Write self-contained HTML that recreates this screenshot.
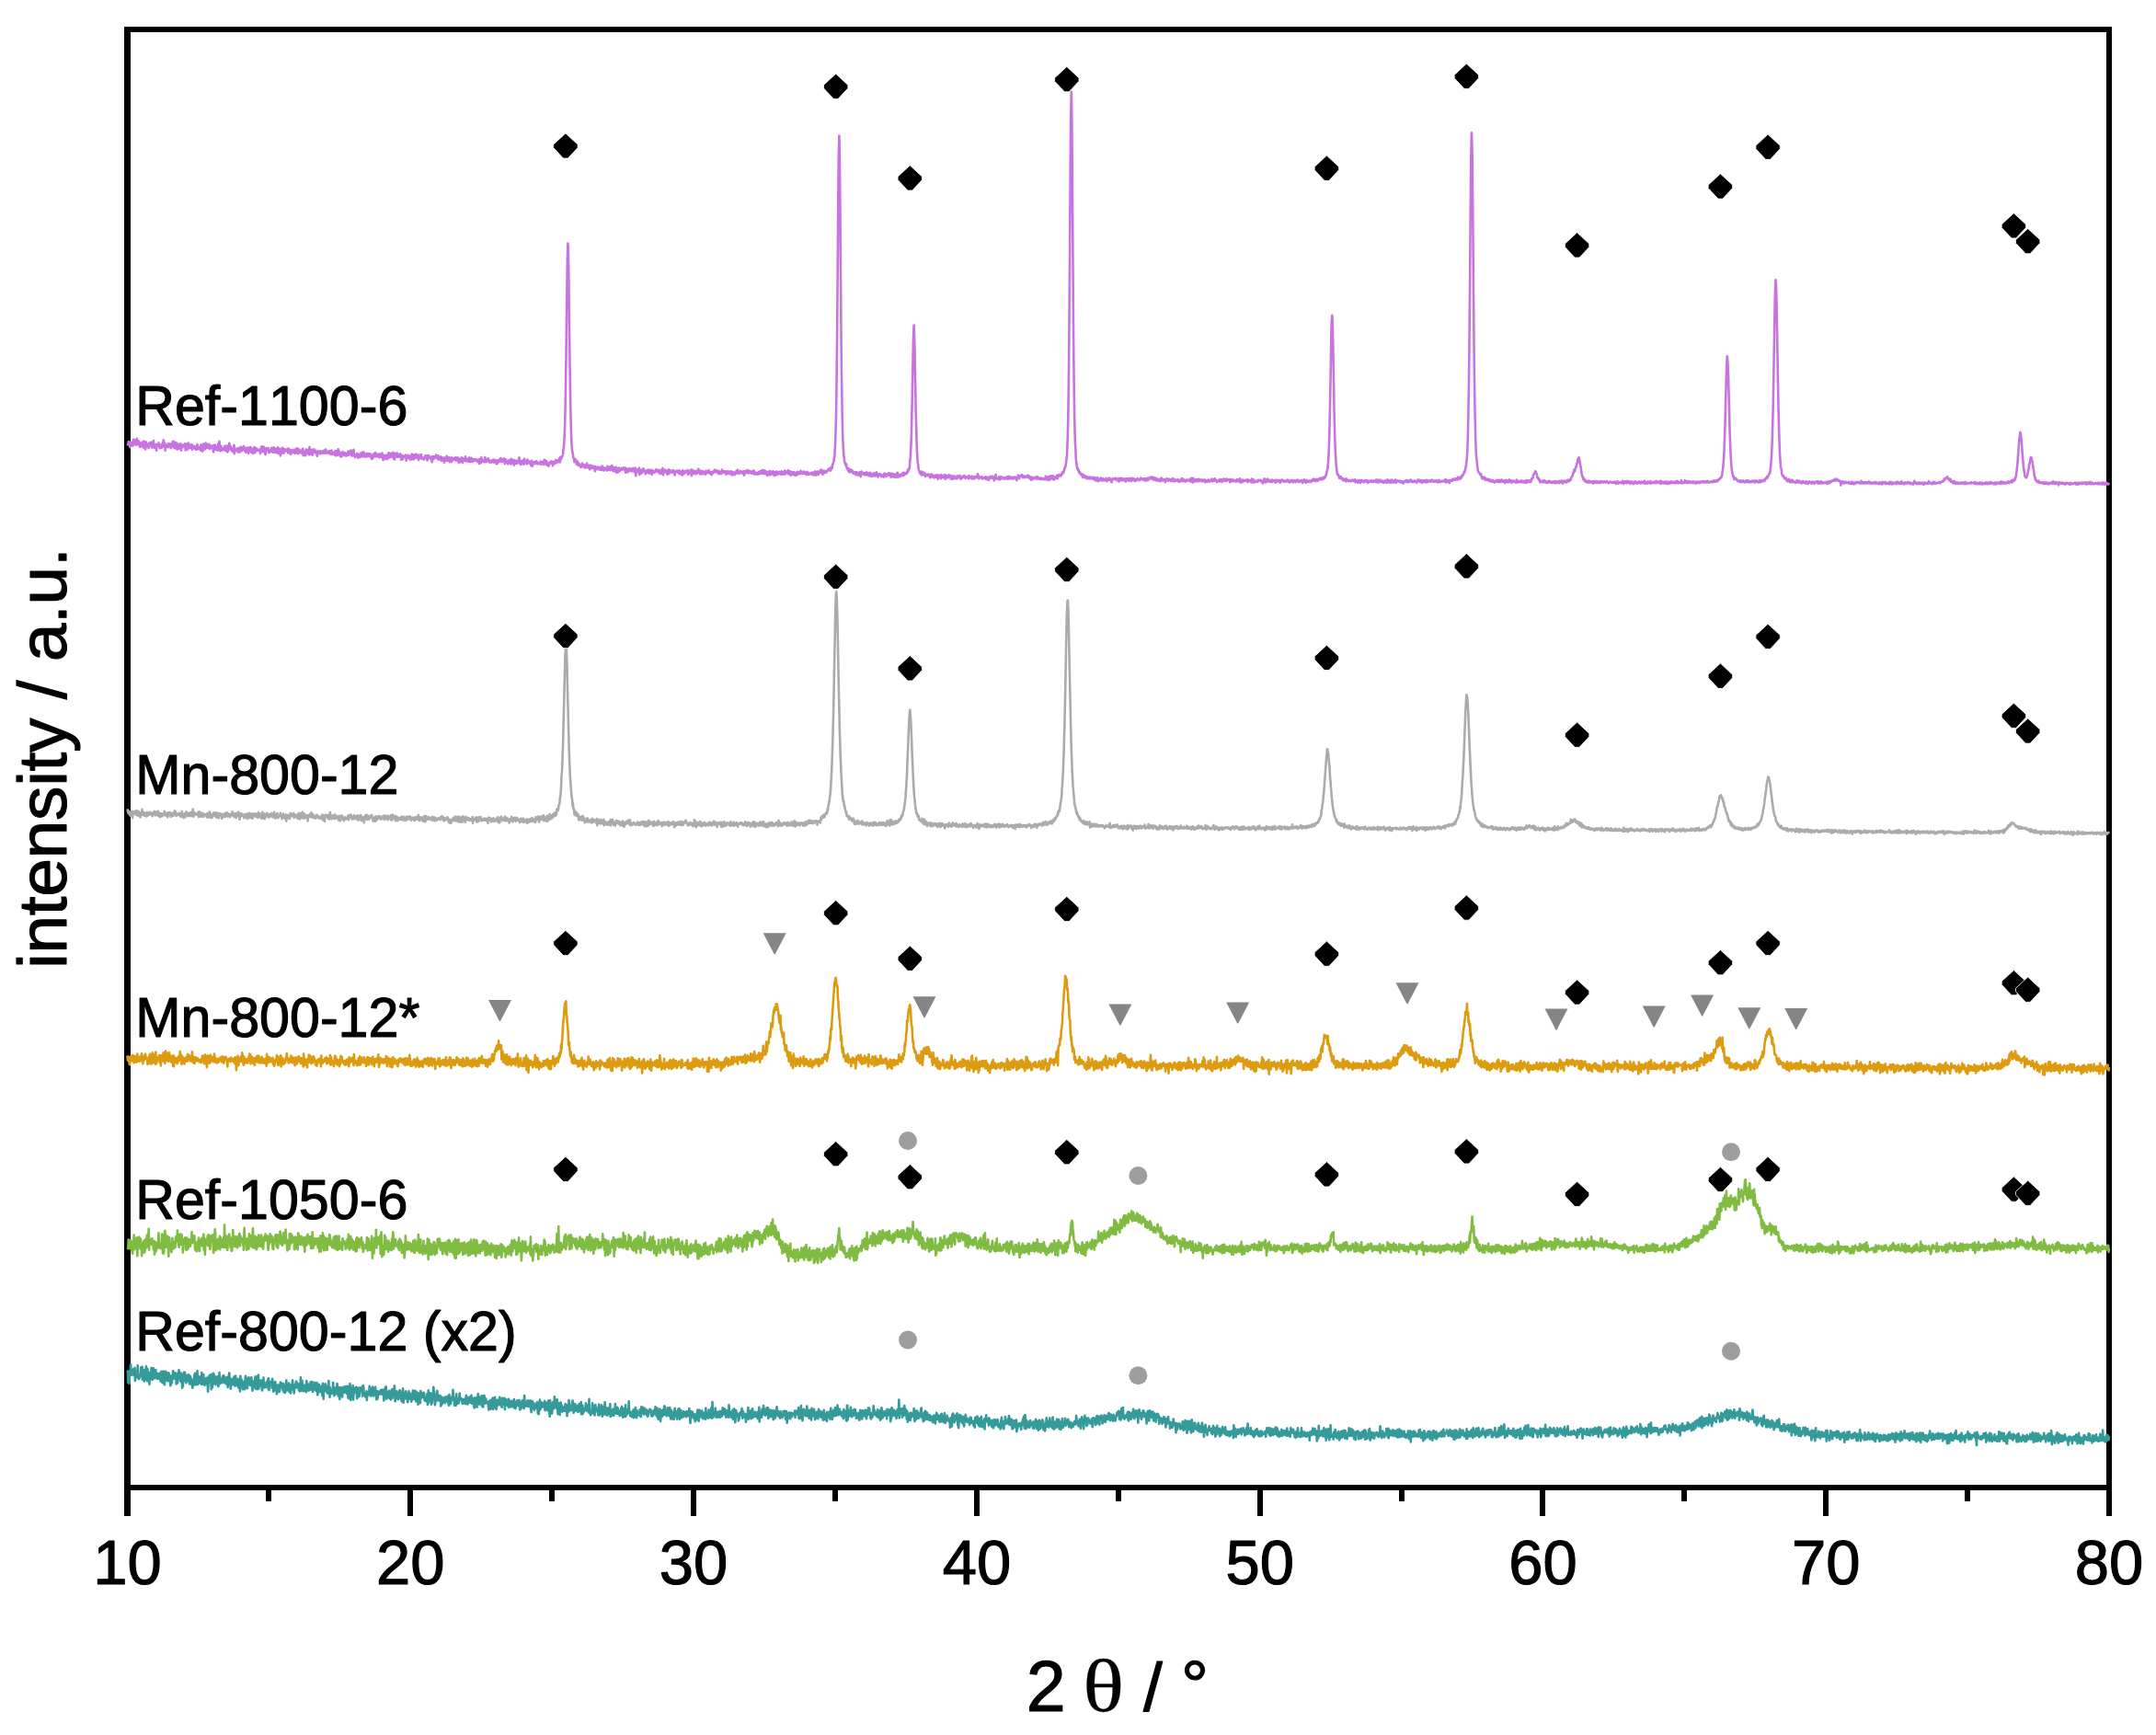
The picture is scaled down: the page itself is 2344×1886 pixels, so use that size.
<!DOCTYPE html>
<html lang="en"><head><meta charset="utf-8"><title>XRD patterns</title>
<style>
html,body{margin:0;padding:0;background:#fff;}
body{width:2344px;height:1886px;overflow:hidden;}
svg{display:block;}
text{font-family:"Liberation Sans",sans-serif;fill:#000;font-kerning:none;stroke:#000;stroke-width:1.1px;stroke-linejoin:round;}
.c{fill:none;stroke-width:2.6;stroke-linejoin:round;}
.ser{font-size:59.2px;}
.tk{font-size:67px;text-anchor:middle;}
.ax{font-size:75px;}
</style></head>
<body>
<svg width="2344" height="1886" viewBox="0 0 2344 1886">
<rect width="2344" height="1886" fill="#fff"/>
<defs>
<path id="d" d="M0,-13.7 L13.2,-1.5 L13.2,2 L2.5,13.5 L-2.5,13.5 L-13.2,2 L-13.2,-1.5 Z" fill="#000" stroke="#fff" stroke-width="0.8"/>
<path id="t" d="M-12.5,0 H12.5 L0.5,23 H-0.5 Z" fill="#858585"/>
<circle id="o" r="10" fill="#9e9e9e"/>
</defs>
<g fill="#000">
<rect x="135" y="29" width="2161" height="6"/>
<rect x="135" y="1614" width="2161" height="6"/>
<rect x="135" y="29" width="7" height="1591"/>
<rect x="2290" y="29" width="6" height="1591"/>
<rect x="135" y="1617" width="7" height="31"/><rect x="443" y="1617" width="6" height="31"/><rect x="751" y="1617" width="6" height="31"/><rect x="1059" y="1617" width="6" height="31"/><rect x="1367" y="1617" width="6" height="31"/><rect x="1674" y="1617" width="6" height="31"/><rect x="1982" y="1617" width="6" height="31"/><rect x="2290" y="1617" width="6" height="31"/>
<rect x="289" y="1617" width="6" height="15"/><rect x="597" y="1617" width="6" height="15"/><rect x="905" y="1617" width="6" height="15"/><rect x="1213" y="1617" width="6" height="15"/><rect x="1521" y="1617" width="6" height="15"/><rect x="1828" y="1617" width="6" height="15"/><rect x="2136" y="1617" width="6" height="15"/>
</g>
<g>
<path class="c" stroke="#c773e0" d="M138.5,482.7l.4,.7 .4-1.4 .4-1.6 .4,1.1 .4-1.3 .4,2.7 .4,3.2 .4-4.6 .4-.3 .4,2.8 .4-.3 .4-.6 .4-2.6 .4,2.3 .4,1.8 .4-6.8 .4,4 .4-3.7 .4,1.6 .4-1.4 .4,4.1 .4-2.6 .4,3.9 .4-.3 .4-.8 .4-5.9 .4,5 .4,1.3 .4,.4 .4-4.1 .4,2.7 .4-1.3 .4,.5 .4,4.7 .4-4.7 .4,2 .4,2.3 .4-3.7 .4,1.2 .4,.6 .4-.1 .4-3.2 .4,3.3 .4,3.2 .4-7.2 .4,6 .4-1.8 .4-1.9 .4,6.6 .4-3.1 .4-4.8 .4,3.1 .4,1.3 .4-1.9 .4,2.2 .4-1.8 .4,1.8 .4,1.9 .4-5.2 .4,2.2 .4-1.6 .4,1.4 .4-3.2 .4,1.5 .4,1 .4,2.7 .4,.6 .4-6 .4,1.3 .4,3.6 .4-6.5 .4,3.8 .4,.9 .4,3.3 .4-1.3 .4-2.5 .4-.1 .4,.3 .4,6.2 .4-6.6 .4,.3 .4,1.7 .4-1.2 .4-.1 .4-2.3 .4,2.7 .4-1 .4,4 .4-1.3 .4-1.6 .4,1.7 .4-2.4 .4,3.4 .4-2.6 .4,1.5 .4-4.6 .4,4 .4-6.9 .4,1.2 .4,4.2 .4-1.4 .4,2.6 .4,5 .4-7.4 .4,.5 .4,2 .4,.7 .4-1.6 .4,0 .4,2.2 .4-.4 .4-3.7 .4,2.3 .4,.3 .4-2.6 .4,3.1 .4-2.6 .4,4.4 .4-1.9 .4-.2 .4-2.3 .4,1.8 .4-4.4 .4,2.1 .4,3.6 .4-6 .4,7.1 .4-6.1 .4,6 .4-3.8 .4,3.9 .4-1.6 .4-3.9 .4,6.6 .4,.5 .4-3.6 .4-.4 .4,.1 .4-1.8 .4,5 .4-3.9 .4,1.2 .4-1.8 .4,.5 .4-1.6 .4,7.5 .4-4.8 .4,2.7 .4-2.2 .4-1.7 .4,.9 .4-.5 .4,1.3 .4-.9 .4,.2 .4-2.5 .4,1.4 .4,5.8 .4-5.5 .4-.8 .4,3.2 .4,2.6 .4-6.7 .4,2.9 .4-1 .4-2.6 .4,5.9 .4-1.8 .4,.3 .4-1.9 .4,2.8 .4-2.3 .4,.9 .4-2.2 .4-.2 .4,5.9 .4-4.2 .4,1.8 .4-.7 .4-.9 .4-.2 .4,2.7 .4-2.2 .4,.4 .4,.4 .4,2.7 .4-1.1 .4-.7 .4-2.1 .4-1.9 .4,5.4 .4,0 .4-2.5 .4,1.6 .4,.6 .4,.1 .4,.2 .4-3.1 .4,4.5 .4-6.3 .4,4.9 .4-.9 .4,.9 .4,2.3 .4-.8 .4-6.1 .4-1.2 .4,5.8 .4-4.2 .4,2.3 .4,2 .4-5.7 .4-1 .4,5.4 .4-.5 .4-.6 .4,.7 .4-2.1 .4-1.4 .4,3 .4-1.8 .4-1.5 .4,4.9 .4-1.2 .4,1 .4-3.1 .4,0 .4,0 .4,.3 .4,2.5 .4-2.2 .4,2.5 .4,0 .4,3.8 .4-7.6 .4,5.1 .4-2.2 .4,.2 .4-3.2 .4,2.3 .4,2.7 .4-1.9 .4,.4 .4-.8 .4,3.3 .4-2.6 .4-4.9 .4,3.4 .4-2.8 .4-2.9 .4,6.1 .4,4.2 .4-2.9 .4-2.7 .4,.6 .4,4.6 .4-2.1 .4-.3 .4-.2 .4,.2 .4,1.8 .4-.6 .4-.7 .4-2.8 .4,3.5 .4-2.6 .4,3.9 .4-5.2 .4,2.5 .4,.3 .4-2.9 .4,6.8 .4-.6 .4-4.2 .4,2.7 .4-.8 .4-6.6 .4,6.3 .4-.6 .4,.3 .4-2.5 .4,1.8 .4,.2 .4,3 .4-1.9 .4-.7 .4,3.4 .4-4.5 .4,.3 .4-3.1 .4,9.2 .4-3.1 .4,0 .4-.6 .4-1.2 .4,.3 .4-1 .4,.1 .4,.6 .4,3.2 .4-2.1 .4-1.3 .4-1.1 .4-.1 .4,4.9 .4-2.4 .4-.9 .4-.9 .4-1.6 .4,2.2 .4,2.1 .4-2.7 .4,.3 .4,.1 .4,.7 .4-3.6 .4,2.9 .4-1.3 .4,3.7 .4-3.5 .4,2.9 .4,2.1 .4-4 .4-.6 .4,1.8 .4-.4 .4-2.1 .4,3.1 .4,3.3 .4-4.8 .4-.1 .4-1.5 .4,2.9 .4-3.3 .4,.3 .4,5.1 .4-4.7 .4,4.3 .4,.9 .4-2.6 .4,.6 .4,3 .4-4.5 .4-.9 .4-1.5 .4,2.9 .4,3.1 .4-1.1 .4-4 .4,.2 .4,.8 .4,1.7 .4-1.1 .4,.9 .4,.2 .4-1.2 .4,.6 .4,.5 .4-.6 .4,1.2 .4,2.9 .4-2.6 .4-1.1 .4-3.7 .4,4.4 .4-4.9 .4,1.2 .4,4.7 .4-.3 .4-1.7 .4-3.3 .4,2.8 .4-.6 .4,2.8 .4,3.4 .4-4.3 .4-2 .4-.8 .4,2.3 .4-.2 .4-2 .4,2.6 .4-2.6 .4,4.7 .4-.1 .4,.1 .4-3.2 .4,2.1 .4-1.3 .4-.6 .4,.2 .4-2 .4-.3 .4,4.6 .4-2 .4,.9 .4,1.6 .4-5.6 .4,2 .4,2 .4,.4 .4-1.5 .4,2.9 .4-1.7 .4-2.9 .4,.6 .4,3.6 .4-.7 .4-4.8 .4,6.7 .4-.9 .4,.9 .4-3.9 .4,.6 .4-1.7 .4,7.5 .4-5.5 .4,3.6 .4-4.5 .4,1.6 .4-3.7 .4,2.7 .4,2.7 .4-4.5 .4,4.8 .4-1.5 .4-2.8 .4,1.1 .4,.1 .4,.9 .4-1 .4-.5 .4,1 .4-1.4 .4-.5 .4,2.5 .4,1.9 .4-4.8 .4,3.1 .4-2 .4,0 .4,3.7 .4-2.7 .4,4.1 .4-4.6 .4,2.4 .4-1.5 .4-.8 .4,2.7 .4-1.5 .4,1.6 .4-1.3 .4-2.1 .4,2 .4,.4 .4,1.8 .4-3.7 .4,1.7 .4-3.3 .4,4.7 .4-3.4 .4-1.4 .4,3.5 .4,2.3 .4-5.2 .4,.9 .4,.7 .4-.8 .4,3.1 .4-2.4 .4,.2 .4,2.6 .4-2.6 .4,2.4 .4-2.8 .4-.5 .4-1.2 .4,7.4 .4-4.3 .4,1.1 .4-.5 .4,.4 .4-.2 .4,3.7 .4-5.8 .4-1 .4,1 .4-.6 .4,4.2 .4,.1 .4-3.5 .4-.8 .4,2.1 .4,3.4 .4-8.3 .4,6.6 .4-3.1 .4,4.2 .4-4.1 .4,1.5 .4-2.4 .4,1.1 .4,4.7 .4-1.1 .4-2.4 .4-.9 .4-2 .4,3 .4,.7 .4-.1 .4,0 .4-2 .4,2.1 .4,.1 .4,2.6 .4,1.1 .4-3.9 .4-1.2 .4,1.4 .4-1 .4-.3 .4,1.4 .4-1.9 .4,3.2 .4-1.3 .4,.7 .4-.9 .4-1 .4-.4 .4,1.4 .4-.6 .4,1.5 .4-.4 .4-2.6 .4,2.8 .4-2.7 .4,1.4 .4,.6 .4-3.4 .4,4.2 .4,.1 .4-.5 .4-.5 .4,.1 .4-1.2 .4,1.4 .4-.5 .4,1.3 .4-2.5 .4,2.8 .4-.2 .4-.5 .4-.6 .4,2 .4-4.3 .4,4.1 .4-.4 .4,.1 .4,.6 .4-2.3 .4,.7 .4,1.8 .4-.4 .4-.4 .4-3.3 .4,3.9 .4,1.3 .4-.3 .4-1.5 .4-3.4 .4,4.8 .4-2.1 .4-4.5 .4,5.6 .4-3.6 .4,.4 .4,1.3 .4,3.7 .4-3.1 .4,1.2 .4,2.8 .4-.3 .4-3.2 .4-.2 .4-1.9 .4,1.1 .4,2.1 .4,0 .4-.5 .4,1.6 .4-3.3 .4,1.4 .4,1.5 .4-.3 .4,1 .4-1.3 .4-1.3 .4,1.3 .4-2.6 .4-1.1 .4,4.2 .4-1.2 .4,.7 .4-3.8 .4,2.6 .4-.5 .4-.4 .4-2.6 .4,3.6 .4,2.3 .4-.9 .4-1.9 .4,1.2 .4,1.4 .4-6.5 .4,4.8 .4,1.4 .4,.3 .4,1.9 .4-1.1 .4-1.5 .4,0 .4,.9 .4-2.4 .4,.9 .4,1.8 .4,2 .4-3.9 .4,.2 .4,.5 .4,2.1 .4-2.5 .4,2.8 .4-4.5 .4,1.5 .4,0 .4,1.8 .4,.5 .4-4.7 .4,1.1 .4,2.3 .4-1.8 .4-1.6 .4,4.8 .4-.5 .4-.5 .4-1.7 .4,2.7 .4-2.3 .4,2.5 .4-3.7 .4,.1 .4,2 .4-1.6 .4,2.5 .4-.7 .4-2.2 .4,1.9 .4-.8 .4,2.4 .4-2.9 .4,.4 .4,3 .4,1.9 .4-.4 .4-3.5 .4,.3 .4,2.4 .4-3 .4-1.5 .4,2 .4,.6 .4-2.3 .4-1.5 .4,.4 .4,3.9 .4-2.6 .4,1.1 .4,.7 .4,.8 .4-1.7 .4,1.5 .4-2.5 .4,1 .4-1.2 .4,3.9 .4-2.1 .4-1.2 .4,.7 .4,.2 .4,1.7 .4-4.1 .4,1 .4,1.2 .4,5.3 .4-2.8 .4-1.9 .4,1.5 .4,2.4 .4-4.1 .4-.2 .4,2.8 .4-1.2 .4,.3 .4-2.1 .4,4.4 .4-.4 .4-2 .4,.2 .4-4.8 .4,5.3 .4-2 .4,1.1 .4,.5 .4-1.8 .4-2.4 .4,3.7 .4-2 .4,.8 .4-.5 .4,.5 .4-3.5 .4,6.3 .4-1.7 .4,1.6 .4,1.5 .4-3.4 .4-3.3 .4,1.7 .4-.6 .4,1.3 .4,1.1 .4-3.7 .4,4.2 .4-3.3 .4,3.2 .4-.7 .4-.3 .4,.4 .4-.8 .4-.1 .4-1.9 .4,3 .4,3.3 .4,.3 .4-1.2 .4-1.1 .4-2.4 .4,3.8 .4-2.7 .4,0 .4-.3 .4,.7 .4-.9 .4,.6 .4-1.8 .4,1.3 .4,4.7 .4-4.1 .4-.3 .4,1.4 .4,.3 .4-3.2 .4,1.6 .4,2 .4-1.1 .4-.2 .4,2.5 .4-3.9 .4,1.4 .4-1.1 .4,3.6 .4-6 .4,2.2 .4,.3 .4,2.1 .4-.1 .4,1.4 .4-5.2 .4,4.1 .4-1.8 .4-.6 .4,2.1 .4-2.5 .4-2 .4,3 .4-2 .4,1.5 .4,1.8 .4-.1 .4,2.3 .4-3.1 .4-2.3 .4,1.4 .4-.3 .4-.5 .4,2.9 .4-1.9 .4-2.2 .4,4.6 .4-1.5 .4,.9 .4-.4 .4,.9 .4-.9 .4,2 .4-1.4 .4,0 .4,.1 .4-3.2 .4,2.2 .4-.1 .4,.8 .4-2.7 .4,5.2 .4-2.6 .4-2.3 .4-.8 .4,2.5 .4,.3 .4-1 .4,1.4 .4-1.3 .4,2.1 .4-2.2 .4,1.2 .4,1.8 .4,2.7 .4-6.1 .4,1 .4-.7 .4,2.8 .4-3.2 .4,1.1 .4,.8 .4-1.6 .4,.1 .4,.8 .4-2.7 .4,1.1 .4,1.8 .4,.9 .4-.5 .4-2.7 .4,2.3 .4,2.1 .4-.4 .4-1 .4-1.4 .4,2.6 .4-2 .4-1 .4,.6 .4,3.8 .4-2 .4,1.6 .4-2.7 .4,2.4 .4-2.6 .4,.8 .4,4.4 .4-2.9 .4-2.1 .4,.8 .4,.7 .4,1.5 .4-2.9 .4-2 .4,2.4 .4,.5 .4,.2 .4,2 .4-1.6 .4,.8 .4-3.1 .4,4 .4,1.3 .4-2.1 .4-.9 .4-.1 .4,2.7 .4-4.5 .4,1.4 .4,.9 .4,.5 .4-1.9 .4,1.2 .4-.9 .4,.7 .4-.4 .4-1.7 .4,1.9 .4,1.5 .4-3 .4,1.2 .4,1.5 .4-2.8 .4,2 .4-2 .4,3.6 .4,2 .4-.5 .4-3.6 .4,1.6 .4-1 .4,0 .4,2.4 .4-4.7 .4,3.9 .4-1.8 .4,3.5 .4-3.1 .4-1.4 .4,1.6 .4,.8 .4-1.2 .4,.8 .4-1.6 .4-2.6 .4,4.9 .4-.3 .4-.9 .4-.1 .4,1.6 .4-2.4 .4-.4 .4,.9 .4,2.2 .4-4.1 .4,4.2 .4-3 .4-.7 .4,3.8 .4-2.1 .4-2 .4,1.6 .4,2.1 .4,.4 .4-2.6 .4,1.4 .4,.5 .4-2.2 .4,1.7 .4-.6 .4-.8 .4,.1 .4,.9 .4-.1 .4-.9 .4,.2 .4,2.5 .4-1.4 .4,1.1 .4,.5 .4-.9 .4,2.7 .4-5 .4,2.7 .4-1.8 .4,3.5 .4-.3 .4-5.8 .4,.8 .4,3.4 .4,.3 .4-.1 .4-1.3 .4,.9 .4,.3 .4-1.1 .4,1.8 .4-5.3 .4,4.7 .4-2.7 .4,3.2 .4-1.9 .4-1 .4,2 .4-2 .4,0 .4-1 .4,2.5 .4,.8 .4,.9 .4-1.8 .4,1.9 .4-1.7 .4-.1 .4,1.1 .4,.7 .4-2.1 .4,.1 .4,.2 .4,.4 .4-1.6 .4,3.1 .4-2.2 .4,1.3 .4-2 .4,1.9 .4,.1 .4-1.3 .4,3.9 .4-2.6 .4,2.2 .4-1.2 .4-2.5 .4,.4 .4,1.3 .4-.6 .4,0 .4-.5 .4-2.3 .4,2.5 .4-3.1 .4,4 .4-1.7 .4,.1 .4,.8 .4,.7 .4-2.6 .4-.4 .4,1 .4-1.5 .4,1.7 .4,4 .4-4.1 .4,2.7 .4-3.1 .4,2.6 .4-1 .4,.5 .4,.9 .4,1.9 .4-2.4 .4-.1 .4-1.7 .4,2.4 .4-1.2 .4,1.7 .4-1.4 .4,2.8 .4-5.7 .4,2.6 .4,1.8 .4-1.8 .4-.7 .4,.8 .4-1.7 .4,2.3 .4,3.6 .4-2 .4-3.4 .4,.4 .4,.7 .4,2.2 .4-2.8 .4,.3 .4,2.4 .4,0 .4-1.9 .4-1.1 .4-.7 .4,1.3 .4-3.9 .4,6.2 .4-2.1 .4,1.7 .4,2.1 .4-1 .4-3.5 .4,3.1 .4,.4 .4-2.8 .4-.3 .4,1.2 .4-2.2 .4,4.7 .4-5.9 .4,2 .4,1.3 .4,.1 .4,.6 .4,.2 .4-.8 .4,2.1 .4-4.9 .4,3.2 .4-1 .4,1.2 .4,.2 .4-1.7 .4,.4 .4,2.2 .4-.7 .4-1.5 .4,4.1 .4,.4 .4-5.6 .4,2.6 .4,3.3 .4-2.5 .4-.8 .4-.7 .4-.4 .4,.5 .4-.5 .4,1.9 .4-1.7 .4,0 .4-1.1 .4,1.7 .4-1.3 .4,1.1 .4,1.8 .4-1 .4,.2 .4-.2 .4-.4 .4-.3 .4-.2 .4,1.6 .4-2.7 .4,3.5 .4-1.9 .4-1.1 .4,.4 .4-.3 .4,1.2 .4-1.2 .4,2.7 .4-2.8 .4-2.2 .4,2.2 .4-1.8 .4,2.9 .4,1.6 .4-.6 .4-2.9 .4,.8 .4,3.7 .4-2.1 .4-.5 .4,1.5 .4,2 .4-1.7 .4-1.7 .4,.3 .4,.4 .4-2.2 .4-.3 .4,1.6 .4-1.4 .4,1.2 .4,.2 .4,3.2 .4-4.6 .4,1 .4-.1 .4,.8 .4,.8 .4-2.3 .4-.5 .4-1.3 .4,.9 .4,2.1 .4-.9 .4-1.6 .4,.8 .4,.4 .4,.5 .4-1.8 .4,.3 .4-2.5 .4,.6 .4,3.6 .4-5.8 .4,2.2 .4,.2 .4-1.5 .4-1.4 .4,.1 .4-1.2 .4-1.8 .4-5 .4-1 .4-6.2 .4-7.3 .4-10.1 .4-15 .4-20.5 .4-28 .4-28.6 .4-32.8 .4-32.1 .4-25.5 .5-16.6 .3,3.5 .4,19.6 .4,25.3 .4,35.3 .4,31.6 .4,29.7 .4,22.6 .4,20.4 .4,15.4 .4,11.4 .4,7.1 .4,3.1 .4,3 .4,1.3 .4,3.4 .4,.3 .4,2.2 .4,2.5 .4-1.9 .4-1.5 .4,1.5 .4-.4 .4,.8 .4,3.9 .4-1.2 .4-2.2 .4,3.4 .4,1.1 .4-2.1 .4-.2 .4,.7 .4,1 .4,.7 .4,.9 .4,1.1 .4-.8 .4,.4 .4-.9 .4-3 .4,2.1 .4,.8 .4-.9 .4,1.9 .4-1.7 .4-.7 .4,3.4 .4-1 .4-.5 .4,1.1 .4,.2 .4-.9 .4-3.9 .4,2.6 .4,.3 .4-.6 .4,1.7 .4,1.5 .4-2.4 .4-.8 .4,4.5 .4-3.4 .4-1.1 .4,2.1 .4,.4 .4-1.6 .4,2.2 .4-1.8 .4-.6 .4,1.6 .4,.9 .4-1.9 .4,1.4 .4-.6 .4,4.2 .4-5 .4,3 .4-2 .4,0 .4,1.2 .4,.3 .4,.6 .4-1.3 .4-1.3 .4,.1 .4,1.5 .4,.2 .4,1.2 .4-1.4 .4,1 .4,.6 .4-1.8 .4-2.3 .4,.5 .4-.4 .4,4.3 .4-3.4 .4,3 .4-.9 .4,1.6 .4-.9 .4-1.6 .4-.1 .4,.5 .4,.1 .4-.9 .4,.7 .4,2.4 .4-4.7 .4,2.8 .4-1.6 .4,1.6 .4,.9 .4-1.2 .4,1.2 .4-3.3 .4,3.8 .4-2.3 .4,1.7 .4-.6 .4-3.8 .4,2.1 .4,1.9 .4,1.9 .4-1.7 .4-.1 .4-2.2 .4,3.9 .4,.6 .4-2.4 .4-.4 .4-1.9 .4,3.5 .4,2.6 .4-2.7 .4,.8 .4-1 .4-2.1 .4,4.2 .4-4.5 .4,1.5 .4,.7 .4,.9 .4-.7 .4,0 .4-1.5 .4-.7 .4,1.9 .4-1.1 .4-.8 .4,.1 .4,1.1 .4-1.8 .4,.7 .4-.4 .4,2.6 .4,.3 .4,2.3 .4-4.8 .4,1.1 .4,2.3 .4-1.6 .4-.1 .4,2.9 .4-2.9 .4-1.1 .4-.1 .4,2.3 .4,0 .4-2.3 .4,.5 .4,2.2 .4,.1 .4-1.7 .4,1.8 .4-.1 .4-3.2 .4,2.1 .4,1 .4-1.3 .4-2.1 .4,2.6 .4,1.4 .4,1.2 .4-5.2 .4,8.5 .4-7 .4,2.9 .4,.5 .4-.4 .4-1.1 .4-1.8 .4,2.5 .4-1.8 .4-2.4 .4,7.4 .4-2.9 .4,1.5 .4-3.7 .4,3.3 .4,.2 .4,0 .4-2.2 .4-1.6 .4,1.5 .4-2.8 .4,.7 .4,2.5 .4-1.5 .4,1.2 .4,.1 .4,2.8 .4-.9 .4-1.8 .4,1.7 .4-2.7 .4,.6 .4,1.7 .4-2.9 .4,1.3 .4-1.4 .4,2 .4,2 .4-3.7 .4,1.8 .4-1.5 .4-.3 .4-.2 .4,3.7 .4,1.3 .4-2.6 .4-1.6 .4,1.9 .4-1.4 .4,1.6 .4-.7 .4,0 .4,.4 .4-1.6 .4,.2 .4-1.7 .4,1.7 .4-1.3 .4,1.7 .4-1.1 .4,1.5 .4,.5 .4-2.6 .4,.8 .4-.1 .4,2.3 .4,1.3 .4-1.2 .4-1.6 .4,2.5 .4-4.1 .4,4.1 .4-2.9 .4-2.9 .4,7.4 .4-1.5 .4-3.5 .4,1.6 .4-.5 .4,.5 .4-2.2 .4,1.1 .4,1.6 .4-.3 .4,1.3 .4-1.5 .4,3 .4-4.1 .4,1.3 .4-2.9 .4,.9 .4,3.5 .4-3.1 .4,2 .4-.8 .4-1.3 .4,.9 .4-.2 .4,.1 .4,1.6 .4-.1 .4-1.6 .4-1.1 .4,2.2 .4-.5 .4,1.5 .4,2.2 .4-2.4 .4-1.2 .4-.1 .4-1 .4,0 .4-.1 .4,.8 .4-.1 .4,1.6 .4-1.5 .4,.3 .4-1.4 .4,3.8 .4-1.5 .4,1.7 .4-1.3 .4,1 .4-2.4 .4,1.3 .4,2.7 .4-5.3 .4,3.3 .4,.7 .4-1.7 .4,.4 .4,.7 .4-2.6 .4,1.5 .4-1.8 .4,.3 .4,.1 .4,.6 .4,.4 .4,.5 .4-2.6 .4,4.7 .4-1.2 .4-.5 .4-1.5 .4,.3 .4,.9 .4-.2 .4-2.8 .4,3.3 .4,3 .4-6.5 .4,3.9 .4-.9 .4-.6 .4,2 .4-3.5 .4,1.9 .4,1.7 .4-2.2 .4-.3 .4,.7 .4-.8 .4,2.8 .4-3.4 .4,2.5 .4-2.9 .4,2.6 .4-1.1 .4-3.3 .4,3.5 .4-1.5 .4,.9 .4,2.7 .4-3.6 .4,.1 .4,3.4 .4-1.8 .4,1.9 .4-1.6 .4-1.7 .4,1.2 .4,1.7 .4-.4 .4-1.2 .4,0 .4-.2 .4-.6 .4,3.4 .4-2.6 .4-1.5 .4,.9 .4,1.6 .4-.1 .4-1.1 .4-.7 .4,1 .4-2.3 .4,.5 .4,2.8 .4-1.7 .4,1.2 .4,1.1 .4-.8 .4-.8 .4,2.8 .4-1.9 .4-1.4 .4,1.5 .4-.5 .4-1.7 .4,1.3 .4-.3 .4-2.4 .4,2.4 .4-.2 .4-.2 .4-1.6 .4,1.8 .4,.4 .4,.2 .4-1.7 .4,2.4 .4-2.5 .4,1.4 .4,2 .4-2.7 .4,.3 .4,2.1 .4-1.9 .4,.1 .4,.7 .4,1.1 .4-4.4 .4,1.9 .4-.2 .4-.1 .4,.3 .4,0 .4,1.5 .4-1.6 .4,1.4 .4,.4 .4-1.5 .4,1.1 .4,2 .4-1.7 .4-1.3 .4,.8 .4-1.1 .4,1.5 .4,.8 .4-2.2 .4,.8 .4,1.8 .4-2.2 .4,1 .4-1.6 .4,.2 .4,.4 .4,3.6 .4-3.4 .4-.1 .4-.1 .4,.5 .4,1.1 .4-.6 .4,2.4 .4-2.4 .4,1.7 .4-1.6 .4,.5 .4-2.7 .4,1.7 .4,.1 .4-.2 .4-2.5 .4,4 .4-1.7 .4,0 .4,.2 .4,0 .4,.9 .4-2.2 .4,.4 .4,1.6 .4-.2 .4-.6 .4-.3 .4-.3 .4,1 .4,1.6 .4-2.9 .4,4.3 .4-1.8 .4-1.7 .4,1.6 .4-2.9 .4-.3 .4,.6 .4,1.1 .4,.1 .4-.2 .4,.8 .4-2.9 .4,3.4 .4-2.5 .4,1 .4,.3 .4-.9 .4-.3 .4,.5 .4,1.3 .4,.7 .4,0 .4-2 .4,.3 .4-.2 .4,1.8 .4-3.2 .4,4.2 .4-2.2 .4-.4 .4,1.5 .4,.8 .4-.8 .4,.9 .4-1.2 .4,1.4 .4,0 .4-1.7 .4,2 .4-1.6 .4-.1 .4-1.3 .4,.8 .4,1.4 .4-2.7 .4,2.5 .4-.4 .4-.1 .4-3.1 .4,2.7 .4,.9 .4-1.8 .4,1.1 .4-3.1 .4,3.9 .4-1.7 .4,1.9 .4-3.4 .4,3.2 .4-1.2 .4,1.4 .4-2.2 .4,.4 .4,3.6 .4-3.9 .4,.2 .4,.5 .4-.9 .4,2.8 .4,.7 .4-3.1 .4-1.3 .4,3.7 .4-.1 .4-.4 .4,.5 .4-2.6 .4,.9 .4-1.5 .4-.1 .4,3.1 .4-2.1 .4,3.7 .4-2.8 .4-.9 .4,1.9 .4,1.2 .4-1.6 .4-2.2 .4,2 .4,1.3 .4-2.4 .4-.3 .4,2.3 .4-1.1 .4-1.6 .4,.9 .4-.5 .4,1.4 .4-.3 .4,1.3 .4-.5 .4-2.9 .4,2.5 .4,.6 .4-.5 .4,.7 .4-2 .4-.5 .4,2.4 .4-2.5 .4-1.4 .4,4 .4-2.2 .4,.6 .4-1.4 .4,.1 .4,.2 .4,1 .4,.9 .4-3.3 .4,3.8 .4-2.4 .4,.1 .4,2.2 .4-.9 .4-1.9 .4,4.3 .4-3.4 .4,1.4 .4-.1 .4,1.5 .4-2.6 .4,2.1 .4-2.1 .4,2.3 .4-2.4 .4,.5 .4,2.9 .4-2 .4-.3 .4,2.7 .4-2.4 .4-1.4 .4,1.9 .4-2.4 .4,2.9 .4,.1 .4-2.2 .4-.1 .4,1 .4-.2 .4-1.2 .4,1.9 .4-3.3 .4,2 .4,.1 .4,.1 .4,.8 .4-1.9 .4,2.2 .4-.9 .4-.6 .4-.9 .4,.2 .4,1.9 .4-1.6 .4,1.2 .4,1.3 .4-.1 .4,.7 .4-2.3 .4-1 .4,2.6 .4-.9 .4,1 .4-1.4 .4,1.5 .4-.5 .4-.1 .4-.3 .4-.1 .4-.3 .4,0 .4,1 .4-1.9 .4,2.8 .4-2.3 .4,1.3 .4-1.3 .4-.3 .4,2.8 .4-2.9 .4-1.2 .4,.7 .4,.5 .4,3 .4-2.4 .4,.8 .4-2.4 .4,1.7 .4,.3 .4,1.4 .4-3.1 .4,1.5 .4-.4 .4-1.6 .4,1.2 .4-.4 .4-2.6 .4,3.6 .4-.2 .4-1.2 .4-1.2 .4,4.3 .4-2.5 .4,.9 .4,.4 .4-2.8 .4,1.9 .4-1.4 .4,.1 .4-.2 .4,0 .4,1.2 .4-1.4 .4-.5 .4-.3 .4,.5 .4-1.7 .4,.2 .4,.3 .4-1 .4,.2 .4-1 .4,2.8 .4-1.3 .4-1.7 .4-1.3 .4,2 .4-3.1 .4-1.5 .4-.8 .4-1.4 .4-.6 .4-4.2 .4-.9 .4-8.7 .4-5.5 .4-13.1 .4-12.7 .4-25.2 .4-30 .4-37.2 .4-45.3 .4-53.2 .4-48.9 .4-43.2 .6-26.3 .2,2.6 .4,23.5 .4,40.9 .4,50 .4,50 .4,47.6 .4,40 .4,26.5 .4,25.2 .4,16 .4,12.4 .4,5.8 .4,6.2 .4,2.4 .4,4.7 .4,1.2 .4,1.2 .4,1.9 .4,.3 .4-1.6 .4,4.3 .4,.3 .4,0 .4,1.9 .4,.8 .4-2.4 .4,.8 .4,3.1 .4,.2 .4-2.4 .4-.2 .4,.9 .4,0 .4-.8 .4,2.1 .4-1.4 .4,.3 .4,2.7 .4-1.8 .4,.8 .4,1 .4,.3 .4-1.3 .4,.6 .4-1 .4,3.2 .4-1.2 .4-2.1 .4,1.4 .4,1 .4-.3 .4,1.7 .4-.5 .4-2.2 .4,.6 .4-1.4 .4,1.9 .4-.1 .4,3.1 .4-3 .4-2.6 .4,1.7 .4,1 .4-1.6 .4,.5 .4,.6 .4,.9 .4-.6 .4-.8 .4,2 .4-1.5 .4,.1 .4-1.1 .4,.8 .4,1.7 .4-2.7 .4,1.9 .4,1 .4-1.3 .4,.8 .4-1.6 .4,2.9 .4-.3 .4-1 .4-2.3 .4,.9 .4,2.4 .4,.9 .4-1.7 .4,1.2 .4-2.2 .4,.5 .4,.2 .4,.6 .4-2.3 .4,2.9 .4,.5 .4-2.9 .4-.3 .4,2.1 .4-1.2 .4-2 .4,3.8 .4-.8 .4-.7 .4,3 .4-2.3 .4-1 .4,1 .4-1.3 .4,.3 .4,1.4 .4-1.1 .4,.1 .4,2.5 .4-.9 .4-.1 .4-.3 .4,0 .4,1.1 .4-1.7 .4,2.2 .4-3.8 .4,1.4 .4-1.3 .4,1.2 .4,1 .4,1.1 .4-2.5 .4,.8 .4-.4 .4-.4 .4-.6 .4,1.5 .4-2.1 .4,2.2 .4-.1 .4-.8 .4-1 .4,.2 .4,3.8 .4-3.8 .4,3.4 .4-.8 .4-1.4 .4-1 .4,2.6 .4,.8 .4-3.1 .4,.7 .4,1.6 .4-.7 .4,1.8 .4-3 .4,1.3 .4-2.1 .4,3.8 .4-3.3 .4-1.7 .4,2.4 .4,0 .4,2.3 .4-2.6 .4,.3 .4,.7 .4,1.1 .4-2 .4,1.3 .4-.7 .4-1 .4,.4 .4-.2 .4-1.1 .4,2.4 .4-3.2 .4,2.9 .4-.4 .4-1.4 .4-.9 .4,.4 .4,.6 .4,.1 .4-.8 .4,.5 .4-2.2 .4,.5 .4-2.6 .4,2.1 .4-1.5 .4-1.7 .4,.4 .4-2.7 .4-7.1 .4-1.3 .4-8.5 .4-6.6 .4-11.3 .4-20 .4-19.1 .4-22.4 .4-21.6 .4-19 .4-11.6 .3-5.1 .5,12.6 .4,14.5 .4,23.1 .4,23.5 .4,20.3 .4,15.8 .4,14.4 .4,10.9 .4,8.2 .4,6.6 .4,.8 .4,4.4 .4,1.9 .4,1.1 .4,.8 .4,1.9 .4-.6 .4,.9 .4,.1 .4,1.7 .4-3.9 .4,3.9 .4-1.5 .4,.2 .4-.6 .4-.9 .4,1.9 .4-.2 .4,1.5 .4-2.2 .4,3.5 .4-1.3 .4-.5 .4-.4 .4,0 .4-.3 .4,.7 .4,.7 .4-.2 .4-1.3 .4,1.3 .4-.6 .4,1.2 .4,2 .4-1.4 .4-1 .4-1.5 .4,.3 .4-.3 .4,2.8 .4-1.6 .4,.9 .4-.7 .4,.8 .4,1.5 .4-2.3 .4,.4 .4-.5 .4,1.9 .4-2.1 .4-.1 .4-.3 .4,0 .4,2.2 .4,2.4 .4-4.1 .4,2.3 .4-.8 .4-1.5 .4,.8 .4,.2 .4-.5 .4,3 .4-4.3 .4,2.6 .4-.1 .4-1 .4,.8 .4,.9 .4-.8 .4,.3 .4,.3 .4-3 .4,3.9 .4,.9 .4-1.4 .4,0 .4-2.7 .4,1.5 .4-.8 .4,.3 .4,1.7 .4-1.9 .4,.7 .4-2 .4,2 .4,.3 .4-.9 .4-.4 .4,3.4 .4-3.5 .4,.2 .4,.3 .4,2.2 .4,1 .4-1.9 .4-1.2 .4,.3 .4,1.7 .4-2.2 .4,2.7 .4-.1 .4-1.4 .4,.6 .4,.1 .4,.9 .4-2.9 .4,2.5 .4-1.9 .4-.2 .4,1 .4-.4 .4-.8 .4-.7 .4,.7 .4,2.7 .4,.6 .4-1.5 .4,.6 .4-1.8 .4,.5 .4,.4 .4-1.5 .4,.1 .4,1.2 .4-.5 .4-1.4 .4,2.2 .4-.7 .4,1.5 .4-1.2 .4-.3 .4,.5 .4-.3 .4-.6 .4,.3 .4,1.3 .4-.1 .4,.7 .4-3.2 .4,1.4 .4,0 .4,.6 .4-.6 .4-.1 .4,1.4 .4-.6 .4-1.5 .4,2.8 .4-.4 .4-1.7 .4,1.5 .4-1.7 .4,2.1 .4-1.5 .4-.6 .4,.5 .4-.5 .4,1.1 .4,0 .4-.2 .4-.6 .4-3.4 .4,4.1 .4-2.1 .4,2.3 .4,1 .4-1 .4-.7 .4,.3 .4,0 .4-.4 .4,0 .4-.4 .4,2.3 .4-1.3 .4,1.1 .4-1.3 .4,.3 .4-.2 .4,.7 .4,.4 .4-.7 .4-1 .4-.1 .4,2.7 .4-2.1 .4,0 .4,1.9 .4-.4 .4-.6 .4-1 .4,3 .4-2.1 .4,.2 .4-.8 .4-1.4 .4,.1 .4,1.9 .4,0 .4-.7 .4-1 .4-.2 .4,1.2 .4-1.2 .4,2.5 .4,.3 .4,1.8 .4-2.1 .4-1.6 .4-.3 .4-2.7 .4,3 .4,.5 .4,1.2 .4-.3 .4-.1 .4-.3 .4,.4 .4,.9 .4-2.7 .4,.7 .4-1 .4,3.2 .4-.3 .4-.6 .4-2.1 .4,1.5 .4-.5 .4,.4 .4-.3 .4,.8 .4-1 .4,1.3 .4-.5 .4-.7 .4,.2 .4-.3 .4,1.3 .4-1.1 .4,.6 .4-.8 .4-1.1 .4,2.5 .4-2.1 .4,2.3 .4-.7 .4-2.2 .4,.8 .4,.4 .4-.3 .4-.4 .4,2.1 .4-1.1 .4,.7 .4-.9 .4,.8 .4-1.1 .4,.8 .4,.6 .4-.6 .4-.5 .4-.7 .4,1.3 .4,.2 .4-.7 .4-.5 .4,1.3 .4,2 .4-3 .4,.6 .4,0 .4-3.2 .4,2.7 .4-1 .4,2 .4-1.9 .4-.7 .4,.4 .4,.2 .4-1 .4,.4 .4-1.6 .4,1 .4,.9 .4,1.2 .4-1.4 .4-.4 .4,1 .4-.1 .4,.9 .4-.5 .4-1 .4,.6 .4,.1 .4,.3 .4,.1 .4-.8 .4-1.2 .4,1.6 .4-1.2 .4,2.3 .4,0 .4-1.6 .4,2.5 .4,.3 .4-.8 .4,1.7 .4,.3 .4-3.2 .4,2.3 .4-.6 .4,0 .4,.6 .4-1.7 .4,.1 .4-.2 .4,.1 .4,.7 .4-1.4 .4,.4 .4,1.7 .4-.7 .4,.5 .4-2.4 .4,1.2 .4,.2 .4,.6 .4-.6 .4,1.6 .4-1.1 .4,.1 .4,0 .4,.7 .4-1.2 .4,1.6 .4-.7 .4-.3 .4-.1 .4,.5 .4,.5 .4,.4 .4-1.1 .4,.5 .4-.8 .4,1.2 .4-1.3 .4-2.2 .4,3.5 .4-1.2 .4-1.4 .4,1 .4-.7 .4,3 .4-1.6 .4-2.2 .4,2.2 .4-1 .4,2.3 .4-3.1 .4-1.2 .4,2.3 .4-.5 .4-.1 .4-1.8 .4,2.6 .4,1.2 .4-3.7 .4,3.1 .4-1.8 .4,2.9 .4-2 .4-.7 .4,1.2 .4-.7 .4-1.2 .4,1.2 .4-1.4 .4-1.4 .4,3.8 .4-2.6 .4-.4 .4,.8 .4-2.1 .4,0 .4,.6 .4-.2 .4,.3 .4,.8 .4-2 .4,.6 .4-.3 .4-2.1 .4,.8 .4-1.8 .4,1.4 .4-1.4 .4-1.3 .4-2.4 .4,.3 .4-2.3 .4-.2 .4-3 .4-3.6 .4-2.2 .4-6 .4-9.9 .4-10.9 .4-20 .4-25.9 .4-34.4 .4-45 .4-52.2 .4-57.1 .4-55.3 .4-47.8 .6-33.7 .2,5.4 .4,25.7 .4,47.9 .4,57.4 .4,57 .4,54.7 .4,42.2 .4,33.5 .4,28.7 .4,17 .4,12.9 .4,6 .4,9.8 .4,3.9 .4,2.9 .4,2.8 .4,2 .4-.4 .4,2.2 .4-.7 .4,1.3 .4,2.2 .4,0 .4-1.1 .4,2.2 .4-.1 .4-.2 .4,1.6 .4-.5 .4-.8 .4,.7 .4,3.1 .4-3 .4,1.9 .4,.6 .4,.2 .4-1.7 .4,1.1 .4,.6 .4,.8 .4-1.3 .4-.5 .4,2.3 .4,.2 .4-.6 .4-.9 .4,1.1 .4-.2 .4,.8 .4-2 .4,1.4 .4-.2 .4-.9 .4,1.3 .4-.1 .4-.4 .4,.9 .4-1.8 .4,1.4 .4,.5 .4-.1 .4,.8 .4-2.2 .4-.2 .4,1.7 .4,.3 .4,1.6 .4-1.4 .4-1.5 .4,1.7 .4-1.6 .4-.6 .4,4.1 .4-2.2 .4,.4 .4-.2 .4,1.3 .4-1.5 .4,.9 .4-2.2 .4-.3 .4,2.8 .4,.1 .4-1 .4-.2 .4-.1 .4-.8 .4,2.2 .4-.9 .4-.1 .4-.1 .4,.7 .4-.5 .4,.2 .4-1.9 .4,1.7 .4,1.6 .4-2.6 .4,.4 .4,1 .4,.1 .4-.3 .4-2.2 .4,2.1 .4-1.7 .4,.4 .4,1.4 .4-.9 .4,1.1 .4,2.3 .4-2.3 .4,0 .4-1.6 .4,.3 .4-.4 .4,.5 .4-.5 .4,.4 .4,.4 .4-1.2 .4,.1 .4,0 .4,1.8 .4-.4 .4,1 .4,0 .4-1.3 .4,.9 .4-2 .4,3.6 .4-1 .4-1.4 .4-.9 .4,1.5 .4-2.2 .4,1.1 .4,1.5 .4-.7 .4-.7 .4,1.6 .4-1.9 .4,1.3 .4-.8 .4-.3 .4,1.2 .4-1.3 .4,2.7 .4-2.3 .4,2.4 .4-2.9 .4,1.6 .4-1.7 .4-.1 .4,1.4 .4,.5 .4-1.9 .4,2.4 .4-1.9 .4,.9 .4,.2 .4,.2 .4-2.2 .4,3.2 .4-1 .4-.9 .4-.6 .4-.6 .4,.3 .4,1.8 .4-.8 .4-.8 .4,.6 .4,2 .4-1.8 .4-.2 .4,1.8 .4-.8 .4-.4 .4-.6 .4-.9 .4,.3 .4,.7 .4,.2 .4,.6 .4,.4 .4-.5 .4-.1 .4-1.1 .4-1.1 .4,1.5 .4-.4 .4,.3 .4,.3 .4-.9 .4,.1 .4,.9 .4,.3 .4-.8 .4,1 .4-.7 .4-.9 .4,.9 .4,1.7 .4-2.5 .4,1.6 .4,0 .4,0 .4-2.3 .4,2.5 .4-2 .4-.5 .4-.1 .4,.6 .4-.6 .4-.3 .4,1.3 .4-1.9 .4-.3 .4,1.8 .4,.1 .4,.5 .4-1.9 .4,2.2 .4-.4 .4,1.4 .4-2.7 .4,1.6 .4-.3 .4-1.1 .4,.9 .4,1.8 .4-1.4 .4-.4 .4,1.8 .4,.2 .4,.1 .4-1.6 .4,.7 .4,1 .4-1.5 .4-.1 .4,1.5 .4,.7 .4-2.5 .4-1.3 .4,1 .4,.5 .4,.8 .4,.7 .4-.7 .4-.5 .4,.8 .4-1 .4,.8 .4-.5 .4,3 .4-1.7 .4-1.5 .4-.6 .4,1 .4-1.1 .4,.8 .4,0 .4,1.5 .4-1.2 .4-.3 .4-.5 .4,.2 .4,1 .4-.1 .4,1.2 .4-1.6 .4,1.5 .4-.7 .4-.2 .4-1.9 .4,.1 .4,2.5 .4,.6 .4-1.1 .4,.5 .4-1.1 .4,.1 .4-.3 .4,1.5 .4-.6 .4-.5 .4-.1 .4,.8 .4-.2 .4-1 .4,2.3 .4-1.3 .4-.2 .4,1.3 .4-.4 .4-1 .4,.8 .4-1.7 .4,.4 .4-1.5 .4,3.2 .4-2.8 .4,2.3 .4-1.4 .4-.1 .4,.7 .4,.5 .4,.3 .4,1 .4-1.3 .4,.5 .4-1.3 .4,1.2 .4-.5 .4-.6 .4,.4 .4,0 .4,.2 .4,.2 .4-.8 .4-.2 .4,1.3 .4-2.2 .4,1 .4,2 .4-3.8 .4,1.8 .4,1.2 .4-2.1 .4,3.8 .4-4.6 .4,3.6 .4,.1 .4-.6 .4-1 .4,.5 .4-1.1 .4,1.9 .4-2.1 .4,.8 .4,1.1 .4-1.9 .4,.7 .4,.5 .4-1.4 .4,2.3 .4-.7 .4-1.7 .4,1.3 .4-.6 .4,.1 .4,.7 .4-.8 .4,1.5 .4-1.5 .4,1.5 .4-.9 .4,.8 .4-1.2 .4,0 .4-.5 .4,1.5 .4,.3 .4,1.1 .4-.8 .4-.9 .4-.4 .4,.5 .4-.3 .4,1.3 .4-.5 .4-1.5 .4,.1 .4,1.8 .4-.9 .4-.5 .4,1.3 .4-1.4 .4,.1 .4-.2 .4-1.3 .4,2.5 .4-1.8 .4,.5 .4-.1 .4,1.3 .4-.7 .4,.1 .4-2.3 .4,2.2 .4-1.2 .4,1.5 .4,.1 .4-.3 .4,1.8 .4-1.4 .4,.1 .4-.4 .4-.3 .4,1 .4,.2 .4-2.2 .4,2.1 .4-.5 .4,.4 .4-.4 .4-1.5 .4,.1 .4,2.6 .4-1.4 .4-1.4 .4,1.5 .4-.8 .4-1.1 .4-.4 .4,.6 .4,1.7 .4-.3 .4-.2 .4,.5 .4,.3 .4-2.4 .4,1.6 .4-.5 .4-.3 .4,.6 .4,.3 .4-.1 .4-1 .4,.8 .4,2.2 .4-2.7 .4-.5 .4,1.7 .4,.3 .4-.1 .4-1.4 .4,1.8 .4-1.5 .4-.3 .4,.4 .4,.5 .4,.7 .4-.1 .4-.5 .4,.8 .4-.7 .4,.7 .4-2 .4-.2 .4,2.1 .4-1.9 .4,.9 .4,.2 .4-.3 .4,0 .4,1.6 .4-3.4 .4,3 .4,1.2 .4-2 .4,0 .4,.7 .4,.9 .4-2.6 .4,1.1 .4-.2 .4,.6 .4-.3 .4,.4 .4-.9 .4,.4 .4-.6 .4-.3 .4,.7 .4,0 .4-.9 .4,2.4 .4-1.5 .4-1 .4,2.1 .4-1.6 .4,1.1 .4-.4 .4,.2 .4,0 .4-.7 .4,.5 .4,1.8 .4-3.8 .4,2 .4,.4 .4-1.3 .4-.3 .4,3.1 .4-2.2 .4,2.1 .4-1.3 .4-.4 .4,.3 .4,.2 .4,.4 .4-.6 .4-.2 .4,0 .4,1 .4-.5 .4-1.5 .4,.3 .4,.8 .4-.8 .4,.2 .4-.5 .4,.6 .4,.6 .4,.5 .4-.9 .4,1.8 .4-1.8 .4,2.8 .4-1.9 .4-.4 .4-.9 .4-2 .4,2.3 .4,.3 .4,1.5 .4-2.8 .4,2.8 .4-1.9 .4,.9 .4-2.8 .4,2.3 .4-.4 .4,.9 .4-.5 .4-1.1 .4,1.8 .4-.2 .4-.1 .4,.4 .4,0 .4-.9 .4-1.2 .4,0 .4,2.4 .4-.6 .4-.5 .4-.5 .4,.4 .4,0 .4-.3 .4-.3 .4,2.5 .4-1.7 .4-.7 .4-.6 .4,.5 .4,1.2 .4,.1 .4-.9 .4,.3 .4-.4 .4-.6 .4,2 .4-.8 .4,1.8 .4-2.7 .4,.5 .4,.9 .4-1 .4-1 .4,.4 .4,.9 .4,.2 .4-.4 .4,1 .4,0 .4-.6 .4-.3 .4-.2 .4,.9 .4,.1 .4-.7 .4,.3 .4-.7 .4-.9 .4,.4 .4,1.5 .4-.3 .4,1 .4-1.3 .4,.7 .4,.9 .4-.8 .4-1.4 .4,.4 .4,.2 .4-.9 .4,1.4 .4,.3 .4-1.3 .4,2.1 .4-1.9 .4,0 .4,0 .4-.4 .4,1 .4-.4 .4,1.4 .4-.9 .4,0 .4-.7 .4-1 .4,1.1 .4-.6 .4,1.5 .4-.8 .4,1.4 .4-.8 .4,.1 .4-.5 .4,0 .4,.3 .4,.3 .4-1.4 .4,1 .4,1.8 .4-2.3 .4-.2 .4-.4 .4-.6 .4,2.2 .4-.9 .4,.2 .4,1.3 .4,.5 .4-2.9 .4,1.7 .4-.4 .4-.2 .4,.1 .4-.5 .4,1.4 .4-.9 .4-.2 .4,.7 .4-.3 .4-.4 .4-.1 .4,1.2 .4-1.1 .4-.5 .4-.7 .4,.4 .4-.6 .4,1 .4,.1 .4-2 .4,1.7 .4,.5 .4-.4 .4-1 .4,1.8 .4-1.7 .4-.5 .4,.1 .4,.9 .4,.7 .4,.1 .4-.8 .4-1.3 .4,.4 .4-.3 .4,.5 .4-1.5 .4,1.5 .4,.3 .4-.8 .4,.4 .4-1.4 .4-.6 .4,.5 .4,1.3 .4-.4 .4-1.5 .4,1 .4-1.7 .4,1.1 .4-1.4 .4-1.4 .4,.3 .4-2.3 .4-1.4 .4-2.2 .4-1.1 .4-3.9 .4-5.2 .4-7.7 .4-8.5 .4-14.9 .4-17.1 .4-18.3 .4-22.3 .4-24 .4-23.2 .4-15.3 .5-6.8 .3,2.7 .4,14.1 .4,17.1 .4,24.5 .4,21.9 .4,22.8 .4,17.1 .4,15.8 .4,10.1 .4,7.9 .4,6.4 .4,4.7 .4,2.6 .4,3.9 .4,1.6 .4,.2 .4-.2 .4,1.4 .4,.1 .4,2.3 .4-.5 .4,.5 .4-.4 .4-1.1 .4,1.3 .4-.1 .4,1.5 .4-.1 .4-.6 .4,.5 .4,1.8 .4-2 .4,.2 .4,.6 .4-.3 .4,.3 .4,.9 .4,1.1 .4-2.9 .4,1.6 .4,.1 .4-.1 .4,0 .4-.1 .4,1.2 .4-1.2 .4,.3 .4,.2 .4,.1 .4-.2 .4,1 .4-.8 .4,.2 .4-.2 .4-.8 .4,.2 .4-.1 .4,1 .4-.7 .4-.3 .4,1.1 .4,.3 .4-1.9 .4,2.9 .4-1.4 .4-.1 .4,1 .4-.8 .4-.6 .4,2.4 .4-2.7 .4,.8 .4,.8 .4-1.6 .4,.8 .4,.4 .4,1.7 .4-2.7 .4,.7 .4,.6 .4-.5 .4-1 .4,1.3 .4-.2 .4,.3 .4,.5 .4,.4 .4-1 .4,0 .4-1.2 .4,.8 .4,.3 .4-.5 .4,.4 .4-.7 .4,1.9 .4,.5 .4-2 .4,.6 .4-.5 .4,1.2 .4-.6 .4-.3 .4-.3 .4,.3 .4-.9 .4,1.4 .4-1.2 .4,1.1 .4-.4 .4,.8 .4-.9 .4,.9 .4-1.6 .4,1.2 .4-.6 .4,.3 .4-.1 .4,.7 .4-2.4 .4,1.9 .4-1.5 .4,2.3 .4-2.6 .4,.8 .4-.6 .4,2.7 .4-2.4 .4,1.2 .4-.5 .4-1.1 .4,1.2 .4,.8 .4-.6 .4,.9 .4-1.1 .4,.3 .4-.3 .4,.6 .4,1.3 .4-1.3 .4-.1 .4-.7 .4-.1 .4,1.8 .4-2.1 .4,.2 .4,.7 .4-.3 .4,1.9 .4-3.5 .4,2.2 .4,.3 .4-1.5 .4,.4 .4,.9 .4,1 .4-2.1 .4-.5 .4,2.1 .4,.4 .4-1.5 .4-1.5 .4,3 .4-1.4 .4,1.1 .4-1 .4-.2 .4-.1 .4,1.6 .4-.1 .4-2.9 .4,1 .4,2.2 .4-1.7 .4-.8 .4,1.1 .4-.1 .4,0 .4-.3 .4,.1 .4-.1 .4,.7 .4-1 .4,.5 .4,.1 .4,1.2 .4-.8 .4-.4 .4,.5 .4-.1 .4,.6 .4-.5 .4,1.8 .4-1.1 .4-1.1 .4-.3 .4,1 .4-.3 .4-.5 .4-1.1 .4-.3 .4,1.8 .4,.3 .4,.1 .4-1.7 .4,1.9 .4-1.3 .4,.9 .4-.2 .4-.9 .4,.1 .4-1.2 .4,1 .4-.7 .4,1.8 .4-.3 .4,.7 .4-.5 .4-.8 .4,.8 .4-.6 .4,.8 .4-.2 .4-1.1 .4,.8 .4,.1 .4-.3 .4,.9 .4,.7 .4-1.7 .4,0 .4-1.5 .4,1.7 .4-.2 .4-1.4 .4,1.9 .4,.3 .4-1.1 .4,.3 .4-.5 .4,1.4 .4-1.8 .4,.8 .4,2 .4-1.6 .4,.4 .4-.5 .4-.9 .4,1 .4,.3 .4-1.1 .4,1 .4,.8 .4-.2 .4-2.1 .4,.5 .4-.5 .4,2.1 .4-.4 .4,.1 .4-1.3 .4-.2 .4,1 .4,0 .4-.8 .4,.8 .4,.4 .4-.3 .4-1 .4-.9 .4,1.5 .4,.3 .4-.3 .4-.2 .4-.2 .4,1.1 .4-.6 .4,.2 .4-.9 .4,.3 .4,.6 .4-1 .4-.2 .4,.8 .4,1.2 .4-.9 .4,1 .4-1.2 .4-.2 .4-.9 .4,.7 .4,1.6 .4-.9 .4,.3 .4,0 .4-.6 .4-.2 .4,.2 .4,.5 .4-.2 .4,0 .4-.3 .4-.7 .4,.3 .4-.5 .4,1.5 .4-2.5 .4,1.5 .4,2 .4-2.2 .4-.6 .4,.9 .4,1 .4-1.2 .4,.6 .4-.5 .4-.4 .4,2.8 .4-2.5 .4-.5 .4,0 .4,.6 .4,0 .4,.2 .4-.5 .4-1.3 .4,1.5 .4-.8 .4,0 .4-1 .4,.6 .4-.2 .4,.5 .4-1.2 .4,1 .4,0 .4-1.1 .4,.3 .4-.3 .4,1.2 .4-2.8 .4,1.5 .4-1.2 .4,.8 .4,.8 .4-1.4 .4,.3 .4-1 .4,1.9 .4-1.2 .4-.2 .4-2.3 .4-.3 .4,1.2 .4-1.5 .4-.7 .4-.3 .4-2.1 .4,.7 .4-1.8 .4-.9 .4-2.6 .4-1.1 .4-3.7 .4-2.5 .4-5.1 .4-7.7 .4-11 .4-14.8 .4-22.8 .4-23.6 .4-34 .4-39.2 .4-44.9 .4-47.6 .4-44.1 .4-35.7 .4-21.1 .2-5.2 .6,20.1 .4,36.4 .4,42 .4,49.1 .4,43.6 .4,39.8 .4,35.7 .4,28.1 .4,18.8 .4,18.1 .4,9.8 .4,9.4 .4,4 .4,3.2 .4,4.5 .4,2.5 .4,2.6 .4,1.1 .4,.4 .4,.2 .4,.7 .4,.9 .4,.2 .4,1 .4-1.2 .4,2.6 .4,.2 .4,2.4 .4-1 .4-.7 .4,1.1 .4-1.1 .4,.7 .4-.8 .4,2.8 .4-.5 .4-1.2 .4,1 .4,1 .4-.2 .4,0 .4-.9 .4,.3 .4,.7 .4,.7 .4-1.2 .4-.2 .4,1.9 .4-1.6 .4,1.7 .4-.6 .4,.5 .4,.8 .4-.8 .4,.1 .4-1.2 .4,.2 .4,1.1 .4,.7 .4-.1 .4,.8 .4-1.5 .4-.1 .4,.7 .4-.8 .4,0 .4-.7 .4,1.6 .4-1.6 .4,1.3 .4-1.5 .4,2 .4-1.6 .4,1.7 .4-2.1 .4,.9 .4,1.2 .4-1.5 .4,.7 .4-.4 .4-1.4 .4,2.1 .4,.2 .4-1.3 .4,1.3 .4-1 .4-.6 .4,1.2 .4-.5 .4,2.3 .4-2.9 .4,1.7 .4,.2 .4-2.2 .4,.2 .4,1.7 .4-.7 .4,.6 .4,.6 .4-1.1 .4-.6 .4-1.2 .4,2.2 .4-.8 .4,.9 .4,0 .4-1.3 .4,2.4 .4-.4 .4-.2 .4-1.6 .4,.6 .4-.1 .4,.1 .4-.5 .4,1.2 .4-.2 .4,.2 .4-.7 .4,1.4 .4-.9 .4-2.2 .4,1.6 .4,.5 .4,.7 .4-.9 .4,0 .4-.3 .4,1 .4-.8 .4-.1 .4-.2 .4,1 .4-.8 .4-.9 .4,1.8 .4-1 .4,.8 .4,0 .4,.6 .4-.1 .4-1.3 .4,.4 .4-.9 .4,2.2 .4-.9 .4,.7 .4-1.3 .4-1.4 .4,2.8 .4-1.2 .4,0 .4-.1 .4,.5 .4-.2 .4-1.7 .4,2 .4-1.4 .4-.1 .4,1.5 .4-1 .4-1.3 .4-1.7 .4,.9 .4-.6 .4-1.4 .4-2 .4-.8 .4-1.5 .4,.1 .4-.6 .4-.3 .3-1.5 .5,1.1 .4,1 .4,.2 .4,1.5 .4,2.9 .4-.3 .4,1.5 .4-.1 .4,1.1 .4-.7 .4,1.7 .4,1.3 .4,.9 .4-.5 .4-.2 .4-.4 .4-.4 .4,.4 .4,.6 .4-1 .4,1.4 .4-1.5 .4-.5 .4,.6 .4-.5 .4,.2 .4,1.9 .4-.9 .4,.3 .4,.7 .4,.1 .4-1.3 .4,1.4 .4-.7 .4-.3 .4,.3 .4-1.4 .4,.2 .4,.8 .4,.6 .4-.8 .4,.2 .4,.8 .4,.4 .4-.5 .4,.4 .4-1.3 .4,.1 .4,.5 .4-.5 .4-.2 .4,1.7 .4-1.4 .4-.6 .4,1.1 .4,1 .4-1.3 .4,.8 .4-1.2 .4-.1 .4-.1 .4,.4 .4,1.5 .4-2.3 .4,2.1 .4-2 .4,.6 .4,.8 .4-.2 .4-.3 .4-1.4 .4,1.5 .4-1.1 .4,2.7 .4-2.1 .4,.3 .4-1 .4,.4 .4-.6 .4,1.7 .4-1 .4,.6 .4-1 .4,.1 .4,1.3 .4-1.8 .4-.7 .4,1.5 .4-1.2 .4,.3 .4,.8 .4-1.5 .4,.9 .4-1.6 .4,1.2 .4-.7 .4-2 .4-.6 .4-1.3 .4-.2 .4-.3 .4-2.9 .4,.7 .4-2.7 .4-.6 .4-1.6 .4,2.1 .4-2.4 .4-.7 .4-1.6 .4,.1 .4-3.8 .4,0 .4-.1 .4-3.7 .4-1.2 .4-.4 .5-1.2 .3,1.2 .4,2.4 .4,1.7 .4,2.8 .4,2.2 .4,3.2 .4,2.3 .4,3.3 .4,1.3 .4,.8 .4-.5 .4,3.3 .4,.7 .4-.7 .4-.4 .4,.9 .4,1.8 .4-1.3 .4,.6 .4,.6 .4,.8 .4-.8 .4,0 .4-.3 .4,1.7 .4-.4 .4-.8 .4-.9 .4,.5 .4,1 .4-.9 .4,1.2 .4-.4 .4,0 .4,.3 .4-.1 .4-1 .4,.4 .4,2 .4-2.6 .4,.6 .4,1.1 .4-.9 .4-.4 .4-.4 .4,1.6 .4,.2 .4,.2 .4-.9 .4,.7 .4-1.5 .4,.9 .4-.6 .4,.6 .4,.4 .4,.3 .4-1.5 .4,1.6 .4-1.2 .4-.4 .4,.6 .4-.9 .4,1 .4,.2 .4-.3 .4,.5 .4-.7 .4,.4 .4-1.1 .4,1.1 .4-.7 .4,.3 .4,.3 .4,.2 .4-1.3 .4,0 .4,1 .4,.5 .4,0 .4,.4 .4,.3 .4-.6 .4-.4 .4-.7 .4,0 .4,.4 .4,.5 .4,0 .4-.2 .4-.1 .4,.6 .4-.3 .4,.1 .4,.1 .4-.8 .4-.3 .4,1.1 .4,0 .4-.5 .4-.1 .4,1.9 .4-2.2 .4,.4 .4,.4 .4-1.1 .4,1 .4,1.2 .4-.6 .4-.3 .4,0 .4-.3 .4,.6 .4-.8 .4-.2 .4,.4 .4,.5 .4-.4 .4,.3 .4-2 .4,2.4 .4,.8 .4-.7 .4-1.2 .4-.4 .4,.8 .4-1.3 .4,1.6 .4-.9 .4,1.1 .4,.3 .4-2.4 .4,1.6 .4-.7 .4-.5 .4,.6 .4,.3 .4,.9 .4-1.9 .4,1.9 .4,.7 .4-1 .4-.1 .4-.4 .4-.8 .4,1.2 .4-.1 .4,.3 .4,1.3 .4-1.3 .4-.2 .4,.8 .4-2.1 .4,.1 .4,.6 .4-.2 .4,1 .4-.8 .4,1.5 .4-.1 .4-.6 .4-.8 .4,.7 .4,.1 .4-1.3 .4,1 .4,.3 .4-.4 .4,1 .4-.3 .4-1.7 .4,1 .4-.7 .4,1 .4-1 .4,1.2 .4-.3 .4,.4 .4-.8 .4-1.5 .4,2.8 .4-1.3 .4,1.1 .4-.7 .4,.2 .4,.8 .4-1.1 .4,.8 .4-2.1 .4,1.7 .4-.8 .4,.1 .4,.1 .4,.2 .4,1 .4-2.5 .4,1.3 .4-.5 .4,1.3 .4-1.1 .4,.6 .4-.6 .4,.8 .4,.2 .4-1 .4,.3 .4-1 .4,1.2 .4,.4 .4-1 .4,1.2 .4-2.3 .4,.2 .4,.3 .4,.7 .4,.3 .4,0 .4,0 .4,.5 .4-.8 .4-1 .4,.4 .4,2.4 .4-3.1 .4,1.5 .4,1.2 .4-.7 .4-1 .4,.6 .4,.6 .4,.3 .4-1.5 .4,1.2 .4-.4 .4,.6 .4,.2 .4-1.2 .4-.8 .4,1.3 .4,1 .4-.8 .4-.3 .4,1.5 .4-2.4 .4,1.4 .4-1.1 .4,.5 .4,0 .4,1 .4-1.7 .4,.3 .4-.8 .4,1.5 .4-.7 .4,.6 .4-1 .4,.5 .4,1 .4-.9 .4,.6 .4-.1 .4-.6 .4-.9 .4,1.8 .4-.5 .4,.5 .4-2.1 .4,.3 .4-.4 .4,.9 .4,1.4 .4-.2 .4-.6 .4,.1 .4,.5 .4-.8 .4,.5 .4-.2 .4-2.4 .4,2.1 .4,1.2 .4-1.2 .4,.1 .4-.3 .4,.1 .4,1.1 .4-1 .4-.5 .4-1.5 .4,1.8 .4-1 .4,.1 .4,1.9 .4-.1 .4-1.8 .4,1.9 .4-.3 .4-.8 .4,1 .4-1.6 .4,.3 .4-.2 .4,.2 .4,1.4 .4-1.5 .4,.1 .4,.1 .4,.8 .4-.4 .4,.9 .4-1.1 .4-.4 .4,.5 .4,.4 .4-.7 .4,.8 .4,1.1 .4-1.7 .4,.5 .4,.9 .4-1.4 .4-.2 .4-.2 .4,1.1 .4,.1 .4-.5 .4,.1 .4,.9 .4-.3 .4-1.6 .4,.9 .4,.1 .4,.4 .4-.6 .4-.3 .4,.1 .4-.9 .4,1.2 .4-.5 .4,.8 .4-1.1 .4,.4 .4-.4 .4-.1 .4,1.2 .4-.8 .4,.6 .4-1.1 .4,.9 .4-1.3 .4,.8 .4,0 .4,.7 .4-.3 .4-.3 .4,.7 .4-.5 .4,.2 .4,.1 .4-.6 .4-.2 .4,.4 .4-.6 .4,.5 .4,.5 .4-.3 .4-.9 .4-.7 .4,.8 .4-.1 .4,.7 .4-1.1 .4,0 .4,.6 .4-1 .4,.1 .4,1.1 .4-.3 .4-.8 .4-.5 .4-1 .4,.7 .4-.6 .4-.3 .4-.9 .4-.1 .4-.7 .4-.4 .4-.3 .4-2 .4-3.2 .4-2.1 .4-3.9 .4-4.3 .4-5.5 .4-8.5 .4-11.1 .4-11.9 .4-15 .4-16 .4-15.8 .4-14 .4-9.7 .4-7.9 .2,1.1 .6,7.8 .4,10.6 .4,14.8 .4,15.4 .4,15.8 .4,14.6 .4,11.9 .4,10.8 .4,8.3 .4,5.6 .4,4.7 .4,3.1 .4,2.7 .4,.8 .4,2.3 .4,.8 .4,0 .4,2.6 .4-1.6 .4,.5 .4,1.1 .4-1.2 .4,1 .4-.3 .4,.6 .4,.8 .4,.4 .4,.7 .4,0 .4,.3 .4-.3 .4-.6 .4,1.2 .4-1 .4,0 .4,1.5 .4-.5 .4-.3 .4,.4 .4,.2 .4-1.5 .4,.9 .4-.7 .4,.9 .4-.5 .4,1.4 .4-.5 .4-.9 .4,.5 .4-.8 .4,.9 .4,.4 .4-.2 .4-1.5 .4,1.1 .4,.6 .4-.2 .4,.6 .4-1.6 .4,1.2 .4-.8 .4,.6 .4,.1 .4,.2 .4-.9 .4,.5 .4-.9 .4-.2 .4,1.3 .4-.4 .4-1 .4,.5 .4,.5 .4,1 .4-.3 .4-.2 .4-1.8 .4,1.1 .4,.4 .4-.1 .4-.1 .4-.4 .4,1.2 .4-.2 .4-1.1 .4-.6 .4,1.9 .4-1.8 .4,1.1 .4,.4 .4-2 .4,.7 .4-.5 .4,.5 .4-.3 .4,1 .4-1 .4-.6 .4,.6 .4-1.1 .4-.3 .4,1.5 .4-2.2 .4-.1 .4,.1 .4-1.1 .4-1.1 .4,1.7 .4-1.7 .4-.4 .4-.5 .4-1.2 .4-1 .4-.3 .4,0 .4-3.1 .4-2.8 .4-5.2 .4-4.2 .4-7.8 .4-8 .4-12.8 .4-15 .4-18.4 .4-21.6 .4-24.2 .4-23.1 .4-25.1 .4-20.2 .4-13.5 .4-5.5 .4,5.3 .4,14.2 .4,19.5 .4,23.6 .4,24.5 .4,24.1 .4,19.7 .4,20 .4,14.5 .4,12.1 .4,10.3 .4,6.9 .4,5.9 .4,4.2 .4,.5 .4,3.5 .4,2.9 .4,.4 .4,1.4 .4-.2 .4-.3 .4,.8 .4,1.7 .4,.5 .4-.7 .4,.7 .4,.6 .4-1 .4,1.1 .4,1.6 .4,.5 .4-1.3 .4,1.5 .4-1.4 .4-.1 .4-.8 .4,2.3 .4-.8 .4,1.9 .4-1.2 .4,0 .4-1.3 .4,2.3 .4-1.2 .4,.3 .4-1.3 .4,2.1 .4,.1 .4-1 .4,.5 .4,.3 .4,.4 .4-.5 .4,1.1 .4-1.3 .4-.2 .4,.1 .4-1.3 .4,1.2 .4,1.2 .4-.5 .4-.6 .4,.7 .4-1.5 .4,1.2 .4,.5 .4,.2 .4-1 .4,1.2 .4,.6 .4-1.5 .4,.8 .4-1.5 .4-.2 .4,1.7 .4-.4 .4,.1 .4-.7 .4,.4 .4,.8 .4,.6 .4-1.3 .4-.9 .4,1.9 .4-.4 .4,0 .4-.3 .4,1.4 .4-1.4 .4,.3 .4-1.6 .4,.9 .4-.1 .4,.5 .4,.2 .4-.7 .4,1.6 .4-1.8 .4,.4 .4,.5 .4-1 .4,1.2 .4,0 .4-.5 .4,1.4 .4-1.2 .4,.1 .4-.8 .4-.4 .4,.7 .4,0 .4,.1 .4,.8 .4-2.1 .4,.9 .4-.5 .4,2.1 .4-1.3 .4,.1 .4-.4 .4,1.3 .4-.9 .4,.4 .4-1.4 .4,2.1 .4-.5 .4,.1 .4,.4 .4-.9 .4,0 .4,.6 .4-.2 .4-.5 .4,.2 .4-.3 .4,.7 .4,.2 .4-.6 .4,1.1 .4-2.2 .4,.8 .4,1.3 .4-1.6 .4-.6 .4,1.8 .4-.6 .4-1.2 .4,1.2 .4-1.3 .4-.3 .4,.6 .4-.4 .4-.6 .4,.3 .4-.7 .4,.5 .4-.3 .4,.2 .4-1 .4-.7 .4-.2 .4,.6 .4,1 .4-.4 .4-1 .4,1.1 .4-1.2 .4,1.6 .4-.6 .4,.9 .4,.2 .4-.4 .4,.7 .4-.7 .4,.8 .4,1 .4,3.4 .4-3.3 .4-.3 .4-.6 .4,1.5 .4-1.7 .4,.6 .4,.8 .4-.9 .4,1.8 .4-.3 .4-1 .4,0 .4-.5 .4,0 .4,1.2 .4,.1 .4-.1 .4-.1 .4-.5 .4,.6 .4-1.2 .4,1 .4,.9 .4-.1 .4-1.1 .4,.1 .4,1.1 .4,.3 .4-2.1 .4,.7 .4,.4 .4,.6 .4-1.3 .4,1 .4-.6 .4,1.7 .4-1.3 .4-.3 .4-.2 .4,.9 .4-.2 .4-1.1 .4,.8 .4-1 .4,.4 .4-.3 .4-.1 .4,.4 .4-.1 .4,.9 .4,.2 .4-.7 .4-.5 .4,1.2 .4-2.5 .4,.8 .4,1.7 .4-.1 .4,.2 .4-.7 .4-.7 .4,.5 .4,.7 .4-.9 .4,.1 .4-.5 .4,.2 .4,1.3 .4-.3 .4-1 .4,0 .4,.4 .4,.7 .4-1.1 .4,.6 .4-1.2 .4,.5 .4,1.1 .4,.3 .4-1.3 .4,.3 .4,1 .4-.8 .4-.1 .4,.7 .4-.2 .4,.6 .4-.2 .4-.9 .4,.3 .4,0 .4-.8 .4,.2 .4,1.3 .4-1.6 .4,1.6 .4-.4 .4-.3 .4,.4 .4,0 .4,.5 .4-1.1 .4,.1 .4,0 .4,1.4 .4-.6 .4-1.2 .4,.4 .4-.3 .4,.5 .4,.1 .4,1.4 .4-2.7 .4,1.9 .4-.4 .4-.8 .4,.4 .4-.4 .4,.5 .4,.6 .4-1.6 .4,1.8 .4-1 .4,1.2 .4-.7 .4,.5 .4-.4 .4,.3 .4-.7 .4-.5 .4,.9 .4,.1 .4,.9 .4-2.7 .4,1.2 .4,.8 .4-1.5 .4,.7 .4,1.5 .4-.5 .4-1.4 .4,1.4 .4-.1 .4-.3 .4-.2 .4-.1 .4-.7 .4,.2 .4,.8 .4-.4 .4,1.1 .4-1.4 .4-1.3 .4,1.3 .4,.4 .4,.1 .4-.2 .4-.6 .4,1.5 .4-1.4 .4,.9 .4-.6 .4-.6 .4,1.7 .4-2.6 .4,1.1 .4,.8 .4-.5 .4,.7 .4-.5 .4-.2 .4,1.6 .4-1.5 .4,.1 .4-.6 .4,.2 .4,.9 .4-.1 .4-.3 .4-.5 .4,.9 .4-1.5 .4,.9 .4,0 .4-.4 .4,.7 .4-.6 .4,0 .4,1.6 .4-.7 .4,.3 .4-.7 .4,.6 .4-.1 .4,.3 .4,.7 .4-1.7 .4,.3 .4-.2 .4-2.2 .4,1.4 .4,.9 .4,.4 .4-.8 .4,1.1 .4,.1 .4-1.1 .4,1.2 .4,.2 .4-.8 .4-.9 .4,1.5 .4-1 .4-.2 .4,.4 .4-.5 .4,1.1 .4-.2 .4,.3 .4-.4 .4-.9 .4,.4 .4,.6 .4-.8 .4,2.1 .4-2 .4-.2 .4,1.1 .4-.2 .4-.5 .4-.2 .4,.5 .4,.2 .4,0 .4-.7 .4,.4 .4,.3 .4,0 .4-2.5 .4,1.4 .4,.1 .4,.3 .4,.3 .4,.4 .4-.2 .4-.4 .4,.1 .4,1.1 .4-1.6 .4,.6 .4,.8 .4-.8 .4-1.5 .4,1.5 .4-.6 .4,.3 .4,.7 .4-.3 .4-.5 .4,.7 .4-.3 .4-.2 .4,.1 .4-.1 .4-.4 .4-.1 .4,.2 .4-.7 .4-.2 .4,1.5 .4-1.1 .4,0 .4-.3 .4-.1 .4-.2 .4-.2 .4-.8 .4,.7 .4-1.3 .4,.7 .4-2.3 .4,.2 .4,1 .4-1.1 .4-.7 .4,.4 .4-1.1 .4,.6 .4-1.4 .4,1.2 .4,0 .4,1.1 .4,.5 .4-.8 .4,2 .4-1.1 .4-.5 .4,.2 .4,2.8 .4-.7 .4-.1 .4,.2 .4,0 .4,1.8 .4-.8 .4,1.4 .4-1.2 .4-1.2 .4,2.1 .4-.7 .4,.1 .4,1.2 .4-1.1 .4,.9 .4-.7 .4-.4 .4,.8 .4-.7 .4,1.2 .4-.2 .4-.5 .4,.3 .4,0 .4-.5 .4,.7 .4-.7 .4,.6 .4-1 .4,.6 .4,.3 .4-.8 .4,.1 .4,.1 .4,.8 .4-1.2 .4,1 .4,.7 .4-.7 .4-1.3 .4,1.1 .4,.6 .4-.9 .4,.9 .4-.3 .4,.1 .4-.6 .4-.2 .4,.2 .4,.2 .4,.3 .4-.1 .4-.4 .4,.2 .4,.2 .4-1.3 .4,.6 .4,0 .4,.3 .4,0 .4,0 .4-.4 .4,1 .4-.2 .4-1.3 .4,1.1 .4-.7 .4,1.8 .4-1.4 .4,0 .4,.3 .4-.1 .4,0 .4,1.1 .4-.9 .4,.4 .4,.2 .4-1.3 .4,1.7 .4-.7 .4,.2 .4-1.2 .4,1.1 .4-.3 .4-.6 .4,1.8 .4-1.1 .4-.5 .4,.3 .4,.5 .4,.1 .4-.4 .4,.4 .4,.2 .4-1.7 .4,.5 .4-.3 .4,.6 .4,.9 .4-.5 .4-1.1 .4,.5 .4,.8 .4-1 .4,.3 .4,.2 .4-1.3 .4,1.6 .4-.2 .4,.1 .4-1 .4,.1 .4,.1 .4,.6 .4-.1 .4,0 .4,1 .4-.3 .4-1.3 .4,.1 .4,1.5 .4-1.3 .4,1 .4,.2 .4-1.4 .4,.2 .4,.2 .4-.6 .4-.1 .4,.4 .4,.7 .4-.8 .4,.2 .4-.2 .4-.6 .4,1.8 .4-2.5 .4,1.1 .4,.8 .4-1.3 .4,1.3 .4,.4 .4-1.4 .4,.7 .4-.9 .4,1 .4-.3 .4,.1 .4,.7 .4-.6 .4,.5 .4-.5 .4-1.2 .4,.9 .4,.1 .4-1.3 .4,1.7 .4-.8 .4,.1 .4-.9 .4,.5 .4,.1 .4-.5 .4,.2 .4-1.6 .4,2.1 .4-1.7 .4-.9 .4,.6 .4-.2 .4,.6 .4-1.4 .4,.3 .4-1.6 .4,1.1 .4-2.4 .4-.8 .4-4.1 .4-1.7 .4-4.4 .4-3.1 .4-4.6 .4-6.6 .4-5.2 .4-5.5 .4-5.2 .4-3.7 .4-2.8 .4-1.2 .4,2.3 .4,3.3 .4,3.1 .4,5.7 .4,5.8 .4,5.2 .4,4.6 .4,5.4 .4,3.8 .4,3 .4,1.9 .4,3.2 .4,1.2 .4-.5 .4,.6 .4,.9 .4-1.6 .4,.1 .4-1.3 .4-1.9 .4-1.5 .4-3.1 .4-1.8 .4-4.2 .4,.6 .4-3.1 .4-2.4 .4-2 .4-.2 .4,.7 .4,1.2 .4,2.2 .4,1.5 .4,3.7 .4,2.3 .4,2.3 .4,2.4 .4,3.2 .4,2.1 .4,0 .4,3.1 .4,.7 .4-.5 .4,.5 .4,.6 .4,1 .4-.6 .4-.3 .4,1 .4-1.4 .4,1.5 .4,.8 .4-.5 .4,.4 .4-.1 .4,.2 .4-.3 .4-.6 .4,.4 .4,.2 .4,.8 .4,.3 .4-.7 .4-.7 .4,0 .4,.4 .4,1 .4-.7 .4-.2 .4-.4 .4,1.1 .4-.4 .4-.2 .4,.1 .4,1 .4-1.1 .4,1.2 .4-.3 .4-.8 .4,.6 .4-.6 .4-.5 .4,.4 .4-.4 .4,.9 .4-.3 .4,.5 .4,0 .4-2.5 .4,2.2 .4-1.3 .4,1.2 .4-.6 .4,.6 .4,.8 .4-1.9 .4,1.2 .4-.2 .4-1.1 .4,1.6 .4-.4 .4-.3 .4-.2 .4,2.6 .4-2.3 .4-.9 .4,.5 .4,.4 .4,0 .4,.2 .4-.6 .4,1 .4-.7 .4-.5 .4,.3 .4,.3 .4,.8 .4-.2 .4-.6 .4,.3 .4,.1 .4,1.2 .4-1.7 .4,.7 .4,.1 .4-1 .4,.7 .4,0 .4-.4 .4,.7 .4,.3 .4,0 .4-.8 .4,.2 .4,1.4 .4-2.2 .4,.9 .4,.4 .4-.5 .4,.3 .4-.3 .4,.4 .4,.3 .4-.9 .4,.3 .4-.2 .4-.2 .4,.2 .4-.7 .4,1.2 .4,.6 .4,0 .4-.2 .4-1.5 .4,1.6 .4-1.4 .4,.4 .4,1.2 .4-1.8 .4,1.2 .4-.4 .4-.2 .4-.5 .4,.8 .4-.5 .4,.9 .4,.1 .4-1.6 .4,.5 .4,.2 .4-.6 .4,.1 .4,.7 .4-.2 .4-.9 .4,.7 .4,.7 .4-1.1 .4,.2 .4,1.6 .4-.2 .4-1.8 .4,.1 .4,1.1 .4-1 .4,.6 .4-.1 .4,.7 .4-2 .4,.2 .4,.6 .4,1.5 .4-.8 .4-1 .4,1.4 .4,.2 .4-.6 .4-.1 .4,.5 .4,.5 .4-.7 .4,.3 .4-.4 .4-.2 .4-.4 .4,.8 .4-.4 .4,.1 .4,.7 .4-.3 .4,.3 .4-1.6 .4,1.4 .4-.7 .4-.2 .4,0 .4,1.3 .4-.2 .4-1 .4-.3 .4,.7 .4-.3 .4,1.4 .4-2 .4-.2 .4,1 .4,.2 .4,0 .4,.4 .4,.9 .4-1.6 .4-.1 .4-.8 .4,1.3 .4,.4 .4-.7 .4,.9 .4-.7 .4,.9 .4-.7 .4-.9"/>
<path class="c" stroke="#ababab" d="M138.5,881.8l.4-1.4 .4,3.3 .4-2.4 .4,2.7 .4,1.1 .4-1.6 .4-1 .4,4.1 .4-2.7 .4,.9 .4,1.4 .4-4.4 .4,.8 .4,6.6 .4-5.1 .4-1.7 .4,1.5 .4-.6 .4-1.3 .4,1.6 .4,.8 .4,0 .4,1.1 .4-4.4 .4,.5 .4,4.4 .4-2.4 .4,3.2 .4-1.8 .4-3.2 .4,3.7 .4-3 .4,2.5 .4,1.9 .4,1.6 .4-4.1 .4,1.5 .4-.8 .4,.9 .4-6.3 .4,4.1 .4,1.3 .4,.4 .4-2.4 .4,3.1 .4,.5 .4-2 .4-.5 .4-.3 .4,1 .4,2 .4,.6 .4-3.8 .4-.8 .4,.2 .4,3.4 .4-1.4 .4,.1 .4,.4 .4-.2 .4-.9 .4-1.8 .4,.8 .4,1.4 .4,.6 .4-1.5 .4-.1 .4,3.4 .4-3.4 .4,1.3 .4-1 .4-1.1 .4-1.2 .4,1.9 .4-.6 .4,3.2 .4-3.8 .4,1.1 .4,2.3 .4-1.4 .4,1.2 .4,.6 .4-4.7 .4,2.4 .4-1.1 .4,4.4 .4-2.8 .4,1.2 .4,2.3 .4-3.9 .4,.8 .4,.7 .4-1.3 .4,2.9 .4-.8 .4,.3 .4-1.8 .4-.7 .4,0 .4,0 .4-2.4 .4,3.7 .4,.9 .4-1.5 .4-.9 .4,1 .4,.3 .4,.2 .4,2.8 .4-5 .4,2.3 .4,.6 .4-1.1 .4-.6 .4-1.5 .4,.9 .4,2.4 .4,1.4 .4-3.9 .4,2.1 .4,.1 .4,.9 .4-1.4 .4,.3 .4,.9 .4-3.8 .4,2.2 .4-3.3 .4-.4 .4,2.1 .4-1.3 .4,3.8 .4,.9 .4-2.4 .4,.3 .4-.1 .4-.1 .4,.8 .4,.4 .4-1.5 .4-.6 .4,.5 .4,2.4 .4-2.2 .4,3.4 .4-3.1 .4,3 .4-5.8 .4,2 .4,2.2 .4,0 .4-1.2 .4,4.1 .4-3.7 .4,.5 .4-1.6 .4,4.1 .4-1.5 .4-.8 .4-3.7 .4,3.6 .4-1.5 .4,1.6 .4,1 .4-3.1 .4,1.8 .4,1.2 .4-1.3 .4-.9 .4-1.3 .4,.7 .4-1.1 .4,4.1 .4-1.6 .4-2.4 .4,2.3 .4-2.4 .4-3.6 .4,8.2 .4-.1 .4-4.8 .4,1.4 .4,1.7 .4-1.1 .4-.8 .4,.6 .4,.5 .4-.6 .4,1.4 .4-.8 .4-.9 .4,1.4 .4-3 .4,5.6 .4-5.8 .4,3 .4,.8 .4,.2 .4-.3 .4,1.8 .4-4.3 .4,1.9 .4,.4 .4-1.1 .4-.2 .4,3.4 .4-3.6 .4,.4 .4,.4 .4,.1 .4,.7 .4-.7 .4,1.1 .4-.4 .4,.6 .4,1.6 .4-4 .4,4.5 .4-3.8 .4,2.1 .4-.9 .4-.9 .4-3 .4,6.5 .4-4.3 .4,0 .4,3.3 .4-1.8 .4,3.3 .4-.4 .4-1.7 .4-.8 .4,.9 .4-3.7 .4,2.7 .4-.1 .4-1.1 .4,1.3 .4-3 .4,4.2 .4,.7 .4-4.6 .4,2.6 .4,2.5 .4-2 .4-2.6 .4,.1 .4,3.3 .4,1.7 .4-5.2 .4,2 .4-1.4 .4,.9 .4,1 .4-.6 .4-1.1 .4,5 .4-4.1 .4,0 .4,2.3 .4-1.9 .4-.4 .4,2 .4-3.5 .4,3.2 .4,.5 .4-.7 .4-1.4 .4,.3 .4-3.1 .4,2.9 .4,.7 .4,1 .4-1.2 .4-1 .4-.8 .4,1.5 .4,.3 .4,1.9 .4-2.1 .4-.9 .4,.7 .4-.7 .4,.5 .4-3.5 .4,1.1 .4,.7 .4,2.9 .4-.9 .4,.4 .4,1.8 .4-3.9 .4,3.9 .4-1.4 .4-1.9 .4,3.9 .4-5.1 .4,.5 .4,1.6 .4,1.1 .4-1 .4-3.4 .4,3.2 .4,.4 .4,4.6 .4-2.1 .4-2 .4-2.3 .4,2.6 .4-2.7 .4,2.4 .4,.3 .4-1.3 .4,1.1 .4-1 .4-.4 .4,3.7 .4-1.7 .4-1.5 .4-.8 .4,1.6 .4,.7 .4,.5 .4,1.1 .4-1.7 .4-2.8 .4,5.5 .4-1.5 .4-.6 .4,.9 .4-4.9 .4,2 .4-.3 .4,3 .4-4.1 .4,1.5 .4,3.2 .4-1.5 .4-1.8 .4,3.9 .4-5.5 .4,3.5 .4-1.6 .4,1.3 .4-1.4 .4-1 .4,1.9 .4-2.7 .4,3.2 .4-1.4 .4,2.1 .4-2.3 .4-.4 .4,1.9 .4,1.4 .4-5.7 .4,3.8 .4,.9 .4-3.6 .4,1 .4,2.6 .4-2.5 .4,.3 .4,4.1 .4-4.6 .4,.1 .4-2.5 .4,2.2 .4-.3 .4,5.1 .4-.8 .4-4.3 .4,5.6 .4-2.1 .4-1.6 .4,1.7 .4-.7 .4-2 .4-1.7 .4,1.5 .4,1.5 .4-.6 .4-.6 .4,2.9 .4-3.5 .4,3.4 .4-2.4 .4,1.1 .4-2.1 .4,1.9 .4-1.3 .4-1.7 .4,3 .4-.1 .4,1.6 .4-1 .4-2.2 .4,.7 .4-3.2 .4,2.3 .4,4.2 .4,.4 .4-1.3 .4-.8 .4,.5 .4-.2 .4-3.8 .4,1.5 .4,3.6 .4,0 .4-1.6 .4-1 .4-.1 .4-.3 .4-.6 .4-1.7 .4,3.5 .4-1 .4,.4 .4,3.4 .4-2 .4-2.2 .4,2.2 .4-3.6 .4,4.5 .4-1.4 .4-.8 .4,1.3 .4,1.6 .4-3.3 .4-.9 .4,7.1 .4-5.4 .4,2.6 .4-3.7 .4,1.8 .4-1.8 .4,2.2 .4-1.5 .4-.7 .4,3.8 .4-2.1 .4-4 .4,3.1 .4-1.2 .4-.5 .4,1.1 .4,.2 .4,.9 .4-1.4 .4-1.9 .4,2.3 .4,2.5 .4-3.9 .4,3.4 .4-.2 .4-1.6 .4,1.3 .4-1.8 .4,.6 .4-1.1 .4,2.6 .4,1.6 .4-3.5 .4,3.2 .4-5.7 .4,2.1 .4-.2 .4,4.7 .4-4 .4,2.4 .4-4.8 .4,3.7 .4,1.2 .4-1.5 .4-4.6 .4,5.2 .4,.9 .4,.9 .4-1.6 .4-3.6 .4,2.6 .4,1.9 .4-2.9 .4,2.3 .4-1.7 .4,.9 .4,1.2 .4-2.5 .4,6.1 .4-4.6 .4,.3 .4-1.8 .4,1.3 .4-.5 .4-2.1 .4-.1 .4,3.2 .4-.7 .4-4.3 .4,.8 .4,3.2 .4,.4 .4,1.2 .4-3.2 .4,3.1 .4-1.5 .4-.3 .4,.6 .4,1.9 .4-.7 .4,.6 .4-2.7 .4,.7 .4-1.5 .4,1 .4,.3 .4-.1 .4,2 .4-.4 .4,.5 .4-1 .4,1.6 .4-1.7 .4,1.5 .4-.8 .4,.4 .4-1.3 .4-2 .4-.4 .4,5.8 .4-2.6 .4,.1 .4-1.1 .4-.4 .4,5.6 .4-6.8 .4,1.8 .4,.1 .4-1.9 .4-.2 .4,1 .4,.6 .4-.2 .4,2.2 .4-3.4 .4,2.7 .4,1.8 .4-.9 .4-3.5 .4-3.1 .4,6.5 .4-.6 .4-1.8 .4,3.2 .4-2.9 .4,.9 .4-2 .4,2.4 .4-1.3 .4-.1 .4,2.7 .4-1.5 .4-2.9 .4,3.7 .4,.3 .4-2.8 .4,.7 .4,.8 .4-.5 .4,.6 .4,.9 .4-1.9 .4,4.3 .4-4.7 .4,.3 .4,4.3 .4,.7 .4-4 .4-.4 .4-1.4 .4,3.7 .4-1.6 .4-1.7 .4,2.1 .4,1.6 .4-1.1 .4,2.6 .4-1.8 .4-1.2 .4-.8 .4,1 .4,1.1 .4-.6 .4,.4 .4-1.4 .4,.9 .4,.7 .4-2.3 .4-1.9 .4,5.1 .4-1.9 .4-1.7 .4,1.1 .4-.8 .4-2.4 .4,2.5 .4-2 .4,2.9 .4-.7 .4,2.1 .4-2.1 .4,.8 .4-1.1 .4-.1 .4-1.7 .4,4 .4-1.4 .4-1.2 .4,1.3 .4-1 .4-.6 .4,1.7 .4,1.6 .4-2.5 .4-1.9 .4,1.4 .4,4 .4-4.3 .4,3.3 .4-2.4 .4,1.7 .4-1.4 .4-2.5 .4,2 .4,4.2 .4-3.7 .4,1.1 .4-1.5 .4,.4 .4,.7 .4,.3 .4,4.8 .4-5.6 .4-.3 .4-.8 .4-1.1 .4-.4 .4,3.8 .4-4.2 .4,5.4 .4-.9 .4-1.9 .4-1.4 .4,2 .4,0 .4,1.8 .4-3.1 .4,.6 .4,.6 .4-.4 .4-.6 .4-1.8 .4,.1 .4,1.7 .4,.7 .4,2.1 .4,2.2 .4-1 .4-2.2 .4,2.5 .4-3.4 .4-.6 .4,4.7 .4-5.6 .4,1.1 .4,.2 .4,2.9 .4-3.4 .4,2.3 .4-2 .4-1.3 .4,2.4 .4-.1 .4-2.2 .4,.5 .4,.1 .4,2.9 .4-.8 .4-.3 .4,.4 .4-1.6 .4,1.6 .4-1.8 .4-1.2 .4,1 .4,1.6 .4-.2 .4,1.6 .4-4.6 .4,2.5 .4,1 .4-2.2 .4,2 .4-1.1 .4-1.2 .4,3.7 .4-4.1 .4,4 .4-2.4 .4-.8 .4,.1 .4,.2 .4-.2 .4,1.9 .4-3.5 .4,5.1 .4-.7 .4,1 .4-3.9 .4-2.2 .4,2.8 .4,.7 .4,.8 .4-1.3 .4,.7 .4,.4 .4-2.8 .4,5.5 .4-4.8 .4,2.3 .4,1.3 .4-3 .4,1.3 .4,2.7 .4-3.2 .4,2.2 .4-1.2 .4-.1 .4,.8 .4-1.5 .4,0 .4,1.9 .4-1.1 .4,.4 .4-2.8 .4,2 .4,2 .4-.5 .4-.9 .4-1.4 .4-.7 .4,2.3 .4,1.6 .4-2.3 .4,2.1 .4-2.6 .4,2.4 .4-3.6 .4,2 .4-2.1 .4,2.9 .4-.2 .4-2.4 .4,.3 .4,.5 .4-1.7 .4,.9 .4,.1 .4,2.7 .4,1 .4-3 .4,.3 .4,.8 .4-1.2 .4,.4 .4,1.9 .4-1 .4-.5 .4-.8 .4,3.3 .4-3.4 .4,1.2 .4-1.8 .4,.7 .4,1.1 .4-1.1 .4,1.9 .4-.8 .4-2.4 .4-1.5 .4,5.4 .4-2.5 .4,3.3 .4-2.3 .4-1.3 .4,2.2 .4-1.4 .4,.5 .4-1.5 .4,2.5 .4,.8 .4-2.7 .4,3.8 .4-3.8 .4,1.3 .4-3 .4-.5 .4,6.5 .4-1.1 .4-.4 .4-4.6 .4,3.1 .4,.3 .4-.5 .4,.4 .4-2 .4,1.2 .4-1.5 .4,1.2 .4,1.2 .4-1.8 .4,.8 .4-.3 .4,.8 .4,1.4 .4-1.1 .4,.3 .4-3 .4,1.8 .4,1.9 .4-2.7 .4,.7 .4-.9 .4,3.8 .4-2.9 .4-.5 .4,2.2 .4,.8 .4-1 .4,.8 .4-1.2 .4-.5 .4-.5 .4-.1 .4-.2 .4,1.6 .4-.8 .4,.3 .4,.9 .4-1.1 .4-2.1 .4,1 .4-.6 .4-1.2 .4,3.2 .4-2.1 .4-.1 .4,.3 .4,3.9 .4-2.6 .4,2.1 .4-1.8 .4-.5 .4,1.6 .4,.1 .4-.8 .4-1.8 .4,.9 .4-1.2 .4,1.5 .4,.6 .4,2.2 .4,1.1 .4-2.3 .4,.4 .4-1.1 .4,4 .4-2 .4,1.8 .4-3.6 .4,.1 .4,1 .4-1.4 .4,.2 .4-2 .4,3.1 .4-1.3 .4,1.1 .4-1.7 .4-2.5 .4,3.7 .4,1.1 .4-3.9 .4,.5 .4,1 .4-.1 .4-2.1 .4,5.5 .4-1.1 .4-2.6 .4-1.9 .4,3.4 .4,2.6 .4-1.8 .4,.5 .4-3.3 .4,2 .4-2.9 .4,5.6 .4-2.3 .4-4.2 .4,.4 .4,3.7 .4-.5 .4-.8 .4,1.5 .4,2.3 .4-2.7 .4-3.4 .4,2.6 .4-1.8 .4,.8 .4,1.8 .4-.8 .4-1.4 .4,1.7 .4-1.3 .4,2.2 .4-1.3 .4,1.1 .4-1.1 .4,1.6 .4-1.4 .4,.2 .4-.8 .4,1.1 .4-3 .4,7 .4-5.3 .4,1.2 .4-.9 .4,0 .4,1.4 .4-1.4 .4,.1 .4-1.5 .4,.8 .4-.4 .4,4.7 .4-5 .4,.5 .4,2 .4,1.9 .4-4.9 .4,.2 .4,2.7 .4,.3 .4-2.7 .4-.6 .4,1.3 .4,2.7 .4-1.3 .4,1.3 .4-1.3 .4,.1 .4,1 .4-1.1 .4,.5 .4-1.8 .4,.5 .4,1.7 .4-1.1 .4-.8 .4,2.2 .4-.1 .4-.9 .4-1.2 .4,2.6 .4,2.5 .4-5.2 .4-1.1 .4,1.2 .4-.2 .4-.5 .4,.1 .4,3.2 .4,0 .4,1 .4-1.2 .4-1.9 .4,2.5 .4-2.7 .4,.2 .4-1 .4,3.7 .4-.3 .4-2.3 .4,.2 .4,.6 .4,.2 .4,1 .4-1.2 .4,.6 .4-3 .4,1.9 .4-2.4 .4,5.6 .4-.6 .4-1 .4,.6 .4,1.4 .4-1.7 .4-3.9 .4,2.2 .4-3.4 .4,2.4 .4-.6 .4,1.9 .4,.6 .4-2 .4,1 .4,.9 .4-.7 .4-.1 .4-3.4 .4,3 .4,2 .4-.9 .4-2.7 .4,1.9 .4,.9 .4-2 .4,2.6 .4-2.3 .4,.7 .4,.4 .4,3.6 .4-3.9 .4-.4 .4,2 .4-1.9 .4,1.1 .4-3.8 .4,4 .4-.5 .4-2 .4,4.1 .4-2.5 .4,.1 .4-1.7 .4-.5 .4,1.6 .4-1.5 .4,3.2 .4,.6 .4-2.4 .4-1.5 .4,1.9 .4-1 .4,1.9 .4,0 .4-.9 .4,.7 .4,1.5 .4,1.1 .4-3.5 .4,1.9 .4-1.4 .4-1.3 .4,3.6 .4-1.4 .4-.4 .4,.6 .4-1 .4-1.4 .4,4.3 .4-1.3 .4-1 .4,1.1 .4,.5 .4-2.3 .4,1.2 .4-1.4 .4,1.5 .4-1.4 .4,4.1 .4-4.3 .4,1.4 .4-.1 .4-1.3 .4,2.7 .4-2.3 .4-.5 .4,.6 .4-1.1 .4,2.9 .4-.8 .4,.5 .4-3.6 .4,2.5 .4-1.6 .4,1.3 .4,1.8 .4-1.6 .4-.7 .4,2 .4-.2 .4,1.3 .4-5.7 .4,3.3 .4-1.2 .4-.7 .4,1.5 .4-2 .4-1.6 .4,2 .4,.9 .4,3.3 .4-4 .4-.7 .4-1.3 .4,2.5 .4,.1 .4,.6 .4-2.5 .4,1 .4-2.4 .4,3.7 .4-2.7 .4-1.8 .4,5.9 .4-1.1 .4-.2 .4-.1 .4-2.2 .4,3.2 .4-3.3 .4,4.4 .4-2.7 .4-3.2 .4,4 .4,1.6 .4-3.5 .4,1.9 .4-2 .4-.8 .4-3.1 .4,5.6 .4-2.7 .4,1.1 .4-2.5 .4,.1 .4,2.9 .4-2.5 .4-.3 .4-1.6 .4,1.9 .4,.6 .4-2.3 .4,0 .4-2 .4,3.5 .4-3.6 .4,.1 .4,2.2 .4-3.7 .4-2.8 .4,0 .4-.2 .4,2 .4-3.8 .4-2.4 .4-.4 .4-1.8 .4-6.1 .4-.3 .4-5.3 .4-6 .4-10.9 .4-4 .4-7.7 .4-13.6 .4-8.8 .4-17.8 .4-17.5 .4-14.4 .4-17.4 .4-15.2 .4-14.8 .4-6.5 .4-5.8 .4,4.6 .4,7.2 .4,14.3 .4,17.6 .5,20 .3,12.9 .4,16.1 .4,15 .4,13.4 .4,11 .4,9.7 .4,6.6 .4,5.4 .4,3.8 .4,6.2 .4,3 .4,1.4 .4,7.6 .4-3.2 .4,5 .4,1.8 .4,0 .4,5.4 .4-2.9 .4-.4 .4,4.6 .4-3.2 .4-.4 .4,1.3 .4,1 .4,1.5 .4,.9 .4-2.4 .4,3.2 .4,3.2 .4-4.2 .4,1.2 .4,1.5 .4,1 .4-2.6 .4-.2 .4,.1 .4,3.4 .4-.1 .4-4.5 .4,.2 .4,1.5 .4-.2 .4,3 .4-.2 .4,2.8 .4-1.7 .4-.9 .4,1.7 .4-3 .4-.7 .4,2.3 .4,1.4 .4-3.8 .4,3.9 .4,.1 .4-2 .4,1.1 .4-.6 .4,.6 .4,1.1 .4-2.4 .4,2.9 .4-.2 .4,.1 .4-4.3 .4,.2 .4,3.9 .4-1.8 .4-.2 .4,0 .4-.8 .4,1.6 .4-.6 .4,.1 .4,1.8 .4-2.5 .4,3.5 .4-5 .4,7.2 .4-5.8 .4,2.9 .4,.6 .4-1.4 .4,1.2 .4-1.3 .4-2.4 .4,3.2 .4,1.2 .4-2.5 .4-1.8 .4,1.7 .4,1.4 .4,0 .4,1.3 .4-.8 .4-.1 .4-3.8 .4,6.4 .4-3.2 .4,1.8 .4-2.4 .4,.3 .4,.4 .4,2.2 .4,0 .4-1.4 .4,2.1 .4-3.5 .4,1.7 .4-1.8 .4,2.6 .4-1.8 .4,1.4 .4,1.1 .4-5.7 .4,6.4 .4-2.7 .4-1 .4-2.4 .4,2.2 .4-2.7 .4,3.6 .4-.4 .4,3 .4-3.2 .4,2.1 .4,.2 .4,1.3 .4-3.4 .4,1.5 .4-3.4 .4,.6 .4,1.3 .4,.4 .4-1.8 .4,1.2 .4,1.7 .4-1.7 .4,.4 .4-1.1 .4,3.5 .4,.6 .4-2.4 .4-.4 .4,2.6 .4-1.7 .4-1.7 .4-1.1 .4,1.2 .4,4.2 .4-4.2 .4,5.2 .4-4.3 .4-.3 .4,2.3 .4-2.3 .4,.9 .4-2.1 .4-.3 .4,.8 .4,1.4 .4-1.3 .4-1.9 .4,3.6 .4-.9 .4-.2 .4-.5 .4-2.4 .4,5.7 .4-3 .4,1.5 .4,1.3 .4-.4 .4-1.4 .4-.3 .4,.5 .4,.9 .4-.5 .4-1.5 .4,1.3 .4-.1 .4,.5 .4-.7 .4,1.7 .4-1.7 .4,1 .4-1.2 .4-.9 .4-.6 .4,1.2 .4,1.1 .4,1.1 .4-2.1 .4-.6 .4,0 .4,2.7 .4-1.7 .4-.9 .4,1.8 .4-3 .4,2.1 .4-.2 .4-.1 .4-1.6 .4,3.2 .4,1.1 .4-4.5 .4,2.2 .4,.7 .4,2.4 .4-3.9 .4-.8 .4,1.4 .4,3 .4-2.9 .4,.3 .4,2.3 .4-5.8 .4-.1 .4,4.6 .4-.2 .4-3.2 .4,2.8 .4-.7 .4,.3 .4-1.5 .4,.5 .4-.6 .4,1.4 .4-.5 .4,2.9 .4-1.6 .4-3.2 .4,2.9 .4,1.5 .4-1.7 .4,1.2 .4-1.6 .4,1.1 .4-2.5 .4,2.6 .4-3.2 .4,3.9 .4-4.1 .4-.9 .4,3.9 .4-1 .4,.4 .4,.5 .4-.7 .4-1.2 .4,1.6 .4,.2 .4,.2 .4,2.2 .4-4 .4,1.2 .4,.7 .4-1.5 .4-1.1 .4,1 .4,2.4 .4-2 .4,1.3 .4-2 .4,1.8 .4-1.7 .4-.2 .4,1.4 .4-.1 .4,2.1 .4-4.5 .4,3.1 .4,1.6 .4-.4 .4-2.5 .4-.4 .4,.2 .4,1.2 .4-.2 .4,.3 .4,.3 .4-2.4 .4-.1 .4-.1 .4-.2 .4,1.8 .4,.6 .4,3.3 .4-2.9 .4-.8 .4,2.1 .4-3.2 .4,1.6 .4,.9 .4-.2 .4-.6 .4-1.1 .4-1.3 .4,1.6 .4-.6 .4,1.8 .4-1.2 .4,1.1 .4-3.2 .4,3.8 .4-2.7 .4-1 .4,.3 .4,1 .4,2.6 .4-.6 .4-2.7 .4,1.8 .4-.3 .4-2.1 .4,.8 .4-1.5 .4,1.7 .4-2.5 .4,2.6 .4-.2 .4,.2 .4,0 .4,2.9 .4-2.2 .4,.9 .4,.7 .4,.2 .4-.3 .4-1.8 .4-.8 .4,.5 .4,.5 .4,.6 .4-.1 .4,1.7 .4-1.7 .4,2.7 .4-1.1 .4-2.1 .4,1.9 .4-5.4 .4,6.1 .4-1.3 .4-.1 .4-2.9 .4,6 .4-4 .4,.2 .4,1.8 .4-1.9 .4-.9 .4,2.1 .4-2.4 .4,2.6 .4-.9 .4,1.4 .4-4.2 .4,4.4 .4-1.4 .4,2.4 .4-3.7 .4,3.6 .4-1.7 .4,.2 .4-2.2 .4,1.8 .4,.2 .4-2.2 .4-.4 .4,.5 .4,3.2 .4-1.8 .4,1.1 .4-.9 .4-.3 .4,.2 .4-.9 .4,2.3 .4-1.5 .4,.1 .4-2.3 .4,2.4 .4-1.4 .4,.3 .4,2.2 .4-3.1 .4,1.3 .4,1.2 .4,.7 .4-2.3 .4,1.2 .4-.1 .4-2 .4-1.4 .4,.3 .4,3.6 .4-.7 .4-2.1 .4,.6 .4,.8 .4,0 .4,.5 .4,3.2 .4-4.3 .4,1.3 .4-1.3 .4,.3 .4-.4 .4,.9 .4-.4 .4,1.2 .4-.1 .4-2.2 .4,4.6 .4-4.4 .4,2.2 .4,2.5 .4-4 .4,2.8 .4,.2 .4-1.5 .4-3.1 .4,4.6 .4-1.8 .4-1 .4,2.6 .4-2.8 .4,2.5 .4-2.3 .4,1.6 .4-2.3 .4,.9 .4-.7 .4,.3 .4,1.3 .4-.5 .4,.5 .4,1.5 .4-1.9 .4-2.5 .4,2.2 .4,.5 .4,1.4 .4,0 .4-.1 .4-1.7 .4,1.2 .4-2.9 .4,3.9 .4-1.2 .4,.1 .4-1.3 .4,.6 .4-1 .4,1.7 .4-2.6 .4,3.2 .4-.2 .4,1.7 .4-2.9 .4-.1 .4,.4 .4-.2 .4-.2 .4-1.4 .4,0 .4,.8 .4,.4 .4-1.3 .4,.1 .4,1.2 .4,1.4 .4-1.3 .4,1.2 .4,.4 .4-.2 .4-1.7 .4,0 .4-2 .4,1.6 .4,1.7 .4-2.2 .4,3.4 .4,.1 .4-2.5 .4,1.8 .4-3.3 .4,.5 .4,1 .4,.5 .4-.2 .4-1 .4,4 .4-2.4 .4,0 .4,.6 .4-.7 .4-.6 .4-.4 .4-1.5 .4,4.3 .4-3.3 .4-1.1 .4,1.2 .4-1.1 .4,5 .4-2.3 .4,1.5 .4,.1 .4-1.3 .4,0 .4-1.8 .4,.9 .4-.7 .4,.9 .4-1 .4,2.7 .4-.7 .4-1.2 .4-2.2 .4,3.3 .4,.3 .4-1.3 .4-1.7 .4,2.3 .4,.9 .4-4.1 .4,3.4 .4-3.3 .4,2.7 .4,2.3 .4-2.3 .4,.5 .4-1.1 .4,.4 .4,3.3 .4-1.4 .4-2.3 .4-.1 .4,.6 .4,3 .4-2.8 .4,1.3 .4-2.1 .4-1.2 .4,3.6 .4-2 .4-.9 .4,.1 .4,0 .4,.1 .4-1.3 .4,3.8 .4-1.1 .4,.8 .4-1.8 .4,.9 .4-.2 .4,1.3 .4-.5 .4-.6 .4-1.4 .4-.7 .4,.5 .4,.3 .4,.1 .4-1 .4,4 .4-1.9 .4-4.5 .4,2.6 .4-.3 .4,2.1 .4,1.2 .4-2.8 .4,2.1 .4-1.2 .4,2 .4,.2 .4-1.4 .4,.6 .4-1 .4-.5 .4-1.1 .4,2 .4-.5 .4-.5 .4,.4 .4-.1 .4-1.2 .4,.7 .4,2.3 .4-1.9 .4,2.2 .4-3.5 .4-.2 .4,2 .4,.8 .4-1.9 .4,1.7 .4,.4 .4,.2 .4-1.6 .4,.1 .4-2.2 .4,2.3 .4,.3 .4,1.5 .4-3.6 .4,.5 .4-.2 .4,3.2 .4-5.3 .4,2 .4,4.2 .4-1.9 .4-2.7 .4,1.7 .4,1.2 .4-.4 .4-1.1 .4-.7 .4,2.1 .4-1.1 .4,1.1 .4-.6 .4-1.2 .4,2.6 .4-2.7 .4,1.3 .4-1.5 .4,.5 .4,0 .4-.6 .4,1.2 .4,1.4 .4,.7 .4-.6 .4-2.2 .4,2.2 .4-1.4 .4,1.8 .4-4.1 .4,3.6 .4-3.2 .4,2.7 .4-2.2 .4,1.8 .4-1.6 .4-2.2 .4,1.2 .4,.9 .4,.3 .4-3.1 .4,1.4 .4,.5 .4,.7 .4,.5 .4-1.5 .4-1 .4,2.4 .4-.9 .4,1.5 .4-1.9 .4,1.4 .4-2.1 .4,1.5 .4-.4 .4,.4 .4-1.9 .4,.9 .4-1 .4,.7 .4,.9 .4,3 .4-4 .4,.7 .4-.9 .4,1.1 .4-1 .4,.5 .4-1.1 .4,2.5 .4-1.6 .4-4.3 .4,2.3 .4-.5 .4-3.4 .4,1.5 .4,.1 .4-.7 .4,.7 .4-3 .4,2.8 .4-.5 .4-1.2 .4-1.6 .4-.2 .4-1.5 .4,1.3 .4-1.9 .4,.9 .4-4.4 .4,1 .4-4.3 .4-1.4 .4-3.3 .4-.6 .4-3.8 .4-2.9 .4-3.4 .4-7.5 .4-6.1 .4-7.3 .4-10.8 .4-11.9 .4-12 .4-15 .4-16.8 .4-19 .4-22.5 .4-20 .4-20.1 .4-21.5 .4-14.5 .4-11 .4-1.5 .4,7.1 .4,10 .4,15.6 .4,21.8 .4,21.2 .4,22.4 .6,26.3 .2,9.6 .4,17.6 .4,12.6 .4,16 .4,6.6 .4,10.5 .4,6.7 .4,7.3 .4,7 .4,4 .4,3.9 .4,2.5 .4-.9 .4,5.1 .4-1 .4,3.3 .4,1.5 .4,1 .4,2.4 .4-.7 .4,4.2 .4-.7 .4,1.4 .4,.1 .4,.8 .4-.7 .4,3.1 .4-3.4 .4,2.4 .4-.2 .4,.1 .4,1 .4-1.1 .4,2.4 .4,.2 .4-.7 .4,1.1 .4-2.1 .4-.7 .4,1.7 .4,.7 .4,3.6 .4-3.3 .4,1.8 .4-.1 .4,1.8 .4-2.5 .4,.8 .4-.9 .4-.8 .4-.7 .4,1 .4,3 .4-1.4 .4-.5 .4,.3 .4-.7 .4,.8 .4,.1 .4,.9 .4,.4 .4-3.2 .4,2.5 .4,1.5 .4-3 .4,1 .4,.6 .4,1.2 .4-.6 .4-1 .4,1 .4,.7 .4-.8 .4,1.9 .4-1.8 .4-1.8 .4,.4 .4,.8 .4,0 .4,1 .4-.3 .4,1.8 .4-1.1 .4,.8 .4-2.8 .4,.5 .4,1.4 .4-.7 .4,.7 .4-.5 .4-1.1 .4,3 .4-.7 .4-3.4 .4,1.2 .4,.8 .4,.8 .4-.9 .4-1.6 .4,2.7 .4-1.3 .4,1.8 .4-1.1 .4,.9 .4-.2 .4,0 .4-1.7 .4,1.9 .4-1 .4-1.9 .4,1.1 .4,.1 .4,1 .4,.3 .4-2.3 .4,2.3 .4-1 .4-1.3 .4,2.4 .4-2 .4-.6 .4,2.5 .4,.1 .4-1.9 .4,2.1 .4-.1 .4-1.9 .4,3.1 .4-2.6 .4,.3 .4-3.3 .4,3.8 .4-1.6 .4,1.6 .4-3.1 .4,3.6 .4,.3 .4,.5 .4-6.1 .4,4.4 .4-.4 .4-4.3 .4,2.8 .4,.8 .4,1.8 .4-3.4 .4,1.7 .4-.4 .4,.4 .4-1.1 .4,2.1 .4-.6 .4-3 .4,2.9 .4-2.5 .4,.4 .4,1.6 .4-1.5 .4,.4 .4,.5 .4-1 .4-1.7 .4-.8 .4,1.7 .4-.3 .4-1 .4-1.1 .4,.8 .4-1.7 .4-2.4 .4,1.3 .4-.6 .4-.8 .4-3.3 .4-1.3 .4-.5 .4-3.1 .4-2.2 .4-1.9 .4-4.5 .4-2.9 .4-7.3 .4-4.6 .4-8.1 .4-6.5 .4-12.4 .4-10.1 .4-8.7 .4-12.6 .4-9.5 .4-6.8 .4-4.9 .4-3.6 .4,4.3 .4,4.9 .4,8.6 .4,10 .4,9.9 .4,12 .4,9.1 .4,8.3 .4,8.4 .4,8.4 .3,4.4 .5,7.3 .4,2.7 .4,4.1 .4,5.4 .4,0 .4,4.2 .4,.7 .4-.1 .4,.1 .4,3.5 .4-.8 .4,.8 .4-.6 .4,4.2 .4-.8 .4,.5 .4,.8 .4,.2 .4,.1 .4,.9 .4-.7 .4-2.5 .4,4.3 .4-.2 .4-.3 .4,2.1 .4-4.2 .4-.9 .4,5.5 .4-1.1 .4-2.4 .4,1.6 .4,1.4 .4-2.1 .4,2.3 .4,2 .4-.8 .4-1.7 .4,.5 .4-1.4 .4,1.4 .4-.5 .4-.8 .4-.3 .4,4 .4-2.2 .4-1.3 .4,.8 .4,2.4 .4,.2 .4-2.7 .4,1.1 .4,.8 .4-1.4 .4-1 .4,.3 .4,1.2 .4-.9 .4-.6 .4,1.3 .4,1.5 .4-.3 .4-1.1 .4,2.7 .4-3.3 .4,.9 .4-1.5 .4,2.6 .4-1.1 .4-1.9 .4,1.1 .4,3.2 .4-1.3 .4-.7 .4,.9 .4-2.9 .4,.9 .4-.6 .4,.7 .4,.5 .4,1.1 .4,.6 .4,0 .4,2.1 .4-3.8 .4,.5 .4,.7 .4-1.6 .4,.7 .4,.8 .4-1.5 .4,1.6 .4,.9 .4-2.8 .4-1.4 .4,2.9 .4-1.3 .4,1.6 .4-.9 .4,.9 .4,1 .4-.4 .4-1.4 .4-.9 .4-1.6 .4,.4 .4,1.6 .4,1.1 .4-.9 .4,.1 .4-1.2 .4-.1 .4,0 .4,2.8 .4-3.1 .4,3.2 .4-1.9 .4,1.7 .4-.2 .4,.5 .4,.5 .4-2.4 .4-.2 .4,.7 .4-.4 .4,1.7 .4-.9 .4,.1 .4,.5 .4-1.1 .4,1.9 .4-3.5 .4,2.5 .4,.3 .4-1.5 .4,.1 .4,1.9 .4-1.4 .4-2 .4,.7 .4,2.9 .4-2.3 .4,2.6 .4,.1 .4-1.9 .4,.9 .4-1.6 .4,.5 .4-.3 .4,1.5 .4-2.2 .4,1.3 .4,.3 .4,.5 .4-3.1 .4,.4 .4,1.1 .4,.8 .4,.4 .4,.1 .4,2.1 .4-1.6 .4-.1 .4-1.2 .4,1.5 .4-.1 .4,0 .4-1 .4,.9 .4,1.1 .4-2.8 .4-1.6 .4,3.5 .4-.1 .4-1.1 .4-.2 .4,3.8 .4-3.9 .4-.9 .4,.9 .4,1.2 .4-1.3 .4,.2 .4,.9 .4-.9 .4,.7 .4-.2 .4-1.2 .4,1.3 .4-1.4 .4,2.4 .4-2.2 .4,.9 .4-1.9 .4,1.6 .4-1.7 .4,4 .4-1.9 .4,.8 .4-2.7 .4,.6 .4,1.3 .4-1.4 .4,2.9 .4-1.8 .4,.6 .4,.2 .4-.5 .4,1.1 .4-1.7 .4,1.2 .4,1 .4-1.2 .4-.1 .4-.5 .4,.5 .4,.7 .4-1.1 .4-1.7 .4,2.2 .4-.4 .4,.7 .4-.5 .4,1.8 .4-3.2 .4,.3 .4,1.9 .4-2 .4,1.6 .4-.4 .4-2.3 .4,3.1 .4,.8 .4-1.4 .4-1.8 .4,2.5 .4-2.1 .4,1.1 .4,.6 .4-1.4 .4-1.1 .4,1.8 .4,.2 .4-1 .4,.1 .4,1.8 .4-1 .4-.4 .4-.2 .4,.9 .4-.1 .4-.3 .4-1.4 .4,1.2 .4-.3 .4,.8 .4,1.2 .4-.2 .4-.4 .4-.6 .4-.5 .4,.8 .4-1 .4,.2 .4-.6 .4,.9 .4,0 .4,2.2 .4-1.5 .4-1.1 .4,1.4 .4-1.5 .4,1.7 .4-.3 .4,2.5 .4-4.6 .4,1.2 .4-.1 .4,.5 .4,.4 .4-1.9 .4-.1 .4,1.6 .4,.7 .4-2.4 .4-.4 .4,3 .4-.3 .4,.2 .4-2.3 .4,.9 .4,.4 .4,.3 .4-.7 .4,.1 .4,1.2 .4-1.6 .4-.2 .4,.1 .4-.1 .4,.8 .4-.4 .4-.3 .4,2.1 .4-1.3 .4-.7 .4,1.8 .4-2.1 .4,.6 .4-.1 .4-.5 .4,.2 .4,.5 .4-1.7 .4,1.1 .4,.7 .4,0 .4,0 .4,2.3 .4-1.9 .4-.9 .4,0 .4,.1 .4,.7 .4-1.1 .4,2 .4-2.9 .4,1.9 .4-.2 .4-1.8 .4,1.9 .4-.1 .4-1.4 .4,3.3 .4-1.8 .4-1.2 .4-.2 .4-.3 .4,1 .4-.2 .4-1.7 .4,.4 .4,.3 .4,.3 .4,0 .4-.4 .4,1.4 .4,.3 .4-1 .4-2.6 .4,2.1 .4,.8 .4-.8 .4,.3 .4-.2 .4-1.8 .4-1.3 .4,3.4 .4-1.4 .4,1 .4-.9 .4,0 .4,1.6 .4-2.9 .4,1.1 .4-1.3 .4,1.1 .4,.3 .4,.1 .4-.8 .4-1.8 .4,1.6 .4,.5 .4-.1 .4,1 .4-2 .4-2 .4,.2 .4,.4 .4,.7 .4-2.8 .4,1.9 .4-.7 .4-2.2 .4,1.1 .4-2 .4,.2 .4-1 .4-.1 .4-2.4 .4,1 .4-3.9 .4,.8 .4-1.5 .4,.9 .4-2.8 .4-3 .4-2.7 .4-1.7 .4-3.9 .4-.8 .4-10.1 .4-2.6 .4-9.5 .4-4.5 .4-11.8 .4-8.9 .4-15.8 .4-13.6 .4-18.3 .4-18 .4-21.6 .4-24.1 .4-17.7 .4-18.7 .4-10.9 .4-7.8 .4-.6 .4,7.7 .4,13.2 .4,16.9 .4,22.9 .4,19 .4,19.9 .4,17.7 .4,18.3 .6,23.1 .2,6.3 .4,11.3 .4,10.2 .4,7.2 .4,8 .4,4.1 .4,5.4 .4,4 .4,5 .4,2.3 .4,1.8 .4,.6 .4,2.5 .4,2.7 .4,1.8 .4-1.8 .4,2.1 .4,1.5 .4,1.1 .4,.3 .4,1.4 .4-1.6 .4,3.8 .4-2.4 .4,1.7 .4,1 .4,1.1 .4,.1 .4,.3 .4,.7 .4-1.2 .4,1.3 .4,1.1 .4-2.2 .4-.5 .4,.6 .4,2.8 .4,0 .4-1.5 .4,.8 .4,.4 .4,.8 .4-3 .4,1.5 .4,.5 .4,.7 .4-.1 .4-.3 .4,.7 .4-2.9 .4,6.1 .4-2.3 .4,.2 .4-1.6 .4,1.2 .4,1.8 .4-.1 .4-1.8 .4-1.4 .4,1.6 .4-.4 .4,1.3 .4-2.3 .4,1.3 .4,.5 .4-.7 .4,1.6 .4-2.3 .4,0 .4,1 .4,1.3 .4-1.2 .4-.3 .4,1.6 .4-.6 .4-.8 .4,.7 .4-.3 .4,.9 .4-.4 .4-1 .4,.4 .4,.1 .4,.8 .4,.1 .4-1.3 .4,.7 .4,.6 .4,.8 .4-.8 .4,1.8 .4-2 .4,.7 .4-1.1 .4-.7 .4,1.2 .4,.5 .4,0 .4-.4 .4-.5 .4-.5 .4,.6 .4,.8 .4,.6 .4-4.5 .4,4.1 .4,.6 .4,.2 .4-.9 .4,.3 .4-1.2 .4,.4 .4,.7 .4-1.7 .4,.3 .4,1.1 .4-1.7 .4,1.5 .4-1.6 .4,1.8 .4-.2 .4-.6 .4-.4 .4,.5 .4-1.8 .4,2 .4,.5 .4,1.2 .4-1.8 .4,.3 .4,1.7 .4,.4 .4-2.4 .4,1.7 .4,.1 .4-.7 .4-1.6 .4,.1 .4,1.6 .4,1.9 .4-2.7 .4,1.9 .4,.3 .4-3.3 .4,.7 .4,2.3 .4-.6 .4-.4 .4-.6 .4,.7 .4-1.4 .4,3.4 .4-3.9 .4-.7 .4,2.1 .4,1.4 .4-2.1 .4,.5 .4-1 .4,1 .4-1 .4,0 .4-.4 .4,.9 .4,2.6 .4-2 .4,.2 .4,3.4 .4-4.2 .4-.4 .4,1.6 .4-1.8 .4,1.6 .4,.9 .4-2.3 .4,.5 .4,2.4 .4-2.9 .4,.4 .4,1 .4-.6 .4-.6 .4,2.6 .4-2.3 .4,1 .4-.8 .4,.2 .4-1.2 .4,2.4 .4-1.4 .4,1.8 .4-2.5 .4,.7 .4,1 .4-.4 .4-.8 .4,.6 .4-1.2 .4,1.4 .4-2.8 .4,2.9 .4,1.3 .4-.5 .4-.1 .4-1.3 .4,1 .4-1 .4,.4 .4,0 .4-3.4 .4,4.5 .4-.5 .4,.4 .4-1.9 .4,1.7 .4-.2 .4-2.8 .4,.5 .4,1.9 .4-.8 .4,.7 .4-.6 .4,2.2 .4-3.5 .4,.5 .4,.4 .4-.4 .4,.9 .4,.5 .4-1.3 .4,1.8 .4,1 .4-.3 .4,1 .4-.9 .4-1.2 .4,1.9 .4-1.1 .4,1.2 .4-2.2 .4-1.9 .4,.9 .4,1.4 .4,.4 .4-.8 .4,1.3 .4-2.2 .4,.4 .4,1.8 .4-1 .4,.1 .4,1.3 .4-.3 .4-2.3 .4,1.4 .4-2 .4,1.8 .4,.4 .4-2.2 .4,3.4 .4,.5 .4-1.6 .4,.5 .4,.6 .4-1.7 .4,1.2 .4-.6 .4-2 .4,.6 .4,.4 .4,1.7 .4-1 .4,.9 .4-1.5 .4-.8 .4,3.4 .4,.7 .4-2.4 .4-.6 .4,1.4 .4-2.3 .4,.9 .4-1.2 .4,1.9 .4-.2 .4-.7 .4-.2 .4-.9 .4,.7 .4,2.1 .4-1.6 .4,1.7 .4-2.2 .4,.8 .4-.4 .4,.2 .4,1.1 .4-2.9 .4,2.8 .4,0 .4-.7 .4,.1 .4-.3 .4,.9 .4-.6 .4-1 .4,1.1 .4,.8 .4-.6 .4-.3 .4,.1 .4-.7 .4,.1 .4-1.5 .4,1.8 .4,1.2 .4-1.4 .4-.6 .4,1.9 .4-.8 .4,0 .4,.4 .4,.2 .4-.8 .4-.8 .4,2.7 .4-1.8 .4-.8 .4,1 .4,1 .4-2.6 .4,2.7 .4-1.4 .4,2.1 .4-1.3 .4-.8 .4,1.4 .4,0 .4-1.6 .4,.6 .4-.8 .4,1.5 .4-2.4 .4,1.3 .4-2 .4,2.7 .4-2.8 .4,1.2 .4,1.3 .4-.6 .4-.1 .4-.5 .4,.5 .4-1.3 .4,2.1 .4,.5 .4-.1 .4-.8 .4,1.3 .4-.5 .4,.2 .4-.5 .4-.4 .4-.8 .4-1.8 .4,3.2 .4-.7 .4,2.1 .4-4 .4,2.8 .4-1.7 .4,.9 .4-1.3 .4,1.7 .4-.4 .4,.9 .4-.7 .4,.3 .4,.8 .4-.8 .4-.6 .4,1.4 .4-1.4 .4,.5 .4-.7 .4-.3 .4-2.3 .4,3.6 .4-1.8 .4,1.9 .4,1 .4-3.1 .4,2.2 .4-.9 .4,.5 .4-1.6 .4,1.2 .4,.1 .4,1.3 .4,.7 .4-1.8 .4-.7 .4,2.6 .4-2.3 .4,0 .4,.2 .4,.3 .4,.3 .4-1.3 .4,.5 .4,1.9 .4-.2 .4-1.2 .4-.1 .4-.5 .4,1.2 .4-1.5 .4,.6 .4-.5 .4-.2 .4,.7 .4-.1 .4-.6 .4,.6 .4,.1 .4-.5 .4-.2 .4,.5 .4,.8 .4,.4 .4-.9 .4-.4 .4,.2 .4,1.9 .4-1 .4-1.8 .4,.9 .4-.5 .4,.2 .4-1.3 .4,1.7 .4-1.4 .4,.8 .4,2 .4-.5 .4-1.8 .4-.1 .4,.1 .4-1 .4,.9 .4,.7 .4-.8 .4,1.8 .4-.8 .4-.4 .4,2.2 .4-1 .4-.7 .4,1.8 .4-.5 .4-2 .4,1 .4-.7 .4-1 .4,3.2 .4-.3 .4-2.7 .4,1.7 .4-2.1 .4,2.6 .4-1.1 .4-.2 .4,1.5 .4-1.2 .4-.2 .4,1.1 .4-1.2 .4,1.2 .4-.9 .4,.8 .4-.2 .4,.2 .4-1.8 .4,2.8 .4-1.9 .4,1.8 .4-2.3 .4,.4 .4,0 .4,1.3 .4-1.5 .4,.8 .4-1.9 .4,1.1 .4,.6 .4-.3 .4-1.7 .4,2.3 .4-1.4 .4,2.8 .4-2.1 .4,2.4 .4-1.5 .4-.2 .4-.9 .4,.3 .4,.6 .4-2.4 .4,2.9 .4-2.1 .4,.9 .4-2.4 .4,3.1 .4,.3 .4-.5 .4,.1 .4-.7 .4,.5 .4,1 .4-1.6 .4,.9 .4,.2 .4-.9 .4,.5 .4,0 .4-.7 .4,2.8 .4-2.8 .4,2.1 .4-.6 .4-3 .4,2.2 .4,.7 .4-.2 .4-1.6 .4,1.1 .4-1.4 .4,.1 .4,.8 .4,.4 .4,1.4 .4-1.2 .4,.7 .4-2.2 .4,0 .4,.7 .4,2.1 .4-3 .4-.2 .4,1.5 .4,1.2 .4-2.8 .4,1.4 .4-1.8 .4,3.4 .4-.7 .4-.4 .4-.3 .4-.2 .4,.3 .4-.7 .4-.3 .4-.2 .4,1.1 .4-.8 .4,1.6 .4-2.9 .4,2.6 .4,0 .4,.7 .4-1.5 .4-1.2 .4,.6 .4,2 .4-1.4 .4-.1 .4-.2 .4,.5 .4-.2 .4-1.3 .4,1 .4,1.5 .4,.4 .4-1.5 .4-.4 .4,1.8 .4-1.5 .4-.9 .4,1 .4,.8 .4,.8 .4-2 .4,1 .4-1 .4,1.5 .4-.8 .4,0 .4-1.2 .4,.6 .4,0 .4-3.2 .4,4.3 .4-.8 .4-.2 .4-.2 .4,.4 .4,.1 .4-1.5 .4,1.4 .4,0 .4-.1 .4-1.5 .4,1.3 .4-1.1 .4,1.5 .4,.9 .4-.4 .4-1.2 .4-.2 .4,0 .4,.8 .4-1.3 .4,.4 .4-1.9 .4,1.6 .4,0 .4,.2 .4,1.7 .4-2.5 .4,0 .4,1.8 .4-1.6 .4,.8 .4,.2 .4-.1 .4-.8 .4,1.5 .4,.5 .4-2.4 .4,.6 .4,1.1 .4-1.1 .4-.8 .4,.4 .4,1.2 .4-1.8 .4,1.1 .4,.2 .4-1.3 .4,1.1 .4,0 .4,.2 .4-.2 .4-2.4 .4,2.2 .4-.5 .4,.2 .4-1.8 .4,1.5 .4-.7 .4-1.7 .4,2.1 .4-2.2 .4-.5 .4,1.1 .4-1.2 .4,.5 .4-.9 .4,.1 .4,0 .4-1.3 .4,.3 .4-.7 .4-2.4 .4,.7 .4-1.2 .4-1.7 .4-.5 .4-1.1 .4-2.8 .4-4.3 .4-.7 .4-3.5 .4-3.5 .4-3.1 .4-4.8 .4-2.8 .4-6.3 .4-5.6 .4-4.9 .4-5.7 .4-5.3 .4-5.8 .4-5.3 .4-3.5 .4-4.4 .4,0 .4,3.3 .4,1.3 .4,5.8 .4,4.8 .4,2.5 .4,7.2 .4,8.1 .4,2.2 .4,6.4 .4,4.4 .4,4.5 .5,5 .3,3 .4,3.9 .4,1.4 .4,3.7 .4,1.1 .4,3 .4,1.4 .4,.3 .4,2.1 .4,.2 .4,.8 .4,2.6 .4-2.1 .4,2.8 .4,.6 .4-.7 .4,1.9 .4,.2 .4-1.7 .4,2 .4,.2 .4-.8 .4,1.4 .4,.4 .4-1.2 .4-1 .4,2.4 .4-.9 .4-.7 .4,1.3 .4-1.7 .4,2 .4,1.9 .4-4 .4,3.2 .4-1.2 .4,.6 .4-.4 .4,1.5 .4-.5 .4-.7 .4-.4 .4,.9 .4,1.5 .4-2.1 .4,1.6 .4,0 .4-2.2 .4,3 .4-1.1 .4,2.2 .4-.4 .4-1.9 .4,.2 .4-.7 .4-.4 .4,2.1 .4-.9 .4-.2 .4,.3 .4,.8 .4,.3 .4-.9 .4-.1 .4,.3 .4,1.8 .4-3.8 .4,.9 .4,1.5 .4-.3 .4,1.1 .4,.1 .4,.6 .4-2.6 .4,1.4 .4-.8 .4,1.1 .4-.7 .4,.7 .4-1.5 .4,.9 .4-.7 .4,.3 .4-.2 .4-.5 .4,2 .4-.7 .4,.7 .4-1.9 .4-.9 .4,1.2 .4,.5 .4,.9 .4,.2 .4,.2 .4,.3 .4-.7 .4-.6 .4-.8 .4,1.4 .4-1.1 .4-.3 .4,1.3 .4-.3 .4,.6 .4-1.5 .4,1.8 .4-.8 .4-.5 .4-.5 .4-.3 .4-.2 .4,2.5 .4-2.6 .4,1.9 .4-.8 .4-.3 .4,.1 .4,.4 .4,.9 .4-.3 .4-.5 .4-1.3 .4-.4 .4,3.4 .4-2.6 .4-.5 .4,2.4 .4-2.4 .4,2.1 .4,.2 .4-.7 .4,.7 .4-2.1 .4,.1 .4,1 .4,.1 .4,0 .4,.5 .4-1.1 .4-1.3 .4,2.3 .4-.5 .4,.9 .4,1.2 .4-1.9 .4,.5 .4-1.3 .4,1.6 .4-.5 .4-.1 .4,.6 .4-1.8 .4,1.5 .4-.1 .4,1.1 .4-3.2 .4,1.6 .4,2.1 .4-2.4 .4,0 .4,2 .4,.7 .4-2.1 .4-.8 .4,.1 .4,.2 .4-.4 .4,0 .4,.9 .4-.1 .4,.4 .4-.4 .4-1.2 .4,1.8 .4-.4 .4-.8 .4,.3 .4,.5 .4-.2 .4-.2 .4,.8 .4,.3 .4-1.2 .4,.2 .4-1 .4,.9 .4,.6 .4,.3 .4-.6 .4-.2 .4-.6 .4,.8 .4-1.2 .4,1.2 .4-.1 .4-.9 .4,1.1 .4-.5 .4,.8 .4-1 .4,.9 .4,1 .4-1.3 .4,.6 .4-1.3 .4,.2 .4-1.4 .4,1.6 .4-.9 .4,1.1 .4-1.9 .4,1 .4,.9 .4,.3 .4-1.9 .4,1.1 .4,2.7 .4-1.6 .4-.5 .4-2.7 .4,1.7 .4,1.3 .4-.3 .4,.2 .4,.5 .4-.8 .4,.6 .4-2.3 .4,3.8 .4-2.5 .4-.3 .4,1.9 .4-.8 .4,.3 .4-1.4 .4,.8 .4,.4 .4-1.7 .4,.8 .4,0 .4-.1 .4-.3 .4-.5 .4,1.5 .4-.2 .4,.8 .4-1.1 .4-.5 .4-.8 .4,1.4 .4-.3 .4,2 .4,.3 .4-.7 .4-2.2 .4-.5 .4,1.1 .4-.6 .4,2 .4-1.2 .4-.4 .4,.3 .4,1.1 .4-2 .4,1.3 .4-1.6 .4,1 .4-.5 .4,.9 .4-.2 .4,1 .4-.5 .4-1.2 .4-.7 .4,.5 .4,.3 .4,.2 .4-.5 .4,1.6 .4-.2 .4-1.1 .4-.2 .4,.2 .4,.1 .4,0 .4-1.4 .4,1 .4-1.3 .4,1.7 .4,.5 .4-1.6 .4,1.1 .4-.8 .4-.1 .4,2.3 .4-1 .4-.4 .4-.9 .4,.7 .4-.5 .4,.5 .4-1.3 .4,.7 .4-.4 .4-1 .4,2.7 .4-.8 .4-1.5 .4-.7 .4,.5 .4-.2 .4,.1 .4-.9 .4,.5 .4,.7 .4,.2 .4-2.3 .4,1.6 .4-1 .4-.2 .4,.5 .4-.5 .4,1 .4-.2 .4-1.1 .4-.6 .4,1.9 .4-.2 .4-1.6 .4-.8 .4,.7 .4,0 .4-2.2 .4,2.5 .4-3.1 .4,.6 .4-2.1 .4-.1 .4-1.3 .4-.4 .4-.1 .4-2.8 .4-.7 .4-.7 .4-2.7 .4,.3 .4-5.5 .4,.8 .4-6.1 .4-2.4 .4-3.8 .4-6 .4-7.6 .4-5.6 .4-7 .4-7.7 .4-8.6 .4-9.4 .4-9.7 .4-12.4 .4-8.3 .4-11.6 .4-6.1 .4-6.8 .4-3.7 .4,2.4 .4,2.2 .4,6.6 .4,5.5 .4,9.5 .4,11 .4,9.7 .4,10.7 .4,8.9 .4,9.2 .4,7.5 .4,9.5 .4,5.2 .2,2.2 .6,9.6 .4,4.2 .4,3.6 .4,3.2 .4,2.3 .4,2.6 .4,.1 .4,2.4 .4,1.7 .4,2.7 .4,1.9 .4-.3 .4,.8 .4,2 .4-.6 .4,1.5 .4,.3 .4-1 .4,1.9 .4,.3 .4-.8 .4,.4 .4,.2 .4,2.6 .4,1 .4-1 .4,1 .4-2.4 .4,2.7 .4,.7 .4-.1 .4-2.1 .4,1.9 .4-.9 .4,1.2 .4-1.4 .4,.8 .4-.4 .4,1 .4-.4 .4,1.2 .4-.2 .4-.2 .4-.3 .4-.2 .4,.4 .4,1 .4-.8 .4,.2 .4-.2 .4,0 .4-.4 .4-1 .4,2.2 .4,0 .4-1.3 .4,2.7 .4-2.7 .4,1.9 .4-.6 .4,.1 .4,.8 .4-.2 .4-.7 .4-1 .4-.1 .4,1.3 .4,1.3 .4-.6 .4-.8 .4,.4 .4,.3 .4,1 .4-2.2 .4,1.3 .4-.3 .4-.9 .4-.2 .4,2 .4-.8 .4-.5 .4,.3 .4,.8 .4-.7 .4,1.3 .4-1.6 .4-.5 .4,.7 .4-.8 .4,.6 .4,1.4 .4,.4 .4-.9 .4-.4 .4-1 .4,0 .4,1.2 .4-.2 .4-.6 .4,.1 .4,1.8 .4-.5 .4-.8 .4,.2 .4,.9 .4-.8 .4-.1 .4-1.6 .4-.1 .4-.2 .4-.3 .4,2 .4,.3 .4-1.1 .4,1.2 .4,0 .4-.4 .4-1.3 .4,2.6 .4,0 .4-1.8 .4,2.2 .4-1.6 .4-.8 .4,.4 .4-1.3 .4,1.3 .4-1.1 .4,2.4 .4-.7 .4-1.6 .4,1.7 .4-2 .4,1.6 .4,.3 .4-.4 .4-1.1 .4,.8 .4-.1 .4,.1 .4,1.1 .4,.1 .4-.2 .4-2.1 .4-.3 .4,.5 .4,.2 .4-2.4 .4,1.1 .4,1.9 .4-2.8 .4,.3 .4-.2 .4,1 .4-.5 .4-.2 .4-1 .4,2.1 .4-.4 .4-.4 .4,.8 .4,.9 .4-1.8 .4,.1 .4,.6 .4,.3 .4-1.7 .4,2.3 .4,1.6 .4-1.2 .4,1.3 .4-3.4 .3,2.5 .5,1.4 .4,.2 .4-1.7 .4-.3 .4,1.1 .4-1.4 .4,.8 .4-1.1 .4,1.5 .4,0 .4,1.4 .4-.9 .4-1.1 .4,.5 .4-1 .4,1.2 .4-.3 .4,.6 .4,.5 .4-2.6 .4,2 .4,.4 .4-1.7 .4,2.7 .4-2.3 .4,2.8 .4-1.5 .4,.2 .4-.6 .4,.6 .4-1.8 .4,.2 .4-1 .4,2.2 .4-1.1 .4,1.3 .4-.2 .4-1.7 .4,1.8 .4-.4 .4-.1 .4,.2 .4-.4 .4,0 .4,.9 .4-1.8 .4-.2 .4,.4 .4,1.5 .4-1.2 .4,2 .4-4.4 .4,2 .4,.2 .4,.6 .4,.9 .4-1.4 .4-.7 .4,1.6 .4,.5 .4-3.6 .4,2.7 .4-.3 .4-1.1 .4,.3 .4,.6 .4-.4 .4-.3 .4-.9 .4,1.2 .4-1 .4,.6 .4-.7 .4,.5 .4,.3 .4-.6 .4,.2 .4-1.9 .4,1.4 .4-.4 .4-1 .4,.2 .4-2.6 .4,2.3 .4-.7 .4-1.9 .4,2.1 .4-1.3 .4,.5 .4-.8 .4,.3 .4-.6 .4-.7 .4,.3 .4,0 .4-4 .4,2.7 .4-.9 .4-.7 .4,1.9 .4-.5 .4-1.9 .4-.2 .4,1.6 .4-1.3 .4,.3 .4-1.4 .4,1.7 .4,1.3 .4-1.2 .4,.6 .4,1.8 .4-.4 .4,.7 .4-.3 .4,.8 .4-2.1 .5,1.1 .3-.4 .4,3.7 .4-1.5 .4,.1 .4-.3 .4,.1 .4-1.2 .4,4.6 .4-1.7 .4,.3 .4-1 .4,1.4 .4,.6 .4-.2 .4,.8 .4-1.1 .4,1.2 .4,.6 .4-.1 .4,0 .4-.3 .4-.6 .4,1.4 .4-.7 .4-.4 .4,1.6 .4-2 .4,1 .4,1.2 .4,.2 .4-1.1 .4,.5 .4,.4 .4-.4 .4-.6 .4,1.1 .4-.2 .4,0 .4,.9 .4-.7 .4-.6 .4,.6 .4,1.5 .4-2.2 .4,.4 .4-.5 .4,1 .4-1.3 .4,1.5 .4,.3 .4-1.3 .4-.1 .4-.5 .4,1.3 .4-1 .4,.5 .4,.2 .4-.2 .4,1.3 .4,.6 .4-3.1 .4,1.1 .4,.9 .4-1.1 .4,.5 .4,.6 .4,1.1 .4-.2 .4-1.3 .4,.4 .4-.4 .4,.2 .4-.9 .4-.5 .4,1.2 .4,1.2 .4-.2 .4-2.2 .4,1.4 .4-.3 .4,.7 .4-1.1 .4,1.7 .4-1 .4,.7 .4,.3 .4-2.4 .4,1.5 .4,1.4 .4-1.2 .4,.9 .4-.6 .4-.7 .4,.6 .4,.7 .4,.2 .4,.1 .4-2.1 .4,1.6 .4-1.9 .4,1.1 .4,0 .4,.7 .4-.3 .4,.8 .4-1.6 .4,1.3 .4-.4 .4-.3 .4-1.1 .4,1.6 .4-.3 .4,.5 .4-.7 .4-.2 .4,.5 .4,.1 .4,.2 .4,1 .4-2.1 .4,2.2 .4-4.2 .4,3.3 .4-1.5 .4,2.4 .4-2.4 .4,1.6 .4-1.7 .4-.1 .4,1.6 .4,.1 .4-1.3 .4,2.6 .4-2.3 .4,1.6 .4-2.2 .4,.1 .4,.8 .4-.9 .4,1.3 .4-2.2 .4,1.9 .4-.6 .4-.3 .4,1 .4-.4 .4-.2 .4,1.1 .4-.4 .4,0 .4,.8 .4-1.1 .4,.7 .4-1 .4,.8 .4,0 .4-.9 .4-.8 .4,.2 .4,.2 .4,1.3 .4-.6 .4-.1 .4,.6 .4,.3 .4,.5 .4-1.7 .4,1 .4,.1 .4-1.3 .4,.9 .4-.9 .4,.6 .4,.5 .4-1.8 .4,.7 .4,.1 .4,.7 .4-.6 .4,.9 .4-1 .4,.2 .4,1 .4-.3 .4-.1 .4-.1 .4,.8 .4,.3 .4-1.4 .4-.3 .4-.3 .4,2.3 .4-2.2 .4-.3 .4,1.3 .4,.7 .4-1.9 .4,.9 .4-1.1 .4,.6 .4,2 .4-1.2 .4-.4 .4,.3 .4,.1 .4-.3 .4-.9 .4,0 .4,2.7 .4-2.3 .4,1.6 .4-1.6 .4,1.7 .4-.5 .4-.8 .4,1.9 .4-2.5 .4,.6 .4-.5 .4,.1 .4,.3 .4-.5 .4,.6 .4,1.5 .4-2.7 .4,.4 .4,.2 .4,.5 .4,1.2 .4-.3 .4-.2 .4-.2 .4,1.8 .4-2.9 .4,0 .4,.9 .4,.2 .4-.4 .4-.5 .4-.3 .4,.8 .4-.3 .4,.1 .4-.5 .4,2.1 .4-.8 .4,1.2 .4-2 .4,.5 .4-.4 .4,.4 .4-.3 .4,.1 .4-1.5 .4,1.4 .4,.8 .4-2.2 .4,1.3 .4,.8 .4,.6 .4-1.1 .4,.4 .4,1.1 .4-.4 .4-1.4 .4-.2 .4,1.4 .4-.7 .4-.6 .4,.2 .4,.5 .4-.5 .4,0 .4-.1 .4-.9 .4,2.6 .4-.4 .4,.2 .4-1.3 .4,.2 .4,.4 .4,.1 .4-2.1 .4,1.8 .4-1.2 .4,.8 .4-.5 .4,1.9 .4-.9 .4-.5 .4,1.2 .4-1.2 .4-.6 .4,.4 .4-.1 .4,.3 .4,.7 .4-.8 .4,0 .4,.9 .4-.5 .4,.4 .4-.7 .4-1.2 .4,.2 .4-.5 .4,2.3 .4-.6 .4-.7 .4-.5 .4,1.1 .4-.4 .4,.3 .4-.9 .4-.3 .4,2.2 .4-2.1 .4,.8 .4,1 .4-2.6 .4,2.1 .4-.6 .4-.2 .4,.3 .4-1.2 .4-.9 .4,3.4 .4-1.8 .4,.9 .4,.1 .4-.7 .4,.1 .4,.5 .4,.3 .4-.9 .4,.6 .4-1.4 .4-.1 .4,.3 .4,.2 .4,0 .4,1.1 .4-1 .4-.7 .4,1.5 .4-1.5 .4-.1 .4,0 .4-.8 .4-.7 .4,.8 .4-.5 .4-.7 .4,.6 .4-.5 .4-.6 .4-1.2 .4,1 .4,1.1 .4-1.1 .4-.3 .4-1.4 .4,.2 .4-2.1 .4-.6 .4-.1 .4-2.6 .4,.1 .4-1 .4-.2 .4-3.4 .4-.7 .4-2.6 .4-1.8 .4-3.7 .4-1 .4,0 .4-2.6 .4-2.3 .4,0 .4-3.3 .4-2.8 .4-.2 .4-.6 .4,1.2 .4-1.9 .4,1.7 .4,1.3 .4-.3 .4,1.9 .4-.4 .4,3 .4-.5 .4,2.7 .4,2.9 .4,.1 .4,.9 .4,1.3 .4,2.9 .4,.1 .4,1.8 .4,.2 .4,1.5 .2,.2 .6,2.8 .4,.9 .4,2.5 .4,1.1 .4,.2 .4,.5 .4-1.1 .4,2.6 .4,1.3 .4,.9 .4-2.5 .4,.9 .4,2.5 .4-.6 .4,.9 .4,0 .4,1.1 .4-1.7 .4,1.2 .4,1.3 .4-.4 .4-.7 .4,1.1 .4,0 .4-.8 .4,1.3 .4,.1 .4-.6 .4,.9 .4-1.6 .4,1.6 .4-.7 .4-.6 .4,.3 .4,1.5 .4-1.4 .4,.2 .4-.2 .4-.1 .4,1.4 .4,1.1 .4-.7 .4-.7 .4,.2 .4-.9 .4-.1 .4-.5 .4,2.1 .4-1.5 .4-.3 .4,.1 .4,.6 .4-.6 .4,.4 .4,.1 .4,.9 .4-2.1 .4,1.2 .4-.9 .4,.2 .4,1.6 .4-.9 .4-.9 .4,.9 .4-.7 .4,.8 .4-1.4 .4,.7 .4-.6 .4,0 .4-.2 .4-.6 .4,.5 .4,.5 .4-1.4 .4,0 .4,.3 .4-1.1 .4,1 .4-.4 .4-2.7 .4,1 .4-.8 .4,1.1 .4-.5 .4-2.3 .4-.2 .4-.3 .4-1.1 .4-.2 .4-.9 .4-1.6 .4-1 .4-1.8 .4-2.5 .4-2.3 .4-2.8 .4-.8 .4-2.6 .4-2.7 .4-4 .4-3.2 .4-2.7 .4-2.5 .4-3.9 .4-3.2 .4-3.6 .4-1.4 .4-1.7 .4-2.4 .4,1.8 .4-1.8 .4,2.6 .4,1 .4,2.6 .4,2.1 .4,3.2 .4,4.2 .4,2.6 .4,3.1 .4,4.1 .4,2.9 .4,2.4 .4,2.7 .4,3.6 .4,.7 .4,2.4 .4,1.9 .4,.2 .4,1 .4,3 .4,1.7 .4,.5 .4,.3 .4,.7 .4,1.8 .4-.2 .4-.5 .4,2.3 .4,0 .4,.5 .4,.9 .4,.5 .4-.3 .4-.3 .4-1.3 .4,2.1 .4-.2 .4,1.4 .4,.1 .4-.5 .4,.9 .4-1 .4,.1 .4-.5 .4,.6 .4,.5 .4,.7 .4-1.3 .4,1.3 .4,1.3 .4-2.8 .4,.9 .4,.3 .4,.9 .4,.8 .4-.5 .4-1 .4-.5 .4,.6 .4,.1 .4,.3 .4-.9 .4,2 .4-1.8 .4,1.2 .4-.3 .4-1 .4,.9 .4,0 .4-.2 .4,.9 .4-1 .4,2.4 .4-1.1 .4-1.5 .4-1.2 .4,2.9 .4-.7 .4-.1 .4-.8 .4-.4 .4-.3 .4,3.5 .4-.7 .4-1.7 .4,1.9 .4-2.9 .4,2 .4,.1 .4-1.2 .4,.3 .4-.5 .4,.9 .4,1 .4-.2 .4-.5 .4,.6 .4-2.2 .4,2.9 .4-1.6 .4-.9 .4,.7 .4-.2 .4,.6 .4,.2 .4-2.1 .4,2.9 .4,.3 .4-2.5 .4,2.4 .4-.2 .4-.2 .4,.5 .4-2.3 .4,1.6 .4-1.3 .4,2.6 .4-2.6 .4-.2 .4,1.9 .4-.4 .4-.5 .4,.1 .4,.4 .4,.9 .4-1.9 .4,.1 .4,0 .4,.4 .4,.1 .4-1 .4,1.2 .4-1.2 .4,.8 .4,0 .4,.1 .4,1.3 .4,.1 .4-.4 .4,.4 .4-1.4 .4,1.3 .4-1.2 .4,.3 .4,0 .4-1.2 .4,.5 .4,.4 .4,.4 .4-.4 .4-.5 .4-.3 .4,1 .4-1 .4,0 .4,.9 .4,.2 .4-.8 .4-.7 .4,1.6 .4,.4 .4-.9 .4,0 .4-1.5 .4,2.5 .4-1.5 .4,1.4 .4-1 .4,.3 .4,0 .4-1.2 .4,3.5 .4-3.4 .4,1.4 .4-.8 .4,.5 .4,1.3 .4-2.6 .4,1.4 .4,.5 .4-.3 .4,.2 .4-.9 .4-.7 .4,.3 .4,.7 .4,.9 .4-.5 .4,1.2 .4-1.2 .4,.1 .4,0 .4-1.5 .4,1.8 .4-1.3 .4,.6 .4,2.1 .4-2.8 .4,1.1 .4,.1 .4-.1 .4-.1 .4-.4 .4,1.9 .4-3 .4,.7 .4,2 .4-.8 .4-1 .4-.1 .4,.5 .4,2.3 .4-1.5 .4-1.3 .4,.9 .4-.6 .4,1.6 .4-.9 .4,.7 .4-.8 .4,1.4 .4-1.2 .4-.1 .4-1 .4,.5 .4,.6 .4-.7 .4,3.3 .4-2.9 .4-.6 .4,1.4 .4-1.2 .4,.7 .4-.3 .4-.5 .4,1.6 .4-1 .4,.8 .4-1.1 .4-.8 .4,.1 .4,.6 .4,.2 .4,.2 .4,.4 .4-1.4 .4,1.1 .4-1.1 .4,.5 .4,2.5 .4-1 .4-1.3 .4,1.7 .4-.3 .4-.4 .4,.4 .4-1.3 .4,.1 .4-.5 .4,1.1 .4-1.9 .4,1 .4,.8 .4-.8 .4,.7 .4,1.1 .4-2.1 .4,1.8 .4-1.6 .4-.2 .4,1 .4,.5 .4-1.3 .4,0 .4,.2 .4-.2 .4,.7 .4-.7 .4,.4 .4,.5 .4-.6 .4,1.2 .4-1.4 .4-.1 .4,2.2 .4-.4 .4-1.1 .4,.5 .4-.3 .4-.7 .4,.9 .4-.2 .4,.7 .4-2.4 .4,2.1 .4-.5 .4-.7 .4,.1 .4,.1 .4-.7 .4,.6 .4,1.1 .4-1.8 .4,.9 .4-1.5 .4,1.3 .4,.8 .4-.4 .4,.1 .4-.9 .4,1.3 .4-1.1 .4,1.4 .4-.5 .4-.5 .4,1.4 .4-1.4 .4,1.1 .4-.7 .4-.1 .4,.8 .4-.4 .4-.4 .4-.1 .4,.3 .4-.1 .4-.3 .4-.5 .4-1.2 .4,1.9 .4-.1 .4,1.1 .4-.6 .4,.5 .4,.5 .4-1.4 .4-.6 .4,1.3 .4-1.1 .4,.3 .4,1.3 .4-.7 .4,.4 .4-1.8 .4,1 .4,.8 .4-1.8 .4,1.2 .4,.1 .4-2 .4,2.9 .4-1.7 .4,.4 .4,1.4 .4-3.3 .4,2.4 .4-.7 .4,.4 .4-.7 .4,1.7 .4-1.9 .4,1.1 .4,.2 .4-.5 .4-.2 .4,.1 .4,.9 .4-.4 .4-.4 .4-.8 .4,1 .4,.3 .4-.4 .4,1.1 .4-2.6 .4,3.4 .4-2.1 .4-.7 .4-.4 .4,1.9 .4-.2 .4-.6 .4,.2 .4,.1 .4-.4 .4,1.2 .4-.4 .4-.6 .4-1.1 .4,2.3 .4-1.4 .4-.4 .4,1.7 .4-.6 .4-1.9 .4,.3 .4,.9 .4-.6 .4,.8 .4,2.1 .4,.3 .4-2.3 .4,.7 .4,.4 .4-1.1 .4-1 .4,1.9 .4-1 .4,.5 .4,.2 .4-1.1 .4,1.8 .4-1.2 .4,.2 .4-.5 .4,.8 .4,.3 .4-1.2 .4,.8 .4-.7 .4-.6 .4,.7 .4,.7 .4-.1 .4,.4 .4-1.3 .4,.3 .4,.3 .4,.4 .4-.5 .4-.7 .4-.4 .4,2 .4-.1 .4-1.2 .4,1.6 .4-1.2 .4,.4 .4,.6 .4-1.3 .4-.2 .4-.7 .4,1.5 .4,.1 .4,.3 .4-.2 .4-.3 .4,.7 .4-1.6 .4,1.1 .4,.1 .4-.5 .4,2 .4-1.6 .4,.7 .4-.3 .4-.8 .4,1.6 .4-.7 .4-.8 .4-.1 .4-.6 .4,.6 .4,0 .4,.3 .4-.5 .4,.8 .4-.5 .4-1.1 .4,.8 .4-.3 .4-.3 .4,.8 .4,.8 .4-1.5 .4-.6 .4,1.3 .4,2.4 .4-2.7 .4,.7 .4-.5 .4,.9 .4,.4 .4-1.1 .4,1 .4-1.7 .4,.9 .4-1.1 .4,1.1 .4-.6 .4,.7 .4-1 .4,1 .4-.1 .4-.5 .4-.2 .4-.3 .4,.6 .4,.6 .4-.4 .4,.2 .4,.9 .4-1.2 .4,.4 .4,.4 .4-.2 .4-.1 .4-.2 .4,1.4 .4-1.5 .4-.2 .4,.7 .4,.7 .4-.1 .4-1 .4,.6 .4-.3 .4-.3 .4,.4 .4,0 .4-.3 .4,1.1 .4-1.5 .4,1.3 .4,.5 .4,0 .4-1.3 .4-.4 .4-1 .4,1.1 .4,1.9 .4-3 .4,0 .4,1.8 .4-.2 .4-1.8 .4,1.3 .4,.3 .4-1.3 .4,1.8 .4-1.7 .4,1.8 .4-.7 .4-.6 .4-.7 .4,.9 .4,.2 .4,0 .4-.3 .4,.2 .4,.8 .4-1.3 .4,.5 .4,.5 .4-.3 .4,.6 .4,.5 .4-1.4 .4,.4 .4-2.3 .4,1.9 .4,.8 .4-1.3 .4,1.8 .4-2.4 .4,2.4 .4-1.4 .4-.4 .4,.4 .4,.2 .4-.9 .4,.1 .4,.6 .4,1.1 .4-.4 .4,.7 .4-1.5 .4,.2 .4,0 .4,.4 .4,.2 .4,.9 .4-.7 .4-.4 .4,.8 .4-1.5 .4-.4 .4,1.4 .4-.3 .4-.1 .4,.6 .4-.9 .4,.1 .4,.4 .4,.2 .4,.2 .4-.6 .4,.1 .4-2 .4,2.7 .4-2.1 .4,1.1 .4,1.9 .4-2.1 .4-.9 .4,2.3 .4-1.6 .4,.3 .4,0 .4,.6 .4,0 .4-.7 .4,.9 .4-1.4 .4,1.1 .4-1 .4,1 .4-1.1 .4,.2 .4,1.3 .4-1.9 .4,0 .4,1.2 .4-.6 .4-.2 .4,.2 .4,1.6 .4-2.3 .4,.5 .4,.2 .4-.8 .4,.6 .4,.3 .4-1.1 .4,1.3 .4-1.7 .4,.6 .4,.3 .4,1.9 .4-3.8 .4,1.3 .4,1.4 .4-2.4 .4,.9 .4-.9 .4-1.5 .4,1 .4-1.3 .4,.2 .4-1.5 .4,1.1 .4-2.8 .4,1.1 .4,.5 .4-1.1 .4-1.2 .4-.5 .4-.6 .4,1.9 .4-2.4 .4-.2 .4-.6 .4,.2 .4,.9 .4-.7 .4,.2 .4,.5 .4,.5 .4,.8 .4-.1 .4,.6 .4,0 .4,1.8 .4-.6 .4,0 .4,.7 .4,0 .4-.9 .4,1.1 .4,1.5 .4-.8 .4,.6 .4-1.3 .4-.5 .4,.6 .4,1.5 .4-1.6 .4,.2 .4,1.3 .4-.9 .4,.1 .4,.5 .4-.2 .4-.2 .4,.5 .4-.6 .4,.6 .4,.6 .4-1.1 .4,.7 .4-.5 .4,1.5 .4,0 .4,.4 .4,.2 .4,.2 .4-.1 .4-.9 .4,1.3 .4-1.1 .4,2.4 .4-1.3 .4,.3 .4-1.6 .4,2.6 .4-.2 .4-1.8 .4,.8 .4,.2 .4,0 .4,1.5 .4,.6 .4-2.2 .4,1.6 .4-.8 .4,1.2 .4-2.6 .4,1.5 .4,1.2 .4-1.3 .4,1.4 .4-1.1 .4,1.2 .4-.4 .4-.6 .4-.2 .4,.4 .4,1 .4-.8 .4-.4 .4,2.8 .4-3.4 .4,1 .4,.6 .4-1.1 .4,.7 .4-.2 .4-.8 .4,1.4 .4-1.1 .4,.3 .4,1.4 .4-1.6 .4,1.2 .4,.5 .4-.2 .4-.3 .4-.5 .4-.8 .4,1.1 .4,.2 .4-.6 .4-.4 .4,1.4 .4-1.4 .4,1.1 .4-.7 .4-1.4 .4,2.9 .4-.7 .4,0 .4-1.4 .4,.9 .4,.3 .4-.7 .4,1.7 .4-2.5 .4,1.9 .4-1.8 .4,.2 .4,.2 .4,1.3 .4-.9 .4,0 .4-.4 .4-.1 .4,.4 .4,0 .4,.4 .4-.2 .4-1.2 .4,1.2 .4,1.3 .4-1.2 .4,.3 .4-.4 .4,0 .4,.4 .4-.8 .4,.8 .4-1.1 .4,1.4 .4-1.3 .4,1.6 .4,.5 .4-2.1 .4,1.6 .4-.8 .4,1.1 .4-1.1 .4,.1 .4,0 .4,1.1 .4-2.2 .4,1.9 .4-.5 .4-.4 .4,.2 .4,.8 .4,0 .4,.6 .4-1.7 .4-.8 .4,.9 .4,.3 .4-.2 .4,1.2 .4,1.4 .4-2 .4-1.5 .4,1.9 .4-1.1 .4,.5 .4,.5 .4-.3 .4-.3 .4,.2 .4,.4 .4-.1 .4,1 .4-3.5 .4,1.5 .4,.2 .4,.9 .4-.4 .4,.5 .4-1.6 .4,.8 .4,.6 .4-.4 .4-.3 .4,.5 .4,.9 .4-2.5 .4,2.5 .4-.9 .4-.8 .4,1.1 .4-.4 .4,.8 .4-1.4 .4,1.2 .4-1.3 .4,.9 .4,.2 .4-.5 .4,.5 .4-.8 .4,1.1 .4-1.1 .4-.1 .4,.4 .4,0 .4-.5 .4,1.1 .4-.6 .4,.5 .4-1.4 .4,.1 .4,.7 .4-.5 .4,.6 .4,.5 .4,.4 .4,.2 .4-.4 .4-1.1 .4,.9 .4-.7 .4,.7 .4-1.1 .4,1.7 .4-.7 .4-.4 .4-.8 .4,1.2 .4-.6 .4,.5 .4-.6 .4,.1 .4,.8 .4,.6 .4-1.9 .4,.8 .4,.4 .4-.4 .4-.2 .4,1.8 .4-2.1 .4,.9 .4-.6 .4,.3 .4-1.5 .4,2.1 .4-.7 .4-.5 .4,1.8 .4-1.4 .4-.2 .4-.1 .4,1.3 .4-.7 .4-.3 .4-.7 .4,.3 .4,.9"/>
<path class="c" stroke="#dd9b0f" d="M138.5,1147.3l.4,5.4 .4-.6 .4-.4 .4-2.4 .4,5.7 .4,2.2 .4-6.5 .4-1.9 .4,4.3 .4-2.6 .4,1.1 .4,1.5 .4-6.1 .4,6.3 .4-5.3 .4-.6 .4,2.6 .4,5.5 .4-6.3 .4,3.4 .4-4.2 .4,4.6 .4-.9 .4,2.6 .4-3 .4-.5 .4-5.7 .4,6.6 .4,1.5 .4-1.8 .4-.1 .4,1.2 .4,.9 .4-5.3 .4,2.5 .4,1.5 .4-.5 .4-3.7 .4-3.1 .4,7 .4,1.2 .4,2.9 .4-3.8 .4-3.9 .4,4 .4-1.7 .4-1.7 .4-2.3 .4-1.1 .4,3.4 .4,.8 .4,1.5 .4-.2 .4,.7 .4,5 .4-5.9 .4,4.3 .4-6.5 .4,.2 .4,.6 .4-3.8 .4,10.4 .4-4.2 .4,2.5 .4,1.9 .4-3.8 .4,3.5 .4-12 .4,11 .4-3 .4-2.5 .4,4.9 .4-3.2 .4-2.2 .4-3.7 .4,11.2 .4-13.2 .4,8.1 .4,4.6 .4-2.8 .4-3.9 .4,1.1 .4-1.1 .4,2.6 .4-.9 .4-3.7 .4-.6 .4,8 .4-7.4 .4,.5 .4,10.5 .4-9.6 .4-1.5 .4,1.1 .4,5.2 .4-4.6 .4,1.9 .4-6.6 .4,5.1 .4,2 .4,0 .4,4.4 .4-3 .4-10.3 .4,3.9 .4,2.2 .4,1.8 .4,1.1 .4,1.7 .4-7 .4-1.7 .4,9.2 .4-5.5 .4-4.1 .4,4.3 .4,1.5 .4-2.3 .4,.1 .4,6.7 .4-6.5 .4,4.8 .4-.7 .4-1.8 .4,8.3 .4-11.3 .4,12 .4-10.8 .4,2.1 .4,1.8 .4,2.4 .4-1.2 .4-3.2 .4,0 .4,4.7 .4,1.1 .4-6.3 .4,5.3 .4-2 .4-.9 .4-4.2 .4-.4 .4,5.1 .4-9.8 .4,7 .4,2.8 .4-6.4 .4,10.1 .4,.1 .4-8.3 .4,2.9 .4-.2 .4-1.1 .4,.2 .4,3 .4,3.6 .4-4.8 .4,0 .4,.1 .4-2.5 .4,4 .4-3.4 .4-1.5 .4,5 .4-7.6 .4,4.1 .4,.4 .4,.8 .4-4.3 .4,1.8 .4,2.4 .4,2.3 .4-2.2 .4-.2 .4-2 .4,2.7 .4-8.6 .4,10.5 .4,1 .4-3 .4-2.9 .4,7 .4-6.1 .4,6.1 .4-4.9 .4-1.5 .4,1.7 .4-1.4 .4,1.6 .4,2 .4-2.3 .4-.6 .4,1.3 .4,1.3 .4-1.2 .4,2.5 .4-.7 .4-.9 .4,1.3 .4-2.1 .4,3.4 .4-2.2 .4,1.3 .4-3.2 .4-3.7 .4,3 .4,1.5 .4,1 .4-1.2 .4,4.5 .4-8.4 .4-1.4 .4,4.8 .4-1.5 .4,2.2 .4,1.9 .4,6.2 .4-12.2 .4,.8 .4,3 .4-4.2 .4,2.1 .4,6.2 .4-4.1 .4,.1 .4,3.5 .4-8.5 .4,5.5 .4-.5 .4,1 .4-3.8 .4,1 .4,1.7 .4,2.5 .4-4.4 .4,4 .4-8.2 .4,7.7 .4,1 .4-5 .4,1.8 .4,.9 .4,.9 .4,2.7 .4-3 .4-1.3 .4,.1 .4,1.4 .4,1.6 .4-1.6 .4-2.4 .4,.6 .4-1.3 .4-.2 .4,1.1 .4-.3 .4,4 .4-5.8 .4,3.8 .4-3.7 .4,5.8 .4-1.4 .4,2.8 .4-2.1 .4-4.7 .4,3.2 .4-2 .4,.4 .4-1.5 .4,2.1 .4,1.2 .4,.3 .4,6.8 .4-7.9 .4,.8 .4-.5 .4-.5 .4-.6 .4,1.6 .4-.8 .4,2.7 .4-.9 .4-3.8 .4,2.6 .4,.9 .4-1.7 .4,.1 .4,.4 .4,2.1 .4-1.3 .4-2.1 .4,1.5 .4,3.7 .4-6.4 .4,4.7 .4-2.6 .4,11.6 .4-9 .4-1.7 .4-.5 .4-4.1 .4,3 .4,7.3 .4-4.3 .4-2.4 .4,.8 .4,.2 .4-2.9 .4,3.1 .4,1.2 .4-5.8 .4,3.6 .4-7.3 .4,3.1 .4,7.3 .4,1.2 .4,1.8 .4-9.1 .4,3.5 .4-.7 .4,4 .4-2.1 .4-.7 .4,1.5 .4-3.1 .4,4.2 .4-3.8 .4,4.2 .4-2.7 .4,.2 .4-4 .4-1.2 .4-2.3 .4,8.2 .4-7.6 .4,10.2 .4-4.9 .4-3 .4,4.9 .4-4.6 .4,3.7 .4-.8 .4,4.2 .4-.9 .4,.2 .4-4.8 .4,7.5 .4-5.7 .4,.6 .4,.9 .4-.4 .4-4.7 .4,5.7 .4-6.4 .4,5.9 .4-1.5 .4,.4 .4-5 .4,7.7 .4-3.3 .4,2.9 .4-4.6 .4,0 .4,2.3 .4,2.8 .4-6.8 .4,2.1 .4,.3 .4,.7 .4-.6 .4,4.5 .4-1.1 .4-2 .4,2.4 .4,.5 .4-4.7 .4-.3 .4,4.1 .4,4.1 .4-13 .4,5.1 .4,4.1 .4-4.6 .4,4.8 .4-1.5 .4-4.6 .4,2.3 .4,2.4 .4-3.7 .4,4.3 .4-.8 .4-1.8 .4,2.1 .4-2.2 .4,1.7 .4-3.5 .4,7 .4-4.9 .4,4.1 .4,2.9 .4-1.6 .4-4.7 .4,.5 .4-.5 .4,1 .4-3.3 .4-2.9 .4,6.2 .4-.8 .4,4.4 .4,.8 .4-9.3 .4,1.3 .4,5 .4,1.2 .4-3.1 .4-.2 .4-5.5 .4,12 .4-8.7 .4,3.7 .4-.6 .4-3.6 .4,5.1 .4,1.7 .4-4.4 .4,.6 .4,1.5 .4,.9 .4-.3 .4-5.1 .4-.1 .4,1.1 .4-6.2 .4,4 .4,3.3 .4-1.4 .4-.5 .4,5 .4-1.6 .4,1.4 .4-2.8 .4-.8 .4-1.3 .4,3.3 .4-6 .4,2.7 .4,4.3 .4,.7 .4-2.6 .4-3.2 .4,5 .4-3.8 .4,1.8 .4-2.4 .4,8.1 .4-1 .4-6.8 .4-.9 .4,3.3 .4,1.9 .4,1.9 .4-3.8 .4-3.5 .4,4.5 .4-.1 .4-5.4 .4,3.9 .4-.1 .4-2 .4,3.5 .4,2.4 .4-.1 .4-5.5 .4,.9 .4,3.7 .4-3 .4,0 .4,7.4 .4-13.9 .4,5.6 .4-.5 .4,2.2 .4,5.2 .4-5.4 .4-.4 .4,1.3 .4-1.4 .4,2 .4,6.3 .4-9.4 .4,1.4 .4,.4 .4-5.9 .4,7.9 .4-1.9 .4-5.5 .4,4.9 .4,1.2 .4-3 .4,5.7 .4-4.9 .4-2.6 .4,6.7 .4-2.7 .4,.8 .4-5.1 .4,.7 .4,1.1 .4,2.5 .4,0 .4,4.4 .4,.5 .4-4.1 .4-.6 .4,5.7 .4-5.3 .4,2.8 .4-4.4 .4,1.2 .4-.6 .4-1.2 .4,3.1 .4-3.4 .4,2.1 .4,1.5 .4,4.9 .4-11.7 .4,5.8 .4,1.7 .4-2.9 .4,3.5 .4-1 .4-.1 .4-2.6 .4,.6 .4,0 .4-2.2 .4,3.4 .4-3.6 .4,.3 .4-1.3 .4,7.2 .4-4.8 .4-.9 .4,4.9 .4-3.6 .4,2.2 .4-1.5 .4,1.6 .4-.5 .4-6.8 .4,10.5 .4-1.3 .4-7.1 .4,6.8 .4-3.3 .4,1 .4,3.4 .4-.8 .4-.1 .4,3 .4-2.6 .4-4.9 .4-3.8 .4,8 .4-7.4 .4,3.9 .4,0 .4-1 .4,6 .4-3 .4-1.6 .4,4.6 .4-5.1 .4,4.7 .4,2.4 .4-6.3 .4-.1 .4,3.8 .4-9 .4,2.1 .4,.6 .4-1.7 .4,4.7 .4,.9 .4-1 .4,0 .4,2.8 .4,.4 .4,.5 .4-4 .4,.5 .4,4.2 .4-3.1 .4,2.7 .4-5.2 .4,1.2 .4-1.7 .4,1.8 .4,1.3 .4-2.5 .4,7 .4-10 .4,6.8 .4-5.6 .4,4 .4-3.1 .4,2.4 .4,0 .4-2.5 .4-1.2 .4,1.5 .4,2.1 .4,2.3 .4,2.3 .4-12.1 .4,8.8 .4-2.7 .4,1.4 .4,.9 .4,1.3 .4-1.1 .4-1.2 .4,4.6 .4-3.7 .4-.8 .4,3.3 .4-6.6 .4,.6 .4,6.9 .4-4.8 .4-4.6 .4,8.6 .4,.1 .4-5.7 .4-1.6 .4,3.7 .4,1.1 .4-2.7 .4-.9 .4,4.1 .4,.1 .4-6.1 .4,1.3 .4,2.3 .4-.9 .4,2.5 .4,.8 .4,3.9 .4-4.3 .4,1.6 .4-7.1 .4,2.5 .4,5 .4-7.2 .4,8 .4-2.3 .4-1.1 .4-.8 .4-3 .4,.3 .4,1.6 .4,.2 .4,4.8 .4-6.4 .4,1.1 .4-3.2 .4,5.5 .4-.5 .4,3.2 .4,2.3 .4-3.9 .4-4 .4,3.1 .4,.1 .4-.9 .4-3 .4,4.1 .4-4.4 .4,3.2 .4-.6 .4-6.6 .4,9.2 .4,4.4 .4-7.2 .4-.7 .4,4.4 .4-6.4 .4,3.8 .4,.7 .4-2.3 .4,1.4 .4-2.2 .4,.7 .4,3.6 .4-4.4 .4,.9 .4-.4 .4,3.5 .4-2.5 .4-1.4 .4,3.4 .4-6.7 .4,.3 .4,6.3 .4,4.5 .4-6.8 .4,2.4 .4-4.9 .4,4.3 .4,.2 .4,1.1 .4-3.8 .4,7.7 .4-8.3 .4,7.2 .4-7.5 .4,5.4 .4,1.6 .4,2.4 .4-6.6 .4-4.4 .4,7.2 .4-5.6 .4,.1 .4,1.4 .4-1 .4,4.9 .4-1.7 .4,1.4 .4,.5 .4-3.5 .4,3.1 .4,1.5 .4,1.8 .4-4.8 .4-1.2 .4-2 .4,1.6 .4,1.1 .4,.7 .4-4.5 .4,2.7 .4,.6 .4-1.2 .4,0 .4,2.8 .4-3.8 .4,4.1 .4-4.4 .4,3.7 .4-3.8 .4,6.6 .4-1.3 .4,1.7 .4-6.2 .4-1.4 .4,0 .4,3.2 .4,3.7 .4-1.1 .4-.1 .4-5.4 .4,6.6 .4-1 .4-3.6 .4-5.8 .4,5 .4,2 .4,4.9 .4-3.9 .4-.8 .4,4.7 .4-.1 .4-3.3 .4,.7 .4,1.8 .4-5.7 .4,3.2 .4-2.3 .4-1.6 .4,4.2 .4,1.8 .4,2.2 .4-3.2 .4,1.1 .4-3.8 .4-3.8 .4,2.5 .4,3 .4-2.9 .4,7.3 .4-2 .4-4.1 .4,5.6 .4-3.2 .4,2.9 .4-5.2 .4,2.8 .4-3 .4,.7 .4,3.3 .4,2.2 .4-5.1 .4,.5 .4-3.4 .4,1.9 .4,2.1 .4-5.1 .4,2.4 .4-2 .4,3.8 .4,2 .4-1.6 .4-1.7 .4-2.2 .4-1.7 .4,4.7 .4,4.4 .4-5.2 .4,.6 .4-1.1 .4-2 .4,6.4 .4-1 .4-6.4 .4,.7 .4,7.5 .4-6.4 .4,2.4 .4-2.9 .4,4 .4-3.2 .4,.5 .4-1.5 .4,8.7 .4,2.1 .4-6.9 .4,1.3 .4-.3 .4-1.6 .4-.3 .4-.8 .4,3.4 .4-5.9 .4,1.2 .4,4.4 .4-6.1 .4,8.8 .4-5.5 .4,1.4 .4,3.3 .4-4 .4,.5 .4-2.1 .4,3.2 .4,.5 .4-4.5 .4,4.4 .4,1 .4-1.5 .4-3.5 .4,4.9 .4,1.2 .4-5.4 .4-3.9 .4,3.3 .4,2.1 .4,3.8 .4-.3 .4-1.5 .4-3.9 .4,4.1 .4-2.2 .4-3 .4-2.2 .4,8.1 .4-7.6 .4,8.3 .4,3 .4-6.5 .4-2.5 .4,.6 .4-.2 .4,3.7 .4,1.2 .4-5.1 .4,1.3 .4-1 .4,5.3 .4-.5 .4-5.3 .4,1.5 .4,1.4 .4-5.7 .4,3.7 .4,2 .4-4.5 .4,4.7 .4-.5 .4-1.8 .4,4.7 .4-5.8 .4,4 .4-2 .4,4 .4-5.5 .4,4 .4,.1 .4,1.5 .4,1.4 .4-9.1 .4,4.2 .4-3 .4,6 .4,1.2 .4-4.9 .4,1.6 .4,3.1 .4-3.2 .4-1 .4-4.4 .4,2.7 .4,5 .4-7.2 .4,5.1 .4-.2 .4-.6 .4,2.3 .4-4.5 .4,6.2 .4-5.3 .4,4.3 .4-4.7 .4,2.5 .4-1.8 .4,5.9 .4-8 .4,1.2 .4,6.1 .4-1.9 .4-2.4 .4-.7 .4-3 .4,3 .4,1.8 .4,2.5 .4-.8 .4,1.5 .4-3.1 .4-3.2 .4,1 .4,5.5 .4-4.2 .4,3.8 .4-8.7 .4,3.2 .4-.9 .4,3 .4-3 .4-1.6 .4,3.6 .4-6.5 .4,5 .4,3 .4-4.7 .4,3.2 .4-2.4 .4,1.5 .4,1.7 .4,.6 .4-.1 .4-3.5 .4,6.6 .4-3.5 .4-2.9 .4,5.8 .4-5.2 .4,6.9 .4-3.4 .4-2.9 .4-1.2 .4-1.2 .4,0 .4,1.3 .4,4.5 .4-3.7 .4-1.1 .4,1.1 .4-2.6 .4-3.4 .4-1.3 .4,7.9 .4-5.9 .4,4.6 .4-.1 .4-5.9 .4,.2 .4-4.6 .4-.6 .4-.7 .4-1.5 .4,3.3 .4-5.8 .4,2.1 .4-2.9 .4,1.3 .4,3.7 .4-9.7 .4,8.8 .4-4.4 .4,3.6 .4-.4 .4,1 .4-1.3 .4-2.6 .4,15.5 .4-2.6 .4-2.2 .4-3.8 .4,8.4 .4,3.5 .4-2.7 .4-5.8 .4,4.1 .4,2.8 .4-.6 .4,3.9 .4-6 .4,1.3 .4-5.4 .4,11 .4-1.3 .4-3.1 .4-4 .4,8.1 .4-6.8 .4,.5 .4-1.9 .4,1.6 .4,1.5 .4-.4 .4,6.6 .4-1.1 .4-1.9 .4-1.9 .4,1.6 .4-3.8 .4,5.2 .4-4 .4,.6 .4,3.3 .4-3.6 .4-1.6 .4,7.3 .4-8.3 .4,1.4 .4,.4 .4,1.3 .4,1.8 .4-9.3 .4,8.3 .4,5.8 .4-.7 .4-.9 .4-2.9 .4,.9 .4-2.3 .4-3.4 .4,6.2 .4,2.2 .4-2.4 .4-1 .4,2.8 .4-1.7 .4,2.5 .4-4.7 .4-4.2 .4,7 .4,1.2 .4-5.1 .4,3.1 .4,1.5 .4-10.5 .4,15.8 .4-5.1 .4-2.9 .4-3 .4-1.2 .4,15 .4-11.2 .4,3.1 .4-4.1 .4,1 .4,3 .4-4.8 .4,2.6 .4-.4 .4,2.1 .4,1.2 .4-3.2 .4,4.9 .4-5.8 .4,.3 .4,1.4 .4-1 .4,3.2 .4-11.2 .4,3.4 .4-1.3 .4,11 .4-1.8 .4-4.6 .4,3.3 .4-6.6 .4,4.5 .4,5.5 .4-2.6 .4,4.6 .4-8.1 .4,5 .4-3.2 .4,.7 .4,.2 .4,1.2 .4,1.7 .4-3.9 .4,1 .4-1.5 .4,1.2 .4-3.4 .4,5.5 .4-.9 .4-1.2 .4-1 .4-2 .4-.9 .4-.5 .4,.9 .4,5.3 .4-1.6 .4-5.7 .4,1.4 .4,7.1 .4,1 .4-1.3 .4,2.6 .4-8.7 .4,3.5 .4-3.4 .4,8.8 .4-5.6 .4-.1 .4-.2 .4-3.3 .4,1.9 .4-6.9 .4,5.5 .4-1.8 .4,5.4 .4,1.6 .4-3.4 .4-4.2 .4-.3 .4,5.4 .4-3.3 .4-.2 .4-2.8 .4,3.7 .4-.6 .4,1.4 .4-6 .4,1.9 .4-5.2 .4,3.7 .4-2.3 .4-3.1 .4,1.5 .4-9.6 .4,5.2 .4-7.6 .4-4 .4-6 .4-8.5 .4-5.3 .4-1 .4-8.3 .4-3.6 .4-5.4 .4,2 .4-.4 .4-4 .4,13.6 .4,1.9 .4,4.8 .4,4.2 .5,5.9 .3,6.9 .4,10.3 .4-3.7 .4,.9 .4,6.6 .4,3.2 .4,5.1 .4-4.8 .4,4 .4,1.6 .4,5 .4,1.2 .4-2.1 .4,3.1 .4-2.5 .4,.4 .4-7.1 .4,4.6 .4-.5 .4,5 .4-1 .4-3.3 .4,3.5 .4-.4 .4,1.7 .4-2.7 .4-.4 .4,6 .4-4.5 .4,4 .4-5.7 .4,2.1 .4-.3 .4-1.9 .4,5.2 .4-6.2 .4,4.9 .4-7.2 .4,8.7 .4-2 .4,3.4 .4,2.7 .4-8.2 .4,2.2 .4-3.9 .4,2.5 .4,1.6 .4,0 .4,2.3 .4-.8 .4,1.4 .4-5 .4,2.6 .4-3.6 .4,2.6 .4-7.7 .4,8 .4,.5 .4-1.6 .4,.2 .4-3.9 .4,3.2 .4,.2 .4,2.5 .4,1.4 .4-3.4 .4,.9 .4,1.6 .4-3.8 .4,5.8 .4,3.1 .4-5 .4-2.6 .4,2.1 .4,2.9 .4,.3 .4-7.8 .4,5 .4-3.2 .4,.9 .4,2.2 .4,.8 .4-2.5 .4-1.7 .4,1.7 .4-2.2 .4,8.3 .4-9.9 .4,6.5 .4-1.5 .4-.3 .4-3.2 .4,1.7 .4,.5 .4-.7 .4,.9 .4,1.1 .4-1.7 .4,2.7 .4,.9 .4-3.9 .4,3.9 .4-2.1 .4-1.8 .4,3 .4,2 .4-4.3 .4-4.6 .4,7.9 .4,.6 .4-6.3 .4,2.9 .4,1.8 .4-8.5 .4,9.4 .4,.9 .4-.8 .4,4.3 .4-9.9 .4,6 .4,4 .4-13.6 .4,5.6 .4,3.2 .4-4.2 .4-3.4 .4,6.5 .4-.5 .4-2.7 .4,2.9 .4,2 .4,.3 .4-1.8 .4-5 .4,2.8 .4-5.9 .4,3.6 .4,3.7 .4,1.2 .4-1.8 .4,.1 .4-5.9 .4,2 .4,.4 .4,1.7 .4,0 .4,8.4 .4-3.6 .4-6.1 .4,1 .4,.4 .4-1.1 .4,1.2 .4-4.6 .4,9.6 .4-1.4 .4-.2 .4-1.6 .4,1.1 .4-2.5 .4-4.9 .4,6.3 .4-.3 .4-4 .4-2.8 .4,10.2 .4-6.5 .4,2.4 .4-1.5 .4,7.2 .4-9.6 .4,7.7 .4-10.8 .4,10.4 .4-4.3 .4-5.3 .4,7 .4-.5 .4-4.6 .4,5.9 .4-1.1 .4,1.5 .4-5.7 .4,2 .4-.7 .4,3.3 .4-2 .4-1.4 .4,7.2 .4-5.8 .4,4.9 .4-.8 .4-4.7 .4-3.4 .4,6.2 .4,1.4 .4,1.5 .4-2.4 .4,.2 .4-3.3 .4-.2 .4,11.9 .4-6.3 .4-7.5 .4,5 .4,.4 .4-6.8 .4,4.6 .4,2.6 .4,3.3 .4-.1 .4-6 .4,.1 .4-.5 .4,2.1 .4,2 .4-5.8 .4,2.6 .4-1.2 .4-.6 .4,.8 .4,7.1 .4-.2 .4-.9 .4-9.5 .4,6 .4,6.4 .4-6.1 .4-3.4 .4,4 .4-2.6 .4-.4 .4,2 .4,.6 .4-1.9 .4,.4 .4-3 .4,2.9 .4,2.4 .4-1.9 .4-.9 .4-3.8 .4,7.8 .4-7 .4,5.6 .4-3.1 .4,3.5 .4,.8 .4-4.2 .4-8.3 .4,3.1 .4,3.2 .4,.2 .4,3.7 .4,5.1 .4-4 .4-2.4 .4,4.5 .4-4.7 .4,3.2 .4-1.5 .4-7 .4,8.8 .4,2.5 .4-6.4 .4,3.3 .4-.7 .4-2.4 .4-.3 .4,4.1 .4-4.9 .4,.3 .4,4.2 .4,.2 .4,2 .4-6.6 .4-2.2 .4,7.3 .4-8 .4,2.8 .4,1.3 .4,5.8 .4-5.1 .4-3.8 .4,3.6 .4,4.2 .4-9.6 .4,1.5 .4,7.1 .4-2.7 .4-3.5 .4,2.5 .4,.8 .4-3.7 .4,1.8 .4,6.1 .4-3.4 .4,2.4 .4-3.6 .4-1.5 .4,2.6 .4-3.7 .4,3.9 .4-2 .4,0 .4,.1 .4-2.1 .4,7.1 .4-8.8 .4,5.3 .4-4.5 .4,6.5 .4-3.4 .4,1.3 .4,.8 .4-.3 .4-.5 .4,.5 .4-.1 .4-2.4 .4,.5 .4,.2 .4-1.5 .4,.6 .4,5.6 .4-8.4 .4,9.5 .4-6.7 .4,3.5 .4-1.9 .4-.6 .4,2.3 .4,3.4 .4-5.5 .4,.3 .4-1.6 .4,7.8 .4-2.6 .4-.1 .4-3.3 .4-5.9 .4,7.2 .4-6.8 .4,3.5 .4,4.8 .4-4.7 .4-.3 .4-4.4 .4,8.6 .4-.9 .4-2.7 .4,2.5 .4-5.9 .4,2 .4,3.4 .4,2.1 .4-2.8 .4-3.6 .4,2.2 .4,4.9 .4-5.2 .4,2.5 .4,.6 .4-3 .4,1.7 .4-5.4 .4,3.6 .4,1.9 .4,1.8 .4,2 .4-5.4 .4,2.9 .4-1.9 .4-1.9 .4,0 .4,2.1 .4,.2 .4-2.3 .4,10.5 .4-8.3 .4,2.1 .4-2.8 .4,9.2 .4-15.2 .4,5.7 .4,1.6 .4,3 .4-3.7 .4-2.9 .4,7.7 .4-2.7 .4-2.8 .4,0 .4,0 .4,1.2 .4-5.6 .4,5.5 .4-2.2 .4,3.3 .4-.5 .4-4.2 .4,7.2 .4-1.8 .4-5 .4-2.1 .4,2.7 .4,3.6 .4,2.2 .4-6.5 .4,.4 .4,3.9 .4-1.8 .4,0 .4-.2 .4-.7 .4,8.8 .4-4.9 .4-3.9 .4,4.7 .4,1.8 .4-4.2 .4-.6 .4-2.4 .4,1.8 .4,.3 .4,3.2 .4-6.8 .4-2.1 .4,3.4 .4,2.5 .4-7.1 .4,5.3 .4-1.8 .4-1 .4,3.7 .4,3 .4-7.6 .4,4.7 .4-1.2 .4,2.4 .4-2 .4-2 .4,4.5 .4-1.4 .4-4.5 .4-2.9 .4,3.7 .4,2.7 .4,1.6 .4-4.1 .4,.5 .4-4.3 .4,3.9 .4,1.6 .4-2.1 .4,1.3 .4-2.7 .4,.1 .4,3.5 .4-5.6 .4,4.6 .4,3.4 .4-5.3 .4,.1 .4-1.1 .4-1.5 .4,2 .4-2.2 .4,3.1 .4-1.1 .4-1.9 .4,3.4 .4,2.8 .4-.8 .4-3.3 .4,.7 .4-3.2 .4,2.3 .4,2.6 .4,.2 .4,1.6 .4-8.6 .4,9.1 .4-3.6 .4,3.4 .4-4.7 .4,3.5 .4-3.8 .4-3.1 .4,4 .4-2.5 .4,1.3 .4,1.6 .4,.7 .4-.4 .4,.9 .4-7.6 .4,8.1 .4-6 .4,2.7 .4-1.5 .4-2.3 .4,6.1 .4-5.7 .4,1.3 .4,6 .4-11 .4,1.6 .4,7.9 .4-4.1 .4,3.5 .4-2.4 .4-1.4 .4,3.5 .4-4.3 .4,.4 .4,2.3 .4-4 .4-1.1 .4-.7 .4,7.6 .4,2.8 .4-2.4 .4-5.6 .4,.2 .4-1.6 .4,2.7 .4,2.8 .4-3.7 .4-.2 .4-10 .4,10.1 .4-5.1 .4,2.3 .4,1.1 .4-1.5 .4,1.1 .4,1.4 .4-12.4 .4-1.4 .4,10.9 .4-4.8 .4-5 .4-.2 .4-.8 .4,1.5 .4-6 .4-.9 .4-6 .4,6.3 .4-5.2 .4-5 .4-4.9 .4,1.6 .4,.4 .4,2 .4-3.4 .4-9.1 .4-2.2 .4-3.7 .4,2.6 .4-5.2 .4,2.6 .4-1.7 .4-.5 .4-4.5 .4,6.3 .4-3.7 .4-2.4 .4,4.5 .4,1.9 .4,1.2 .4,4.4 .4,4.4 .4,3.6 .4-4.9 .4,6.3 .4-9.1 .4,15.8 .4-3.3 .4,6.2 .4-2.2 .4,4.6 .4,2.4 .4-1.6 .4,2.2 .4-5.1 .4,12.2 .4-.4 .4,1.4 .4,5.9 .4-1.2 .4,.9 .4-5.2 .4,7.3 .4-.3 .4,4.8 .4-3.6 .4-1.4 .4,3.7 .4,6.9 .4-7.6 .4,7 .4-3.9 .4-5.1 .4,8.3 .4,5.6 .4-5.4 .4-4.3 .4,2.5 .4-2.8 .4,12.9 .4-6.8 .4-8.6 .4,9.8 .4-1 .4-4.3 .4,1.4 .4,1.7 .4,5.6 .4-6.7 .4-.6 .4,5.2 .4-4.7 .4-1.1 .4,2.8 .4,2.9 .4-1.9 .4-1.6 .4,5.6 .4-.1 .4-9 .4,1.4 .4,.7 .4,2.2 .4,1.2 .4-.7 .4,.5 .4,1.2 .4-5.2 .4-2.7 .4,7.5 .4,2.9 .4-3.2 .4-1.8 .4,3 .4-2.7 .4-2.9 .4,2.8 .4,3.5 .4-1.4 .4,1.1 .4-3.5 .4,3.2 .4,2.6 .4-5.3 .4-.5 .4,5.2 .4-3.4 .4-3.8 .4,2.2 .4,5.2 .4-2.9 .4,4.5 .4-3.7 .4-1.1 .4,2.4 .4-5.1 .4,5 .4-3.5 .4-.5 .4,1.9 .4-2.6 .4-2 .4,.6 .4,4.2 .4-.7 .4-.7 .4,1.9 .4-5 .4,1.4 .4,6.1 .4-7.9 .4,6.6 .4-4.7 .4,2.3 .4-1 .4-1.6 .4,1 .4,2.3 .4-5.1 .4-.9 .4,5.2 .4-3.9 .4,.4 .4-.3 .4-1 .4-4.4 .4,4.7 .4-1.5 .4-3.1 .4,1.8 .4,1.7 .4,3.7 .4-7.7 .4,4.5 .4-6.7 .4,1.3 .4-4 .4,.9 .4-4.2 .4-4.4 .4-6.7 .4,4 .4-11.5 .4-1.9 .4,2.2 .4-9.9 .4-6.1 .4-5.8 .4-5.6 .4-7.8 .4-3.8 .4-6.8 .4-5.2 .4-1.4 .4-2.1 .4-2 .4,2.1 .4,4.5 .4,2.6 .4-.6 .4,1.4 .4,12.3 .4,2.8 .4,8 .6,5.6 .2,6.4 .4-.3 .4,8.9 .4,.3 .4,14.3 .4-2.9 .4-2 .4,13 .4,1.8 .4,3.4 .4-5.5 .4,6.2 .4,4.2 .4-3.3 .4,2.7 .4-1 .4,.5 .4,5.5 .4-5.8 .4,2.8 .4,2 .4-1.3 .4,2.7 .4-8.1 .4,9.4 .4-6.7 .4,3.1 .4-.2 .4,2.5 .4-1.8 .4-.6 .4,3.4 .4,4.1 .4-7.8 .4-.1 .4,.3 .4-1.8 .4,.1 .4,2.2 .4,3.5 .4-3.5 .4-1 .4,2.2 .4-2 .4,10.3 .4-3.4 .4-4.5 .4-5.1 .4,3.4 .4-1.1 .4,.1 .4-3.8 .4,4.8 .4-.2 .4-.2 .4-1.9 .4,4.9 .4-3.7 .4-4.1 .4,3.6 .4,5.3 .4,1.2 .4-6.9 .4,2.8 .4,2.1 .4,1 .4-4.1 .4,2.2 .4-2.2 .4-4 .4,7.9 .4-2.9 .4,1.4 .4-1.8 .4-2 .4,1.1 .4,2.4 .4-4.8 .4,8.3 .4,2.1 .4-13.4 .4,9.4 .4-4 .4,3.1 .4-1.3 .4-1.1 .4,3.2 .4-2.3 .4,4 .4-3.3 .4-5.2 .4,3.7 .4,.6 .4-1.7 .4-1.9 .4,9.4 .4-6 .4,.2 .4-4.7 .4,6.5 .4-2 .4,3.6 .4,1.8 .4-6.8 .4-.2 .4,5.6 .4-.2 .4-2.2 .4,2.4 .4-4.1 .4,.8 .4,.2 .4-6.2 .4,8.4 .4,.2 .4-4.9 .4,1.1 .4,2.6 .4,1.2 .4-2 .4-1.3 .4,2.6 .4-.8 .4-3.2 .4,2 .4-.1 .4,3.1 .4-5.8 .4,1.5 .4,1.3 .4,1.3 .4,6.9 .4-7.5 .4,3.7 .4-.8 .4,1.5 .4,1.3 .4-3.3 .4-4.5 .4,1.8 .4,5.4 .4,2 .4-2.6 .4,3.3 .4-5 .4-4.4 .4,2.7 .4,.6 .4,1.8 .4-.2 .4-5.1 .4,6 .4-5.1 .4,2.4 .4,1 .4,.1 .4-.6 .4-3.2 .4,1.2 .4,3 .4-4.2 .4-2.2 .4-4.1 .4,7.3 .4-2.9 .4,2.5 .4-3.4 .4,1.5 .4-.1 .4,3.4 .4-5.9 .4-1.6 .4,3 .4,1.1 .4-6.3 .4,2.7 .4-3.3 .4-.7 .4-9.5 .4,2.7 .4-4.4 .4-2.5 .4-6.8 .4-2.9 .4-10.9 .4,1.5 .4-.6 .4-7.7 .4-3.9 .4-1.8 .4,1.9 .4-5.9 .4-.7 .4,3.9 .4,5 .4,6.7 .4,6.9 .4,.2 .4,3.8 .4,10.1 .4,4.6 .4-1.7 .4,7.7 .3-.6 .5,2.2 .4,3 .4-.5 .4-1.1 .4,1.9 .4,2.7 .4,3.8 .4,.7 .4,1.7 .4-4.6 .4,2.3 .4-4.1 .4,1.3 .4,5.8 .4-3.6 .4,5.7 .4-3.9 .4-3.7 .4-1.1 .4-4.5 .4,9.5 .4-1.5 .4,7.1 .4-5.1 .4-5.7 .4-4.7 .4-2.7 .4,3.5 .4,.5 .4-4.7 .4,6 .4,.5 .4-5.9 .4,2.1 .4-3.4 .4,7.4 .4-5.4 .4-.3 .4-1.9 .4,3.4 .4-1.5 .4,9 .4-.6 .4-4.8 .4,1.7 .4,3.1 .4,1.3 .4-2.9 .4,7.8 .4-1.5 .4,4.7 .4-13.8 .4,4 .4,7.3 .4-1.1 .4-1.1 .4-2.3 .4,5.2 .4-2.8 .4,5.9 .4-.6 .4-.4 .4-8.1 .4,6.6 .4,4.5 .4,.3 .4-1.6 .4-.3 .4-5.6 .4,6.8 .4,1.3 .4-4.3 .4,.3 .4-1.9 .4,1 .4-1.4 .4,2.4 .4-1.9 .4-4.1 .4,2.8 .4,3.1 .4-.6 .4,3.8 .4-1.5 .4,1.1 .4-4 .4,3.3 .4-5.3 .4,.1 .4,4.8 .4-1.6 .4-3.5 .4,5.3 .4,1.5 .4-2 .4,1.6 .4,.3 .4-1.4 .4-5.2 .4-3.2 .4,4.6 .4-8.7 .4,8.1 .4-1.7 .4,3.7 .4-3.5 .4,3.2 .4-2.7 .4,2 .4,5.2 .4-7.5 .4-2.2 .4,9.5 .4-1.9 .4-2.4 .4-1.1 .4,2.1 .4-2 .4,4 .4-3.8 .4-1 .4,3.6 .4-4.1 .4,4.1 .4-5.2 .4,1.9 .4,2.2 .4-2.6 .4,5 .4-3.2 .4,.9 .4-6.5 .4,7.6 .4-1.4 .4-6.2 .4,6.7 .4,.2 .4-3.1 .4-1.2 .4-.9 .4,4.3 .4,0 .4-.7 .4,6.7 .4-6.1 .4,.5 .4-5.2 .4,5.7 .4,3.2 .4-6.8 .4,9 .4-8 .4,2.1 .4-1.5 .4-.1 .4-7.4 .4,11.2 .4-12.5 .4,13.6 .4-7 .4,1.7 .4,9.1 .4-10.4 .4,2.2 .4-3.1 .4,3.2 .4,1.8 .4,3.5 .4-12.5 .4,7.4 .4,2.2 .4,.9 .4-5 .4,2.6 .4,8.1 .4-7.3 .4,5.3 .4-10 .4,1.5 .4,2.2 .4-3.1 .4,5 .4-5.3 .4,4.4 .4-5.6 .4,2 .4,3.3 .4,1.1 .4-4.7 .4-1.7 .4,6.2 .4-4.6 .4,4.2 .4,2.7 .4-2 .4-6.5 .4,8.3 .4-.4 .4-5.1 .4,.5 .4,7.7 .4-5.4 .4,.3 .4,2 .4-1.7 .4,6.9 .4-4.3 .4-3.7 .4-.1 .4-1.2 .4,4.5 .4-7.2 .4,6.2 .4-4.4 .4-3.8 .4,8.5 .4-1.6 .4-.5 .4-1.7 .4,.8 .4-1.8 .4,5.9 .4,.1 .4-4.2 .4,.1 .4,.9 .4,1.8 .4-2 .4-2 .4,.6 .4,1.6 .4-1.3 .4-.7 .4,4.8 .4-2.4 .4,1.5 .4-5.4 .4,5.2 .4-2.5 .4-.8 .4-1.3 .4,.1 .4,.5 .4,1.8 .4-.6 .4,6.3 .4-4.6 .4-.7 .4-1 .4-2.1 .4-.1 .4,3.5 .4-7.8 .4,11.6 .4-.1 .4-9.2 .4,8.1 .4-.3 .4,.1 .4-1.4 .4,2.9 .4-7.3 .4,1 .4,3.2 .4-1.7 .4-4.4 .4,6.7 .4,.6 .4-3.7 .4,1.8 .4,1.7 .4-9.2 .4,4.7 .4-1 .4,2.2 .4-3.3 .4-.1 .4,4.5 .4,4.8 .4-9.2 .4,8.6 .4-2 .4,.1 .4,1 .4-5.2 .4,4.6 .4-7.9 .4,2.1 .4,3.4 .4,1.3 .4-6.4 .4-1.6 .4,6.9 .4-.3 .4,1.2 .4-2.3 .4-3.7 .4,7.3 .4-1.1 .4-1.5 .4,5.7 .4-5.8 .4,3.8 .4-5 .4-8.3 .4,5.3 .4-4.8 .4,7.5 .4,4.2 .4-8.6 .4,7.3 .4-3 .4,3.5 .4-1.6 .4-4.1 .4,4.7 .4-1.9 .4,2.8 .4,3.2 .4-6.5 .4,5.5 .4-5.2 .4,2.1 .4-1.2 .4-2.6 .4,2.4 .4-1.8 .4,3 .4-4.8 .4,.2 .4,5.5 .4-1 .4,.1 .4-.1 .4,1.4 .4-1.7 .4,1.3 .4-5.1 .4,3.9 .4-3.8 .4-1.5 .4,3 .4,2.6 .4-1.9 .4,5.2 .4-3.3 .4-.8 .4-1 .4-4.4 .4,4.2 .4-.1 .4,5.1 .4-7.7 .4,2 .4-1.9 .4,2.6 .4-5.7 .4,6 .4-.9 .4,.5 .4,7.2 .4-8.2 .4,1.7 .4-1.6 .4,3.2 .4,3.4 .4-1.7 .4-4.2 .4-4.9 .4,5 .4-6.4 .4,2.2 .4,.7 .4-1.7 .4,3.2 .4-1.3 .4-1.3 .4,3.1 .4-3.5 .4,5.8 .4-2.3 .4-3.5 .4,2.3 .4-3.7 .4-.3 .4,4.4 .4-10.8 .4,7.8 .4,3.5 .4-13.4 .4,16.4 .4-18.1 .4-2.6 .4-1.5 .4,.6 .4-.9 .4-7 .4,1.7 .4-.8 .4-9.1 .4-2 .4-3.6 .4-2.2 .4-11.3 .4-3.6 .4-6.7 .4-7.4 .4-6.9 .4-3.1 .4-3.4 .4-9.4 .4,.8 .4,1.6 .4,.8 .4,2.4 .4,7.6 .4,2.8 .4-1.7 .4,14.4 .4-1.9 .4,6.8 .4,11.7 .4,1.5 .4,1.3 .4,12.1 .4,4.1 .6,6.4 .2-4.1 .4,10 .4-1.4 .4,7.2 .4-4.4 .4,2.7 .4-1.4 .4,4.9 .4,6.8 .4-1.6 .4-1.6 .4,6.6 .4-3 .4,2.2 .4-.9 .4-.9 .4,1 .4,1.3 .4,2.3 .4-1.3 .4,1 .4-5.8 .4-2.2 .4,6.9 .4-.4 .4,1 .4-4.2 .4,3.6 .4-3.5 .4,3.6 .4-.4 .4-.2 .4,1.5 .4-2.4 .4,1.6 .4,2.2 .4,2.6 .4-3.3 .4,1.3 .4-.6 .4,3.3 .4,1.4 .4-8.3 .4,4.1 .4-1.1 .4,3.9 .4-12.2 .4,5.5 .4-3.3 .4,9.5 .4-3.3 .4,1.2 .4-.7 .4-.4 .4,.4 .4-2.4 .4-5 .4,7.3 .4-1.2 .4-1.5 .4-.1 .4,7.8 .4-8.2 .4-.9 .4,5.2 .4,2.5 .4-8.4 .4,.9 .4-.2 .4,4.4 .4,.5 .4,2.6 .4-4.4 .4-.6 .4-1.1 .4,5.3 .4-5.3 .4-.7 .4,1.9 .4,.6 .4,1.2 .4-3.1 .4,7.2 .4,.5 .4-9.2 .4,3.8 .4-3.5 .4,2.2 .4-4.8 .4,4.7 .4,1.7 .4-.4 .4-4.6 .4-5.1 .4,3.5 .4,9.2 .4-4.3 .4,.7 .4,4.1 .4-7.5 .4,4.2 .4-3.4 .4,2.5 .4-6.4 .4,4.3 .4,.9 .4,.4 .4-4.9 .4,3.5 .4,3.2 .4-3.2 .4,2.7 .4-.8 .4-1.5 .4-2.1 .4,1.1 .4-3.3 .4,4.6 .4-1.3 .4,2.3 .4,3 .4-4.5 .4-1.1 .4-1.4 .4,1.7 .4,1.4 .4-5.3 .4-3.2 .4-.5 .4,7 .4-1.7 .4,.1 .4-6.8 .4,3.4 .4-3 .4,1.3 .4,1.8 .4-.2 .4,7 .4-8.5 .4,2.2 .4-.2 .4,2.7 .4,2.3 .4-4.4 .4-2.4 .4,4.1 .4,2.7 .4-4.2 .4,6.5 .4-5.7 .4,1.4 .4,.8 .4,7.4 .4-3.1 .4-1.1 .4-3.9 .4-.1 .4,1.4 .4,7.2 .4-.7 .4-3.4 .4-2.4 .4-3 .4,4.1 .4,3.1 .4,.2 .4-.4 .4-3.2 .4,3.8 .4-2 .4,3.2 .4-1.8 .4,1.7 .4-1.3 .4-2.4 .4,5.1 .4-6.7 .4,5.2 .4-3.3 .4,.3 .4,1.9 .4-2.3 .4-1.5 .4,.3 .4-.6 .4,3.5 .4,.9 .4-1.2 .4-4.4 .4,5.1 .4,2.5 .4-6.3 .4,.8 .4,5.4 .4-3.2 .4,3.8 .4-4.3 .4-3.3 .4,4.2 .4,0 .4,1.1 .4-3.5 .4,1.2 .4,7.5 .4-7.8 .4,6.5 .4-8.1 .4,4 .4,.5 .4,1.5 .4-2.6 .4-2 .4,2.3 .4-4.7 .4-6.8 .4,6.6 .4,9.3 .4-2.2 .4,3 .4-4 .4-5.9 .4,1.5 .4,3.9 .4-3.4 .4-.4 .4-.4 .4,1 .4-3.4 .4,6.9 .4-3.4 .4,5.9 .4,1.2 .4-5.1 .4,3.3 .4,.2 .4-2.7 .4-1.1 .4,4.3 .4-1.8 .4-2.5 .4-1 .4,1.5 .4,2.8 .4,.3 .4-4.8 .4,1.3 .4,.9 .4-1.7 .4,1 .4-2.7 .4,.6 .4,3.2 .4-.1 .4-1.6 .4,7.3 .4-6.9 .4,2.5 .4-1.2 .4-2.2 .4,3.4 .4,1.2 .4-3.2 .4,1.5 .4,6.9 .4-11 .4,2 .4,2.3 .4-1.7 .4-2.4 .4,1 .4,.7 .4-.1 .4,1 .4,4.5 .4-4 .4-1.8 .4,3.2 .4-.2 .4-5 .4,1.4 .4-1.5 .4,4.2 .4,1.6 .4-3.2 .4,4.3 .4-5.3 .4,.7 .4,.8 .4,.7 .4,4.3 .4-8.1 .4,4.9 .4-1.4 .4,3.2 .4-7.3 .4,.5 .4,8.4 .4-1.3 .4-.5 .4-3.6 .4,3.5 .4-3.1 .4-3.2 .4,2.8 .4-.4 .4-2.2 .4,1.3 .4-.3 .4,3.5 .4,1.3 .4,.5 .4-.1 .4-6.3 .4,4.8 .4,.7 .4-1.2 .4-5.3 .4-4.4 .4,9 .4-2.9 .4,5 .4-6.9 .4,5.9 .4-2.9 .4-2.6 .4,2.6 .4,.9 .4,2.8 .4-.1 .4,1.3 .4-1.4 .4-3.5 .4,0 .4,1.8 .4-1.5 .4-6.2 .4,1.2 .4,8.2 .4-1.9 .4,5.5 .4-7.3 .4,4.5 .4-2.6 .4,1 .4-1.2 .4,3 .4-1.7 .4-2.9 .4,1.1 .4-.4 .4,.9 .4,.5 .4-2 .4-.4 .4,1.7 .4-5.2 .4,6.4 .4-.1 .4-10.2 .4,5.9 .4,3.1 .4-6.5 .4,7.8 .4,1.6 .4-1.5 .4,2.8 .4-4.4 .4,2.7 .4-.4 .4-2.4 .4,.6 .4-5.1 .4,.9 .4,6.9 .4,.1 .4-5.5 .4-2 .4-1.3 .4,9.1 .4-2.4 .4,4.6 .4-1.9 .4,2.2 .4-3.5 .4-4 .4,.6 .4,4.2 .4-7.4 .4,5.8 .4-2.8 .4,4.9 .4-5.4 .4-.5 .4,4.9 .4-12.1 .4,12.4 .4-2.3 .4-2.6 .4,3.7 .4-3.4 .4,3.3 .4-1.6 .4,1.9 .4-5 .4,.8 .4,7.3 .4-4.5 .4-1.4 .4-2.1 .4,1 .4,2.2 .4-4.2 .4,3.3 .4-.6 .4-5 .4,5.7 .4,3.4 .4-4.8 .4,.5 .4,1.3 .4-2.5 .4-3.4 .4,5 .4-1.4 .4-.7 .4,5.8 .4-3.9 .4-2.6 .4,.1 .4,6.4 .4-2.4 .4-7.7 .4,6.8 .4-3.4 .4-.5 .4,4.8 .4-1.4 .4-4.8 .4,2.2 .4,1.7 .4-2.4 .4,1.3 .4-4.5 .4,6.5 .4,.3 .4-6.4 .4-2.4 .4,2.5 .4,3.7 .4-2.1 .4-.9 .4,.5 .4-4.9 .4,4 .4-.2 .4-1.6 .4,4.2 .4-4.2 .4,.1 .4,4 .4-.1 .4-1.5 .4,.6 .4,.7 .4,0 .4-3.6 .4,5.5 .4,6.6 .4-7.4 .4-1.6 .4,4.4 .4-1.4 .4-3.7 .4,2.1 .4-1.2 .4,4.9 .4-6.6 .4,7.7 .4-5.4 .4,3 .4-2 .4,2.6 .4,2.4 .4-1.4 .4-5.2 .4,2.9 .4,1.3 .4,5.1 .4-6.8 .4,.4 .4-1 .4,2.2 .4,2.1 .4-4.7 .4,9 .4-2.3 .4-1.3 .4-.5 .4,5.3 .4-10 .4,1.5 .4,7.8 .4-9.7 .4,4.5 .4-1.4 .4-2.2 .4,0 .4,2.1 .4,1.4 .4,.7 .4,.3 .4-1.5 .4-.1 .4,1.7 .4-3.6 .4-2 .4,6.3 .4-11.4 .4,10.6 .4,2.1 .4-7.3 .4-2.8 .4,4 .4,3.3 .4-3.7 .4,5.8 .4-1.1 .4-4.7 .4,5.1 .4-6.4 .4,2.9 .4,1.9 .4,3.2 .4-1.5 .4,2 .4-10.6 .4,15.6 .4-11.8 .4,3.3 .4,3.7 .4-3 .4,2 .4-7 .4,.3 .4,1.9 .4-.3 .4,2 .4-1.3 .4-2.4 .4,4 .4-4.7 .4,2 .4,3 .4-3.6 .4,2.6 .4,1.9 .4,2.4 .4-.8 .4-.9 .4-1.1 .4-5.1 .4,1.2 .4-.1 .4,1 .4,1.2 .4-2.4 .4,1.5 .4,4.5 .4-4.5 .4-4.3 .4,4.7 .4,.4 .4-.6 .4,7.2 .4-2.2 .4,.9 .4-6.6 .4,3.9 .4-1.5 .4-.9 .4-2.2 .4,3 .4-6.2 .4,8.4 .4,5.2 .4-3.7 .4-10.3 .4,6.6 .4-2.8 .4,.4 .4,1 .4,4.2 .4-1.3 .4-4.5 .4,4 .4-1.2 .4,8.3 .4-13 .4,3.9 .4-2.4 .4,2.6 .4-5.7 .4,3.2 .4,2.3 .4-1.4 .4-.8 .4,2.1 .4-1.2 .4-1.1 .4,2 .4,.7 .4,.9 .4-5.9 .4,3.8 .4,4.5 .4-7.5 .4,4.5 .4-1.8 .4,4.5 .4,.4 .4-2.8 .4-2.2 .4-3.1 .4,3 .4-.9 .4,2.5 .4,4.3 .4,1 .4-4.6 .4-.5 .4-.7 .4,1.2 .4-1.5 .4,5.6 .4-7.2 .4,2.5 .4-3 .4,5.3 .4,2.4 .4-3.3 .4-1.3 .4-.5 .4,1.5 .4-3 .4,6 .4,.2 .4-2.1 .4-.6 .4-3.5 .4,6.2 .4-9.1 .4,1.8 .4,8 .4-7.2 .4-1.2 .4-2.5 .4,7.5 .4,.3 .4-2.9 .4-5.3 .4,4.2 .4-2.1 .4,4.5 .4,1.4 .4-3.2 .4-.4 .4,2.8 .4,0 .4-8.6 .4,4 .4-5.2 .4,.3 .4,4.5 .4-7.3 .4,1.5 .4,2.7 .4-3.6 .4-7.4 .4,2.7 .4-2 .4-3.8 .4,6.4 .4-7.5 .4-1.9 .4,.8 .4-4.2 .4-5.8 .4,2.3 .4,.1 .4-1.5 .4,2.2 .4-.5 .4-.4 .4-1 .4,1.8 .4,6.8 .4-8.3 .4,9.6 .4,0 .4-1.2 .4,3.8 .4,3.6 .4-3.8 .4,6.1 .4,3.6 .4-3.5 .4,4.1 .5,5.1 .3-2.6 .4-2 .4-1.2 .4,.3 .4,8.3 .4-2.7 .4,.7 .4,.1 .4-1.1 .4,7.2 .4-2.6 .4,2.4 .4-7.3 .4,5.2 .4,.3 .4-4.8 .4,.8 .4,.3 .4,5.2 .4-2.2 .4-2.5 .4,4 .4-3.7 .4,2.2 .4-.5 .4-2.1 .4,5.1 .4-2.5 .4-6.4 .4,5.9 .4,4.7 .4-10.4 .4,8.8 .4-1.9 .4-3.9 .4,3.3 .4-3.1 .4-1 .4,5.3 .4-.3 .4-5.7 .4,3.5 .4,1.6 .4-4.4 .4,7.3 .4-5 .4,3.2 .4,.7 .4-4.4 .4,3.6 .4-.6 .4,.8 .4-2.3 .4,3.9 .4-.7 .4,2.2 .4-1.2 .4-6.7 .4,2.2 .4,2.7 .4,1.6 .4-4.7 .4,2 .4,.8 .4-1.1 .4,3 .4-5.5 .4,4.2 .4-3.6 .4,3.4 .4-3.8 .4,1.8 .4,3.3 .4-5.1 .4,2.8 .4,1.6 .4-2.1 .4-.4 .4,.7 .4-2.4 .4,4.5 .4-.1 .4,2.8 .4-4 .4,2.2 .4-4.4 .4,2.7 .4-3.8 .4,3.2 .4-1.6 .4,3.5 .4-8.2 .4,5.1 .4-.3 .4,2.6 .4-3.8 .4,.8 .4,4.6 .4-5.1 .4,.6 .4,4.2 .4-8.9 .4,6.9 .4-.2 .4-.2 .4-5.6 .4,1 .4,1.6 .4-.1 .4,4.2 .4-3.1 .4,5.1 .4-4 .4,1.8 .4-3.5 .4,.2 .4,2.7 .4,1.2 .4-4.1 .4,5.2 .4-4.1 .4,4.9 .4-7.6 .4,2.3 .4,2.7 .4-1.9 .4-1.4 .4,3.3 .4,.8 .4-3.7 .4,3.2 .4-3.3 .4-1 .4,5.6 .4-5 .4,.1 .4,3.4 .4-4.7 .4,0 .4,1.9 .4,.9 .4,2.2 .4-3 .4-1.3 .4-1.8 .4,2.6 .4-.4 .4,4.2 .4-7.5 .4-.5 .4-.3 .4,4.4 .4,1.7 .4,3.1 .4-8.8 .4,4.7 .4-2.2 .4,6 .4-3.6 .4,3 .4-4.3 .4,2.8 .4-2.1 .4-3.7 .4,4.9 .4-3.6 .4-5.5 .4,5.5 .4-3.3 .4,4.5 .4,2.4 .4-3.7 .4,.3 .4-5.3 .4,.8 .4,.1 .4,6.4 .4-6.9 .4,1.3 .4-6.2 .4,3 .4,1.1 .4-1.3 .4-1.1 .4,1.4 .4-.5 .4-5.3 .4-1 .4,4.5 .4,0 .4-6.5 .4,4.9 .4-6.2 .4,2.8 .4,3.5 .4-8.4 .4,4.1 .4-.9 .4-2.7 .4,5 .4-4.7 .4,.7 .4-1.1 .4,4.3 .4,.6 .4,2.4 .4-4 .4-1.3 .4,6.7 .4-5.3 .4,4 .4,3 .4-1.8 .4-6.7 .4,2.6 .4,1.1 .4,4.9 .4-4 .4,4.6 .4-1.1 .4,.2 .4-.2 .4-1.6 .4,6.1 .4-3.1 .4,4 .4-6.3 .4-1.9 .4,8.7 .4-6.8 .4,3.7 .4-1.1 .4,.8 .4-.3 .4-1.8 .4-.1 .4,4.1 .4-2.4 .4,6.9 .4-4.2 .4,3.8 .4-4.9 .4,3.7 .4-3.6 .4-.7 .4,2.2 .4,.3 .4,7.9 .4-10.5 .4,2 .4,4 .4-2.2 .4,1.1 .4,1.9 .4-2.3 .4-1.4 .4-1.5 .4,3.7 .4,1.8 .4-.7 .4,2.8 .4-4.2 .4,2 .4-2.9 .4-2.8 .4,7 .4-2.8 .4,3.2 .4-3.4 .4-2.4 .4,1.8 .4,1.8 .4-1 .4,1.2 .4,2.3 .4-1.4 .4,1.4 .4-1.7 .4-1.4 .4-.7 .4-3.3 .4,7.6 .4,1.5 .4-5.7 .4-1.2 .4,1.6 .4,3.3 .4-.7 .4-.8 .4,.5 .4-4.4 .4,4.2 .4-.2 .4,1.9 .4-3.3 .4,.5 .4,2 .4,6.7 .4-8.9 .4,7.2 .4-8.1 .4,2.7 .4-2.7 .4,6.2 .4-3.3 .4,.1 .4,2.3 .4,.7 .4-5.4 .4,2.5 .4-2.1 .4,4.5 .4-8.9 .4,11.6 .4-6.6 .4-5 .4,6.3 .4-3.1 .4,2.3 .4,.2 .4,2.5 .4-7.9 .4,6.5 .4,1.4 .4-6.7 .4,5.4 .4,.1 .4-3.8 .4-3.8 .4,5.5 .4-1.9 .4,5.4 .4-5.1 .4,3.3 .4-2.1 .4-.7 .4-4.2 .4,1 .4,1.9 .4-1 .4-.6 .4,1.7 .4-2.7 .4,.9 .4-2.7 .4-.3 .4-3.8 .4-4.2 .4,4.6 .4-1.8 .4-2.8 .4-6.3 .4,2.6 .4-5.6 .4-2.8 .4-5.5 .4-2.8 .4-4.6 .4,.1 .4-6.2 .4-1.5 .4-4.3 .4-4.6 .4,1.6 .4-1.3 .4-.9 .4-8.2 .4,11.5 .4-1.3 .4-.5 .4,10.3 .4-2.1 .4,5.2 .4,1.7 .4-3.2 .4,12.9 .4-3 .4,9.2 .4-.2 .2-.6 .6-.3 .4,7.8 .4,.7 .4,4.7 .4-1.3 .4,6.5 .4-2.1 .4,1.4 .4,7.6 .4-2.3 .4-3.1 .4,3.3 .4-4.7 .4,2.8 .4,1.9 .4-1.1 .4-.4 .4,4.7 .4-3.1 .4-.4 .4,.8 .4,0 .4,4.1 .4-.9 .4-5 .4,7.7 .4-.6 .4-3.5 .4-1.8 .4,2.8 .4-1.5 .4,3 .4-1.4 .4,3.5 .4-7.6 .4,2.7 .4,2.5 .4-2 .4,.2 .4-1.9 .4,8.2 .4-5.5 .4,2.4 .4-3.9 .4,.9 .4,1 .4,4.7 .4-.7 .4,1.9 .4-1.5 .4,0 .4-4.5 .4-1.3 .4,5.4 .4-5.4 .4,3.4 .4-3.1 .4-1.1 .4,3 .4-2.5 .4,1.5 .4,3.2 .4-2.8 .4,3.2 .4-3.9 .4,2.2 .4-3.6 .4,6.2 .4-8.9 .4,6.2 .4,.7 .4-8.4 .4,2.6 .4,.3 .4,3.8 .4-.4 .4-.2 .4,2.5 .4,4.4 .4-8.7 .4,3.7 .4-.8 .4,2.7 .4-8.5 .4,1.4 .4,1.4 .4,0 .4,3.5 .4-1.9 .4-4 .4,3.3 .4-2.3 .4,2.3 .4,1.5 .4-1.5 .4,5.3 .4,2.7 .4-4.6 .4-5.4 .4,7.8 .4,1.8 .4-6 .4,1.5 .4,1.9 .4-2.4 .4,2.8 .4-1.8 .4-3.1 .4,.3 .4,.7 .4-1.2 .4,5.3 .4-2.6 .4-1.4 .4,2.7 .4-1.9 .4,2.5 .4,1.5 .4-3.8 .4-2 .4-1.5 .4,7.7 .4-3.6 .4-2.6 .4,1.3 .4-2.7 .4,6.5 .4-2.7 .4-1.8 .4-2.9 .4,9.5 .4-5.3 .4-6.2 .4,4.4 .4,1.4 .4,.5 .4-3.3 .4,6 .4-1.5 .4-1.5 .4-1.8 .4-3 .4,3.5 .4,.7 .4-2.6 .4,3.9 .4,1.3 .4-3.3 .4,.2 .4,1 .4,4.4 .4-.6 .4-8.1 .4,3 .4,8.1 .4-7.6 .4,5.5 .4-3.3 .4,2 .4-4.3 .4,1.2 .4,1.2 .4-1.5 .4-.1 .4,3.9 .4-4.1 .4,3.9 .4-5.1 .4,.8 .4,2.7 .4-.6 .4,1.2 .3-2.4 .5-.2 .4-1.1 .4-2.9 .4,3 .4,3.8 .4-2.9 .4,.7 .4,2.8 .4-5.7 .4,3.3 .4-2.4 .4,4.5 .4-6.8 .4,2.9 .4-.4 .4,.4 .4-.6 .4,6.4 .4-5.5 .4,.2 .4-3.4 .4,.3 .4,1.5 .4-1.2 .4,4.5 .4-2.9 .4,.4 .4,.8 .4-2 .4-.9 .4,1.5 .4,2.3 .4-.8 .4-2 .4,6.4 .4-3.2 .4,.8 .4,2.2 .4-6.4 .4,6.1 .4-3 .4,0 .4-4.7 .4,1.9 .4,2.1 .4-.2 .4,4.1 .4-5 .4,1.6 .4-1.4 .4-2.6 .4,2.5 .4,1.1 .4,4.2 .4-1.3 .4-4.6 .4-1 .4,2.2 .4-1.4 .4,7.8 .4-4.2 .4-2.4 .4-1.3 .4-1.4 .4,2.5 .4-6.5 .4,5.6 .4-.3 .4,5.1 .4-8.6 .4,6.8 .4-3.3 .4,2.8 .4-4 .4,2.9 .4,1 .4,4.3 .4-8.7 .4,1.6 .4-.1 .4-1.3 .4,1.1 .4,.2 .4-1 .4-3.7 .4,5 .4-4.6 .4,3.4 .4,2.7 .4-6 .4,2.8 .4,.7 .4-.7 .4-1.2 .4,1.2 .4,1.6 .4-4.4 .4,2.1 .4,2.2 .4-3.4 .4-1.6 .4,5 .4-.2 .4,.7 .4-2.5 .4-1.5 .4,5.6 .4-.7 .4-1 .4-3.3 .4,1.7 .4-2.5 .4-.3 .4,3.1 .4,.7 .4,.7 .4-1 .5,5.1 .3-7.6 .4,5.9 .4-4.2 .4,3.5 .4-5.7 .4,9.2 .4-1.8 .4-7.6 .4,7.5 .4-2.7 .4,1.9 .4-2.2 .4-.2 .4-3.1 .4,2.4 .4,1.2 .4-4.1 .4,1.8 .4,2.7 .4,1.2 .4-2.3 .4,4.8 .4-4.8 .4,2.9 .4,3.6 .4-7 .4,5 .4-3.3 .4-1.8 .4,6.4 .4,.1 .4-5 .4,3.6 .4-.2 .4-2.5 .4,5.7 .4-5.9 .4-1.4 .4,1.8 .4-.3 .4-.8 .4,.4 .4-2.7 .4,5 .4-5 .4,6.3 .4-1.1 .4-2.7 .4,0 .4-.7 .4,1.7 .4,4.5 .4-3.6 .4-2 .4,5.6 .4-5.5 .4,.2 .4,6.3 .4-3.7 .4,1.3 .4-1.4 .4-.2 .4,.4 .4,.2 .4,3.7 .4-8.7 .4-3 .4,5.3 .4-3 .4,4.1 .4-3.4 .4,3.1 .4,2.8 .4-4.1 .4-.6 .4,3.9 .4-4.8 .4,2.6 .4-.2 .4-2.9 .4,5.7 .4-6.5 .4,6.4 .4-1.4 .4-3.6 .4,1.8 .4,3.1 .4-2.9 .4,6.3 .4-8.1 .4,5.5 .4-7.2 .4,3.5 .4,3.3 .4-7.5 .4,5.6 .4-3.5 .4-.6 .4,1.5 .4,.5 .4,.1 .4-.2 .4-.7 .4-4.5 .4,10.1 .4,2 .4-4.2 .4-1.9 .4-1.8 .4,3.2 .4,0 .4-3 .4,1.8 .4,2.4 .4-1.1 .4-.9 .4,.4 .4-2.2 .4,1.8 .4,.3 .4-2.1 .4,1.6 .4,2.6 .4,.4 .4-8.3 .4,1.9 .4,6.3 .4-1.5 .4,0 .4-4.7 .4,3.8 .4,1.3 .4-.4 .4-2.9 .4,.4 .4,2.2 .4-.3 .4,2.8 .4-9.1 .4,4.3 .4,4.7 .4-6.1 .4,3.2 .4,3.4 .4-6.3 .4,3.5 .4,4 .4-8.1 .4-1.8 .4,7.7 .4-4.5 .4,1.7 .4,.3 .4,3 .4-3.9 .4,3.3 .4-.6 .4-2 .4,2.7 .4-1.9 .4-1.1 .4,8.1 .4-12.9 .4,2.2 .4,.3 .4,1.5 .4,1.6 .4-1 .4,6.3 .4-7.1 .4-1.4 .4,2.8 .4-1.2 .4-.1 .4,3.6 .4-1.6 .4,2.1 .4-5.6 .4,4.3 .4-1.5 .4-1.7 .4-2.4 .4,3.8 .4-2.8 .4,4.8 .4-.6 .4,0 .4,5.9 .4-3.9 .4-8.4 .4,6.7 .4-1 .4,0 .4-1.8 .4,3.6 .4-9.5 .4,3.8 .4,5 .4-1.1 .4,1.8 .4-3.3 .4-.4 .4,3.4 .4-1.6 .4-4.8 .4,6.8 .4-5.2 .4,5 .4-1.7 .4,1 .4,1.1 .4-5.2 .4,4.2 .4-1.8 .4-.5 .4,.7 .4-1.3 .4,1.4 .4,.5 .4-2.3 .4,4.5 .4-2.6 .4-3.1 .4,4 .4,.2 .4-5 .4,4.4 .4-1.7 .4,1.6 .4-1.1 .4,1.4 .4-.5 .4-6.3 .4,6 .4,1.2 .4,.5 .4,1.3 .4-2.3 .4,2.5 .4-1.2 .4-3.4 .4-.5 .4,5 .4-1.5 .4-6.2 .4,1.7 .4,5.7 .4-2.6 .4-4.8 .4,5.5 .4,1.4 .4-.8 .4-1.8 .4-.4 .4-.9 .4,.1 .4,2 .4,5.7 .4,.2 .4-7.1 .4-3.3 .4,3.5 .4-.5 .4,.1 .4-3.6 .4,4 .4-1.4 .4,1.7 .4-4 .4,4 .4-3.2 .4,1 .4,.4 .4,.3 .4,0 .4-.1 .4-.1 .4-.3 .4,.3 .4,.6 .4,5.7 .4-2.5 .4-3.9 .4-1.9 .4,6.3 .4-2.9 .4,.9 .4,2.1 .4-7.9 .4,3.3 .4,2 .4,3.1 .4-3.8 .4,.4 .4-.3 .4-.1 .4,.5 .4-1.9 .4-.4 .4,.8 .4,2.6 .4,1.3 .4-2.7 .4-1 .4,3.7 .4-1.7 .4,.4 .4-2.3 .4-.8 .4,2.2 .4-1.7 .4,3.3 .4-5.3 .4,2.9 .4-.9 .4-2.7 .4,1.5 .4-1.9 .4,1.7 .4,0 .4,7.3 .4-9.6 .4,4.1 .4-3 .4,1.9 .4-2 .4-1.4 .4,5.4 .4-1 .4-7.6 .4,3.8 .4-.8 .4-3.4 .4,4.2 .4,.6 .4-1.5 .4,.8 .4,3 .4-5.9 .4,4.1 .4,2.1 .4-13.1 .4,6.6 .4,3.8 .4-2.8 .4-2.5 .4,5 .4-1.5 .4-6.4 .4,7.1 .4-3.7 .4,.9 .4-3.6 .4,4.3 .4-1.1 .4-3 .4,1.4 .4,4.2 .4,0 .4-8 .4,4.7 .4-2.5 .4-1.1 .4,1.3 .4,2.5 .4-3.2 .4-5.9 .4,2.8 .4,0 .4,.7 .4-4.1 .4-.7 .4-.9 .4-.1 .4-7.5 .4,7.2 .4-3.6 .4-1.7 .4-3.4 .4,2.9 .4,4.1 .4-6.5 .4-2.4 .4,5.7 .4-.4 .4,.7 .4-2.6 .4,6 .4,1.8 .4-11.2 .4,12.7 .4,2.9 .4-2.9 .4-1.8 .4,6.9 .4,6.4 .4-3.4 .4,5.9 .4-3.8 .4-.5 .4-.6 .4,6.4 .4-6.3 .2,2.2 .6,.9 .4,2.8 .4-.2 .4-5.3 .4,2.9 .4,7.7 .4-3.9 .4,0 .4-.6 .4,1.8 .4-2.5 .4,4.9 .4-.6 .4-2 .4,2.4 .4-2.6 .4-.6 .4,3.6 .4-2.6 .4-1.8 .4,6.1 .4-4.6 .4,1.9 .4,2.7 .4-7 .4,2.4 .4,3.3 .4-3.2 .4-.3 .4,.8 .4-.4 .4-.3 .4,2.1 .4-.7 .4,4.1 .4-3.5 .4,3.4 .4-3.9 .4,4.1 .4-4.7 .4,3.4 .4-2.7 .4,3.7 .4-6.1 .4,.8 .4,2.2 .4-3.4 .4,6.1 .4-4.2 .4,1.8 .4,1.2 .4-1 .4-3.4 .4-1.5 .4-.9 .4,1.9 .4,.4 .4-.2 .4,3.1 .4-4.6 .4-.6 .4,4.4 .4,4 .4-6.8 .4,1.9 .4,.2 .4,2.8 .4-.7 .4-3.3 .4,3.3 .4-2.2 .4,1.8 .4,2.4 .4-10.1 .4,1.8 .4,0 .4,.1 .4,3.2 .4-.1 .4,3.8 .4-1 .4-3.1 .4-1.4 .4,1.6 .4-1 .4-2.7 .4,2.3 .4-3.6 .4,.3 .4-.9 .4-2 .4-1.1 .4,.7 .4-1.7 .4-4 .4,5.8 .4-1.4 .4-1.8 .4-2.9 .4-5 .4-3.9 .4-2.1 .4-3.8 .4,1.6 .4-5.4 .4,2.7 .4-1.4 .4-3.5 .4-1.4 .4,.2 .4,.8 .4-2.6 .4,5 .4-6.1 .4,1.4 .4,1.4 .4,2 .4,2.5 .4,2.6 .4-.4 .4,6.7 .4-6.6 .4,7.2 .4,1.4 .4-1.6 .4,1.7 .4,5.5 .4,4.2 .4-.3 .4,.2 .4,.8 .4,.7 .4,1.4 .4,3.5 .4,2 .4-.5 .4-2.3 .4,3.7 .4,1.7 .4-6.5 .4,5.7 .4-1.8 .4,2 .4-3.1 .4,.8 .4,2.5 .4-.8 .4,.3 .4-.8 .4,3.4 .4,1.6 .4-4.8 .4,3.1 .4-1.6 .4,1.8 .4,2.1 .4-2 .4-.8 .4-2.2 .4,5.3 .4,1.4 .4-8.7 .4,6.2 .4-1.8 .4-2.7 .4,7.4 .4-2.9 .4,3.9 .4-7 .4,.8 .4-2.5 .4,3.9 .4-4.2 .4,3.3 .4,3.6 .4-1.5 .4,1.1 .4-2 .4,1.6 .4-2.1 .4-2.8 .4,4.3 .4-1.3 .4-1.8 .4-.7 .4,5.6 .4-6.9 .4,2 .4,2.9 .4,.6 .4-.9 .4-4.2 .4,6.3 .4-2.9 .4-3.2 .4,6.2 .4-2.9 .4-4.2 .4-2 .4,6.1 .4-1.1 .4,2.2 .4-.3 .4-2.3 .4,3 .4-.5 .4-3.1 .4,4.5 .4-1.4 .4-1 .4,1.4 .4-3.9 .4,1.1 .4,1.7 .4-2 .4,5.9 .4-3 .4,1.1 .4,2.6 .4-.8 .4,1.6 .4-7.2 .4,6.1 .4-5 .4,.6 .4,1 .4-.3 .4-.3 .4,.9 .4,2.9 .4-9 .4,1.8 .4-1.2 .4,5.5 .4-.5 .4,.7 .4,3.7 .4-4.5 .4-3.6 .4,4.5 .4,3.4 .4,.4 .4-4.9 .4,.5 .4,.4 .4,1.4 .4-2.5 .4-.8 .4,4.9 .4,0 .4-3.7 .4-1.5 .4,0 .4-1.3 .4-.2 .4,2.3 .4-1.1 .4,2.5 .4-2 .4-.9 .4,1.3 .4-5.2 .4,7 .4-1.5 .4,3.9 .4-4.4 .4,.7 .4-1.8 .4,7.3 .4-4.4 .4,2.3 .4-3.8 .4,2.2 .4-3.7 .4,.8 .4,.8 .4-1.4 .4,3.9 .4,.3 .4,.8 .4-5.1 .4,.8 .4,1.3 .4,1.7 .4-6.1 .4,3.6 .4,3.4 .4-2.2 .4-.5 .4-2.5 .4,1.9 .4,2.5 .4,.8 .4-6.5 .4,5 .4-1.8 .4-1.4 .4,6.7 .4-2.9 .4-4.2 .4,.2 .4,2.9 .4-4 .4,3 .4,1.7 .4-4.3 .4,3.5 .4,.7 .4-2.7 .4,2.5 .4,.7 .4-.6 .4-2.6 .4,3.7 .4-2.9 .4,1.3 .4-.3 .4-.2 .4-4.8 .4,7.3 .4-1.3 .4-.9 .4,1.2 .4-2.5 .4,.7 .4,1.6 .4-6.4 .4,3.4 .4,.3 .4,.7 .4-.5 .4-.6 .4,2.4 .4,1.3 .4-.8 .4,1.4 .4-1.2 .4,2.3 .4,.3 .4-4.9 .4-.9 .4,.6 .4,.5 .4,2.6 .4-.5 .4-.7 .4-2.1 .4,.6 .4,.5 .4,1 .4-7.7 .4,7.8 .4,.6 .4-2.9 .4,5.1 .4-.7 .4-1 .4-5.5 .4,5.7 .4-1.5 .4,.1 .4-6 .4,1.8 .4,3 .4-2.5 .4,6.4 .4-5.9 .4,4.5 .4-.9 .4,5.9 .4-6.6 .4,5.1 .4-6.3 .4-1.7 .4,3.6 .4,2.2 .4-4.3 .4,4.9 .4-2.2 .4-1.4 .4,.5 .4-.2 .4-1.8 .4,1.8 .4,.7 .4-2.8 .4-4.4 .4,7.7 .4-3.1 .4,2.9 .4-3.3 .4,2.9 .4-1.4 .4-.3 .4,.7 .4,1 .4-5.1 .4,7.2 .4-.6 .4-1.6 .4-4.7 .4,5.9 .4-2 .4,4 .4-5.1 .4,.7 .4,2.8 .4-7.5 .4,4.2 .4,.5 .4-5.1 .4,3.3 .4,2.8 .4,.3 .4,5 .4-3.6 .4-5.4 .4,5 .4-.9 .4-.7 .4-3 .4,7.2 .4-.2 .4-3.5 .4-2.7 .4-.7 .4,0 .4,4.8 .4-6.2 .4,6.8 .4-3.1 .4,1.2 .4,1 .4,3.9 .4-3.9 .4-2.2 .4,1.3 .4-.6 .4-.2 .4,.2 .4-2.7 .4,3.2 .4-4 .4,5.9 .4-3.6 .4-1.9 .4,4.4 .4,.1 .4-1.4 .4-3.9 .4,.5 .4,4.4 .4,4.1 .4-4.7 .4,.1 .4,.7 .4-3.5 .4,6 .4-5.4 .4,1.6 .4-2.1 .4-.9 .4,1 .4-.3 .4,1.2 .4,4.7 .4-3 .4-2.1 .4,2.4 .4-2.4 .4,4.1 .4-.8 .4-2.8 .4,.8 .4,.3 .4-2.6 .4-.3 .4,2.4 .4-1.8 .4,2.1 .4,2 .4-2.5 .4,1.9 .4,2.8 .4-5.2 .4,4.4 .4-5.3 .4-.8 .4,3.2 .4-.8 .4-3.1 .4,6.5 .4-1 .4-4.4 .4,1.9 .4,.3 .4-2.8 .4,3.7 .4-4 .4-.8 .4,7.5 .4-4.9 .4-.3 .4,1.2 .4-1.1 .4,6.8 .4-4 .4,.9 .4,.1 .4,2.9 .4-10.3 .4,7.1 .4-1.4 .4-.2 .4,2.6 .4-1.3 .4-5.6 .4,4.7 .4-1 .4,3 .4-7.6 .4,6.5 .4-1.2 .4,1.3 .4-.7 .4-5.9 .4,6.6 .4-1.7 .4-1.8 .4,4.1 .4-2.3 .4,4 .4-1.3 .4-5.2 .4,4.5 .4-1.9 .4-.1 .4-.2 .4,2.7 .4-4.3 .4,2.9 .4-4.6 .4,4.4 .4-3.8 .4,0 .4,2.9 .4-2.6 .4,5.3 .4-5.2 .4,6.4 .4-1.8 .4-1.7 .4,1.2 .4-1 .4,5.1 .4-4.4 .4-2.6 .4,2.3 .4-1.7 .4,.7 .4-1.3 .4,.2 .4,3.2 .4-2.1 .4,2 .4-2.6 .4,.5 .4-.9 .4,4.2 .4,.8 .4-4.1 .4,2.4 .4-5.6 .4,.4 .4,4.8 .4-5.9 .4,10.8 .4-4.2 .4,1.7 .4-4.3 .4-3 .4,1.1 .4,0 .4,4.1 .4-4.5 .4,.6 .4,5.6 .4-6.6 .4,1.4 .4,4.7 .4,2.7 .4-9.8 .4-1.9 .4,4.1 .4,2.2 .4-.6 .4-1.2 .4-1.8 .4,5.1 .4-3.2 .4-.4 .4,1.7 .4,3.4 .4-3.1 .4,5.8 .4-7 .4,2.3 .4-6.6 .4,3.6 .4,1.5 .4-1.7 .4-.2 .4,.6 .4-1 .4,1 .4,1.5 .4,.7 .4-3.5 .4,2.1 .4-1.4 .4,4.1 .4,2 .4-3.7 .4,.5 .4-1.6 .4,1.8 .4-1.7 .4-2.5 .4,6 .4,2.4 .4-3.9 .4-1.5 .4,1.2 .4,2.9 .4-5.2 .4,2.9 .4-1.3 .4-5.6 .4,4.3 .4,2.2 .4-.5 .4-1.1 .4-2.7 .4,3.6 .4-.2 .4,.9 .4,3 .4-4.2 .4,2.5 .4-1.5 .4,5.5 .4-5.4 .4,5.1 .4-8.7 .4-.5 .4,4 .4-1.4 .4,3.4 .4-1.2 .4,.1 .4-3.9 .4,1.9 .4,2 .4-3.3 .4,1.3 .4,2.9 .4-3 .4,.7 .4,2.3 .4-1.8 .4-4.6 .4,3.8 .4-.2 .4,.7 .4,4.7 .4-2.8 .4-2.3 .4-2.7 .4,4.3 .4-1.5 .4,2.6 .4-2.3 .4,1.6 .4-4.3 .4,1.5 .4,.5 .4-2.1 .4,2.9 .4-1.9 .4,.1 .4-.8 .4,1.4 .4-3.7 .4,6 .4-1.1 .4,.3 .4,1.7 .4-2.4 .4-1.4 .4,3.9 .4-4.1 .4,1.3 .4-5.5 .4,3.8 .4,1.2 .4,1.6 .4-.3 .4,1 .4-3.6 .4,0 .4,1.8 .4-2.4 .4,.9 .4,1 .4-4.9 .4,1 .4,4.7 .4-2.7 .4,3.5 .4-3 .4-1.3 .4,3.9 .4-2.2 .4,1.5 .4-2.5 .4-.4 .4,1.1 .4-1.1 .4,1.4 .4-3.2 .4,4.3 .4,1 .4-.8 .4-4.2 .4,5.8 .4-7.1 .4,4.6 .4-.3 .4,1.4 .4-3.6 .4,.3 .4,3.8 .4-.2 .4-5.2 .4,1.5 .4-1.4 .4-4.4 .4,8.6 .4-4.5 .4,1.4 .4,.2 .4-3.9 .4,4.8 .4-4 .4-2.2 .4,3.9 .4-.8 .4-2.1 .4,.8 .4,3.6 .4-2.7 .4-2.1 .4-1.4 .4,4.8 .4-5.9 .4-4 .4,7 .4-4.5 .4-4.4 .4,1.4 .4-.3 .4-2.4 .4,3 .4,.1 .4,5 .4-4.3 .4-1.3 .4,.9 .4,.8 .4,1.9 .4,.8 .4-7.6 .4,1.3 .4,3.6 .4,4.8 .4-5.5 .4,4 .4-3.5 .4,.3 .4,1 .4,4.2 .4-4.1 .4,1.6 .4,.9 .4,1.7 .4-1.7 .4,2.2 .4,2.2 .4-1.9 .4-2.5 .4,.8 .4,1.2 .4-1.1 .4-1.9 .4,.6 .4,1.1 .4-3.2 .4,11.6 .4-4.7 .4-3.8 .4,.3 .4,4.8 .4-6.1 .4,1.1 .4,5 .4-2.5 .4,2.1 .4-1.4 .4-.1 .4-1.3 .4,2.8 .4-.4 .4,.2 .4-1.4 .4,4 .4-2.5 .4,1.5 .4-4 .4-1 .4,5.8 .4-3.1 .4-.2 .4,3 .4,4 .4-5.2 .4,.1 .4,1.9 .4,.4 .4-1 .4-4.2 .4,6.1 .4-3.4 .4,6.8 .4-6.4 .4,2.3 .4-.6 .4,.7 .4,5.5 .4-6.3 .4,3 .4-2.3 .4-.7 .4,2.7 .4-1 .4-1.1 .4-1.8 .4,3.3 .4,7.1 .4-8.3 .4,1.9 .4-2.8 .4,9.5 .4-11.4 .4,2 .4-3 .4,6.9 .4-2.1 .4,.7 .4-1 .4,3.7 .4-.4 .4-.5 .4-9 .4,4.2 .4,2.4 .4,1.9 .4-8.5 .4,10.1 .4-2.4 .4,2.5 .4-6.5 .4,1 .4-.7 .4,1 .4-.3 .4-2.3 .4,7.2 .4-1.8 .4-3.2 .4-2.9 .4,7.6 .4-8.1 .4,2.8 .4-.4 .4,1.3 .4,2.8 .4,.9 .4-1.3 .4-3.4 .4,5.8 .4-.3 .4-.9 .4,3.7 .4-9.3 .4,1.9 .4,0 .4,.4 .4,3 .4-1.1 .4-1.4 .4,3.7 .4-2.9 .4-1.1 .4-.2 .4-1.6 .4,2.5 .4-1.4 .4,1.7 .4,1.2 .4,.2 .4-2.2 .4,5.5 .4-7.1 .4,4.4 .4-1.6 .4,.6 .4-2.3 .4-.2 .4,3.3 .4-5.5 .4,4.3 .4-3.7 .4-.8 .4,4.4 .4-1.5 .4,5.9 .4-8.7 .4,4.5 .4-.1 .4,.2 .4-1.5 .4-2.7 .4,5.5 .4,0 .4-.8 .4-.3 .4,2.2 .4-.5 .4-.7 .4-3.1 .4,3.9 .4-4.4 .4,2.9 .4-3.2 .4,1.9 .4,2.3 .4-2.6 .4,2.9 .4-3.3 .4,5 .4-4.2 .4,6.4 .4-4.4 .4-1.7 .4-2.6 .4,1.7 .4,5.5 .4-7.4 .4-.8 .4,4.4 .4,2.2 .4-3.8 .4-1.1 .4,1.5 .4,0 .4,3.1 .4,1.8 .4-4.8 .4-1.5 .4-.9 .4-1.2 .4,3.8 .4-3.4 .4,5.2 .4-2.1 .4-1.1 .4,4.9 .4-7.3 .4,6.1 .4-1.8 .4,.3 .4-.6 .4-2.6 .4,4 .4,1.4 .4-7.5 .4,5 .4-.6 .4-.4 .4,1.7 .4-1.4 .4-.5 .4,3.7 .4-5 .4,1.3 .4-.1 .4-.8 .4,.6 .4,4.5 .4-5.2 .4,7.7 .4-9.4 .4-2 .4,4 .4-1.3 .4,5.8 .4-1.8 .4-3.6 .4,2 .4-.2 .4,6.8 .4-5.7 .4,.2 .4,.7 .4-.7 .4-.6 .4-2 .4,2.2 .4,.3 .4-3.6 .4,3.3 .4-3.1 .4-.9 .4,3.7 .4,1.3 .4,1 .4-3.5"/>
<path class="c" stroke="#7fbc41" d="M138.5,1356.5l.4,.6 .4-1.2 .4-8.4 .4,9.1 .4,.5 .4-7.2 .4,6.4 .4-6.6 .4-1.5 .4,1.1 .4,10.5 .4-1.1 .4-4 .4,8 .4-12.9 .4,8.8 .4-7.3 .4-8.7 .4,15.5 .4-2.9 .4-9.2 .4,5.5 .4,4.6 .4-4.5 .4,6 .4-12.4 .4,19.9 .4-12.4 .4-3.3 .4,1.1 .4-.8 .4-5.1 .4,2.6 .4,6.9 .4,3.4 .4-10.8 .4,8.4 .4-4.3 .4,14.1 .4-8.5 .4,.7 .4-2.3 .4,.7 .4-3.7 .4-3.1 .4,13 .4-1.3 .4-1.8 .4-11.4 .4,5.5 .4,3.8 .4-3.2 .4-10 .4,9.2 .4-10.6 .4,4.7 .4,8.9 .4-19.8 .4,22.9 .4-11.7 .4,2.9 .4,1.6 .4-2.3 .4,1.9 .4-2.8 .4,4.8 .4-6.6 .4,5.3 .4,.5 .4-1.4 .4,7.7 .4-7.3 .4-2.1 .4,14.5 .4-3.8 .4-4.7 .4-4.6 .4,9.7 .4-6.4 .4-2.6 .4,0 .4,5.7 .4-3.4 .4-4.8 .4-8.3 .4,15.5 .4-3.7 .4,4 .4-3.2 .4,4 .4-2.6 .4-2.9 .4-.8 .4-9.2 .4,1.9 .4,19.1 .4-15.6 .4,.9 .4,14.6 .4-9.5 .4-12.1 .4-3 .4,4.4 .4,6.8 .4,6.6 .4-2.1 .4-5.2 .4,7.2 .4-12 .4,5.6 .4,7.9 .4,8.7 .4-18.3 .4-2 .4,6.7 .4,.8 .4,2.1 .4-1 .4,5.6 .4,1.6 .4-6.6 .4-8.9 .4,3.8 .4,2.9 .4-2.7 .4,7.6 .4-2.8 .4-2.2 .4-1.3 .4,4.9 .4-9.1 .4-2.5 .4,4 .4-3.1 .4,2.7 .4-10.4 .4,12.7 .4-3.3 .4,7.5 .4,1.3 .4-2.1 .4-11.6 .4,9.4 .4,.5 .4-10.4 .4,11.3 .4-7 .4-3.6 .4,10.3 .4-5 .4,13.9 .4-10.1 .4-4 .4,3.6 .4-.7 .4-.9 .4-4.1 .4,.7 .4,12.4 .4-12.5 .4,13 .4-13 .4,8.6 .4-4.3 .4,7.3 .4-6.7 .4-.4 .4-3 .4,4 .4,2 .4,1.5 .4-5.8 .4,.9 .4-.6 .4-10.2 .4,12.1 .4-7.6 .4,6.7 .4-3.3 .4,.3 .4,2.3 .4-6.3 .4,6.7 .4,8.3 .4,.1 .4,1.1 .4-3.3 .4-3.8 .4,7.9 .4-10.4 .4,5 .4-1.7 .4-1.5 .4-6.1 .4,6.1 .4,8.3 .4-8 .4-3.6 .4,2.9 .4-3.1 .4,1.6 .4-4 .4,8.3 .4-5.8 .4,.9 .4,.5 .4-8.1 .4,16.1 .4,1.4 .4-12.5 .4,17 .4-13.1 .4-2.8 .4,3.9 .4,.8 .4-5.2 .4,5 .4-9 .4,10.8 .4-7.4 .4-4.4 .4,7.5 .4-6.5 .4,11.6 .4,3.2 .4-14.1 .4,3.3 .4-3.6 .4-.1 .4,1.6 .4,4.2 .4-7.1 .4,11.7 .4,7.7 .4-17.1 .4,5.4 .4-3 .4-10.6 .4,3 .4,19.8 .4-9.7 .4,8.8 .4-8 .4,4.2 .4,1.2 .4-8.5 .4,10.1 .4-.4 .4-8.4 .4,1.8 .4-6.5 .4,14.6 .4-13.4 .4,5.2 .4-3.2 .4,.6 .4,7.3 .4-4 .4,5.1 .4-6.1 .4,6 .4-11.6 .4,1.7 .4-14.3 .4,24.5 .4-.9 .4-12.6 .4,2 .4,4.6 .4-5 .4,12.4 .4,2.4 .4-7.9 .4,.2 .4-2.8 .4-5.8 .4-1.2 .4,4.2 .4,3.3 .4,6.9 .4-10 .4,5.9 .4,8.1 .4-.3 .4-4.6 .4-.3 .4-17.7 .4,10.2 .4,3.9 .4-1.4 .4,4 .4,1.3 .4-2.5 .4-8.4 .4,3 .4-2.5 .4,10.7 .4-3.7 .4,4.7 .4-5.9 .4-6.4 .4,4.9 .4-4.6 .4-2.4 .4-1 .4,13.5 .4-6.6 .4-4 .4,2.4 .4,3 .4-.7 .4-.7 .4-1.4 .4,7.1 .4-6.2 .4,11.5 .4-14.1 .4-10 .4,10 .4,7.5 .4-1.2 .4,1.9 .4,.5 .4,5.2 .4-12 .4,8.7 .4-4.8 .4-2.1 .4,9.4 .4-.6 .4-15.9 .4,13.2 .4-.5 .4-11 .4,2.6 .4,2.7 .4,.2 .4,6.3 .4,.9 .4-13.2 .4-7.3 .4,9.8 .4,6.4 .4-.2 .4,5.5 .4-.4 .4-.6 .4-12 .4,13.1 .4-12.1 .4,13.6 .4-3.6 .4-2.1 .4,3.1 .4-1.2 .4-5.7 .4-6.3 .4,11.7 .4-1.6 .4,.2 .4-4.7 .4,6.5 .4-8.3 .4-3.7 .4,12.7 .4-7.1 .4-2 .4,1 .4,10.4 .4-6.3 .4-4.2 .4-2.9 .4,.8 .4,3.7 .4-7.1 .4,6 .4,.1 .4-4.7 .4,4.2 .4-2.6 .4,5.5 .4,7.3 .4,1.4 .4-14.9 .4,4.7 .4,3.6 .4-4.8 .4-6 .4,4.1 .4-1.3 .4-.9 .4,6.7 .4-1.2 .4-4.2 .4,12.7 .4-9.4 .4,10 .4-10.6 .4,3 .4-3.2 .4,.7 .4-4 .4-1.5 .4,1.6 .4,8.8 .4,2.7 .4-2 .4-11.2 .4,14.4 .4-5.3 .4-7.3 .4,3.6 .4,.8 .4,1.8 .4-11.6 .4,2.6 .4,11.1 .4-.5 .4-7.6 .4,4.5 .4,5.1 .4-4.4 .4-1.8 .4-7.4 .4,3.2 .4,8.1 .4-2.1 .4,1.9 .4-7.7 .4-7 .4,9.3 .4,.9 .4,.8 .4,8.8 .4,3.1 .4-8.5 .4-1.4 .4,1.3 .4-2.5 .4,9.3 .4-16.7 .4,12.5 .4-2.4 .4-3.2 .4-6.6 .4,9.7 .4-7.4 .4-.4 .4,5.4 .4-.4 .4,1 .4-3.7 .4,3.5 .4,9.2 .4-8.9 .4-4.7 .4,.5 .4,1.1 .4,10.8 .4-4.9 .4,4.9 .4-5.4 .4,6.6 .4-18 .4,1.1 .4,9.3 .4,1.6 .4-8.6 .4,4 .4-.5 .4,5.9 .4-7.8 .4-1.2 .4,2.5 .4-1.3 .4,5 .4-1 .4,4.7 .4-7.2 .4,.9 .4-2.4 .4,15.4 .4-14.9 .4,7.2 .4-.3 .4-8.1 .4,9.3 .4-1.8 .4-6.1 .4-4 .4,5.9 .4-.6 .4-2.6 .4,.6 .4,7 .4-6.4 .4-1.5 .4,6.2 .4,6.3 .4-12.3 .4-.6 .4,13 .4-17.7 .4,9.1 .4,8.3 .4-7.3 .4-2.5 .4,3.3 .4,3.3 .4-7.1 .4,3.3 .4-2.2 .4,4.9 .4-.8 .4-4.9 .4,3 .4,1.5 .4,5.4 .4-6.5 .4-4 .4,4.7 .4,9.9 .4-3.7 .4,.5 .4-14.1 .4,17.2 .4-7.5 .4-1 .4-1.2 .4,2.4 .4-13 .4,15.4 .4-12.2 .4,15.8 .4-7.1 .4-5 .4-1.8 .4,3.9 .4,9.2 .4-7.9 .4,.6 .4-4.7 .4,12.2 .4-9.5 .4-1.9 .4,5.2 .4-5 .4,2 .4-7.4 .4,.3 .4,11.1 .4-7 .4,6.9 .4-.4 .4,1.3 .4-.2 .4,2.2 .4-6.3 .4-1 .4,7.3 .4-11.3 .4,1 .4-1.7 .4,2.5 .4,10.4 .4,.6 .4-9.2 .4-5.2 .4,3.6 .4,4.9 .4,7.1 .4-9.2 .4,6 .4-.7 .4-11.5 .4,13.3 .4,.8 .4-3.7 .4-3.3 .4,6.6 .4-3.2 .4-2 .4,1.4 .4,5.2 .4-12.4 .4,3.9 .4-1.4 .4,3.8 .4-.5 .4-2.7 .4,3.2 .4-1.9 .4,7.2 .4-.9 .4-5.8 .4,.7 .4-2.1 .4-2.7 .4,6.6 .4,2.8 .4-14.7 .4,4.6 .4,10.6 .4,1.6 .4-11.8 .4-1.1 .4-1.5 .4,12.6 .4-4.5 .4-1.4 .4-3.6 .4,8 .4-6.1 .4,9.3 .4-8 .4,5.3 .4-1.5 .4-2 .4-2.3 .4,10.4 .4-2.3 .4-11.4 .4,13.5 .4-15.1 .4,9.5 .4,.7 .4-3.5 .4-5.1 .4,.4 .4,9.2 .4-8.4 .4,4 .4,1 .4-4.4 .4-2.1 .4-1 .4,4.4 .4,7.3 .4-5.8 .4-.8 .4,10.2 .4-1.7 .4-2.7 .4-2.1 .4,.7 .4,2.2 .4-3.6 .4,3.4 .4-3.6 .4,3.9 .4-12 .4,1.5 .4,12.9 .4-.8 .4-10.9 .4-1.2 .4,10.8 .4-6.5 .4,1.6 .4,6.5 .4-4 .4-2.4 .4,6.2 .4-15.1 .4,5.4 .4,18.5 .4-11.5 .4,4.3 .4-12.3 .4,14.3 .4-16.5 .4,9.5 .4-1.3 .4-6.3 .4,7.6 .4-18.5 .4,19.6 .4-4.1 .4-3.2 .4-4.1 .4,.7 .4,.9 .4,.5 .4,5.2 .4-7.5 .4,3.9 .4-5.4 .4,19.5 .4-7.9 .4-15.8 .4,16.7 .4,10.3 .4-12.1 .4,1.1 .4,.2 .4,7 .4,1.5 .4-9.6 .4-11.6 .4,9.7 .4-8.1 .4,1.2 .4,12.5 .4-6.1 .4-.9 .4,4.6 .4,1.6 .4-8.5 .4,12 .4-12 .4,7.8 .4-4.8 .4,.6 .4-.8 .4,6.9 .4-.8 .4-4.3 .4,5.9 .4-12.9 .4,9.2 .4-9.1 .4-7.2 .4,5.8 .4,12.5 .4-4.8 .4,1.2 .4-5 .4,.8 .4-2.3 .4,5.3 .4,1.7 .4-1 .4-.3 .4-.7 .4,1.6 .4,3 .4-7.7 .4,6.9 .4,3 .4-12.5 .4,3 .4,2.1 .4-3.5 .4,3 .4-.7 .4,11.4 .4-6.7 .4,6.3 .4-8.6 .4,.9 .4-.7 .4-.4 .4,14.7 .4-7.2 .4-5.5 .4-11.4 .4,8.4 .4,7.1 .4-3.2 .4-3.1 .4,5.7 .4-2.7 .4-5.2 .4,4.8 .4,2.8 .4,.1 .4-5.1 .4-1.7 .4,2.6 .4,3.4 .4-1.4 .4,4.2 .4-7.5 .4,1.6 .4-.7 .4,3 .4-7.6 .4,12.1 .4-7.9 .4,8.6 .4,.2 .4-14.2 .4,8.2 .4,1.6 .4-3 .4,3.1 .4-7.3 .4,9.3 .4-3.5 .4-2.5 .4-11.5 .4,16.7 .4-11.2 .4,14.4 .4-1.8 .4-12 .4-.8 .4,9.6 .4,4.4 .4-5.3 .4,.3 .4-.6 .4,7.7 .4-5.8 .4-8.9 .4,13.3 .4-1.8 .4-5.2 .4-.8 .4,8.3 .4-4.2 .4-4.3 .4,7.4 .4-7.9 .4,.7 .4-7.8 .4,7 .4,15.5 .4-21.8 .4,1.5 .4,11.7 .4-8.9 .4,8.6 .4,3.9 .4-10.2 .4-1.2 .4,8.4 .4-2.5 .4,4.8 .4-8.6 .4,3.3 .4-5.5 .4-2.5 .4,.5 .4,.3 .4,13.1 .4-3.5 .4-4.1 .4-1.1 .4-.2 .4,7.1 .4-6.3 .4-8.5 .4,7.8 .4-8.5 .4,6.8 .4-1.7 .4-4.8 .4,.2 .4,8.7 .4,2.7 .4-.2 .4-6.9 .4-.2 .4,5.8 .4,3.8 .4,2.5 .4-6.9 .4-5.2 .4,8.2 .4-1.8 .4-4.3 .4-2.6 .4,2.7 .4,8.5 .4,.8 .4-8.2 .4,2.6 .4,7.1 .4-15 .4,4.5 .4,1.4 .4,2.9 .4-10.2 .4,10.6 .4-9.6 .4,12 .4-5 .4-2 .4,6.8 .4-4.1 .4-4.9 .4,9.3 .4-6 .4,2.9 .4,5.2 .4-13.8 .4,10.8 .4,.9 .4,6.6 .4-20.4 .4,13.4 .4,7.1 .4-9.2 .4-1.7 .4-1.9 .4-6.8 .4,15.2 .4-13 .4-2.9 .4,15.1 .4-.6 .4-.8 .4-.2 .4-9 .4,4.5 .4-1.4 .4-2.6 .4,6.2 .4-7.1 .4,4.4 .4,8.2 .4-7.8 .4-.3 .4,4.8 .4-10.2 .4,7.9 .4,4.3 .4-2.9 .4-6.8 .4,8.1 .4-6.4 .4,6.2 .4-9 .4-.6 .4,13.4 .4-8.8 .4,.1 .4-5.6 .4,3.9 .4,10 .4-3.7 .4-3.8 .4-9.3 .4,13.6 .4-2 .4,3.7 .4-8 .4,4.9 .4-5.6 .4-4.4 .4-2.3 .4,15 .4-7.1 .4,1.3 .4-7.7 .4,16.6 .4-11.3 .4-6.1 .4,2.2 .4,3.7 .4,7.9 .4-2.6 .4,.3 .4-6 .4,7.7 .4-4.3 .4,5.4 .4-9.2 .4,.8 .4-1.2 .4,1.2 .4-1 .4,6.8 .4-4.8 .4-5.6 .4,5.6 .4-1.2 .4-5 .4,9.3 .4-.1 .4-.8 .4,7.5 .4-15 .4,10.9 .4-1.9 .4-6.3 .4,11.5 .4-12.4 .4,6.8 .4,2.1 .4-4.7 .4-1.6 .4,7.9 .4,1.3 .4-8.3 .4,9.1 .4-4.9 .4-7.4 .4,9.8 .4-4.5 .4-1.6 .4,4.2 .4-.1 .4-5.7 .4,1.2 .4,5.9 .4,.6 .4,5.1 .4-9 .4,1.1 .4-4.8 .4,13.9 .4-8.6 .4,1.1 .4,4.1 .4-2.7 .4-7.5 .4,2.3 .4,7.3 .4-4 .4-4.2 .4,1.4 .4,6.5 .4-11.3 .4,5.2 .4,9.1 .4-3.1 .4-10.3 .4,4.6 .4,2.3 .4-.5 .4-2.4 .4-1.7 .4,1.4 .4,2.1 .4-.6 .4,8.1 .4-6.4 .4,1.8 .4-.7 .4-4.5 .4,5.7 .4-7.1 .4,8.1 .4-2 .4-5.8 .4,6.6 .4-6.3 .4,6.2 .4-9.1 .4,6.1 .4,5.5 .4-9.4 .4-6.9 .4,5.7 .4,6.4 .4-3 .4-7.4 .4,5.2 .4,.2 .4-7.6 .4,7.7 .4,1.4 .4-2.8 .4,1.2 .4,8.7 .4-13.5 .4,4.3 .4,8.3 .4-4.9 .4-7.6 .4,9 .4-14.4 .4,9.7 .4,5.2 .4-9.4 .4,10 .4-3 .4-.5 .4,12.9 .4-8.9 .4-3.2 .4-9 .4,.6 .4,4.4 .4,3.4 .4,2.8 .4-7.8 .4,2.4 .4,4.8 .4-10 .4,7 .4,5.1 .4-6.5 .4,2.8 .4-.5 .4,1.8 .4-.2 .4-2.9 .4-1.2 .4,.4 .4,4.4 .4-7.3 .4,11 .4-19.2 .4,15.3 .4,5.6 .4-7.8 .4,2.6 .4-1.3 .4,11.7 .4-8.9 .4,2.7 .4-10.1 .4,3.1 .4-2.6 .4,.5 .4-1.5 .4,3.8 .4-5.1 .4,8.4 .4-3.4 .4,2.7 .4-6.7 .4,5.4 .4,10.1 .4-7.6 .4-1.5 .4,1.3 .4,2 .4,.4 .4-9.3 .4,.6 .4,3.4 .4,5.9 .4-.5 .4-9 .4,5 .4-.2 .4-4.7 .4-1.1 .4-5.9 .4,1.7 .4,0 .4,15.3 .4-7.3 .4,4.2 .4-3.9 .4-2.1 .4,8.5 .4-8.3 .4,4.6 .4-2.7 .4-4.6 .4,.8 .4,5.3 .4-4.8 .4,8 .4-7.9 .4,6.5 .4-4.6 .4-.8 .4,2.8 .4-3.9 .4-1.7 .4,.1 .4,4 .4-.1 .4,4.8 .4-4.2 .4,2.4 .4,.3 .4-5.2 .4,6 .4-8.1 .4-6.3 .4-5.7 .4,13.6 .4,6.2 .4-7.5 .4-19.9 .4,28.6 .4-.2 .4-10.6 .4,5.8 .4,4.7 .4-10.2 .4-.1 .4,4.8 .4,2.5 .4-4.4 .4,2.2 .4-.5 .4,.4 .4-.3 .4-6.7 .4-5.2 .4,6.6 .4-1.9 .4-6.8 .4,16.1 .4-10.9 .4,7.1 .4-9.4 .4,4.2 .5-1.2 .3-.7 .4-3.3 .4-.9 .4,1.1 .4,14.1 .4-6.1 .4-9.3 .4,3.9 .4-4 .4,14.8 .4-3.3 .4-4.3 .4-4 .4,1.1 .4,3.2 .4,0 .4,.7 .4,.8 .4-4.7 .4,6.8 .4-1.2 .4,3.4 .4-9.6 .4,10.2 .4,1.4 .4-3.4 .4-5.7 .4,0 .4,3.2 .4,2.3 .4,.8 .4-2.1 .4-8.3 .4,6.5 .4,1.3 .4-2.5 .4,4.5 .4,3.4 .4-11.1 .4,8.1 .4-6.5 .4-.5 .4,3.1 .4,10.4 .4-6.3 .4-3.9 .4,6.7 .4-5.3 .4,1.8 .4-7.3 .4,.1 .4-2.4 .4,11.6 .4-11.3 .4,13.6 .4-13.5 .4,6.6 .4,1 .4-6.7 .4-4 .4,7.1 .4,10.4 .4-.9 .4-13.2 .4,6.5 .4-1.2 .4,6.6 .4-3.7 .4-6.1 .4,15.3 .4-7.1 .4-7.7 .4,9.7 .4-1.7 .4,2 .4-11.7 .4,6.5 .4-4.1 .4,2.5 .4-.2 .4,3 .4-6.9 .4,9.9 .4-7.1 .4,4.1 .4-2.4 .4,1.9 .4,2.3 .4-5.5 .4,6.1 .4-6.4 .4,4 .4-2.4 .4-2.8 .4-7.6 .4,6.9 .4,.8 .4,.8 .4,8.6 .4-11 .4,7.8 .4,9.8 .4-17.2 .4,6.6 .4,1.5 .4-3.4 .4,.7 .4,2.4 .4,8.6 .4-15.2 .4,5.9 .4-1.6 .4,9.4 .4-2.8 .4,2 .4-6.7 .4-.8 .4-1.7 .4-1.9 .4-2 .4,5.5 .4,2 .4-2.2 .4-9 .4,10 .4,10.8 .4-13.7 .4-4.7 .4,11.4 .4-11.1 .4,5.4 .4,.8 .4-4 .4-1.8 .4,5.8 .4-6.9 .4,7.4 .4,.5 .4-7.8 .4,8.9 .4-9.5 .4,7.2 .4-4.6 .4-2.3 .4,3.3 .4,3.2 .4,2.7 .4-.5 .4-7 .4,3.6 .4-12.1 .4,16.5 .4-3.9 .4-.7 .4-.6 .4-7.8 .4,10.6 .4-.8 .4-1.1 .4,5.4 .4-5.6 .4-1.9 .4,8 .4-6.5 .4-3 .4-6.4 .4,8.3 .4,.2 .4-3.3 .4,7.5 .4-10.1 .4,7.4 .4,.7 .4,4.6 .4-4.8 .4-1.3 .4,6.2 .4,1.8 .4-5.5 .4-5.2 .4,6.4 .4-7.8 .4,11.7 .4-5 .4-5.6 .4,13.3 .4-15.7 .4,11.8 .4-6.6 .4-.8 .4-4.9 .4-1.9 .4,10.4 .4-5.9 .4,9.7 .4-5.1 .4,1.8 .4,7.5 .4-17.1 .4,8.6 .4-2.7 .4,5.3 .4-4 .4-1.7 .4-1.3 .4,2.8 .4-5.8 .4,9.9 .4-16.4 .4,15.9 .4-.1 .4-2 .4-1.9 .4,6.1 .4-.9 .4,.3 .4-5.8 .4,4.1 .4-2.5 .4-1.9 .4,7.5 .4-11.5 .4,5.2 .4-4.9 .4-2.6 .4,14.7 .4-2.6 .4-1.8 .4-7 .4,5.6 .4,3.5 .4-12.7 .4,12.6 .4-1.3 .4,6.7 .4-13 .4,13.2 .4-8.3 .4,1.4 .4,2.4 .4,6.9 .4-6.2 .4,4.1 .4-8.5 .4,3.1 .4,.9 .4-10.5 .4,7.5 .4-.1 .4,1.8 .4,5 .4-4.5 .4-1.8 .4-.8 .4-.2 .4-6.8 .4,5.5 .4-3.1 .4-2.3 .4,11.3 .4-9.2 .4-.4 .4-3 .4,13.4 .4,1.3 .4-4.9 .4-3.3 .4,4 .4,0 .4-2 .4,.9 .4-9.2 .4,8.7 .4-2.7 .4,1 .4,.5 .4-6 .4,7.8 .4,1.8 .4-13.2 .4,3 .4,14.1 .4-13.9 .4,10.6 .4,.7 .4,4.7 .4-10.2 .4-2.1 .4,.2 .4-.1 .4-4.3 .4,2.6 .4,2.7 .4,.4 .4,5.7 .4,0 .4-3.2 .4-8.7 .4,11.2 .4-4 .4-7.5 .4,6.3 .4-1.1 .4,3.7 .4,1.6 .4,6.1 .4-10.8 .4,3.9 .4-5.6 .4,2.3 .4-3.6 .4,6 .4,2.9 .4-4.1 .4,8.2 .4-6.9 .4,6.4 .4-7.4 .4,1.3 .4,8.2 .4-12.4 .4,7.6 .4-10.9 .4,6.7 .4,5.4 .4,6.1 .4-6.3 .4-3 .4-2.2 .4-.3 .4,2 .4,.1 .4,5.6 .4-10 .4-.1 .4,9.3 .4-2 .4-5 .4,1.1 .4,3.5 .4-3.8 .4-2 .4,4 .4,2.7 .4-7.7 .4,2.4 .4,4.7 .4-11 .4,7.1 .4,5.5 .4-8.3 .4,7.1 .4,8.2 .4-7.9 .4-7.6 .4,15.2 .4-7 .4,1.3 .4-3.2 .4-5.3 .4,3.1 .4-.4 .4,9.5 .4-2.6 .4-7.2 .4,2.7 .4,1.5 .4,3.3 .4-1.7 .4-9.6 .4,11 .4-11.1 .4,3.4 .4-4.9 .4,5.3 .4,5.3 .4-3.2 .4,4.8 .4-.3 .4-5.7 .4-1.5 .4,8.6 .4-2.9 .4,1.4 .4,.9 .4-7.2 .4-1.9 .4,4.1 .4-3.4 .4-.9 .4-1.1 .4,3.5 .4-1 .4,3.4 .4,.7 .4,3 .4-4.5 .4-.4 .4,1.1 .4-1.6 .4,.9 .4-4.4 .4,3.1 .4-6.7 .4,11 .4-4.2 .4,1.2 .4-8.7 .4,1.8 .4,1.6 .4-6.7 .4,14.1 .4-2 .4-2.8 .4,4.8 .4-13.5 .4,3.5 .4,9.7 .4-1.6 .4-4 .4,2.5 .4-1.6 .4-2.8 .4-.4 .4-2.1 .4,4.2 .4-.9 .4,5 .4-11.7 .4,7.1 .4-1.8 .4-1.4 .4,1.8 .4,8.4 .4,1.2 .4-18.3 .4,14.5 .4-12.2 .4,2.2 .4,.7 .4-1.9 .4,11.4 .4,2.2 .4-15.9 .4,11 .4-1 .4-4.1 .4,.2 .4,.7 .4-1.6 .4-2 .4,3.6 .4,1.3 .4,0 .4-5.9 .4,8.3 .4-9.6 .4,2.9 .4-2.5 .4-3.3 .4,9.4 .4-4.7 .4,9.5 .4-7.3 .4,5.2 .4-8.2 .4,1 .4,5.1 .4-4.7 .4-2.1 .4,4.3 .4,5 .4-3.5 .4,.4 .4,8.6 .4-7.7 .4-5.9 .4,2.9 .4-6.4 .4,3.9 .4,8.1 .4-4.6 .4-7.7 .4,1.9 .4-3.7 .4,17.2 .4-12.7 .4-6.6 .4,15.6 .4-6.9 .4-5.2 .4,.3 .4-1.1 .4,4.1 .4,0 .4,2.6 .4-6.1 .4,1.4 .4,4.2 .4,3.9 .4,3.3 .4-3.9 .4-11.2 .4,3.9 .4,4.5 .4-7.3 .4-2 .4-1.6 .4,7.1 .4-3.2 .4,1.3 .4-4 .4,7.2 .4-5.4 .4-2.1 .4,.3 .4-.9 .4,8.2 .4,.8 .4-6.9 .4-.5 .4,12.8 .4-6 .4,2.7 .4-4.4 .4-2.2 .4,.3 .4,5.9 .4,2.6 .4-8.4 .4-1.5 .4,3.7 .4-1.2 .4-4.3 .4-2.6 .4-.5 .4,10.1 .4-9.2 .4,0 .4-.4 .4-4.2 .4,7.6 .4-2.8 .4,2 .4,4.2 .4-7.6 .4,1.1 .4-3.9 .4,7 .4-2.3 .4,2.6 .4,2.1 .4-13.5 .4,12.9 .4-13.1 .4,.8 .4-4.3 .4,16.2 .4-9 .4,6.9 .4-6.3 .4,11.4 .4-12.6 .4,6.3 .4-4.2 .4,4.1 .4,9 .4-4.3 .4,.9 .4,2.9 .4-5 .4-2.6 .4,1.5 .4,3.7 .4,8.6 .4-4.5 .4-1.2 .4,3.5 .4-2.7 .4,8.2 .4,.5 .4-6.3 .4,11.9 .4-12.6 .4,8.1 .4-3 .4,5.6 .4,.6 .4-3.1 .4,1.3 .4-7.1 .4,0 .4,7.2 .4,1.7 .4-3.3 .4,5.7 .4,2.5 .4-12.3 .4,9.9 .4,7.3 .4-8.7 .4,.4 .4,.3 .4,2.2 .4-13.4 .4,13.2 .4-3.8 .4,4.5 .4-5.5 .4,2.3 .4,1.9 .4,3 .4-5.2 .4,2.4 .4-6.3 .4,4.3 .4,2 .4,6.8 .4-12.3 .4,4.4 .4-3 .4,5 .4-6.3 .4,7.4 .4-8.5 .4,12.2 .4-7.1 .4-1.4 .4,1.5 .4,.7 .4,.5 .4,3 .4-4.4 .4-3.1 .4-3.4 .4,4 .4-2.2 .4,8.6 .4-9.2 .4,2.8 .4,3.3 .4,5.5 .4-13.6 .4,6.4 .4,4.8 .4-11.4 .4,10.4 .4-12.9 .4,9.2 .4-3.8 .4,2.3 .4,3.5 .4,5.2 .4-10.4 .4,10.8 .4,.2 .4-13.9 .4,6.8 .4,2.3 .4,4.1 .4-3.5 .4-5 .4-.3 .4,5.3 .4-6.6 .4,4.6 .4-1 .4-3.9 .4,13.9 .4-9.5 .4,8.7 .4-4.7 .4,2.2 .4-9.7 .4,.3 .4,2.8 .4-.9 .4-4.8 .4,15.2 .4,.5 .4-7.8 .4-1.9 .4-1.9 .4-3.4 .4,6.4 .4-2 .4,2.7 .4,1.6 .4,5.3 .4-9.7 .4,1.2 .4-2.1 .4,2.5 .4-5.9 .4,11.5 .4-4.8 .4-8 .4,5.7 .4,5.2 .4-2.3 .4-5.6 .4,5.4 .4-1.3 .4-4.1 .4,4.1 .4-6.6 .4,3.4 .4-3.9 .4,9.7 .4,.3 .4-6.5 .4,2.7 .4,5.6 .4-13.2 .4,6.5 .4,2.6 .4,.1 .4-4.6 .4-6.6 .4,5.4 .4,7.5 .4-7.3 .4,3.4 .4-1.8 .4,4.6 .4-7.1 .4,4 .4-.9 .4-6.3 .4,5.1 .4,1.6 .4-4.2 .4-6.5 .4-2 .4-5.5 .4-1.6 .6-6.7 .2,10.2 .4-1.1 .4,1.2 .4,13.2 .4-8.2 .4,5.5 .4-6.8 .4,5.9 .4,.2 .4,4.5 .4-4.6 .4,2.3 .4,.4 .4,4.5 .4-6.4 .4,6.4 .4,1.6 .4-1.5 .4,4.7 .4-4.7 .4,.6 .4,.2 .4,3 .4-1.8 .4-1.7 .4,2.8 .4-6.4 .4,7 .4-8.6 .4,10.8 .4-8.3 .4,1.7 .4-.1 .4,3.3 .4-10.4 .4,6.3 .4,4.7 .4-1.2 .4-6.6 .4,10.2 .4,2.6 .4-12 .4,1.7 .4-3.7 .4,2.3 .4,1.5 .4,9.7 .4-15 .4,13.4 .4-8.4 .4-1.7 .4-.7 .4,4.4 .4-4.5 .4,.4 .4-.1 .4,.7 .4,.7 .4-2.7 .4-2.4 .4,5.9 .4-2.4 .4-.7 .4-8.8 .4,7.8 .4-3.3 .4-1.4 .4,2.1 .4-2.2 .4-4.7 .4,2.8 .4,8.6 .4-5 .4-3.2 .4,3.1 .4-13 .4,18.5 .4-1.8 .4-5.6 .4,1.6 .4-4.6 .4,.3 .4,.6 .4-1.6 .4,4.2 .4-7.5 .4,6.7 .4-6.7 .4,4.3 .4,4.3 .4,1.8 .4-14 .4,8.5 .4,3.1 .4-6.3 .4,5.5 .4-9.4 .4,3.3 .4,9.5 .4-6.4 .4,.7 .4-4.6 .4-.2 .4,4.6 .4-3.5 .4,6.7 .4-10.3 .4-.5 .4,5.5 .4-8 .4,8.7 .4,3.3 .4,1.7 .4-12.8 .4,3.5 .4,6.7 .4-7 .4,3.7 .4-8.9 .4,6.5 .4,2.9 .4-5.3 .4,4.7 .4-1.6 .4-1.7 .4-2.8 .4,3.2 .4,2.2 .4-2.5 .4,3.8 .4-.8 .4-6.8 .4,4.9 .4,4.2 .4-1.9 .4-3.8 .4-4.4 .4,6.1 .4,.3 .4,3.9 .4-5.2 .4,.4 .4,1.4 .4,4.2 .4-1.7 .4,3.9 .4-10.1 .4,8.5 .4-5.5 .4,5.3 .4-8.3 .4,5 .4-.2 .4-6.5 .4,3.6 .4-.9 .4-1.2 .4-.9 .4-3 .4,7.4 .4-1.4 .4,.3 .4-1.2 .4,2.5 .4-4.8 .4-1.1 .4,5.4 .4-.3 .4,.7 .4,.3 .4-7.5 .4,.2 .4,1.8 .4,10.4 .4-5.2 .4-7 .4,8.6 .4,.5 .4-6.5 .4,4.6 .4-2.1 .4-.7 .4,1 .4,3.7 .4-2.2 .4-9.8 .4,4.5 .4,8 .4,3.4 .4-13.5 .4,9.1 .4-10.7 .4,11.1 .4-6.1 .4,5.6 .4-2.3 .4-5.7 .4-.8 .4-1.1 .4-2.4 .4-5.8 .4,8.8 .4,4.8 .3-1.7 .5,3.8 .4-3.6 .4,6.2 .4-1.7 .4-3 .4-2.8 .4-2.4 .4,10.9 .4-2.4 .4-6.9 .4,4.7 .4,2.1 .4,8.4 .4-1.7 .4-4.6 .4,4.1 .4-11.5 .4,7.8 .4,.8 .4-3.4 .4,11.1 .4-6 .4,7.3 .4-11.2 .4,10.8 .4,0 .4-7 .4,6.1 .4,.2 .4,2.1 .4-4.2 .4-1.8 .4-.5 .4,4.8 .4-3.2 .4,2.3 .4-9.8 .4,8.6 .4-6.2 .4,7.7 .4,4.7 .4-3.5 .4-3.2 .4,4.7 .4-12 .4,6.1 .4,6.3 .4-6.4 .4-5.6 .4,3.3 .4,6.1 .4,.1 .4-1.6 .4,3.1 .4-3.4 .4,.4 .4,3 .4-11.5 .4,18.4 .4-9.6 .4,7.4 .4-8.4 .4,4.5 .4-3.2 .4-.5 .4-1.4 .4-1.2 .4,6.6 .4-2.6 .4,3.2 .4-12.7 .4-1.7 .4,9.5 .4,4.5 .4-11.3 .4,.2 .4,.5 .4,2.9 .4,4.7 .4-4.8 .4,1.4 .4-7.8 .4-1.4 .4,8.6 .4,0 .4-4.3 .4,3.5 .4-.5 .4,1.8 .4-5.1 .4,2.2 .4,6.8 .4-10.6 .4,1.6 .4-.8 .4,5.1 .4-6.9 .4-1.9 .4,2.1 .4-2.9 .4,6.6 .4,6.2 .4-5 .4-.6 .4-.6 .4-3.3 .4-5.1 .4,1.9 .4,7.6 .4-9.5 .4,12.3 .4-11.5 .4,2.6 .4-2 .4-1.5 .4,2.8 .4,.8 .4-.4 .4,2.5 .4-1.2 .4,4.6 .4-6.9 .4-1.9 .4,1 .4,2.3 .4,5.2 .4-3.8 .4-2 .4,2.4 .4-5.4 .4,3.3 .4-.9 .4-1.3 .4,6.6 .4-5.6 .4,.9 .4-1.8 .4,5.8 .4-5.3 .4,12.6 .4-12.1 .4,7.6 .4-1.2 .4,1.5 .4-2.6 .4-4.5 .4,12.7 .4-7.6 .4-5 .4,9.5 .4-5.2 .4-2.4 .4,5.5 .4-2.1 .4,2.2 .4-2.4 .4,4.3 .4-2.2 .4-3 .4,1.7 .4,4.2 .4-4.1 .4-2.5 .4,3.4 .4,1.8 .4-.2 .4-6.9 .4,1 .4,3.4 .4,4.4 .4-2.2 .4,5.3 .4,.3 .4-2.8 .4-2.3 .4-1.1 .4-2.6 .4,4.2 .4-4.9 .4,7.9 .4-9.8 .4,11.3 .4-5.2 .4-2 .4,3.5 .4,.2 .4-.2 .4-5 .4-5.8 .4,14.8 .4-3.5 .4,2.9 .4-16.6 .4,12.6 .4-2.1 .4,4.3 .4,3.5 .4-8.1 .4,6.5 .4,.3 .4-9.9 .4,7.8 .4,.5 .4-1 .4,3.1 .4,3 .4-1.9 .4,1.7 .4-1 .4-3.9 .4-1.9 .4-2.3 .4-2.7 .4,5 .4,3.6 .4-1.8 .4,.3 .4,3.5 .4,.4 .4-4.4 .4,.4 .4-5.2 .4,9.9 .4-4.9 .4-9.4 .4,10.2 .4-.8 .4,3.6 .4-2.8 .4,1.8 .4-3.9 .4,5.4 .4-7.5 .4,3.7 .4,1.4 .4-2 .4,4.6 .4-1.9 .4-.5 .4-.2 .4,1.1 .4,.5 .4-5.9 .4,3.5 .4-.9 .4-.2 .4,1.6 .4-.2 .4-5 .4,4 .4,4.7 .4-1.3 .4-9.5 .4,4.9 .4,3.6 .4-6.4 .4,5.6 .4,5.2 .4-4 .4-5.2 .4,4.8 .4-8 .4,6.1 .4-6.9 .4,5.5 .4-5.2 .4,4.5 .4,1.1 .4,5.5 .4-2.4 .4,5.4 .4-2 .4-4.6 .4,2.2 .4-6.1 .4,3.7 .4-1.9 .4-1.9 .4,7.5 .4-6.2 .4,3.8 .4-2.5 .4,4.6 .4-1.8 .4-7.5 .4,7.1 .4,8.7 .4-7.2 .4,1.4 .4-2 .4,3.8 .4-8 .4-.3 .4,.8 .4-3.5 .4,1.4 .4,8 .4-6.8 .4-.1 .4,7.3 .4-2.7 .4-3.8 .4-.7 .4,1.7 .4,1.1 .4,3.6 .4-2.5 .4-4.7 .4,2.6 .4-4.3 .4,3 .4,8.1 .4-11 .4,2.2 .4,5.8 .4-2.3 .4-1.8 .4-1.7 .4-.4 .4,5.7 .4-3 .4,1.6 .4,1.2 .4-7.7 .4-1.1 .4,7.9 .4,2 .4-3.5 .4,2.9 .4-8.5 .4,4.4 .4-.7 .4-.1 .4,3.7 .4-11.4 .4,7.8 .4,5.5 .4-5 .4-2.8 .4,5.2 .4-5.9 .4,7.9 .4-5.8 .4,7.6 .4-3.1 .4-6.2 .4,3.6 .4,.3 .4,2.5 .4-7.1 .4,8.2 .4-6.6 .4-3.2 .4,5.9 .4-2.1 .4,3 .4,5.4 .4-6.1 .4,6.5 .4,1.3 .4-.1 .4-6.3 .4,4 .4-.1 .4-.1 .4-4.6 .4,4.7 .4-1.1 .4-2.6 .4-4.2 .4,5.4 .4-.6 .4-6.6 .4,.9 .4,8.4 .4-5.2 .4,3.7 .4-4 .4-3.5 .4,2.2 .4-5.8 .4,10 .4-6.9 .4,12.6 .4-10.5 .4,3.6 .4-4.4 .4-1.6 .4,5.1 .4-2.4 .4,10.8 .4-9.2 .4-7.5 .4,8.5 .4-3.2 .4,1.3 .4-1 .4-.6 .4-2.5 .4,6.7 .4-.8 .4-.3 .4-1 .4,6.8 .4-8.2 .4,.7 .4,7.5 .4-4.7 .4-3.1 .4-2.5 .4,2.5 .4,.6 .4,.5 .4,5.4 .4-10.3 .4,4.9 .4,1.5 .4-.5 .4-4.1 .4-3 .4,2.3 .4-1 .4-5.4 .4-4.2 .4,2.3 .4-9.6 .6-4.9 .2,3.9 .4-5.9 .4,1 .4,1.9 .4,12.7 .4-4.2 .4,9 .4,1.2 .4,.2 .4,5.4 .4-3.7 .4,10 .4-8.5 .4,4.5 .4,2.6 .4-1.8 .4,3.5 .4,1 .4-8.7 .4,2.9 .4,3.1 .4-1.1 .4-1.2 .4,2.3 .4-4.1 .4,1 .4,6 .4-3 .4,3.9 .4-12.2 .4,3.6 .4-.5 .4,5.4 .4,4.5 .4-10.3 .4,4.4 .4,4.8 .4-8.5 .4,11 .4-11.8 .4,.8 .4-3.4 .4,7.6 .4-7.7 .4,5.7 .4-.3 .4-2.5 .4,.3 .4-.1 .4,2.4 .4-4 .4-.6 .4-1.3 .4,7.1 .4,.9 .4-3.1 .4-7.3 .4,5.2 .4,1.3 .4,1.3 .4-3.6 .4-2.9 .4,9.5 .4-7.2 .4-2.9 .4,3.8 .4,2.2 .4-5.3 .4,2.7 .4-1.3 .4-1.7 .4-.6 .4,1.8 .4-11.1 .4,9.2 .4-4 .4-1.6 .4,6.4 .4-2.7 .4,0 .4,.4 .4-6.4 .4,.8 .4,9.9 .4-8.4 .4,1.8 .4,2.8 .4-3 .4,.3 .4-6.4 .4,2.2 .4,4.4 .4-.5 .4,2.6 .4-1.5 .4-4.2 .4,1.6 .4-2.8 .4,3.9 .4-4.8 .4,3.6 .4-.4 .4,2.8 .4-7.8 .4,2.6 .4-4.8 .4,7.4 .4-4.2 .4-1.7 .4-1.8 .4,.7 .4,1.2 .4-.4 .4,5.3 .4-5.7 .4,.6 .4-10.3 .4,7.6 .4,8.1 .4-1.1 .4-13.2 .4,14.7 .4-8.8 .4-3.9 .4,5.9 .4,.3 .4-.4 .4-1.2 .4,3.3 .4-5.6 .4,1.9 .4,6.1 .4-8.1 .4-5.6 .4,9.5 .4-4.6 .4-4.4 .4,8.9 .4-2.2 .4-4.2 .4,1 .4-6.9 .4,6 .4-7.8 .4,2.8 .4,8.7 .4-4.6 .4-6.8 .4,3.4 .4,4.5 .4-3.7 .4,.8 .4-1.2 .4-3.5 .4,7.8 .4-10 .4,4.3 .4-3.7 .4,3.4 .4,.3 .4-.8 .4,1 .4,1.4 .4-8.8 .4,6.2 .4,3.5 .4,1.1 .4-2.3 .4-7.1 .4,2.1 .4,5.2 .4,1.2 .4-4.9 .4,.7 .4,3.4 .4,1.4 .4-4.7 .4-1.6 .4-1.9 .4,3.4 .4-2.6 .4,2.7 .4,6.2 .4-2.1 .4-2.6 .4,4.9 .4-7.4 .4,6.2 .4-3.1 .4,3.3 .4,2.5 .4-6.9 .4,5.6 .4-2.1 .4-.2 .4-4.1 .4,5 .4,.2 .4,.7 .4-.6 .4-2.5 .4,8.3 .4-4.8 .4,4.5 .4-4.1 .4-1.2 .4,6.7 .4,.1 .4-4.4 .4,2.2 .4,1.3 .4-5.3 .4,3.1 .4-4.3 .4,9.5 .4-8.4 .4,5.6 .4-3.1 .4,4.1 .4-.1 .4-.5 .4,3.4 .4-2.3 .4,3.9 .4-1.6 .4-4.1 .4,2.3 .4,.9 .4,2 .4,.9 .4-4.8 .4,.9 .4-1.5 .4,.5 .4-4.2 .4,1.2 .4,4.7 .4,2.1 .4-2 .4-.7 .4,3.8 .4-3 .4,7.9 .4-10.5 .4,7.6 .4,3.3 .4-4.1 .4-1.2 .4,1.5 .4,2.8 .4,2.7 .4-3.1 .4,1.8 .4,1.1 .4-1.1 .4,1.2 .4,0 .4,1.5 .4-4.9 .4,.8 .4-.1 .4,7.9 .4-5.9 .4-.4 .4,4.8 .4-1.8 .4-2.3 .4,4.4 .4-5.7 .4-.4 .4,.9 .4,6.4 .4-3.8 .4,3.6 .4-6.6 .4-1.8 .4,6.1 .4-1.5 .4-4.5 .4,6.3 .4,5.3 .4-5 .4-4.5 .4,2 .4-.1 .4-3.3 .4,2.9 .4-.1 .4,1.9 .4,0 .4,2 .4,1.1 .4,0 .4-1.1 .4-2.4 .4,3 .4,.4 .4,9.2 .4-10.6 .4,2.1 .4,1.2 .4,.3 .4-7.8 .4,5.2 .4-3.5 .4,6.8 .4-6.7 .4-1.1 .4,2.9 .4,8 .4-2.4 .4,.3 .4-4.5 .4,2.8 .4-3.6 .4,2.3 .4,3.8 .4,0 .4-3.3 .4-2 .4,1.2 .4-3.1 .4-.1 .4,3.7 .4,3 .4,1.7 .4,1.5 .4-4.8 .4,2.2 .4-7.1 .4,7 .4,5.4 .4-4.9 .4,2.5 .4-1.8 .4,.2 .4,.9 .4-6.4 .4,2.1 .4,5.3 .4-5.7 .4,5.5 .4-5.4 .4,1.4 .4-1.3 .4,4.9 .4-1.7 .4-6.8 .4,2.8 .4,.3 .4,4.6 .4-.3 .4-6.1 .4,6.6 .4,1.9 .4-2.9 .4,1.3 .4,8.8 .4-10.5 .4-1 .4,2.5 .4-1.7 .4-2.9 .4,2.3 .4-2.3 .4,7.9 .4-8 .4,8.3 .4-6.8 .4-2.1 .4,3.1 .4,5.4 .4-4.1 .4,4 .4-2.1 .4-1.4 .4-2.7 .4,4.2 .4-2 .4-1.8 .4,1.2 .4,2.2 .4-1.1 .4,2.6 .4,2.8 .4-4.4 .4,.4 .4-.2 .4-.5 .4-1.8 .4-1.4 .4,.5 .4-1.3 .4,4.5 .4-5.6 .4,3.4 .4-2.1 .4,.1 .4,4.2 .4-1.4 .4,2.1 .4-5.1 .4,.3 .4,2.5 .4,1.6 .4-.4 .4,2.2 .4-7.2 .4,3.1 .4-1.4 .4,6.5 .4-8.9 .4,1.7 .4,5.4 .4-5.4 .4-2.4 .4,8.9 .4-1.8 .4-3.8 .4-1 .4,2.1 .4-1.6 .4,.3 .4,3.9 .4-4.2 .4,1.5 .4-1.3 .4,4.1 .4-2.5 .4,3.5 .4-6.5 .4,1.7 .4,1 .4,1 .4-1.5 .4,6.9 .4-7.3 .4,.6 .4-2.6 .4,2.5 .4,7.1 .4-5.2 .4-3.2 .4,5.2 .4-3.7 .4,2.5 .4-4.7 .4,1.6 .4,5.6 .4-3.8 .4,.4 .4,.7 .4,1.3 .4-4.2 .4-1.3 .4,2.5 .4,3 .4-4.1 .4,4.5 .4-7.4 .4,2.6 .4-1 .4-5.3 .4,13.9 .4-6.1 .4,5.9 .4-4.3 .4-4.4 .4,6.5 .4-2 .4,3.8 .4-3.4 .4-2.8 .4,1.8 .4-2 .4-2.4 .4,1.8 .4,3.9 .4-5.7 .4,5.4 .4,.7 .4-3.1 .4-1.5 .4,3.1 .4-3.7 .4,3.6 .4-.6 .4-1.9 .4-1.2 .4-1.3 .4,2.1 .4-2.8 .4,2.7 .4,.8 .4-1.5 .4,2.1 .4,1.4 .4-6.4 .4,3.4 .4-2.3 .4,.4 .4,1.2 .4,3.4 .4,.3 .4-4.9 .4,1.4 .4-.5 .4-.1 .4,5 .4-2 .4-7.5 .4,6 .4,.7 .4-5.1 .4,7.2 .4-1.8 .4,2 .4-8 .4,2.6 .4-1.3 .4,.1 .4,0 .4-1.8 .4,3.7 .4-4.4 .4,6.9 .4-.8 .4-8 .4,4 .4,3 .4,9.7 .4-11.2 .4,4.8 .4,2 .4-5.3 .4-3.4 .4-.1 .4-1.3 .4,5.3 .4,.1 .4-2.4 .4,6.1 .4-5.6 .4,2.1 .4,2.3 .4-.2 .4-.7 .4,.1 .4-.6 .4,2.5 .4-.4 .4-5.2 .4,3.9 .4-1.2 .4-.7 .4,4.8 .4-3.5 .4,.5 .4,2.4 .4-5.6 .4,1.2 .4,.7 .4-1.9 .4,3.5 .4-3.2 .4,3.3 .4-.6 .4,0 .4,1.2 .4-2.2 .4,2.8 .4-2.9 .4,1 .4-.2 .4,2.3 .4-1.6 .4-2.9 .4,7.5 .4-1.9 .4-2.9 .4,1.5 .4-4.1 .4,4.5 .4-3.7 .4,3.3 .4-1.5 .4-3.1 .4,4 .4-1.4 .4-1 .4,.9 .4,2.5 .4-1.6 .4-1.8 .4,0 .4,.7 .4-3.7 .4,2.1 .4,.8 .4-3.9 .4,10.1 .4-5.2 .4,3.9 .4-4.2 .4,.5 .4-.2 .4-4.2 .4,1.5 .4,4.2 .4-2.3 .4,1.9 .4-.2 .4-4.2 .4,.5 .4,.5 .4-2 .4,1.4 .4,3 .4,2.9 .4,.6 .4-1.8 .4-3.3 .4-.9 .4,6.7 .4-3.5 .4-2.7 .4-.6 .4,8.5 .4-4.1 .4-1 .4-.3 .4-1 .4,3 .4-.6 .4,2 .4-8.3 .4,6.3 .4-1.2 .4,1.7 .4-.8 .4-6.6 .4,5.1 .4,3.9 .4-2 .4-4.3 .4-2.3 .4,7.8 .4-2.8 .4,.9 .4-3.4 .4,4.9 .4-3.3 .4,0 .4-2.6 .4,3.5 .4,.5 .4-3.4 .4,1.1 .4,2.7 .4-4.5 .4,4.2 .4,1.4 .4-2.4 .4-3.6 .4,3.4 .4,3.1 .4-2.8 .4-3.5 .4,5.5 .4-1.2 .4,2.7 .4,.1 .4-1.8 .4-2.6 .4-4.6 .4,0 .4,4.8 .4-1.3 .4,1.6 .4-2.6 .4,0 .4,5.2 .4-2 .4-.5 .4,3.9 .4-6 .4,2.9 .4-3.6 .4,1.3 .4,1.3 .4-.9 .4-1.4 .4,1 .4,3.1 .4-4.7 .4-1.4 .4,7 .4-7.7 .4,2.2 .4-3.1 .4,0 .4,3.9 .4-2.2 .4-4.4 .4,2.6 .4-7.3 .4,1.9 .4-3.5 .5,.9 .3-2.4 .4,2.4 .4,.8 .4-4 .4,14.2 .4-2.3 .4,.2 .4,.8 .4-.4 .4,.8 .4,2.1 .4,2.6 .4-1 .4-.3 .4,1.7 .4-3.7 .4,4.5 .4-3.6 .4,2.7 .4-3.1 .4,4 .4-5.2 .4,7.6 .4-5.8 .4,.1 .4-.8 .4-.7 .4,2 .4-3.1 .4,6.3 .4-2.8 .4-5 .4,5.4 .4,1.2 .4-.8 .4-1.9 .4,1 .4-6 .4,3 .4-2.1 .4,2 .4,5.2 .4,1.3 .4,.7 .4-5.3 .4,2.6 .4-1.8 .4,1.7 .4-.4 .4-2.6 .4,4.9 .4-4 .4-.3 .4,.8 .4-.9 .4-2.7 .4,4 .4,1.3 .4,.8 .4-2.6 .4,4.9 .4-5.6 .4,.1 .4-4.5 .4,10 .4-1.2 .4,.5 .4-7.3 .4,5.7 .4-5.9 .4,7.1 .4-3.3 .4-.7 .4,1.1 .4-.7 .4,4.5 .4-1 .4-6.5 .4,5.8 .4-8.3 .4,10.7 .4-5.9 .4,.6 .4,.6 .4,5.8 .4-3.9 .4-1.9 .4,1.5 .4-2.4 .4,3.4 .4-3.9 .4,.5 .4,.2 .4,3.7 .4-2.5 .4-1 .4-3.2 .4,6.1 .4-3.3 .4,1.6 .4-1.3 .4,1.4 .4-.2 .4-4.7 .4-.2 .4,3.7 .4-3.6 .4,5.9 .4-1.6 .4,3.9 .4-2.2 .4-.3 .4-3.1 .4,2.3 .4,1.5 .4,.3 .4-1.9 .4-.9 .4-1.5 .4,.9 .4-.4 .4,4 .4,.1 .4-3.6 .4-.7 .4,3.3 .4,1.2 .4-1.5 .4-4.6 .4-.9 .4,9.8 .4-3.6 .4-3.4 .4,1.1 .4-.2 .4,.4 .4-2.5 .4,4.6 .4-3.9 .4-1.1 .4,5.6 .4-2.6 .4,2.8 .4-2.2 .4,1.5 .4,1.8 .4-3.4 .4,2 .4-4.1 .4,2.5 .4-7 .4,5.7 .4-1.8 .4-2.2 .4,5.9 .4-1.6 .4,1.1 .4-4.6 .4,4.2 .4,4.6 .4-3.7 .4-4.7 .4,4.8 .4-1.3 .4-2 .4-.4 .4,2.5 .4-5.7 .4,7.8 .4-.8 .4-.4 .4,.5 .4,1.3 .4-6.6 .4,3.9 .4,1 .4,.4 .4-2.8 .4,.8 .4,2 .4-.3 .4,2.9 .4-8.7 .4,4.5 .4-.8 .4,1.4 .4-.6 .4-1.7 .4,2.2 .4-3.8 .4,.6 .4,0 .4,3.1 .4,1.4 .4,1.1 .4-6.3 .4,2.7 .4,3.4 .4-2.7 .4,3.3 .4,.2 .4-4.8 .4,.1 .4,1.4 .4-2 .4,1.7 .4-.6 .4,5.1 .4-4.4 .4-1.5 .4,1.5 .4,.6 .4-5.8 .4,2.5 .4-.8 .4,3 .4,1.7 .4-4.5 .4-.6 .4,5.5 .4-3.4 .4,1.6 .4,1.5 .4,1 .4-3.5 .4-1.2 .4-.5 .4,.6 .4,2.6 .4,6.3 .4-5.4 .4-2.6 .4,1 .4-.5 .4-2.6 .4,3.5 .4,.9 .4-.4 .4-3.3 .4,2.8 .4-1.6 .4,.9 .4-3.6 .4,6.2 .4-2.5 .4-5.7 .4,5.8 .4,2.2 .4,5.6 .4-9.3 .4,5.9 .4-6.1 .4,4.8 .4-.7 .4-2.2 .4-2.2 .4,.2 .4,5.1 .4,1 .4-4.2 .4,.1 .4-1.1 .4,1.8 .4-1.4 .4,3.8 .4-.4 .4-1 .4-3.5 .4-1.2 .4,2.3 .4,4.5 .4-1.4 .4-2.2 .4,2.6 .4-.8 .4-3.6 .4,5.9 .4-1 .4-5.6 .4,2.1 .4,2.8 .4,2 .4-.8 .4-5.5 .4,1.1 .4,4.3 .4-4.8 .4,2.4 .4-1.4 .4,2.2 .4-4.7 .4,.1 .4,.8 .4,7.2 .4-.1 .4-.3 .4-5.9 .4-.8 .4,3.3 .4-1.8 .4-2 .4,4.1 .4-3.8 .4,5.3 .4-2.2 .4-1.5 .4-2.4 .4,3.2 .4,.1 .4,1.5 .4-1.3 .4-.3 .4-4.8 .4,3.4 .4,1.6 .4,1 .4-1.8 .4-2.9 .4,.9 .4,1.5 .4,2.6 .4-2.2 .4-1.9 .4,2.3 .4-.1 .4,3.8 .4-3.4 .4-1.3 .4,1.2 .4,1.3 .4-5.7 .4,3 .4-1.1 .4,1.1 .4,.5 .4,4.3 .4-1.6 .4-.8 .4-3.5 .4,3.2 .4,.7 .4-5.2 .4-.3 .4,7.2 .4-.6 .4-2.4 .4,2.3 .4-.2 .4,3.5 .4-12.5 .4,7.5 .4,1.9 .4-2.1 .4-2.5 .4-1.6 .4,6.4 .4,1.7 .4-9.9 .4,2.1 .4,4.1 .4,.4 .4-3.6 .4-2.3 .4,6.1 .4,.4 .4-8.4 .4,4.4 .4,1.2 .4-2.6 .4,2.8 .4-3.8 .4-.8 .4-2.4 .4-6.9 .4,8.6 .4-11.3 .4-1.1 .4,1.8 .4-4.5 .2-4.2 .6-8.9 .4,8.5 .4,5.6 .4-2.2 .4-1.5 .4,11.7 .4,5.6 .4-1.4 .4,2.3 .4-6.1 .4,4.8 .4-3.5 .4,9.7 .4-.4 .4-7.3 .4,8.5 .4,1.3 .4-5.5 .4,2.7 .4,4.6 .4-7.1 .4,4.7 .4,1.6 .4-1.8 .4-1.4 .4,1.7 .4,.5 .4,.9 .4,2.1 .4-7.6 .4,3.6 .4-.2 .4,4.3 .4-6.7 .4,7.1 .4-6.2 .4,.1 .4-1.4 .4,3 .4-.7 .4,1.4 .4-.6 .4,2.1 .4-.6 .4-7 .4,8.8 .4-2.8 .4-.1 .4-1.1 .4,3.4 .4-3 .4,3.6 .4-5.5 .4,6.8 .4-.8 .4-6.1 .4,4.9 .4-3.2 .4-1.6 .4,1.7 .4,1.5 .4-1.9 .4,2.9 .4,1.7 .4-6.4 .4-1.3 .4,4.6 .4,.6 .4-.2 .4,1.6 .4-.4 .4-6.1 .4,4.7 .4-3.1 .4,2.7 .4-3 .4,4.7 .4-1.6 .4-1.1 .4-2 .4,7.4 .4-1.7 .4-.7 .4-3.2 .4-.5 .4,5.9 .4-4.8 .4,3.2 .4,2.8 .4-8.8 .4,.8 .4,4.3 .4-5 .4,3.1 .4-.4 .4,3.5 .4-5.4 .4,3.6 .4,1.1 .4-4.2 .4,.2 .4,4.8 .4-.5 .4-5.8 .4,.1 .4,7.7 .4-3.8 .4-1.9 .4,1.6 .4-.5 .4,1.3 .4,2.6 .4-.4 .4-5.2 .4,.4 .4,.3 .4,4.8 .4-1.4 .4-7.4 .4,3.6 .4-.3 .4,4 .4,0 .4-4.2 .4-1.3 .4,2.9 .4,.7 .4-.7 .4-3.5 .4,2.1 .4,2 .4-.6 .4,.5 .4-3.6 .4,1 .4,1.2 .4-7.6 .4,6.5 .4,1.9 .4-.3 .4-2.2 .4,.6 .4,2.1 .4-2.1 .4-3.5 .4,4.8 .4-5.4 .4,2 .4,7.3 .4-4.5 .4,2.3 .4-1.7 .4,.4 .4-1.7 .4,1.6 .4-1.8 .4-2.5 .4,3 .4-.6 .4,1.9 .4,.6 .4,.6 .4-5.9 .4,3 .4,3.5 .4-5.8 .4-.5 .4,.5 .4-.4 .4-.6 .4,6.1 .4-5.5 .3,1.6 .5-3 .4,8 .4-8.2 .4-.8 .4,5.8 .4-4.2 .4,1.9 .4,3.8 .4-7.4 .4,7.5 .4-5.8 .4-5.9 .4,7.4 .4-1.7 .4-2.4 .4,10 .4-7.7 .4-3.7 .4,4.6 .4,2.8 .4-.5 .4-3 .4-.5 .4,.3 .4-2.5 .4,4.3 .4-.3 .4,2.7 .4-6.3 .4,7.1 .4-1.3 .4-.7 .4-3 .4,2.4 .4-2.7 .4,3.6 .4-2.8 .4-2 .4,1.2 .4-1.6 .4,4.4 .4-2.5 .4-1.6 .4,8.7 .4-6.4 .4,5 .4-6.7 .4,2.8 .4-2.6 .4,4.1 .4-1.7 .4,5.1 .4-12.1 .4,6.2 .4,4.1 .4-9.2 .4,7.3 .4-2.2 .4,.9 .4-2.7 .4,.4 .4-3.7 .4,3.6 .4,.5 .4-1.3 .4,6.2 .4-3.7 .4,2.8 .4-2.2 .4-3.8 .4,2.3 .4,0 .4-.7 .4,3.6 .4-.7 .4-2.5 .4,2.1 .4-4.7 .4,2.1 .4,4.8 .4-.6 .4-.5 .4,1.8 .4-4.1 .4-.7 .4,1.4 .4,1.9 .4,1.1 .4-3.7 .4-.2 .4,3.2 .4-1.5 .4-1 .4-2.4 .4,1.5 .4,.7 .4,.3 .4-.6 .4,2.8 .4-2.5 .4-.9 .4-.3 .4,1.8 .4,.5 .4,.1 .4-.1 .4-2.8 .4,4.6 .4-6.1 .4-2.7 .4,7.4 .4,0 .4-3.9 .4,.8 .4,3.7 .4,.1 .4-4.1 .5-.2 .3,3.2 .4,2 .4,2.2 .4-5.4 .4,.8 .4-3.3 .4,1.7 .4-6 .4,1.5 .4,8.1 .4-2.2 .4-2.7 .4,4.7 .4-3.3 .4-1 .4-.7 .4,1.6 .4,4.6 .4-5.3 .4,6.5 .4-3.6 .4,1.4 .4-3 .4-5.1 .4,7.6 .4-5.4 .4,5.7 .4-.5 .4-2.7 .4-1.9 .4,.3 .4,3.6 .4-3.9 .4-5.4 .4,3.9 .4,6.4 .4-1.6 .4-3.5 .4,1.3 .4,.2 .4,7.2 .4-9.5 .4,.7 .4,2.4 .4,1.1 .4-2.3 .4,3.5 .4-2.1 .4-1.7 .4-.1 .4,1.2 .4,.2 .4,1.3 .4,2.2 .4-3.8 .4,2.7 .4,.1 .4-3.6 .4-4.2 .4,5.9 .4,.5 .4,2.8 .4-8.8 .4,7.1 .4-2 .4,1.6 .4,2.1 .4-2.1 .4,.8 .4-.7 .4-3.8 .4,3.8 .4-1.7 .4,2 .4-5.4 .4,6.5 .4-1.2 .4-.9 .4-.5 .4,3.5 .4-1.6 .4,1.1 .4-.7 .4-2.3 .4,2.1 .4,1.4 .4-3.2 .4,2.4 .4-.8 .4,3 .4-3.2 .4-.2 .4-1.5 .4,.4 .4,2.6 .4,1.9 .4-7 .4,3 .4,2 .4,.6 .4-3.1 .4-.4 .4,1.9 .4,1.9 .4,0 .4-2.3 .4,2.2 .4-1.8 .4-.2 .4,3.2 .4-2 .4,1.7 .4-.3 .4-2.3 .4-.4 .4,2 .4-.5 .4,3.8 .4-2.7 .4-.5 .4-2.9 .4,1.8 .4,2.4 .4-4.8 .4,.3 .4,4.5 .4-.2 .4-2.4 .4,1.3 .4-1 .4,.9 .4,2.6 .4-.3 .4,3.5 .4-1.8 .4-2.5 .4-1.3 .4,2.9 .4-1.6 .4,0 .4,1.2 .4-1.7 .4-1.4 .4,2.7 .4-2 .4-.7 .4,2.9 .4-3.6 .4-.8 .4,7.5 .4-2.7 .4-2.4 .4,1.2 .4-.6 .4-1.6 .4-.1 .4-1.2 .4,3.9 .4,2 .4,.3 .4-2.9 .4,3 .4-3 .4,2.1 .4,.9 .4-4.4 .4,1.4 .4-.8 .4-1.1 .4,1.8 .4,2.4 .4,.6 .4-4.6 .4,1.2 .4,4.5 .4-5.8 .4,1.1 .4,4.9 .4-5.1 .4,2.3 .4-2.1 .4-3.4 .4,5 .4-5.5 .4,.5 .4,6.5 .4-1.3 .4-2 .4,2.5 .4,.7 .4-1.9 .4-4 .4,.5 .4,5 .4-2.7 .4,3 .4-5.1 .4,3.7 .4-5.8 .4,5.9 .4-.7 .4,1.7 .4-7.2 .4,1.5 .4,1.3 .4,2.8 .4,2.7 .4-1 .4-6 .4,2 .4,4.5 .4-1.7 .4-4.8 .4,4.6 .4,0 .4,.5 .4-1.7 .4,.7 .4,1.4 .4-1.6 .4,1.8 .4-.6 .4-.3 .4-2.5 .4,2.5 .4,.5 .4-3.5 .4-.8 .4,3.2 .4,.4 .4-3.4 .4,2.8 .4,3.9 .4-9.6 .4,5.7 .4-.4 .4-.4 .4-.4 .4,1.2 .4-1.3 .4-.9 .4,3 .4,2.8 .4-5 .4,2.1 .4,1 .4-5.4 .4,1.7 .4-.9 .4,1.2 .4,3 .4-4.9 .4,5.5 .4,1.9 .4-6.8 .4,2.3 .4,1.3 .4-4.5 .4-2 .4,4.7 .4-2.2 .4,2.2 .4-2 .4,.6 .4-.5 .4,1.6 .4,1.8 .4-2.1 .4,.7 .4-4.2 .4,6.6 .4-1.3 .4,1 .4-4.2 .4-1.9 .4,2.9 .4-4.2 .4,2.4 .4-.6 .4-.3 .4-3.4 .4,5.8 .4-5.7 .4,3.5 .4-.9 .4-4.7 .4,6.5 .4-1.9 .4,4.4 .4-.1 .4-7 .4-3.4 .4,5.1 .4,2.3 .4-3.1 .4,5.1 .4-4.6 .4-2.4 .4,1.1 .4,.9 .4,2.3 .4-4.6 .4,1.4 .4,1.6 .4-3 .4,1 .4,2.1 .4-1.3 .4,.5 .4-3.8 .4-2.7 .4,1.2 .4,1.1 .4,2.3 .4-2.8 .4-1.3 .4,.8 .4,1.9 .4-2.4 .4,4.2 .4-1.7 .4-1.1 .4-2.9 .4,6.6 .4-4.2 .4,1.6 .4-1.5 .4-3 .4-.2 .4-.2 .4,3.3 .4-1.2 .4-6.7 .4,6.5 .4-6.8 .4,2.7 .4,5.5 .4-4.1 .4-1.1 .4-7.7 .4,10.1 .4-3.2 .4,.3 .4-4 .4,.7 .4,2.6 .4-6.4 .4,8.2 .4-.5 .4-6.2 .4-.1 .4,2.8 .4-.8 .4-3.3 .4,1.9 .4-3.8 .4-2.3 .4,7.6 .4-1.7 .4-6.5 .4,4.1 .4-.1 .4,4.5 .4-1.3 .4,.1 .4-7 .4,4.6 .4-7.1 .4-1.8 .4,11.2 .4-12.5 .4,7.8 .4-7.9 .4-1.4 .4,9.1 .4-16.1 .4,7.1 .4,1 .4-6 .4-2.1 .4-.5 .4,12.5 .4-17.8 .4,2.2 .4,2.7 .4-5.1 .4,8.7 .4-8.2 .4,1.3 .4,1 .4-4.1 .4,4.8 .4-8.9 .4,5.3 .4,3.7 .4,.2 .4-11.5 .4-1.8 .4,16.4 .4-6 .4-14.4 .4,13.7 .4-3.4 .2,.9 .6,5.2 .4-7.9 .4,4 .4-4.9 .4,9.9 .4-4 .4,3.4 .4-3.6 .4-8.2 .4,6.4 .4,.1 .4,2.1 .4-5.1 .4,1.6 .4,.3 .4-2.5 .4,7.2 .4-4.1 .4,9.8 .4-8.4 .4-5.4 .4,8.9 .4,4.7 .4-.3 .4-9.5 .4,1 .4-.4 .4,2.9 .4-5.3 .4-11.4 .4,17.2 .4-2.9 .4-9.3 .4,4 .4-2.3 .4-3.3 .4,5.2 .4-7.6 .4,4.4 .4,3.5 .4,.4 .4,4.6 .4-9.5 .4,1.5 .4-.4 .4-6.9 .4-7.7 .4,4.2 .4-5 .4,9.6 .4,7.2 .4-5 .4,8.3 .4-10.8 .4,12.3 .4-3.5 .4-3.9 .4,4.6 .4-11.5 .4-3.2 .4,9.7 .4,6.4 .4-3.9 .4,1 .4-2.8 .4-2.6 .4,7.1 .4,1.4 .4-5.2 .4,9.8 .4,3.1 .4-17.5 .4,12.9 .4-7.5 .4,5.6 .4,3.6 .4,3.8 .4,.5 .4,1.8 .4-.9 .4-3.3 .4,6.1 .4-2 .4,5.3 .4-1.8 .4,1.9 .4-6.1 .4,9.3 .4-2.3 .4,4.1 .4-2.1 .4,10.4 .4-1 .4,4 .4-8.9 .4,5 .4-1.3 .4-1 .4,5.3 .4-3.8 .4,10.8 .4-7.9 .4,3.1 .4-3.7 .4,1 .4-.7 .4,6.2 .4-.8 .4-1.9 .4-3.4 .4,2.3 .4,1.9 .4-4.8 .4,4.4 .4-7.1 .4,4 .4,.4 .4,.9 .4,7 .4-10.5 .4,5.5 .4-2.1 .4-1.5 .4,1.6 .4-2 .4,6.1 .4,.9 .4-4.3 .4,5.1 .4-.1 .4-7.5 .4,8.4 .4-.9 .4-.2 .4,.1 .4-2.1 .4,3.8 .4-2.7 .4,8.7 .4-3.9 .4,5.6 .4-2.6 .4,2.1 .4-1.6 .4,1.1 .4,2 .4-.7 .4,3 .4-3.9 .4,1.6 .4-1.1 .4,7.7 .4,.3 .4-3.6 .4,1.1 .4-1.8 .4,.5 .4,5.5 .4-3.9 .4-.7 .4-.8 .4,2 .4,.6 .4-2.7 .4,.9 .4,2.2 .4-1.2 .4-1.3 .4,1.8 .4-.3 .4-.5 .4-.6 .4,2.1 .4-1.9 .4-1.4 .4,.8 .4,1.8 .4-1.5 .4-1 .4,5.2 .4-5.7 .4,1.6 .4,4.2 .4-3.9 .4,.5 .4-2.4 .4,3.4 .4-4.2 .4,6 .4-2.9 .4,3 .4-3 .4-1.9 .4,1.3 .4,4.9 .4-2.7 .4-.9 .4,3.2 .4-6.7 .4,3.1 .4,3 .4-4.3 .4,3 .4-1.7 .4,4 .4-1.8 .4-.8 .4-1.2 .4-.8 .4-1.7 .4,.9 .4-2.4 .4,4.2 .4,1.2 .4,4 .4-3.9 .4,2.7 .4-5.9 .4,.8 .4,2.4 .4-2.5 .4,3.6 .4,.1 .4-2.4 .4-.7 .4,.4 .4-1.3 .4,5.7 .4-3.7 .4,3.5 .4-5.7 .4,6.6 .4-5.4 .4,.7 .4,1.7 .4,1.1 .4,.9 .4-3.1 .4-2.6 .4,5.9 .4-3.9 .4-2.4 .4-.3 .4,2 .4-4.2 .4,4.5 .4-1.2 .4,5.2 .4-1.5 .4-2.3 .4-4.9 .4,2.7 .4,1.6 .4,2.5 .4-5.5 .4,3.2 .4-2.6 .4,6.6 .4-4.2 .4-1.3 .4,2.6 .4-2.1 .4,.6 .4,1.3 .4-1.5 .4,0 .4,5.1 .4-3.6 .4-1.6 .4,5.1 .4-2.4 .4,1.9 .4-4.5 .4,1.1 .4,1.4 .4,.5 .4-2.5 .4,5.5 .4-7.1 .4,3.9 .4-1.9 .4,0 .4,.2 .4,5.7 .4-6.9 .4-2.7 .4,6.8 .4-1.8 .4,.3 .4,.6 .4,2.7 .4-6.1 .4,1 .4,2.5 .4-2.4 .4,1.1 .4-3.4 .4,1.6 .4,3.2 .4-9.4 .4,8.4 .4-6.5 .4,11.1 .4-2.7 .4,.9 .4,.1 .4-5.8 .4,2.2 .4-2.2 .4,3.3 .4-1.9 .4,1.8 .4-2.3 .4,1.5 .4-2.3 .4,.7 .4-.5 .4,1.1 .4,1.7 .4,1.5 .4-4.6 .4,3.9 .4-3.8 .4,5.3 .4-3.4 .4-1.9 .4,1.6 .4,2.2 .4-1.8 .4,1.1 .4-1.2 .4,5.1 .4-2.7 .4-1.7 .4,.3 .4,4.3 .4-4.4 .4-.3 .4-2.8 .4,4.5 .4-3.6 .4,1 .4,5.5 .4-7.1 .4,4.3 .4-3.4 .4-2.4 .4,1.9 .4,.1 .4,1.1 .4-.5 .4-.2 .4,.5 .4,3 .4-.7 .4-3.6 .4,1.9 .4-1.1 .4,3.6 .4-7.7 .4,6.4 .4,.3 .4-2.5 .4-.2 .4,1.9 .4-4.3 .4,1.8 .4-1.6 .4,4.3 .4-3.4 .4,1.5 .4-3.9 .4,3.4 .4,3.7 .4-1.4 .4,2.1 .4-9.5 .4,.1 .4,10.3 .4-3 .4-4.1 .4,5.1 .4-.8 .4-.2 .4,.2 .4,.9 .4-.6 .4-.8 .4,.6 .4-.6 .4-.4 .4-.1 .4-.7 .4,1 .4,1.2 .4-1.9 .4,0 .4,4.2 .4,.3 .4-3.9 .4-1.9 .4,4.9 .4-6.8 .4,7 .4-.6 .4-4 .4,.8 .4-2.1 .4,2.8 .4-2.9 .4-.7 .4,3.6 .4-1.9 .4,1.2 .4-.4 .4-1.1 .4,2.2 .4-2.6 .4,3.2 .4-2.4 .4,4 .4-3.8 .4,2.6 .4,.5 .4-2.2 .4-2.7 .4,4.5 .4-4.6 .4,3.9 .4-4.4 .4,2.5 .4,.7 .4-1.1 .4,1.8 .4,.8 .4-1 .4,.2 .4,2.6 .4-1.4 .4-.8 .4-2.1 .4-1.3 .4,1.1 .4,3.5 .4-1.8 .4,1.3 .4-4.7 .4-1.1 .4,4.5 .4-6.1 .4,5.1 .4-3 .4,3.9 .4,.8 .4-3.9 .4,5.4 .4-1.8 .4-1.1 .4-1.9 .4,.2 .4,1.3 .4,2.8 .4-2.3 .4-3.6 .4-.1 .4,4.5 .4-1.2 .4,2.6 .4-.8 .4,.8 .4,.8 .4-.7 .4-1.3 .4-5.2 .4,6.1 .4,.4 .4-.7 .4-4 .4,4.3 .4,2 .4-2.5 .4-1.9 .4-3.8 .4,2.7 .4,6.1 .4-4 .4,2.1 .4-2.7 .4-2.1 .4,5.6 .4-1.9 .4,1.6 .4-2.5 .4-2.9 .4,6 .4-4 .4,1.5 .4-.1 .4,1.3 .4-.9 .4,3.6 .4-5 .4,2.7 .4,1.2 .4-4.2 .4-1.9 .4,2.3 .4,3.1 .4-2.2 .4,1.6 .4-2.3 .4-4.3 .4,2.3 .4-1.2 .4-1.2 .4,3.7 .4,3.1 .4-1.1 .4-.4 .4,.2 .4-1.9 .4,4.4 .4-1.8 .4-.4 .4-8.8 .4,9.7 .4,.3 .4-2.8 .4-3.7 .4,6 .4-3.2 .4,.4 .4-.2 .4,.3 .4-1.8 .4,3.2 .4,2 .4-3 .4-2.5 .4,1.8 .4,.4 .4-.1 .4,1.2 .4-1 .4,.3 .4,.1 .4-2.8 .4,3.6 .4,1.3 .4-1.5 .4-.4 .4,6.1 .4-5.5 .4,3.9 .4-6.5 .4-.2 .4-1.5 .4,1 .4-.9 .4,3 .4,.7 .4-1.3 .4,.8 .4-1.7 .4-.5 .4-.2 .4,1.4 .4,5.2 .4-9.8 .4,7 .4,0 .4-2.5 .4,2.2 .4,2 .4-4.9 .4,2.2 .4-1.7 .4,.4 .4,.5 .4,0 .4-1.3 .4,.3 .4,3.8 .4,.8 .4-2.7 .4,1.2 .4-2.8 .4-.3 .4,1.6 .4,2.1 .4-2.1 .4-3.6 .4,5.2 .4,2.8 .4-4.1 .4-4.7 .4,4.5 .4,3.8 .4-5.1 .4,1.5 .4-1.6 .4,1.7 .4-6 .4,3.1 .4,.9 .4,1.9 .4-.8 .4-2.2 .4,1.1 .4-2 .4,.7 .4,.8 .4,1.9 .4,3.2 .4-5 .4-.1 .4,1.3 .4-5.5 .4,6.9 .4,.7 .4-4.4 .4,.8 .4,5.3 .4-3.9 .4-1.3 .4-.4 .4,5.4 .4-4.1 .4-1.6 .4,2.7 .4,3.3 .4-6.6 .4-1.8 .4,7.8 .4-3.6 .4,2.6 .4-.7 .4-4.9 .4-.7 .4,7.9 .4-5.7 .4,2.2 .4-3.4 .4,4.3 .4-3.6 .4-.6 .4,4.9 .4-.9 .4-2 .4,2.9 .4-5.6 .4,5.4 .4,1 .4-1.8 .4-2.2 .4-1.5 .4,2.4 .4-2.9 .4,3 .4-1.2 .4,.3 .4,1 .4-2.8 .4,2.2 .4,.2 .4-3.9 .4,7.2 .4-4.1 .4,.1 .4,2.6 .4-.4 .4-6.4 .4,11.1 .4-2.8 .4-4.9 .4,2.4 .4,0 .4-3.6 .4,2.8 .4,.2 .4,2.9 .4-8.8 .4,4.3 .4-1.6 .4,5.6 .4-5.5 .4-.1 .4,.3 .4,2.3 .4,.4 .4,.2 .4-1.8 .4,.6 .4-1.7 .4,.2 .4,.2 .4-1.1 .4,7.4 .4-4.9 .4,.1 .4-.9 .4,.2 .4,4.4 .4,.4 .4-5.3 .4,.9 .4,4.6 .4-7.1 .4,2.8 .4,1.5 .4-3.2 .4,3.7 .4-5.7 .4,5.1 .4,1.8 .4-6.3 .4,3.9 .4,2.6 .4-4.9 .4,1.1 .4-.3 .4-3.1 .4,3.1 .4,4.2 .4-4.4 .4,3.4 .4-10.3 .4,6.7 .4-5.3 .4,2.8 .4,3.4 .4,2.7 .4-4.4 .4,4.5 .4-3.7 .4-.4 .4-3.1 .4,.6 .4,1.2 .4,1.4 .4,4.5 .4,0 .4-1.6 .4-2.4 .4,.8 .4,2 .4-6.6 .4,3.1 .4,2.2 .4-4.4 .4,6.3 .4-2.7 .4-.4 .4-.2 .4-1.7 .4,2.1 .4-2.1 .4-.4 .4,1.1 .4,3.3 .4-5.7 .4,4.4 .4,.6 .4-2.9 .4-.7 .4,2.3 .4-2.9 .4-2.5 .4,7.5 .4-6.9 .4,1.8 .4-.3 .4,1.3 .4,2.5 .4-3.3 .4,.4 .4,1.5 .4-2.3 .4,2.7 .4,1.8 .4-1.9 .4,3.4 .4-3 .4-.1 .4-8.1 .4,5.1 .4,3.7 .4-5.4 .4,2.5 .4,2.5 .4,.7 .4-2.3 .4-.4 .4,1 .4-5.9 .4,5.5 .4-2.6 .4,1.4 .4-2.7 .4-1.2 .4,4.2 .4,1.7 .4-.1 .4-4.4 .4,1.5 .4-.5 .4,3.5 .4,1.3 .4-.9 .4,.1 .4,2.7 .4-4.1 .4-.1 .4,2.7 .4-5.6 .4,.4 .4,3.1 .4,4.4 .4-6.7 .4,2.5 .4-1.9 .4,3.5 .4-.7 .4-.7 .4-1.6 .4,.6 .4-3.2 .4,1.5 .4,3.9 .4-10.6 .4,13 .4-5.8 .4,3.4 .4,2.7 .4-10.2 .4,3 .4,1.6 .4,2 .4,2.7 .4,1.9 .4-5.4 .4,4.3 .4-3.7 .4-.3 .4,3.1 .4-4.3 .4-1 .4,5.9 .4-2 .4-.6 .4,.6 .4-5.3 .4,6.1 .4,3.1 .4-4.3 .4,1.4 .4-.8 .4,2.4 .4-1.4 .4-9.1 .4,9.6 .4,.5 .4-6.8 .4,4 .4,2.7 .4,1.2 .4-4.6 .4,7.4 .4-4.7 .4-.9 .4,.9 .4,.2 .4,.8 .4-4.2 .4,3.7 .4-.2 .4,5.7 .4-5.8 .4-1.4 .4-1 .4,1.9 .4-.9 .4-2.7 .4,.3 .4,2.1 .4-.1 .4,4.4 .4-1.3 .4-2 .4,2.1 .4-2.9 .4-1.8 .4-1.5 .4,4.1 .4,1 .4,1.2 .4-8.2 .4,3.8 .4,2.1 .4-.5 .4-4.3 .4,4.6 .4-.7 .4,3 .4-4.7 .4,6.2 .4-6 .4,6.3 .4-3.9 .4,2.1 .4-2.7 .4-2 .4,5.6 .4-3.8 .4,3.3 .4-4.4 .4-.1 .4,1.8 .4,3.3 .4-4.1 .4,6.4 .4-5.1 .4,3.5 .4-6.8 .4,2.5 .4,2.8 .4,.8 .4-3.6 .4,5.9 .4-7.3 .4,2.9 .4,2.8 .4-1.2 .4-1.4 .4,1.8 .4-4.1 .4,3.6 .4-5.2 .4,1 .4,4.5 .4-.3 .4-2.5 .4-1.9 .4,1.9 .4-1 .4,5 .4,1.9 .4-7.3 .4,2.8 .4,.1 .4,.3 .4-.4 .4,1.1 .4-6.9 .4,3.8 .4-.9 .4,1.2 .4-2 .4,1.6 .4,.3 .4,2.1 .4-.4 .4-3.2 .4-.3 .4-.9 .4,2.4 .4-.1 .4,.1 .4,2.9 .4-1.2 .4,1.5 .4-1.2 .4,.3 .4,1.2 .4,.1 .4,3.4 .4-5.7 .4-1 .4-2.9 .4,6.3 .4,1.6 .4-3.8 .4-.8 .4-1.3 .4,2 .4-5.5 .4,8.1 .4-4.3 .4,2.9 .4,2.8 .4-9.7 .4,4.9 .4-1.3 .4-.1 .4,4.4 .4-.1 .4-.7 .4-.2 .4-1.9 .4,1.3 .4,1.4 .4,.1 .4-2.8 .4,1.9 .4-2.4 .4-1.8 .4,7.5 .4-4.2 .4-.1 .4-1.6 .4,1.9 .4-1.4 .4,2.8 .4,1.6 .4-4.4 .4-.6 .4,1.7 .4,.4 .4-1.2 .4-2.2 .4,3.8 .4-.4 .4-.4 .4-1.2 .4,1.4 .4-.5 .4-1.4 .4,2.1 .4-.7 .4,1.3 .4-1.3 .4,1.5 .4-4.4 .4,3.4 .4-3.6 .4,7.2 .4-3.7"/>
<path class="c" stroke="#359a9a" d="M138.5,1492.3l.4-1.9 .4,12.3 .4-2.6 .4-2 .4,5.9 .4-11.3 .4-2.7 .4-.2 .4-6.4 .4,8.7 .4,2.6 .4-5.7 .4,5.5 .4-.4 .4-3.4 .4-2.3 .4,6 .4-1.3 .4-3.1 .4-3.2 .4,14.1 .4-3.4 .4-5.5 .4-1.4 .4,6.4 .4-5.4 .4,3.6 .4-11 .4,10.9 .4,2.7 .4,1.3 .4-2.8 .4,1.4 .4-2 .4-1 .4-1.6 .4-6.8 .4,3.7 .4,5.8 .4-9.9 .4,13.7 .4-1.4 .4-9.1 .4,9.2 .4-5.2 .4,8.4 .4-9.7 .4,8 .4-10.7 .4,.7 .4-4.5 .4,10.3 .4-5.9 .4,11.4 .4-13 .4,9.9 .4-.2 .4-6 .4,2.9 .4,10 .4-11.5 .4,6.4 .4-.6 .4-2.3 .4-9.7 .4,6 .4,3.6 .4,3.3 .4-7.8 .4-5 .4,1 .4,7.4 .4-3.8 .4,6.7 .4-.8 .4-3.6 .4-4.9 .4,6.6 .4,1.5 .4-1.5 .4,3 .4-5.7 .4,5.8 .4,0 .4-3.3 .4,.1 .4-2.5 .4,1 .4-1.6 .4,8.6 .4-4.4 .4-5.9 .4,4.5 .4,6.6 .4,1.1 .4-1.4 .4-10.8 .4,8.7 .4-8.8 .4,13.7 .4,.7 .4-14 .4,6.6 .4-6.8 .4,6.6 .4-3.7 .4-1.7 .4,8.8 .4-3.2 .4,3.3 .4-2 .4-6.8 .4,1.7 .4,7.5 .4,.4 .4-6.6 .4,11.1 .4-6.5 .4,4.7 .4-4.8 .4,3.4 .4-8.1 .4,2.1 .4-6.7 .4,7.9 .4-6.4 .4,6.9 .4-3.5 .4-2.2 .4,2.7 .4-.7 .4-2.5 .4,11.8 .4-11 .4,9.3 .4,.9 .4-2 .4-5.8 .4-1.4 .4-5.1 .4,3.1 .4-.1 .4,1.8 .4,4.5 .4,3.1 .4-9.2 .4,9.3 .4-7.8 .4,14.7 .4-5 .4,3.2 .4-7.1 .4-5.3 .4-2.8 .4,7.3 .4-7.3 .4,9.5 .4,.1 .4-6.5 .4,8.5 .4-4.3 .4,1 .4,1.3 .4-6.2 .4,3.3 .4-4.1 .4,6.6 .4-5.6 .4,9.1 .4-1.1 .4-7.3 .4,2.5 .4,0 .4,6.3 .4-3.7 .4-1 .4,8.7 .4-9.1 .4,.5 .4-1 .4,1.8 .4-6.4 .4,10.9 .4-12.6 .4,.1 .4,10.5 .4,1.4 .4-5 .4-3.3 .4-6.3 .4,14.7 .4-9.2 .4,5.4 .4-3.7 .4,6 .4-6.7 .4,4.6 .4-3.5 .4,.7 .4-2.5 .4,8.9 .4-13 .4,11 .4-7.2 .4,2.5 .4,6.1 .4-10 .4,10 .4-6.2 .4,7.5 .4-1.8 .4,.9 .4-6 .4,3 .4-4.1 .4,3.3 .4-2.1 .4,5.1 .4,8.7 .4-8 .4-8.4 .4,4.3 .4-.5 .4-5.4 .4,1.5 .4,6.7 .4-7.9 .4,15.1 .4-16.4 .4,6.6 .4,7.8 .4-5.1 .4,1.9 .4-12.2 .4,6.7 .4-4.5 .4,3.2 .4,3.8 .4-4.6 .4,7.8 .4-8.2 .4,4.8 .4-2.5 .4-2.1 .4-.8 .4,2.6 .4,8.3 .4-11.1 .4,7.1 .4-11.2 .4,12.2 .4-6.1 .4,1.7 .4,3.4 .4-2 .4,2.1 .4-2.3 .4,1.5 .4-6.7 .4,4 .4,.4 .4-4.8 .4,7.9 .4-.4 .4-5.7 .4,4.2 .4,2.1 .4-3.8 .4,4.4 .4,.5 .4-7.5 .4,8.5 .4,2.4 .4-9.1 .4,5.9 .4-10.4 .4-2 .4,9.7 .4-4.4 .4,8.1 .4,3.8 .4-8.6 .4-1.4 .4,5.4 .4,.2 .4-.3 .4-6.2 .4,6 .4-1.5 .4-6.7 .4,3.9 .4,6.1 .4-6.1 .4-4.9 .4,9.7 .4,1 .4-7 .4,2.9 .4,1.8 .4-5.2 .4,5 .4,4.8 .4-2.4 .4-2.8 .4-2.1 .4,11.3 .4-16.8 .4,6.8 .4-2.4 .4-.7 .4,2.8 .4-.2 .4,7.2 .4,1 .4-1.7 .4-2.6 .4-4.3 .4-.2 .4,8.8 .4-4.1 .4-10.3 .4,5.7 .4-3.8 .4,6.5 .4,3.7 .4,1.3 .4-5.8 .4,.5 .4-.9 .4-5.8 .4,4.5 .4,1.6 .4,1.8 .4,.9 .4-2.6 .4,2.7 .4-8.7 .4,7.2 .4-.8 .4,7.9 .4-10.1 .4,7.5 .4-5.4 .4,1.3 .4,.6 .4,2.3 .4-9.8 .4-1.9 .4,13.5 .4-1.9 .4,1.7 .4-6.3 .4,6.9 .4-13.4 .4-1.2 .4-.9 .4,14.9 .4-4.1 .4,1.4 .4-4.1 .4-2 .4,6.1 .4-6.4 .4,3.6 .4,.8 .4,6.7 .4-1.9 .4-3.2 .4-.2 .4-8.7 .4,11 .4-1.6 .4,.7 .4-3.1 .4,.1 .4,3.6 .4-3.8 .4-2.1 .4,3.5 .4-.3 .4-2.6 .4-3.7 .4,10.8 .4-11.8 .4,12.9 .4-5.3 .4-.3 .4-1.8 .4-.5 .4-1.1 .4,2.4 .4-1.7 .4,6 .4-10.1 .4,4 .4,.4 .4,9.7 .4-4.7 .4-1 .4,4.1 .4-7.8 .4-1.4 .4,7.1 .4-4.2 .4,5.2 .4,5.2 .4-7.9 .4,4.9 .4-6.4 .4-.3 .4,1.9 .4,5.5 .4-5.4 .4,4.8 .4-6.4 .4-3.4 .4,1.9 .4,4 .4-2.8 .4-1.9 .4,3.9 .4-1.8 .4,5.5 .4-7.4 .4,9.2 .4-2.2 .4,.8 .4-1.7 .4,3.8 .4-6 .4-3 .4-4.4 .4,10.5 .4,.3 .4-2.2 .4-2.1 .4,2.9 .4-.9 .4-5.5 .4,9.4 .4-5.7 .4-.5 .4,2.4 .4,5.4 .4-9.1 .4,1.6 .4-1.1 .4-2 .4-3.5 .4,10 .4-5.2 .4,4.3 .4,5 .4-6 .4-.5 .4-3 .4,3.4 .4-5.3 .4-1.5 .4,1.1 .4,5.4 .4-1.8 .4,.8 .4-2.1 .4-.6 .4,6 .4,1.3 .4,.6 .4-1.1 .4-3.4 .4-10.4 .4,10.1 .4,4.4 .4-9.9 .4-1.1 .4,7.9 .4-2.8 .4-.2 .4,6.4 .4-3.2 .4-2.3 .4-1 .4,.1 .4,6 .4-3.3 .4,4.8 .4-12.3 .4,10.2 .4-2.6 .4,0 .4,3 .4-7.1 .4,3.3 .4,.6 .4,2.9 .4-2.2 .4-.3 .4-6.6 .4,5.6 .4,.6 .4,2.3 .4-8.7 .4,8.7 .4,2.2 .4-1.5 .4-1 .4-.2 .4-2.2 .4-5.2 .4,4.2 .4,2.8 .4-3.2 .4,5.2 .4,0 .4-8.7 .4,8.4 .4,4.8 .4-10.2 .4,5.4 .4,1.7 .4-8.4 .4,6 .4,2.2 .4-5.6 .4,4.1 .4-.6 .4,2.4 .4-6.8 .4,5.5 .4,5.2 .4-13.4 .4,8.7 .4,8.3 .4-8.4 .4,.4 .4-.3 .4-5.4 .4-2.9 .4,2.3 .4,3.5 .4,1.7 .4-3.8 .4,6.1 .4,.6 .4-6.3 .4,1.1 .4-8.4 .4,8.8 .4,1.1 .4,7.8 .4-10.5 .4,7.6 .4-2 .4-1 .4,1.1 .4,.6 .4-3.4 .4,3.6 .4-11.8 .4,8.5 .4,.3 .4,5.4 .4-3.6 .4-3.6 .4-1 .4-.5 .4,6.7 .4-6.4 .4,2.4 .4-7.1 .4,3.7 .4,.7 .4,9.1 .4-6 .4-3.1 .4,2.2 .4,10.4 .4-10.3 .4,4.8 .4-7.5 .4,2.1 .4-1 .4,.1 .4,9.3 .4-9 .4,4.6 .4-6.2 .4,1.5 .4,1.1 .4,3.3 .4-2.3 .4-4.5 .4,2 .4,3 .4-3.9 .4,6.6 .4-7.7 .4-.4 .4,6.3 .4,6.2 .4,1 .4-2.7 .4-7.9 .4,5 .4-10.4 .4,5.2 .4,12.7 .4-7.1 .4-1.6 .4-.9 .4,1.4 .4-.9 .4-6.9 .4,15.5 .4-8.9 .4-1.4 .4-1.5 .4-.6 .4,3.6 .4,1.2 .4-6 .4,4.4 .4-4.2 .4,12.1 .4-2.6 .4-7.1 .4,2.7 .4,.8 .4-5.4 .4,9.5 .4-3.4 .4-6.2 .4,2.5 .4,1.3 .4-2.3 .4-1.1 .4,.6 .4-2.2 .4,10.3 .4-4.1 .4-7.5 .4,3.7 .4,3.3 .4,1.4 .4,2.7 .4-2.9 .4,4.3 .4-2.1 .4-1.7 .4-2.4 .4,9.6 .4-6.3 .4-2.1 .4,.9 .4,1 .4,1.1 .4-2.2 .4-7.5 .4,8.6 .4-6.9 .4,7.8 .4,1.2 .4-2.3 .4-.9 .4-2.7 .4-1.2 .4-2.9 .4,8.8 .4,1.1 .4-5.6 .4,5 .4-.5 .4-2.1 .4-6.4 .4,8.2 .4-2.1 .4,7.4 .4-5.8 .4-3.3 .4,8.2 .4-6 .4-1.5 .4-.1 .4,1.4 .4,1.5 .4-2.9 .4,.9 .4-2.5 .4-.1 .4,3.7 .4-1.9 .4,2.8 .4-2.4 .4-2.8 .4,2.3 .4,2.5 .4,7.2 .4-7.5 .4-4.4 .4,4.5 .4-7 .4,8.7 .4-9.5 .4,13.4 .4-3.9 .4,.5 .4-.2 .4-4.3 .4,4 .4,2.7 .4-3.1 .4-4.6 .4,8.1 .4-1.1 .4-4.4 .4,7 .4-2.1 .4-3 .4-6 .4,9.3 .4-8.3 .4,5.3 .4-6.7 .4,.9 .4,6.5 .4-11.1 .4,11.9 .4,5.2 .4-5.8 .4-2.9 .4-2.4 .4,1 .4,6.4 .4-2.9 .4-1.4 .4,6 .4-5.2 .4-1.1 .4-3.5 .4,7.9 .4-7.9 .4,5.3 .4-1.2 .4,4.5 .4,2.3 .4,.9 .4-6.8 .4-3.5 .4-3.7 .4,15.5 .4-4.9 .4-4.2 .4,5.3 .4-7 .4,5.3 .4-5.1 .4-1.9 .4,3.7 .4,.8 .4,4.2 .4-5 .4,8.1 .4-6.9 .4-.1 .4-4.8 .4,4.9 .4,3.3 .4-5.9 .4,1.6 .4-.3 .4,4.7 .4,3 .4-8.2 .4,3.3 .4-.5 .4-6.6 .4,9.4 .4-4.7 .4,2.2 .4-4.7 .4,6.6 .4-8.7 .4,9.6 .4,2 .4-5.7 .4-4.3 .4,9.7 .4-6.5 .4-.9 .4,11 .4-12.1 .4,1.5 .4,1.6 .4,.7 .4-4.6 .4,11.5 .4-13.2 .4,3.6 .4,3.4 .4,.3 .4-4.1 .4-.8 .4,3.1 .4-2.6 .4,4 .4-5 .4,2.8 .4,5.8 .4-2.8 .4,3.1 .4,.2 .4-1.3 .4-3 .4,0 .4-3.6 .4,11.9 .4-1.6 .4-14.2 .4,13.2 .4-8.5 .4-1.2 .4,2.9 .4-2.4 .4,1.4 .4-2.3 .4,12.4 .4-4.7 .4,3.1 .4-5.3 .4-2.1 .4,2.2 .4-12 .4,5.5 .4-.7 .4,4.6 .4,9.8 .4-6.2 .4,1.7 .4,1 .4-3.6 .4-1.8 .4-6.4 .4,5.5 .4-.2 .4,1.4 .4,3.8 .4-5.5 .4,5.7 .4-.9 .4,1.2 .4-5.3 .4,11 .4-8 .4-2 .4,7.9 .4-1.2 .4-2.9 .4-1.8 .4-.9 .4,1.2 .4,3 .4-4.9 .4,6.2 .4-6.6 .4,4 .4,1 .4-3.5 .4,3.4 .4-.6 .4-4.9 .4,0 .4,3.2 .4,5.3 .4,1.4 .4-11.8 .4,5.9 .4,3.8 .4-4 .4,4.3 .4-6.2 .4-1.3 .4,1.3 .4,.3 .4,1.5 .4-10.8 .4,6.1 .4,3.9 .4-1.1 .4,8 .4-6.3 .4-1.7 .4,3.6 .4,4.5 .4-12.6 .4,5.3 .4-.2 .4,1 .4,4.5 .4-3 .4,1.4 .4,.8 .4-5.1 .4-5.3 .4,6.3 .4,.4 .4-1.3 .4,.2 .4,.8 .4,1.7 .4,.8 .4,2.5 .4-3 .4-1.9 .4,.4 .4,.7 .4,0 .4,1.2 .4,2.5 .4-6 .4,5.4 .4-8.6 .4,7.9 .4,1.6 .4-7.1 .4,7.3 .4-3 .4-.3 .4,.1 .4,1.5 .4-6.2 .4,4.7 .4-5 .4,2.3 .4,4.2 .4-8 .4,9 .4-.7 .4-5.3 .4,.7 .4,.2 .4,1.9 .4,5.8 .4,2.1 .4-8.5 .4-2.6 .4,.3 .4,3.8 .4-.5 .4,2.6 .4,4.2 .4-10.4 .4,4.7 .4-8.9 .4,6.2 .4,0 .4-3.2 .4,8.5 .4-6.1 .4,3.1 .4,0 .4,1.6 .4-4 .4-4 .4,11.6 .4-5.4 .4-1.6 .4,7.6 .4-12 .4,7.5 .4-7.9 .4,8.5 .4,.1 .4-5.5 .4,.2 .4,3.6 .4,.9 .4,.4 .4-1.7 .4,.2 .4,1.2 .4,2 .4,5.5 .4-8.5 .4,3.2 .4-3.8 .4-1.2 .4,9.6 .4-7.9 .4,7.4 .4-2 .4,.3 .4-8.8 .4-1.2 .4,12.4 .4-8.2 .4-.5 .4,1.4 .4,.5 .4-6.3 .4,11.7 .4-5.9 .4,3.9 .4,3.5 .4-4.9 .4-5.4 .4,6.1 .4-3.8 .4,2 .4-.1 .4-.1 .4-4.4 .4-2.6 .4,8.7 .4-4.9 .4,4.7 .4-4.1 .4,1 .4,5.6 .4-9.9 .4,3.8 .4,2.9 .4,0 .4-3.4 .4,1.7 .4-5.2 .4,12.4 .4-9.6 .4,5.4 .4-6.6 .4,2.5 .4-.7 .4-.4 .4-.1 .4,5.7 .4-3.9 .4-3.7 .4,9.3 .4-.9 .4-2.3 .4,.8 .4-.7 .4-4.2 .4,6.6 .4-1.8 .4-.8 .4,1.7 .4-1.4 .4-3.7 .4,6.1 .4-6.1 .4-2.2 .4,9.3 .4-6.6 .4,2.7 .4,4.7 .4-4.4 .4,1.3 .4-4.8 .4-.3 .4-.7 .4,5.7 .4-3.1 .4-.5 .4,3.7 .4-6.1 .4,6.6 .4,3.8 .4-2.4 .4,1.9 .4-5 .4-3 .4,3 .4-1.9 .4-2.7 .4,7.7 .4-4 .4,3.5 .4,1.5 .4-14 .4,6.1 .4,1.6 .4,3.2 .4-3.9 .4,4.7 .4-.9 .4-2 .4,1.7 .4-5.3 .4,1 .4,5.8 .4-6.3 .4,5.3 .4,.6 .4-4.5 .4-1.8 .4,8.6 .4,1.4 .4,2.9 .4-5.8 .4,1.4 .4-7.7 .4,2.3 .4,4.2 .4-4.5 .4,3.3 .4,4.4 .4-6.2 .4,.6 .4-.6 .4,3 .4,.8 .4-.9 .4-4.7 .4-.6 .4,7.7 .4,4.4 .4-4.1 .4,5 .4-11.3 .4,4 .4-8.4 .4,11 .4-2.6 .4-4.5 .4-1.1 .4,1.7 .4,3.8 .4-2.5 .4-.3 .4-1.7 .4,3.9 .4-.5 .4-.6 .4-5 .4,10 .4-8.8 .4,4.8 .4,.4 .4-1.8 .4-.6 .4,5.4 .4-8 .4,8.7 .4-10.6 .4,3.5 .4,4.1 .4,4.3 .4,5.3 .4-17.4 .4,3.3 .4,5.2 .4,2.2 .4-3.2 .4,6.7 .4-5.6 .4-4.3 .4-2.6 .4,2.2 .4,4.9 .4-.6 .4-12.3 .4,10.6 .4,.2 .4-1.2 .4,1.1 .4-6.2 .4,8.1 .4-9.5 .4,4.9 .4,10.6 .4-10.8 .4-.9 .4,6 .4,.4 .4,6.4 .4-10.8 .4,4.3 .4-6.9 .4,6.9 .4-.4 .4-3.3 .4,6.8 .4-3.2 .4,1.8 .4-2.6 .4,.1 .4-1 .4,1.7 .4,2.6 .4-8 .4,4.8 .4,.1 .4-3.9 .4,.7 .4,11.5 .4-8.7 .5-1.2 .3,1.8 .4,3.5 .4-12.6 .4,3.7 .4,3.8 .4,3.7 .4-1.8 .4-2 .4-1.2 .4-.5 .4,5 .4-7.4 .4-2.7 .4,3 .4,5.2 .4,5 .4-8.5 .4,2 .4-3.3 .4,5 .4-.9 .4,3.6 .4-6.1 .4,.8 .4,4.1 .4-4.3 .4,0 .4,6.6 .4-5.5 .4,5.1 .4-8.3 .4,6.4 .4,1.1 .4-7.3 .4,4.1 .4-6.4 .4,13.2 .4-7.1 .4-1.8 .4-.6 .4,9.3 .4-4.4 .4,2.5 .4-2.3 .4-1.8 .4,1.7 .4-1.9 .4,1.9 .4-7.4 .4,6.5 .4,1.9 .4-3 .4,2.2 .4,.4 .4-5.8 .4,2.6 .4,5.3 .4-14.6 .4,13.2 .4,2.4 .4-3.4 .4,5.3 .4-4.6 .4,1.4 .4,1.3 .4-4.6 .4-6.5 .4,6.3 .4,4.5 .4-6.5 .4-1.3 .4-.1 .4,10.3 .4-7.8 .4-3.6 .4,2.8 .4,3.4 .4-2.4 .4,3.4 .4-3.3 .4,.5 .4,1.9 .4,4.9 .4-8.8 .4-3 .4,11.9 .4-.8 .4-6.3 .4,4.2 .4-2.3 .4,2.1 .4-8 .4,6.3 .4,6.1 .4-8.3 .4-2 .4,4.5 .4-4 .4,7.5 .4-8.6 .4-4.6 .4,11.9 .4-1.1 .4,2.8 .4-7.5 .4,.4 .4,1.2 .4,6.9 .4-8.2 .4,2.9 .4,1.6 .4-3.3 .4,4.5 .4,.9 .4-11 .4,13.7 .4-6.2 .4,.9 .4,4.1 .4-6 .4,5.3 .4,.3 .4-6.7 .4,6.9 .4,.1 .4-6.1 .4,3.6 .4-.1 .4-9.9 .4,4.3 .4,3.6 .4-3.1 .4,5.9 .4-6.9 .4,3.4 .4-2.4 .4,5.7 .4,0 .4-3.1 .4,2.1 .4,3.5 .4-5.3 .4,3.4 .4,1.3 .4-7.7 .4-.6 .4-1.3 .4,6.9 .4-1.5 .4,6.5 .4-7.7 .4,4 .4-2.3 .4-3.9 .4,2.6 .4,6.5 .4-12.7 .4,12.1 .4-5.9 .4,1.1 .4-2.1 .4,4.7 .4-1.6 .4-.8 .4-1.1 .4-10.3 .4,11.8 .4-.4 .4,1.8 .4,2.7 .4-4.5 .4,2.3 .4-.2 .4,1.3 .4,2.1 .4-.6 .4-2.2 .4-5 .4,8.8 .4-2.8 .4,2.3 .4-8.9 .4-.1 .4-1.8 .4,7.1 .4-3.1 .4,7.3 .4-8 .4,4 .4,1.2 .4-3 .4,2.1 .4-.9 .4-1.4 .4,2.4 .4-5.5 .4,7.3 .4-2.1 .4,2.6 .4-10.6 .4,6.8 .4-1.8 .4,.8 .4-5.3 .4,3 .4,1.9 .4,2.7 .4-3.9 .4-2.8 .4,4.2 .4-1.4 .4,.5 .4,2 .4,1.9 .4-5.5 .4,5.1 .4,2.2 .4-4.6 .4,3.2 .4-4.6 .4,.1 .4,1.3 .4-3.5 .4,1.9 .4-1.3 .4,2.5 .4,1.1 .4,3.6 .4-4.7 .4-.2 .4,4.6 .4-.5 .4-5.3 .4-.4 .4,1.1 .4,2.4 .4,.4 .4-7.6 .4,6.6 .4-1.3 .4,4.5 .4-5.1 .4-3.3 .4,8 .4,2.4 .4,1.5 .4-7.8 .4,1.7 .4-1.3 .4-3.7 .4,7.9 .4,5.6 .4-5.7 .4-5.9 .4,5.4 .4-2.1 .4,2.9 .4-6 .4-1.2 .4,.6 .4,5 .4-9.1 .4-.5 .4,5.8 .4,2.8 .4,1 .4-3.1 .4-1.8 .4,6 .4-2.8 .4-5.9 .4,6 .4-3.1 .4-1.7 .4,5 .4,2.7 .4-9.2 .4,5 .4,2.2 .4,5.1 .4-9.5 .4,4.5 .4-2 .4,6.9 .4-2 .4-.5 .4-5.1 .4,8.2 .4-5.4 .4-4.2 .4-2.5 .4,6.3 .4-2.4 .4,4.5 .4,0 .4,.6 .4,2.8 .4-8.5 .4,.8 .4-3.1 .4,1.2 .4,1.3 .4-3.2 .4,11.6 .4-9.3 .4,4.8 .4-3.1 .4-2 .4,8 .4-5.3 .4,2.2 .4,1 .4-3.5 .4,4.8 .4-6 .4,4 .4-3.2 .4,3.9 .4-3.7 .4,2.4 .4-1.4 .4,4 .4-6.1 .4,4.7 .4-4.3 .4,1.5 .4,1 .4-3.1 .4,5.3 .4-8.2 .4,8.4 .4,0 .4,7.4 .4-11.6 .4-1 .4,4.3 .4-1.1 .4,.4 .4-3 .4,4.9 .4,1.5 .4-1.3 .4-2.4 .4-.2 .4,4.6 .4,3.3 .4-3.2 .4-4.2 .4,2.6 .4-3.6 .4,6.1 .4-8.8 .4-1.7 .4,11.5 .4-6.8 .4,7.5 .4-6.6 .4-5.4 .4,6.8 .4-2.2 .4,2.9 .4-3.9 .4,1.2 .4-.6 .4-3.3 .4,7.7 .4-3 .4,3.9 .4-5.1 .4,4 .4,.3 .4-5.9 .4,1.5 .4,5.6 .4-11.8 .4,8 .4-2.9 .4-.3 .4,5.5 .4,.3 .4-.8 .4,.5 .4-8.5 .4,6.4 .4-5.8 .4,7.7 .4-.6 .4-1.4 .4,1.9 .4-10.4 .4,9.5 .4,1.9 .4-17.8 .4,14.8 .4,1.7 .4-.3 .4-4.7 .4-.2 .4,3.6 .4-2.5 .4-5.8 .4,6.6 .4,2.8 .4,.8 .4-3.1 .4,.7 .4-3.5 .4,5 .4,.6 .4-3.5 .4,2.9 .4-3 .4-2.9 .4,6.8 .4-.5 .4-6.3 .4,4.6 .4-4 .4,4.8 .4-1.6 .4-7.5 .4,7.2 .4-6.4 .4,3.4 .4,2.6 .4-2.2 .4-3.4 .4,2.4 .4,4.6 .4,2.2 .4-7.2 .4,5.1 .4-1 .4-4.3 .4,.9 .4-1.3 .4,7.9 .4-13.4 .4,8.9 .4-.2 .4-1.9 .4,.7 .4,1.5 .4,4.3 .4-.7 .4-3.6 .4,4.2 .4-7.8 .4,10 .4-3.5 .4-4.5 .4-3.4 .4,8.9 .4-4.4 .4,10.2 .4-4.3 .4-8.8 .4,4.5 .4-2.1 .4,4.1 .4-2.9 .4,.2 .4,1.4 .4,6.2 .4-6.2 .4,4.4 .4-6.2 .4,2.1 .4-3.1 .4,2 .4-1.5 .4,2.3 .4-7.1 .4,7.2 .4,3.3 .4-7.9 .4,3 .4,2.8 .4-1.8 .4,2.6 .4-1.4 .4-2.1 .4,2.5 .4,6.4 .4-7 .4,1.9 .4-1.2 .4-1.9 .4-.8 .4-6.6 .4,12.5 .4-6.5 .4,3.8 .4-6 .4,2.1 .4,2.8 .4,.1 .4,3.2 .4-9.4 .4,2.2 .4,5.8 .4-9.3 .4,9.9 .4-1.6 .4-3.8 .4-.7 .4,3 .4-3.1 .4,4.6 .4-5 .4,2.9 .4,1.7 .4-.9 .4,2.2 .4-3.1 .4,4.6 .4-7.2 .4,7 .4-4.5 .4-7.5 .4,15.6 .4-11.7 .4,4.7 .4-2.6 .4,.1 .4-1.4 .4,6.2 .4-9 .4,2.4 .4,2.9 .4-.8 .4-8.2 .4,8.2 .4,.3 .4,1.5 .4-6.1 .4,6.6 .4-5.3 .4,4.5 .4,0 .4-7.4 .4,3.2 .4,.5 .4-3.8 .4,11.3 .4-7.5 .4,4.2 .4-2.9 .4-2.8 .4,7.5 .4-2 .4-5.1 .4,3.2 .4,3.3 .4-6.2 .4,6.6 .4-2.9 .4,4.7 .4,1.6 .4-9.9 .4,7.1 .4-1.9 .4-4.7 .4,7.6 .4-7.9 .4,4.6 .4-1.3 .4-7.7 .4,8.3 .4,.7 .4,.7 .4-4.9 .4,2 .4,3.9 .4,.1 .4-.4 .4,2 .4-7.3 .4,1.7 .4,.9 .4,2.1 .4,.5 .4,1.5 .4-2.3 .4-.8 .4-3.9 .4,3.8 .4-3.9 .4,.1 .4,1.6 .4,3.3 .4,3.7 .4-8.7 .4,.1 .4,9.7 .4,3.1 .4-9 .4,4.6 .4-1.2 .4-1 .4-4.6 .4,4 .4-2.9 .4-1 .4,6.6 .4-5.6 .4,.3 .4-1.1 .4,4.1 .4-3.9 .4,1.1 .4,.5 .4,.2 .4-.1 .4,.4 .4-.5 .4-4.1 .4,7.4 .4-5 .4,.8 .4-3 .4,1.8 .4-1.4 .4,3.2 .4-2.6 .4,2.2 .4-6.9 .4,10.7 .4,1.3 .4-8 .4-1.3 .4,8.4 .4-4.5 .4-8.7 .4,13.9 .4-9.8 .4,8.2 .4,4 .4-6 .4-2.2 .4-1.5 .4-2.7 .4,6.1 .4-2.3 .4-2.4 .4,5.8 .4-2 .4-2.1 .4,4.3 .4-10.7 .4,9.1 .4-2.9 .4,1 .4-1.1 .4,5.5 .4,1.6 .4-9 .4,6.6 .4-.7 .4-1.6 .4,4.2 .4,2.3 .4-12.7 .4,6.7 .4,1.6 .4-2.7 .4-3.9 .4,3.8 .4-4.6 .4,5.4 .4,2.6 .4,3.4 .4-8.1 .4,3.4 .4-.7 .4-1.1 .4,4.7 .4-6.6 .4,3.9 .4,3.5 .4-2.9 .4-7.4 .4,4.5 .4,3.3 .4-2.7 .4-1.8 .4,.2 .4-1.1 .4,6.3 .4-5.5 .4,4.3 .4-.2 .4,2.2 .4,2.4 .4-8.1 .4-2.8 .4,4.3 .4,5.7 .4-3.6 .4-2.7 .4,6.8 .4-5.6 .4-.7 .4,7.8 .4-10.2 .4,2.2 .4,4.1 .4-4.2 .4,.5 .4,.5 .4-2.5 .4-1 .4,8.3 .4-4.6 .4-7.3 .4,7.1 .4-3.9 .4,.3 .4,8.7 .4-2.8 .4-1.7 .4-1.2 .4-4.3 .4,3 .4,2.8 .4,.4 .4-9 .4,4.1 .4,1.3 .4,3.3 .4-5 .4,2.7 .4-9 .4,5.4 .4,4.5 .4,.8 .6-.8 .2-1.4 .4-4.3 .4,2.9 .4,1.4 .4-.3 .4-.5 .4,4.1 .4-4.4 .4,1.3 .4,1.6 .4,1.7 .4,2.6 .4-10 .4,8.4 .4-2.3 .4,.6 .4,.5 .4-5.2 .4,2.9 .4,6.9 .4,.8 .4-16.9 .4-.1 .4,15.4 .4-8.7 .4,1 .4,4 .4-.7 .4-6 .4,6.5 .4-1.2 .4-8.3 .4,4.8 .4,4.1 .4,1.7 .4-6.3 .4,4 .4-1.4 .4-3.8 .4,6 .4-2.9 .4,.7 .4-4.9 .4,.5 .4,5.5 .4-2.4 .4,6.5 .4-2 .4-.9 .4-1.6 .4,1.2 .4-2.1 .4,1.1 .4,4.8 .4,1.4 .4-.3 .4-9 .4-1.6 .4,3.1 .4,3.7 .4-1.5 .4-.4 .4,4.7 .4-9.2 .4,6.4 .4-3.4 .4-.7 .4,3.7 .4-5.6 .4,3.4 .4-3.3 .4-.9 .4,7.9 .4-5.5 .4,6.9 .4-9 .4,1.9 .4,.2 .4,2.7 .4-7.7 .4,4.2 .4-3.9 .4,1.3 .4,4.7 .4,0 .4,5.1 .4,.9 .4-4.9 .4-1.6 .4,4.8 .4-4.2 .4,2.8 .4-4.7 .4-6.3 .4,9.1 .4-4.8 .4,4.9 .4-.2 .4,.7 .4-.7 .4,.4 .4-2.9 .4,4.8 .4-3.1 .4-4.4 .4,3.5 .4,5.3 .4-3.1 .4,1.1 .4-1.1 .4-4.3 .4,10.1 .4-5.2 .4,4.1 .4-11.6 .4-.7 .4,4.8 .4,5.8 .4,.3 .4-1.6 .4-.1 .4-2.3 .4-3 .4,3.2 .4-1.5 .4,2.4 .4,.5 .4-5.1 .4,.4 .4,8.1 .4-10.3 .4,5.2 .4-4.6 .4,4.1 .4,1.5 .4-5.5 .4,4.1 .4,.2 .4-4.4 .4,12.6 .4-9.4 .4,6.6 .4-11.7 .4-.3 .4,4 .4,4.8 .4-2.1 .4-.3 .4-3.9 .4,2.7 .4,2.5 .4,1 .4-3.9 .4-1.1 .4,2 .4,5.9 .4-2.5 .4-3.3 .4-4 .4,4 .4-1.6 .4-.9 .4-12 .4,19.8 .4-9.6 .4,4.2 .4-.8 .4,1.4 .4-5.2 .4,2.4 .4-.8 .4,7.6 .4-7.6 .4-2.3 .4,.3 .4,7.8 .4-1.1 .4-9.6 .4,4.9 .4,2.3 .4-3.5 .4,6 .4-.6 .4,5.3 .4-8.8 .4,4.3 .4,7.6 .4-6.7 .4-1.5 .4,4.1 .4,1.2 .4-6.3 .4,3.9 .4,3.7 .4-7.6 .4-.7 .4,4.6 .4-1.2 .4,.7 .4-2 .4-1.5 .4,.5 .4,1.1 .3-6.9 .5,8.7 .4,5.3 .4-9.3 .4-2.2 .4,9.6 .4-2.6 .4-.7 .4-5.2 .4-1 .4,7.5 .4,.8 .4-5.4 .4,4.7 .4,.1 .4-2.3 .4-3.3 .4,1.2 .4-2.4 .4-3.6 .4-.2 .4,8.8 .4,1.3 .4-4.4 .4,1.7 .4,7 .4-5.4 .4,3 .4,1.5 .4-9.2 .4,7.3 .4-8.5 .4,7.3 .4-5.5 .4,7 .4-7.3 .4,1.5 .4,5.9 .4-4.9 .4,.5 .4,5.1 .4-1.3 .4-4 .4,3.8 .4,2.1 .4-4.7 .4,2.2 .4,.8 .4-1.1 .4,1.8 .4,2.4 .4-5.5 .4,6.4 .4-3.6 .4-4.1 .4,1.3 .4,4 .4,0 .4,3.5 .4-7.6 .4-.4 .4-3.5 .4,1 .4,1.1 .4,5 .4-4.7 .4,4.7 .4-4.2 .4,.5 .4,6.1 .4-1.9 .4-3.3 .4,5.5 .4-8.2 .4,4.4 .4-5 .4,7.8 .4-1.4 .4-3.1 .4-.1 .4,5.8 .4-4.1 .4-3.1 .4-2.6 .4,10 .4,.9 .4-1.5 .4-1.2 .4-1.9 .4-1.3 .4-2.2 .4,5.4 .4-2.7 .4,2.5 .4-1.9 .4,.2 .4,3 .4-2.6 .4,9 .4-4.8 .4-5.6 .4,1.4 .4,4.3 .4,3.4 .4-12.8 .4,4.6 .4-5.7 .4,7.2 .4-1.8 .4,1.6 .4,2.7 .4-7.6 .4,2.1 .4,3 .4-2.6 .4,0 .4-2.7 .4-2.2 .4,6.5 .4,6.2 .4,.2 .4,3 .4-5.4 .4-4.1 .4-4.9 .4,7 .4-3.3 .4,.6 .4-3.2 .4,.6 .4,7 .4-4.7 .4,1.2 .4,2.3 .4,2.7 .4-8 .4,10.5 .4-6.8 .4-1 .4,2.8 .4-7.7 .4,4.6 .4,2 .4-1.6 .4-1 .4,4.1 .4-1.3 .4-2 .4-.2 .4,1.4 .4-1.6 .4,6.6 .4-1.9 .4-6 .4,2.3 .4-2.5 .4,5.9 .4,0 .4-2.2 .4,.7 .4,1.4 .4-.9 .4,4.1 .4-4.8 .4,3.7 .4,3.1 .4-10.7 .4,1.4 .4-1.8 .4,2.9 .4,1.6 .4,1.6 .4-7.1 .4,5.6 .4-1 .4,5 .4-7.2 .4,4.7 .4,3.8 .4-3.2 .4-.4 .4-5.6 .4,.9 .4-2.3 .4,11 .4-4.7 .4,1 .4,.1 .4,4 .4-6.5 .4,2.9 .4-5.2 .4,10.9 .4-8.7 .4-2.9 .4,2.4 .4-5.9 .4,4.1 .4,2.9 .4-.9 .4,1.3 .4-.9 .4-2.1 .4,6.8 .4-8.1 .4,1.8 .4,.8 .4,4.1 .4-1.3 .4-2.6 .4,.3 .4,5.5 .4,1.2 .4-5 .4-2.5 .4,3.8 .4,4.8 .4-7.8 .4,3.4 .4-4.8 .4,3.3 .4,3 .4-1.6 .4-3.9 .4,1.7 .4-.2 .4,3.2 .4-5.6 .4,3.4 .4,4.2 .4,.4 .4-2.8 .4,3.1 .4-1.7 .4-.3 .4,4.1 .4-9.1 .4,5.6 .4-9 .4,3.8 .4,2.7 .4,.1 .4,4.6 .4-4.2 .4,5.2 .4-8.1 .4,2.5 .4-1.9 .4-5.5 .4,6 .4,1.8 .4-2.5 .4-.3 .4,.1 .4-.9 .4,1.5 .4-3.4 .4,5.8 .4-9.2 .4,2.2 .4,5.4 .4,2.4 .4-2.4 .4-3.9 .4,4.1 .4-4 .4,6.2 .4,4.3 .4-4.4 .4-4.4 .4,5.3 .4,2.5 .4-7.9 .4,6.2 .4-4 .4,2.8 .4,1 .4-5.4 .4-1.4 .4,12.6 .4-2.5 .4-.5 .4-3.4 .4-.5 .4,1.1 .4-3 .4,.8 .4,2 .4,.2 .4-2.5 .4-.9 .4,6.8 .4-6.1 .4-1.5 .4,2.8 .4-1.9 .4-4.3 .4,1.5 .4-4.5 .4,3.2 .4,9.4 .4-4.6 .4-9.7 .4,8.3 .4,6.7 .4-9.5 .4,8.3 .4-7 .4,2 .4-.5 .4,4.8 .4-5 .4,1.4 .4-2.1 .4,6.2 .4-2.4 .4-5.3 .4,1.6 .4,1.4 .4,.6 .4,.3 .4,1.6 .4-1.1 .4,3.8 .4-6.6 .4,4 .4,3.4 .4-2.1 .4-.1 .4-3.1 .4-2.6 .4-2.2 .4,3.3 .4-.3 .4,7.1 .4-8.3 .4,5.4 .4-1 .4,5.7 .4-9.7 .4,8 .4-9.3 .4,6.7 .4,2.7 .4-6.7 .4,3 .4,2.2 .4-6 .4-.8 .4-1.6 .4,4.9 .4-3.4 .4,9.3 .4-5.8 .4,3.7 .4-3.6 .4,7.1 .4-2.7 .4-5.4 .4,1 .4-7.1 .4,7.9 .4-4.4 .4,6.1 .4-.1 .4-5.3 .4,5.9 .4-7.2 .4,.9 .4-3.5 .4,4.3 .4-.3 .4,4.3 .4,.9 .4-3.9 .4,4.5 .4,.7 .4-11.6 .4,6.1 .4,.5 .4,6.6 .4-3.3 .4-1.5 .4-3.2 .4,3.8 .4,2.7 .4-4.8 .4-3.1 .4,6.8 .4-8.5 .4,4.1 .4,4.2 .4-6.3 .4,2.5 .4-3.9 .4,10 .4-5.7 .4,2 .4-3.7 .4,8.2 .4-1.7 .4-4.3 .4,1.3 .4-7.3 .4,6.4 .4,3.4 .4-5.9 .4,.7 .4-.3 .4,2.7 .4-.8 .4-6.3 .4,8 .4-3.9 .4,1.3 .4-1.3 .4-.6 .4,2.6 .4-4.7 .4-.5 .4,3.8 .4,4.5 .4-5.1 .4,.4 .4,.2 .4,.8 .4-1.6 .6,6.3 .2-3.9 .4-.8 .4,1 .4,1.2 .4,1.4 .4-4.3 .4,.9 .4,1 .4-3.4 .4-.1 .4,1.5 .4,1.8 .4-1.5 .4-7.8 .4,4 .4,4.3 .4-1.9 .4,1.3 .4-1.6 .4,5 .4-2 .4,1 .4-6.4 .4,7.4 .4-5.8 .4,8.3 .4-7.6 .4,.8 .4-5.6 .4,6.7 .4-3.7 .4-.4 .4,5.8 .4,4.5 .4-9.1 .4-2.4 .4-3 .4,4.9 .4,3.1 .4-5.6 .4,1.1 .4,7.7 .4-.9 .4,.1 .4-7.3 .4,.7 .4-1 .4,2.3 .4,.1 .4,2.4 .4,.7 .4-.5 .4,.8 .4,.4 .4-4.3 .4,0 .4-1.4 .4,9.1 .4-7.3 .4-2.5 .4,.1 .4,1.3 .4,1.1 .4-.4 .4,.5 .4,5.1 .4-7.6 .4,2.5 .4,4 .4-8.8 .4,.8 .4,6.9 .4-7.2 .4,4.9 .4-4.4 .4,5.3 .4,3.4 .4-8.2 .4-.9 .4,3.1 .4-3.6 .4-.7 .4,1.3 .4,1.7 .4,6 .4-2.7 .4,.9 .4-.6 .4-4 .4-2.8 .4,5.8 .4-5.2 .4,7.1 .4-5.4 .4-1.5 .4,3.9 .4-.5 .4,.6 .4-3.5 .4,2.7 .4-5.7 .4,5.9 .4-6.4 .4,5.7 .4,.2 .4,2.2 .4-2 .4-4.7 .4,2.1 .4,3.5 .4-.1 .4-4.5 .4,3.3 .4,3 .4-7 .4,3.9 .4-.1 .4-2.1 .4,1.4 .4,3.6 .4-3.4 .4-.8 .4-1.1 .4-.8 .4-2.9 .4,.5 .4-1.5 .4,3.8 .4-2.3 .4-2.3 .4,8.8 .4-4.4 .4,3.7 .4,1.2 .4,.5 .4-5.2 .4-7.5 .4,9.1 .4-1.8 .4-4.7 .4-3.3 .4,11.4 .4-.1 .4,.7 .4,.4 .4-.8 .4-2.3 .4-.5 .4,1.9 .4-1.5 .4-1.3 .4,1.5 .4-3.7 .4-1 .4,8.8 .4,.8 .4-3.2 .4-6.5 .4,1.2 .4,4.4 .4-1.6 .4-2.1 .4,6.1 .4-5.4 .4-.2 .4,.1 .4-2.1 .4,5.1 .4-8.4 .4,5.5 .4,2.2 .4,2.8 .4-3 .4-5.7 .4,6.3 .4,0 .4-2.2 .4-2.1 .4-2.1 .4,2.9 .4,1.8 .4,8.2 .4-7.1 .4-1.1 .4-5.9 .4,1.6 .4,1.9 .4,1.5 .4,.1 .4,3.8 .4,1.5 .4-.8 .4-6.1 .4,.8 .4-1.2 .4-2.1 .4,.6 .4,5.5 .4-3.9 .4,4.7 .4-2.9 .4-.7 .4,1.8 .4,.2 .4,8.8 .4-11.2 .4,3.2 .4-5.3 .4,3.1 .4,5.9 .4-2.7 .4,4.1 .4-11.3 .4,2.7 .4,3.2 .4-3.7 .4,1.2 .4-2.1 .4,6.5 .4-3.4 .4,1 .4-3.8 .4,2.9 .4,6.7 .4-2.9 .4-2.3 .4-2.7 .4,2 .4,1.2 .4,6 .4-5.4 .4-1.2 .4,.2 .4-2.6 .4,4.2 .4-3.8 .4,1.1 .4,1.1 .4,8.4 .4-1.2 .4-5.9 .4,3.4 .4-1.8 .4,2.7 .4-3.1 .4,2.8 .4,3.1 .4-5.3 .4,4.4 .4-3.8 .4,2.9 .4-5.9 .4,5.4 .4-4.2 .4,.4 .4,2.8 .4,7.1 .4-5.9 .4,2.8 .4-1.6 .4-2.6 .4-2.7 .4,.8 .4-2.3 .4,7.1 .4-1.3 .4,.8 .4,1.3 .4,4.9 .4-7.1 .4,2.2 .4,.9 .4,.9 .4-2.9 .4,5 .4-5.8 .4,2.2 .4-5.6 .4,6.3 .4-1 .4-.5 .4-.9 .4,4 .4,1 .4,5.6 .4-9.7 .4,3.8 .4,0 .4,2.5 .4-5.8 .4-.3 .4,2.2 .4-1.9 .4,2 .4-2.3 .4,2.6 .4,3.2 .4-3.1 .4,1.1 .4,1.2 .4,.1 .4-1.3 .4-6.1 .4,1.5 .4,8 .4-6.8 .4,1.9 .4,3.8 .4-6 .4-3.7 .4,3.8 .4,5.3 .4,.6 .4-1.1 .4,5.2 .4-3.2 .4-9.7 .4,.3 .4,5.2 .4-5.2 .4,8.7 .4-9.2 .4,6.4 .4-3.2 .4,5 .4,4.6 .4-6 .4-8.1 .4,5.7 .4-.3 .4,2.7 .4,4.6 .4-6 .4-.8 .4-2.2 .4-.5 .4,1 .4,3.6 .4,2.4 .4-1.2 .4-2.3 .4,2.9 .4-3.2 .4,5.4 .4-7.2 .4-1.1 .4,5.6 .4-2.3 .4,6.2 .4-6 .4,3 .4,.1 .4,2.8 .4,.3 .4-8.1 .4-2 .4,3.8 .4,4.3 .4,.8 .4-4.4 .4,10.8 .4-9.2 .4,4.7 .4-4.4 .4-4.1 .4,2.8 .4,4.4 .4,.6 .4-2.7 .4,6.1 .4-5.5 .4,1.3 .4-.3 .4-2.5 .4-2.6 .4,3.9 .4-.6 .4-.9 .4,2.4 .4-1.8 .4,4.2 .4-.5 .4-4.1 .4,6.1 .4-4.6 .4-4.6 .4,.9 .4,2.6 .4,3.2 .4-3.5 .4,5.3 .4,3.3 .4-9.5 .4,3.3 .4-3 .4,6.7 .4-9.4 .4,8.1 .4-3.8 .4,1.7 .4,.5 .4-2.7 .4-.7 .4,8.3 .4-3.8 .4-.5 .4,3.4 .4-6.6 .4,4.9 .4-3.2 .4-4.4 .4,2.8 .4,2.7 .4-3.1 .4-.3 .4,5.1 .4-1.6 .4-1.9 .4-3.3 .4,7.9 .4,.5 .4-3.1 .4,1.6 .4-2.4 .4,4.2 .4-.4 .4-2.2 .4,2 .4-3.1 .4,4.8 .4-1.2 .4-3.7 .4,4.1 .4-2.8 .4-1.4 .4,1.2 .4-2.2 .4,3.4 .4-2.1 .4,.5 .4,5.9 .4-13.5 .4,6.2 .4,5.2 .4-6.4 .4-1.5 .4,8 .4,1.1 .4-6.3 .4,2 .4-2 .4-1.6 .4,4.5 .4,.3 .4-1.8 .4-3.3 .4,3.6 .4-2.2 .4,.1 .4,2.3 .4-.5 .4-4.3 .4,6.5 .4-3.7 .4,.3 .4-2.4 .4,1.2 .4-2.3 .4,4.1 .4-2 .4,1.1 .4,4.8 .4-5.6 .4,4.8 .4-5.3 .4,2.5 .4-4.8 .4,5.2 .4,1.5 .4-11.2 .4,6.7 .4,3.8 .4-.6 .4-2.4 .4,1.3 .4,2.2 .4-.6 .4-5.9 .4,7.1 .4-4.4 .4,2.6 .4,.1 .4-1.4 .4,4.6 .4-1.6 .4-.6 .4,3.8 .4-6.5 .4,1 .4,3.2 .4-3 .4-2.5 .4,4.2 .4,.5 .4-5.8 .4,5.7 .4-3.7 .4,1.9 .4,.5 .4,3.7 .4-3.3 .4,2.4 .4-4 .4,1.7 .4-2.7 .4,5.7 .4-3.6 .4-1.9 .4,4.7 .4-.7 .4-.9 .4-.3 .4-.1 .4,0 .4-1 .4-1 .4,2.9 .4-3.4 .4,5.9 .4-4.1 .4-.3 .4-5 .4,4 .4,.8 .4-4.9 .4,2.5 .4,.5 .4,1.9 .4,2.7 .4-7.6 .4,6.6 .4,1.9 .4-.1 .4-3.4 .4-4.3 .4,6.4 .4-1.4 .4,1.6 .4,.2 .4-2.6 .4-3.6 .4,2 .4-2.2 .4,5.3 .4-2.1 .4-5 .4,0 .4,7.5 .4-5.7 .4-1 .4,8.2 .4-3.7 .4-1.4 .4,2 .4,4.2 .4-4.3 .4,4.1 .4-1.9 .4-2.2 .4,2.7 .4-5.6 .4-.7 .4,2 .4,5.1 .4-5.2 .4,1.1 .4-1.7 .4,2.8 .4-1.8 .4,3.5 .4-4.1 .4,2.2 .4,2.6 .4-5.2 .4-.5 .4,.1 .4-2.1 .4,8.1 .4-2.6 .4,2.3 .4-3.9 .4,1.6 .4,2.7 .4-1.9 .4,3 .4-4.4 .4-5.4 .4,2.3 .4,.8 .4,2.2 .4-1.9 .4-.8 .4,1.6 .4-2.5 .4,4.2 .4-.3 .4,1.9 .4,2.5 .4-4.5 .4,5.4 .4-6.4 .4-.2 .4,.2 .4-1.2 .4,6.2 .4-9.3 .4,6.9 .4,0 .4-.5 .4-.9 .4,2.2 .4,1.9 .4-4.6 .4,1.4 .4,2.9 .4-9.2 .4,8.5 .4-5.2 .4,1.5 .4,3.9 .4-.8 .4-1.8 .4-1.3 .4-.7 .4,2.1 .4,1.9 .4,.9 .4-2.2 .4-.3 .4,2.7 .4-4.4 .4,1.1 .4,.9 .4-1.4 .4,3.1 .4-3 .4-.2 .4,8 .4-9.2 .4,4.5 .4-1.5 .4-3 .4,3.3 .4-4.5 .4,0 .4,4.3 .4-7.1 .4,.7 .4,3.4 .4,0 .4,2.7 .4-6.2 .4,6.5 .4-2.7 .4,1.2 .4-2.6 .4,.2 .4,10.7 .4-6.9 .4-1.1 .4,5.5 .4-1.6 .4-12.5 .4,8.8 .4,2.3 .4-4.1 .4,.5 .4,3.4 .4-3 .4,.2 .4-2.5 .4,2.6 .4-.1 .4,1 .4,2.6 .4-3.7 .4-5.6 .4,2.7 .4,6.2 .4-4.6 .4,1.2 .4,3.6 .4,4.3 .4-12.1 .4,9.7 .4-3.1 .4-1.5 .4-4.9 .4,1.5 .4,6.7 .4-8.6 .4,11.8 .4-5.1 .4-1.3 .4-9.4 .4,9.6 .4,3 .4-1.1 .5,.1 .3-1.1 .4,.6 .4,1.2 .4,3.2 .4-7.9 .4,1.7 .4,3.1 .4-4.1 .4-3.5 .4,5.3 .4-2.2 .4,5.3 .4,.5 .4-.5 .4,.9 .4-.8 .4-4.3 .4-2.3 .4,4.9 .4,4.5 .4-4.7 .4,2.8 .4-1.6 .4-1.4 .4-4.7 .4,3.8 .4,3.1 .4-3.8 .4,.1 .4-2.7 .4-1.2 .4,2 .4-2 .4,7 .4,1.4 .4-8.4 .4,6.2 .4-1.2 .4-2.4 .4,1.6 .4,4.9 .4-5.4 .4,2 .4-3.3 .4,1.3 .4-6.4 .4,6.3 .4,2 .4-6.7 .4,4.5 .4-5.4 .4,7.9 .4-2.7 .4,2 .4-6.3 .4,5.6 .4,.1 .4-4.3 .4,6.3 .4,2.2 .4-5.8 .4-1.2 .4,3.7 .4,4.6 .4-6.9 .4-2.1 .4,2.9 .4-3 .4,2.5 .4-3 .4,.1 .4,8.5 .4-3.8 .4-3.1 .4,.2 .4,6.2 .4-6 .4,4.2 .4-1.5 .4,2.9 .4-2.6 .4-3.9 .4-.6 .4,3.1 .4-.9 .4,3.5 .4-3.9 .4-3.5 .4,3.9 .4,6.3 .4-9.8 .4,3.8 .4,2.8 .4,2.4 .4-3.9 .4,3.7 .4-5.5 .4,2.1 .4-1.9 .4-4 .4,5.6 .4-6.9 .4,11.3 .4,1.1 .4-2.8 .4-5.8 .4,1.5 .4,2.2 .4,2.1 .4-4.2 .4-1.1 .4,2.5 .4,3.4 .4-5.4 .4,5.8 .4-4 .4-1.9 .4,.9 .4-1.1 .4,2.5 .4-1.6 .4-1.5 .4,3 .4-2.5 .4,1.4 .4,3.1 .4-.1 .4-2.5 .4,.2 .4-.4 .4-8.8 .4,7.4 .4,.6 .4,3.2 .4,1.3 .4-4.8 .4-1.1 .4-1.5 .4,5 .4,.5 .4-3.4 .4,4.8 .4-.2 .4-3.3 .4-.5 .4-.3 .4,1.5 .4-6.5 .4,1.2 .4,4.4 .4,1.4 .4,2.2 .4-9.6 .4,10.6 .4-9.3 .4,6.6 .4-.7 .4-4.5 .4,4.7 .4-1.5 .4,.1 .4,1.1 .4-4 .4,.3 .4-1.8 .4,6.6 .4-.2 .4-4.2 .4-.3 .4,3.1 .4-3.9 .4,4.9 .4,.9 .4-5.4 .4,3.8 .4-1.8 .4,3.9 .4-7.7 .4,8.5 .4-3.8 .4,.9 .4-1.7 .4-4.3 .4,6.4 .4,2.1 .4-.4 .4-2.6 .4-3.6 .4-.4 .4,6.4 .4-2.5 .4,1.1 .4-2 .4-1 .4,3.4 .4-4.8 .4,6.2 .4-1.6 .4,1.1 .4-.5 .4,2.1 .4-3.9 .4,2.3 .4-.7 .4-.2 .4-1.1 .4-3.8 .4,6.6 .4,1.9 .4-3.6 .4,1.9 .4-3.9 .4-3.1 .4,12.1 .4-8.1 .4-2.7 .4,3.9 .4-4 .4,5 .4-.3 .4-2.6 .4,2.1 .4-5.2 .4,5.9 .4-2.5 .4-2.2 .4,3 .4-1.3 .4,1.4 .4,1.6 .4-1.2 .4-1.4 .4-.2 .4,.3 .4,2.8 .4-7 .4,6 .4-.8 .4-6 .4,3.6 .4,1.5 .4,3.9 .4-3.3 .4-2.3 .4,2.7 .4,1.1 .4-.9 .4,5.9 .4-6.4 .4-4.5 .4,6.9 .4-5.5 .4,7.6 .4-3.6 .4-2.1 .4,.5 .4,.9 .4,2.4 .4-1.1 .4-1.7 .4-3.5 .4,3.4 .4,3 .4-2.9 .4-1.3 .4-2.5 .4,8.7 .4-5.4 .4,0 .4-.1 .4-1.3 .4-.7 .4,8.6 .4-9.4 .4,1.4 .4-2.6 .4,3.1 .4,1.7 .4-2.1 .4,5.6 .4-1.7 .4-4.4 .4-1 .4,7.9 .4-6.3 .4,.5 .4,4.1 .4-.7 .4-2.8 .4,.6 .4-.5 .4,0 .4-1.5 .4,3.8 .4-2 .4,.4 .4-1.7 .4-2.2 .4,5.8 .4-2 .4-2.6 .4,2.1 .4-5.4 .4,4.7 .4,3.1 .4-1.6 .4-2.2 .4,.5 .4-.6 .4,.4 .4,.2 .4-3.6 .4,1.4 .4,2.5 .4,.2 .4,2.1 .4-1.2 .4-.7 .4-3.7 .4,5.3 .4-6.4 .4,2.9 .4,1.8 .4-2.8 .4,5.3 .4,.3 .4-6.1 .4,.1 .4,3.6 .4-.9 .4,6 .4-3.8 .4,4.3 .4-10.2 .4,.6 .4,.8 .4-1.3 .4,.2 .4,8.2 .4-3.6 .4,1.5 .4-.8 .4-1.9 .4-1.7 .4,4.3 .4,2.1 .4-9.4 .4,8.3 .4-2 .4-3.9 .4-1.2 .4,3.4 .4-.9 .4,2.5 .4-1.9 .4-3.1 .4,3.6 .4-1.6 .4,4.4 .4,0 .4-1.9 .4,1.8 .4-2.9 .4-.5 .4,6.3 .4-10.8 .4,7.7 .4,2.8 .4-1.9 .4-5.5 .4,4.8 .4-2.6 .4,1.1 .4-2.8 .4,.3 .4,4.3 .4-5.4 .4-1.1 .4,.5 .2-1 .6,5 .4,2.9 .4,.7 .4-10.6 .4,3.7 .4,3.7 .4-.3 .4-1.8 .4,3.6 .4-.8 .4-3.7 .4-4 .4,4.6 .4,2.6 .4-.5 .4,.9 .4-.9 .4-7.4 .4,2.4 .4,7.8 .4-1.8 .4,.4 .4,.1 .4-3.8 .4,3.5 .4-4.9 .4,3.9 .4-1.9 .4-3.7 .4-1.3 .4,1.7 .4,4.6 .4-.8 .4-1 .4,.2 .4,.5 .4,4.5 .4-5.8 .4-1.7 .4,2.2 .4-2.2 .4,4.9 .4-1.4 .4-.1 .4,1.8 .4-5.9 .4,1.1 .4,1.3 .4-2.1 .4,3.3 .4-3.5 .4,0 .4,.3 .4,7.3 .4-1.6 .4,1.9 .4-3.2 .4-.2 .4-2.2 .4,.1 .4,.9 .4,2.5 .4-8.2 .4,8.4 .4-.2 .4-2.8 .4,5 .4-2.9 .4-1.4 .4-.1 .4,1.7 .4-4.7 .4,6.6 .4-9.6 .4,3.5 .4,2 .4-2 .4-3 .4,7.7 .4-10.1 .4,9.5 .4-2.8 .4,1.3 .4,.7 .4-5.3 .4,1.8 .4-5 .4-1.9 .4,9.4 .4,5.2 .4-5 .4-2.6 .4,4.1 .4-.9 .4,1.8 .4,.7 .4-1.8 .4-1.6 .4-5 .4,3.1 .4,.2 .4-.1 .4,2.5 .4-.9 .4-2.2 .4,3.9 .4-1.7 .4-2.4 .4,3 .4-2.1 .4,2.7 .4,2.3 .4-8.2 .4,4.8 .4-1.3 .4,1.8 .4,2.6 .4,1.9 .4-5.6 .4-2 .4,7.5 .4-2.9 .4-1.6 .4,2.3 .4-6.1 .4,5.1 .4-.8 .4-1.1 .4-3.3 .4,4.3 .4,5.6 .4-11.1 .4,10.7 .4-5.6 .4,.9 .4-3 .4,7.6 .4-6.1 .4-1.9 .4,0 .4,4.4 .4,.4 .4-8.5 .4,1.2 .4,2.3 .4-5.6 .4,4.8 .4,.3 .4,4.1 .4,1.3 .4-4 .4,3.2 .4-10.3 .4,5.8 .4-.3 .4,3.4 .4-1.8 .4,4.3 .4-4.8 .4,.6 .4-3.8 .4,7.9 .4-7.3 .4,8.3 .4-4.5 .4,5.3 .4-2.9 .4-6.5 .4,2.9 .4-1.1 .4-.2 .4,2.4 .3,.2 .5-2.2 .4-.3 .4,4.1 .4-2.5 .4-.3 .4,6.6 .4-5.4 .4-1.6 .4,2.3 .4,1.2 .4,0 .4-1.9 .4-4.1 .4,4.2 .4,5 .4-5.5 .4,0 .4-3.1 .4,1.3 .4,1 .4-2 .4,4.4 .4-3.3 .4-2.1 .4,.3 .4,2.9 .4-7.2 .4,12.3 .4-2 .4-2 .4-3.2 .4,0 .4,1.2 .4,6.1 .4-3.3 .4,2.5 .4-.6 .4-6.3 .4-1.7 .4,4 .4-2.9 .4,4.7 .4-1.3 .4,.5 .4-1.4 .4-1.6 .4,4.2 .4-4.1 .4,3.2 .4-4.8 .4,1.5 .4,.9 .4,4.8 .4,1.7 .4-4 .4,2.3 .4-2.3 .4,4 .4-8.9 .4,3.7 .4,2 .4,1.9 .4-5 .4-1 .4,2.3 .4-1.9 .4-1.5 .4-.4 .4,2.1 .4,4 .4-.8 .4-.5 .4,.6 .4-2.8 .4,5 .4-6.8 .4,1.4 .4,1.8 .4-5.4 .4,5.6 .4,4.6 .4-4.7 .4,2.3 .4-4.3 .4,1.6 .4-2.2 .4,.8 .4-4.5 .4,9.5 .4-.1 .4-2.3 .4,.2 .4-.4 .4,.9 .4,.9 .4,1 .4-4 .4,.4 .4,3.1 .4-2.2 .4,1.5 .4-.9 .4,.9 .4-3.7 .4,.8 .4,0 .4,.4 .4,3.6 .4-3 .4,1.6 .4-.3 .4,.9 .4,4 .4-6.6 .4-2.3 .4,.3 .4,1.9 .5,3.1 .3-4.7 .4,2.5 .4-1.3 .4-2.9 .4-.5 .4,.6 .4,2.4 .4,2.3 .4-2.6 .4,8.4 .4-7.8 .4-.4 .4-1.9 .4,3.1 .4,.9 .4,1.4 .4-1.9 .4-.4 .4-.3 .4,3.3 .4-5.7 .4-.9 .4,.2 .4,1.5 .4,5 .4-2 .4,1.1 .4-.3 .4-2.3 .4,4.4 .4-7 .4,2.9 .4-.9 .4-1.6 .4,1.5 .4,1.8 .4,.6 .4,2.3 .4-6.8 .4,1.8 .4,3.2 .4-1.9 .4,2.3 .4-6.8 .4,6 .4-1.8 .4,.4 .4,2 .4-2.9 .4-3.1 .4,2.4 .4-1.7 .4,8.7 .4-10.7 .4,6.3 .4-4.8 .4,5.1 .4-3.5 .4-2.5 .4,3.1 .4,3.6 .4,2.3 .4,.6 .4,1 .4-5.4 .4,1 .4-.8 .4-.8 .4-1.8 .4,1.2 .4,1 .4-3.2 .4,1 .4-.8 .4,3.3 .4-.7 .4,.8 .4-.2 .4,1.1 .4-5.4 .4,2.2 .4,1.4 .4,5.1 .4-9.5 .4,4 .4-4.5 .4,8.2 .4-4.6 .4,1.3 .4,.3 .4-.2 .4,1.7 .4,.8 .4,.2 .4-6.8 .4,.2 .4,3.8 .4,.1 .4,1.4 .4-4.6 .4,2.4 .4-1.2 .4,2.7 .4-2.5 .4,6.5 .4-4.7 .4-1.2 .4,1.3 .4,3.2 .4-5.1 .4-1.9 .4,4.2 .4-.3 .4-1.7 .4,2.6 .4,1.1 .4-2.4 .4,6.5 .4-8.7 .4,1.2 .4-3.7 .4,8.8 .4-1.9 .4-.3 .4-4.8 .4,8.2 .4,.8 .4-6.7 .4-4.9 .4,6.4 .4-4.3 .4,2.1 .4,4.4 .4-4.7 .4,3.1 .4-.7 .4,.8 .4-.2 .4-1.8 .4-.8 .4,.2 .4-4.5 .4,7.3 .4-4.6 .4,.5 .4-2.2 .4,3.2 .4-1.9 .4,3.5 .4-3.1 .4,3.4 .4-2 .4,1.2 .4-4.1 .4,3.9 .4-4.3 .4,3.9 .4-5.2 .4,5 .4,0 .4,2.1 .4-1.7 .4,1.4 .4-.1 .4-4.1 .4,1.1 .4-6 .4,9.3 .4,2.1 .4-8 .4,3.5 .4,.1 .4-2.3 .4,.5 .4,4.6 .4-3.9 .4,2.1 .4-2.7 .4-.4 .4,5.6 .4-6.4 .4,3 .4,.7 .4-1 .4,7.5 .4-9.4 .4,2.5 .4-3.5 .4,3.5 .4-7 .4,3.5 .4-.5 .4,5.1 .4-3.2 .4,4.8 .4-11.5 .4,8.4 .4-3.1 .4,1.9 .4,3 .4-1.5 .4,.5 .4-3.4 .4,.5 .4,2.9 .4-3.8 .4,2.2 .4,1.7 .4-.4 .4-3.2 .4,2.2 .4-1.4 .4-.7 .4,3.9 .4-1.6 .4,1.9 .4,3.2 .4-5.2 .4,4.1 .4-3.8 .4-1.3 .4,3.2 .4-2.1 .4-1.2 .4,3.5 .4-3.8 .4,1.8 .4,1.5 .4-4.1 .4,1.4 .4-.9 .4-2.9 .4,3.4 .4-2.7 .4-1.3 .4,4.6 .4-1.6 .4,1.3 .4-.2 .4,2.8 .4,1.3 .4-1.7 .4-1.6 .4,1 .4-6.3 .4,6.2 .4-.5 .4-.4 .4-2.4 .4,3.3 .4,1.7 .4-6.9 .4,4 .4-3.7 .4-2.4 .4,5 .4,.9 .4-.3 .4-.7 .4,1.3 .4,1.1 .4-5.5 .4-.6 .4,3.8 .4,2.7 .4,.6 .4-5.5 .4,.2 .4,6.1 .4-1.6 .4-2.1 .4-1 .4,.5 .4-2.4 .4,10 .4-9.3 .4-1.5 .4,2.2 .4,3.2 .4-3.6 .4-4.1 .4,7.3 .4-3.5 .4,3.2 .4-4.6 .4,2.7 .4,3 .4-2.1 .4,1.3 .4-4.1 .4,2 .4-1.1 .4-2.3 .4,4.7 .4-2.3 .4-5.3 .4,.6 .4,6.4 .4-2 .4-3 .4,3.9 .4-3.6 .4,.4 .4,2.1 .4,.7 .4,3.4 .4-1.3 .4-3.7 .4-2.9 .4,3 .4-1 .4,5 .4-2.8 .4-4.6 .4-1.2 .4,5.7 .4,.9 .4-3.8 .4-3.9 .4,2 .4,1.3 .4-2.1 .4-2.2 .4,.3 .4,6.7 .4-7.3 .4,5.4 .4-5.5 .4-1.9 .4,2 .4,5.1 .4,2.6 .4-6.8 .4-4.2 .4,12.2 .4-3.9 .4,1.8 .4-8.1 .4,6.1 .4-5.7 .4,7.3 .4-5.3 .4-1.4 .4-1.3 .4,6.3 .4-5.9 .4-.6 .4,2.2 .4,0 .4-2.1 .4,7.7 .4-1.6 .4-.3 .4-9.7 .4,.6 .4,.5 .4,4.5 .4,.1 .4,3.4 .4-4.3 .4,7.7 .4-7.5 .4,5.2 .4-7.1 .4-2.1 .4,4.6 .4,.7 .4-1.1 .4,1.3 .4,.4 .4-1.8 .4-1.7 .4,4.8 .4-5.6 .4,1.1 .4-.4 .4-4.8 .4,5.4 .4-3.2 .4,1.8 .4-.2 .4,1.8 .4,3.7 .4-1.6 .4-2.4 .4,3.1 .4-8.7 .4,7.1 .4,2.4 .4-8.6 .4,6.9 .4-6.8 .4,1.6 .4,1.4 .4-.2 .4-.8 .4-4.5 .4,3.1 .4,4 .4-2.6 .4,.9 .4-7.5 .4,3.8 .2,7.7 .6-.3 .4-5.2 .4-4.7 .4,3.8 .4,4.6 .4-4.1 .4,2.6 .4-7.4 .4,5.5 .4,.8 .4-3.8 .4-.7 .4,6.6 .4-5.1 .4-.4 .4-.3 .4,1.1 .4-4.4 .4,2.6 .4,6.9 .4-6.6 .4,4.2 .4-2.1 .4-1.3 .4,2.7 .4,.2 .4,0 .4-4.4 .4,1.9 .4,2.5 .4-4 .4,8.7 .4-12.4 .4,1.9 .4,.1 .4,5.4 .4-3.1 .4,4.7 .4-4.2 .4-.7 .4,.2 .4,2.8 .4,4.3 .4-5.7 .4,2.2 .4-3.1 .4,1.2 .4,3.1 .4,.8 .4-5.1 .4,.8 .4,6.9 .4-9.2 .4,6.3 .4-4.2 .4,5 .4,3.6 .4-7.8 .4,4.2 .4-5.1 .4,5.2 .4,.1 .4-1.1 .4,2.1 .4-1.3 .4,.7 .4-1.4 .4-8.3 .4,4 .4,5.6 .4,.8 .4-1.2 .4,4.4 .4-5 .4-.8 .4,.4 .4,5.3 .4-1.2 .4,4.7 .4-3.9 .4,1.9 .4-6.8 .4,6.7 .4-5.2 .4,2.2 .4-.4 .4,.5 .4-.8 .4-.3 .4-1.8 .4,2.7 .4,4.1 .4-1.4 .4-4.6 .4,7.8 .4-5.8 .4-4.3 .4,1.7 .4-2.9 .4,8.8 .4-2 .4-1.3 .4,2 .4-.3 .4,5.2 .4-7.7 .4,2.8 .4-.5 .4,5.3 .4-7.6 .4,4 .4,1.2 .4-3.8 .4,2 .4-1.3 .4,6 .4-6.2 .4,6 .4-4.5 .4-3 .4,4.4 .4-3.6 .4,.3 .4,5.4 .4-.2 .4,3.8 .4-5.6 .4-.5 .4-1.1 .4,5.1 .4-4.5 .4,1.3 .4,1.1 .4-5.9 .4,5 .4,1.2 .4,1 .4-3.7 .4,3.7 .4-8.6 .4,5.6 .4,2.8 .4,1.9 .4,2.3 .4-2.6 .4-2.2 .4,3.5 .4,1.8 .4-3.8 .4,1.9 .4,.8 .4-6.5 .4,2.3 .4,1.4 .4-3.4 .4,2.6 .4,4.8 .4-3.2 .4-.8 .4-.6 .4,2.2 .4-1.3 .4-2.5 .4,4.2 .4-5 .4,1.3 .4,6.2 .4-3.3 .4,2 .4-2.2 .4-3.4 .4,4.1 .4-4.9 .4,11.8 .4-10.7 .4,5.6 .4-1.9 .4-4.6 .4,7.8 .4-3 .4-1.8 .4-4.1 .4,6 .4,6.1 .4-1.1 .4-7.9 .4,7.5 .4-2.5 .4,.7 .4,2 .4-6.4 .4,1.6 .4,7 .4-5.9 .4,.3 .4-2.7 .4,3.4 .4,2.7 .4,2.8 .4-2.8 .4-2 .4-.6 .4,3.4 .4-2.5 .4-.6 .4-4.4 .4,3.3 .4,1.6 .4,.1 .4,.4 .4,3.5 .4-9 .4,7.1 .4-1.2 .4-4.4 .4,5.7 .4-.9 .4-4.6 .4,5.1 .4,1 .4-1.9 .4,2.5 .4-3.3 .4,2.2 .4-.3 .4,1.5 .4-4.5 .4,9.7 .4-10.5 .4,8 .4-3.6 .4-.1 .4,2.8 .4-5 .4-1.8 .4,6.9 .4,2.5 .4,1.7 .4-5.3 .4-8.7 .4,8.4 .4,1 .4-1.4 .4,1 .4,.8 .4-.9 .4-2.2 .4-3.3 .4,2 .4,3.6 .4,1.5 .4,.6 .4-2.6 .4-3.9 .4,4.4 .4-4.7 .4,4.7 .4-4.4 .4,4.9 .4-.2 .4-3.5 .4,3 .4,.2 .4-2.4 .4,1.4 .4-.6 .4-4.5 .4,3.4 .4,8 .4-5.3 .4-6.3 .4,6.1 .4,.5 .4-1 .4,1.4 .4,1.1 .4,2.6 .4-1.6 .4-2.8 .4-5.9 .4,.1 .4,6.8 .4-1.3 .4-.8 .4,3.9 .4-7 .4-.1 .4,1.2 .4,2.6 .4-3.4 .4,3 .4-.9 .4,.4 .4-.2 .4-3.5 .4,6 .4,.8 .4-7.5 .4,3.4 .4,2.8 .4-.6 .4-4.9 .4,4.3 .4-2 .4,5.6 .4-1.5 .4,2.1 .4-6.1 .4,3.8 .4-3.6 .4,3.7 .4-2.2 .4-2.4 .4,1 .4,1.3 .4,2.8 .4-6 .4,10.6 .4-5.6 .4-.6 .4,.4 .4-2 .4,.9 .4,4 .4-7.6 .4,4.9 .4,1.7 .4,.9 .4-8 .4,5.5 .4-5.9 .4,3.5 .4,1.8 .4-.2 .4-.9 .4,2.5 .4,.8 .4-1.8 .4-2.8 .4,1.2 .4,2 .4,.9 .4-1.5 .4-3.8 .4,2.1 .4,2 .4-4.4 .4,3.1 .4-.5 .4,3.6 .4,2.3 .4-7.4 .4,6.7 .4,.5 .4-5.6 .4,.8 .4-1.1 .4-.4 .4-2.1 .4-3.3 .4,7.8 .4,4.1 .4-7.7 .4,4.8 .4-3.4 .4,2.2 .4-1 .4,2 .4,.1 .4,.3 .4,.5 .4,1.4 .4-7.9 .4,2.7 .4,4.7 .4-5.6 .4,5.3 .4-2.4 .4,2.8 .4-2.5 .4-.9 .4,.4 .4-4.7 .4,5.9 .4-1 .4,2.5 .4-1.4 .4-4.1 .4,2.7 .4,1.4 .4-1.2 .4,2.4 .4-2.4 .4,.3 .4-4.5 .4,6.1 .4,1.2 .4-4.9 .4-1 .4,1.9 .4,5.9 .4-.1 .4-4.6 .4-3.1 .4,.8 .4-1.5 .4,.8 .4,4.1 .4-.8 .4-2 .4,2.4 .4,.2 .4,3.5 .4-6.9 .4,6.7 .4-1.4 .4-4.9 .4,3.4 .4-2.9 .4,4.6 .4-2.1 .4-2.3 .4,4.4 .4-2.5 .4-3 .4,2.1 .4,3 .4-2.1 .4-2.2 .4,1 .4,2.5 .4,2 .4-5.4 .4,3 .4,.6 .4,.8 .4,1.1 .4-6.8 .4,2.7 .4,.8 .4,1 .4,.9 .4-.4 .4-4.5 .4-.9 .4,3.1 .4,1.6 .4-5.6 .4,3.1 .4,1.6 .4-.5 .4,2.5 .4-5.4 .4,3.6 .4-1.4 .4,6 .4-10.1 .4,7.7 .4-7.4 .4,5.6 .4-.9 .4-3.8 .4,1.1 .4,2.8 .4,1.9 .4-1.6 .4-4.2 .4,2.1 .4,5.6 .4-4.9 .4-5.3 .4,3.6 .4-1.7 .4,.3 .4,6.7 .4-4.8 .4,.1 .4,1.8 .4-1.2 .4-.6 .4-5 .4,4.3 .4,3.7 .4-.2 .4-2.8 .4-1.8 .4,.8 .4,3.8 .4-2.7 .4,1 .4,2.8 .4-5.9 .4,1.2 .4,.1 .4,6.1 .4-4.9 .4,.1 .4-3.3 .4,6.3 .4-1.6 .4-.1 .4-.9 .4-4.4 .4,6 .4,2 .4-4.3 .4,1.5 .4,1.5 .4-3.7 .4,2.2 .4,3.5 .4-7.1 .4,8.5 .4-2.4 .4-6.7 .4,.3 .4,4.9 .4-.7 .4-2.5 .4,5.7 .4-.8 .4-.3 .4-7.1 .4,3.5 .4,6.9 .4-9.8 .4,4.7 .4,.8 .4,.7 .4-3.4 .4-3.4 .4,3.3 .4,4.2 .4-.6 .4-3.7 .4,3 .4,2.1 .4-5.7 .4-.1 .4,1.7 .4,.9 .4,4.6 .4-4 .4-1.6 .4,4.2 .4-5.1 .4-1.3 .4,2.8 .4-3.1 .4-3.5 .4,7.4 .4-3.8 .4,.3 .4,2.9 .4,3 .4-3.1 .4-1.1 .4-3 .4,2.5 .4,1.7 .4,2.4 .4,0 .4-.3 .4-3.3 .4-1.5 .4-.2 .4,3.6 .4-4.4 .4,2.8 .4,2.5 .4-.9 .4-.9 .4-4.4 .4,5.4 .4,.1 .4,.7 .4-2.6 .4-.3 .4-2.1 .4-.7 .4,4.1 .4-.3 .4-.9 .4-1.4 .4,6.4 .4-7.7 .4,5.1 .4-2.6 .4,1.4 .4-.1 .4-2.2 .4,4.2 .4-2 .4,.2 .4-.4 .4-2.2 .4,9.2 .4-8 .4-.4 .4,7.9 .4-9.4 .4,4.8 .4,4.5 .4-4.5 .4-.7 .4-.1 .4-5.2 .4,6.4 .4,1 .4-2.9 .4-2.6 .4,3.9 .4,2.2 .4-3.1 .4-2.7 .4,2.8 .4-2.8 .4-2.6 .4,6.2 .4-3.7 .4-5 .4,8 .4-1 .4,.5 .4,1.8 .4-3.2 .4,1.7 .4,.6 .4,.9 .4-4.6 .4,.5 .4,4.7 .4,2.3 .4-4.3 .4-.1 .4-5.3 .4,8.1 .4-2.6 .4-2.6 .4,3.4 .4-2.9 .4,.7 .4,.7 .4,1.5 .4,3.7 .4-4.9 .4-2.7 .4,3.2 .4-2.6 .4-1 .4-.1 .4,1.3 .4-4.4 .4,6.2 .4-2.2 .4,4.6 .4-6.2 .4,2.7 .4-2.7 .4,3.1 .4-.8 .4,3.3 .4-1.4 .4,.4 .4-3.3 .4,1.6 .4-1.7 .4,.2 .4-.6 .4,1.1 .4,.8 .4-3.9 .4,5.3 .4-1.7 .4,.6 .4,4.5 .4,4.6 .4-14 .4,3.5 .4,1 .4-1.8 .4,3.4 .4-1 .4,1 .4,.5 .4,.8 .4-.9 .4-.5 .4-1.9 .4,2.1 .4,1.5 .4-3 .4,.9 .4,.3 .4,.2 .4-4.6 .4,4 .4,.5 .4-4.5 .4,3.9 .4,.5 .4-5.2 .4,10 .4-4.3 .4,2.4 .4-4 .4,1.2 .4-3.1 .4,1.8 .4,.3 .4,2 .4,2.6 .4-8.8 .4,4.1 .4,3.8 .4-3.8 .4-3 .4,7.5 .4,.6 .4-2.1 .4-1.6 .4-.5 .4-1 .4,2.8 .4,.7 .4-5.9 .4,6.7 .4-4.5 .4,1.8 .4-1.1 .4,1.4 .4-.6 .4,3.8 .4-5.5 .4,2.4 .4,1.7 .4,.7 .4-9.9 .4,10.6 .4-1.1 .4-.8 .4-3.8 .4-3.5 .4,5.3 .4,.8 .4-5.6 .4,3.9 .4-.1 .4,.5 .4,3.8 .4-8.3 .4,4 .4-1.2 .4,4.1 .4,2 .4,.3 .4-5 .4,6.9 .4-5.4 .4,5.7 .4-9.7 .4,.6 .4,2.1 .4-.8 .4-4.2 .4,5.7 .4-6.3 .4,4.1 .4,2.9 .4-4.6 .4,3.4 .4-1 .4-.4 .4,3.4 .4-4.6 .4,5.6 .4-6.6 .4,5.1 .4-3 .4,1.9 .4-2.9 .4,1.5 .4,.3 .4,.8 .4-.2 .4,5.1 .4-4.2 .4-4.1 .4,6.6 .4-.7 .4-6.7 .4,8.9 .4-4.4 .4,.6 .4-1.7 .4,.3 .4,.7 .4,1 .4,2.8 .4-1.6 .4-.7 .4-1.5 .4-2.7 .4,1.3 .4,4 .4-1.3 .4-3 .4,1.8 .4,4.4 .4-2.6 .4-.4 .4,2.5 .4-3.4 .4-3.7 .4,2.9 .4-.3 .4,2.6 .4-2.5 .4-.1 .4,.7 .4-1.8 .4-.7 .4-1.6 .4,5.7 .4-1.4 .4-.8 .4,1.9 .4-.2 .4-7 .4,5.1 .4-4.5 .4,9.9 .4-7.5 .4,6.5 .4-5.4 .4,.5 .4-1.3 .4-2.5 .4,8.8 .4-8.1 .4,3.4 .4-.3 .4,1.2 .4,3.5 .4-8.2 .4,5.1 .4-2 .4,2.5 .4-1.1 .4-2.5 .4,6.4 .4-3.1 .4-1.1 .4,.4 .4-.7 .4,2.4 .4-.9 .4-1.3 .4-1.4 .4-3.1 .4,2.6 .4,3.4 .4-.2 .4-2.4 .4,6.2 .4-1.4 .4-4.6 .4,4.1 .4-5.5 .4,4.4 .4-1.5 .4-4.4 .4,8 .4-8.1 .4,5.8 .4-1.3 .4,3.1 .4-.2 .4-1.8 .4-9 .4,5.2 .4,10 .4-4.9 .4-4.4 .4,5.7 .4,.4 .4-3.9 .4,1.6 .4,1.2 .4,2.7 .4-7.3 .4,2.9 .4-4.7 .4,6.1 .4-3.2 .4-5.2 .4,8.5 .4,.4 .4,2.6 .4-4.4 .4-5.4 .4,.6 .4,7.6 .4-3.4 .4-3.4 .4,2.2 .4-.4 .4,4.8 .4-1 .4-5.3 .4,3.9 .4,2 .4-4.4 .4,1.1 .4-2.5 .4,4.6 .4-5.9 .4,3.2 .4,.7 .4-.7 .4,2.3 .4-1 .4,1.4 .4,1.3 .4,0 .4,4.1 .4-8.5 .4,4.8 .4-5.4 .4,.3 .4,0 .4,3.3 .4-3.2 .4,.4 .4,.6 .4,.4 .4,5.8 .4-5.6 .4-.8 .4,1 .4-2.3 .4-.2 .4,2.6 .4,1.4 .4-2.8 .4-.3 .4,4.1 .4-7.1 .4,1 .4,3.5 .4,5.5 .4-6.6 .4,5.4 .4-4.6 .4-5.5 .4,10.2 .4-2.1 .4-3.9 .4,.4 .4,6.7 .4-5.3 .4,2.8 .4-.7 .4-2.9 .4,0 .4,3.1 .4,3.5 .4-5.2 .4-4.4 .4,4.5 .4-4.3 .4,3.6 .4,1 .4-2.2 .4-.3 .4,0 .4,2.7 .4,.4 .4-1.8 .4-.8 .4-3.4 .4-1.3 .4,4.9 .4,2.9 .4-7 .4,5.5 .4,.1 .4,1.4 .4,.5 .4-2.5 .4,4.4 .4-3.9 .4-4.1 .4,2.9 .4,.8 .4,2.7 .4-2.3 .4,.2 .4-3.8 .4,2.2 .4,2.3 .4-6.2 .4,6.7 .4-.2 .4-3.2 .4,2.8 .4,1.1 .4-.2 .4,.7 .4-4.7 .4,.7 .4-1.6 .4-2.4 .4,7.1 .4-1.1 .4-4.5 .4,5.5 .4-.4 .4-2.4 .4-8.6 .4,8.8 .4-.3 .4,3.5 .4-2.6 .4-1.5 .4,3.6 .4,.4 .4,1.2 .4-1 .4-6.5 .4,3.4 .4,2.1 .4-5.5 .4,1.7 .4-.3 .4,3.8 .4-4.1"/>
</g>
<g>
<use href="#o" x="987.0" y="1240.0"/><use href="#o" x="1237.4" y="1278.0"/><use href="#o" x="1882.0" y="1252.3"/><use href="#o" x="987.0" y="1456.5"/><use href="#o" x="1237.4" y="1495.2"/><use href="#o" x="1882.0" y="1468.7"/>
<use href="#t" x="543.5" y="1087.0"/><use href="#t" x="842.2" y="1014.3"/><use href="#t" x="1005.0" y="1083.3"/><use href="#t" x="1217.9" y="1091.4"/><use href="#t" x="1345.7" y="1089.4"/><use href="#t" x="1530.0" y="1068.3"/><use href="#t" x="1692.0" y="1096.4"/><use href="#t" x="1798.2" y="1093.4"/><use href="#t" x="1850.6" y="1081.4"/><use href="#t" x="1901.8" y="1095.3"/><use href="#t" x="1952.7" y="1096.1"/>
<use href="#d" x="614.9" y="158.6"/><use href="#d" x="908.7" y="93.9"/><use href="#d" x="989.3" y="193.5"/><use href="#d" x="1159.8" y="86.2"/><use href="#d" x="1442.4" y="182.8"/><use href="#d" x="1594.4" y="82.9"/><use href="#d" x="1714.6" y="266.5"/><use href="#d" x="1870.4" y="202.6"/><use href="#d" x="1922.1" y="159.8"/><use href="#d" x="2189.4" y="245.4"/><use href="#d" x="2204.7" y="262.2"/>
<use href="#d" x="614.9" y="691.1"/><use href="#d" x="908.7" y="626.8"/><use href="#d" x="989.3" y="726.4"/><use href="#d" x="1159.8" y="619.0"/><use href="#d" x="1442.4" y="715.0"/><use href="#d" x="1594.4" y="615.4"/><use href="#d" x="1714.6" y="798.8"/><use href="#d" x="1870.4" y="734.8"/><use href="#d" x="1922.1" y="691.9"/><use href="#d" x="2189.4" y="777.9"/><use href="#d" x="2204.7" y="794.6"/>
<use href="#d" x="614.9" y="1025.1"/><use href="#d" x="908.7" y="992.3"/><use href="#d" x="989.3" y="1041.8"/><use href="#d" x="1159.8" y="988.1"/><use href="#d" x="1442.4" y="1036.8"/><use href="#d" x="1594.4" y="986.7"/><use href="#d" x="1714.6" y="1078.6"/><use href="#d" x="1870.4" y="1046.3"/><use href="#d" x="1922.1" y="1025.1"/><use href="#d" x="2189.4" y="1068.3"/><use href="#d" x="2204.7" y="1075.8"/>
<use href="#d" x="614.9" y="1271.0"/><use href="#d" x="908.7" y="1254.3"/><use href="#d" x="989.3" y="1279.3"/><use href="#d" x="1159.8" y="1252.3"/><use href="#d" x="1442.4" y="1276.5"/><use href="#d" x="1594.4" y="1251.5"/><use href="#d" x="1714.6" y="1298.0"/><use href="#d" x="1870.4" y="1282.1"/><use href="#d" x="1922.1" y="1271.0"/><use href="#d" x="2189.4" y="1292.7"/><use href="#d" x="2204.7" y="1296.9"/>
</g>
<g class="tk">
<text transform="translate(138.5,1722) scale(1,1.02)">10</text><text transform="translate(446.3,1722) scale(1,1.02)">20</text><text transform="translate(754.1,1722) scale(1,1.02)">30</text><text transform="translate(1061.9,1722) scale(1,1.02)">40</text><text transform="translate(1369.7,1722) scale(1,1.02)">50</text><text transform="translate(1677.5,1722) scale(1,1.02)">60</text><text transform="translate(1985.3,1722) scale(1,1.02)">70</text><text transform="translate(2293.1,1722) scale(1,1.02)">80</text>
</g>
<g class="ser">
<text transform="translate(147.2,462.3) scale(1,1.033)">Ref-1100-6</text>
<text transform="translate(147.2,862.5) scale(1,1.033)">Mn-800-12</text>
<text transform="translate(147.2,1126.7) scale(1,1.033)">Mn-800-12*</text>
<text transform="translate(147.2,1325.2) scale(1,1.033)">Ref-1050-6</text>
<text transform="translate(147.2,1468.2) scale(1,1.033)">Ref-800-12 (x2)</text>
</g>
<g class="ax">
<text transform="translate(1115.8,1860) scale(1.03,1.04)">2</text><text transform="translate(1177.2,1860.3) scale(1.115,0.967)" style="font-family:'Liberation Serif','DejaVu Serif',serif;font-size:84px;stroke-width:0.3px">θ</text><text x="1243" y="1860">/</text><text x="1284" y="1857">°</text>
<text transform="translate(72,1053) rotate(-90)" textLength="457.8" lengthAdjust="spacing">intensity / a.u.</text>
</g>
</svg>
</body></html>
